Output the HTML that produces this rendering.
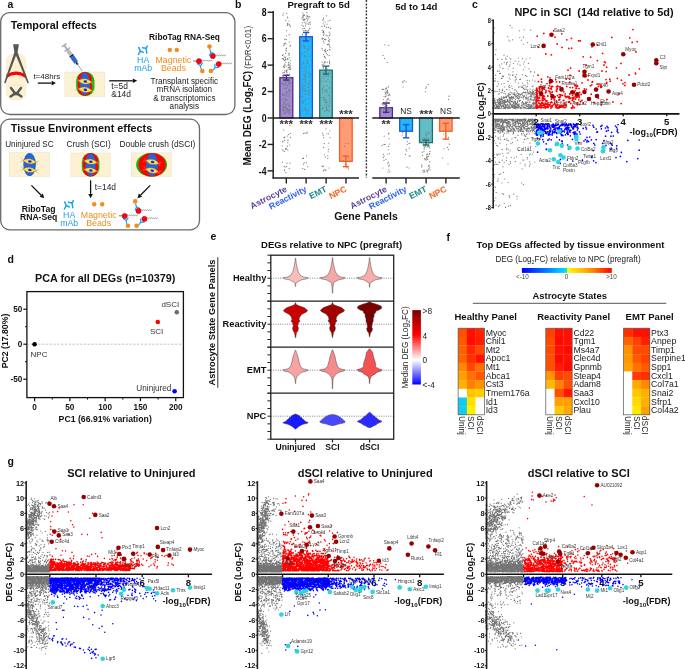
<!DOCTYPE html>
<html><head><meta charset="utf-8"><style>
html,body{margin:0;padding:0;background:#fff;}
svg{display:block;font-family:"Liberation Sans",sans-serif;will-change:transform;}
</style></head><body>
<svg width="685" height="669" viewBox="0 0 685 669">
<rect width="685" height="669" fill="#fff"/>
<text x="7.50" y="7.60" font-size="10.5" font-weight="bold" text-anchor="start" fill="#111">a</text>
<text x="235.00" y="8.00" font-size="10.5" font-weight="bold" text-anchor="start" fill="#111">b</text>
<text x="472.00" y="8.00" font-size="10.5" font-weight="bold" text-anchor="start" fill="#111">c</text>
<text x="7.50" y="262.50" font-size="10.5" font-weight="bold" text-anchor="start" fill="#111">d</text>
<text x="210.50" y="240.00" font-size="10.5" font-weight="bold" text-anchor="start" fill="#111">e</text>
<text x="446.50" y="240.50" font-size="10.5" font-weight="bold" text-anchor="start" fill="#111">f</text>
<text x="7.50" y="465.00" font-size="10.5" font-weight="bold" text-anchor="start" fill="#111">g</text>
<rect x="0.70" y="12.60" width="234.20" height="101.90" rx="9" fill="none" stroke="#6a6a6a" stroke-width="1.3"/>
<rect x="0.70" y="119.20" width="198.80" height="110.60" rx="9" fill="none" stroke="#6a6a6a" stroke-width="1.3"/>
<text x="10.80" y="28.70" font-size="10.85" font-weight="bold" text-anchor="start" fill="#111">Temporal effects</text>
<text x="10.80" y="132.30" font-size="10.85" font-weight="bold" text-anchor="start" fill="#111">Tissue Environment effects</text>
<rect x="6.30" y="54.00" width="19.70" height="45.70" rx="7" fill="#fdf1d3" stroke="#f3e4c0" stroke-width="0.4"/>
<path d="M8.5 86 Q16 83.5 23.8 86" fill="none" stroke="#ead9b5" stroke-width="0.5"/>
<g fill="none" stroke="#555" stroke-width="2.4" stroke-linecap="round"><path d="M11.0 88.0 L15.0 93.2 M21.0 88.0 L17.0 93.2 M10.6 96.6 L14.6 93.8 M21.4 96.6 L17.4 93.8"/></g>
<path d="M13.6 92.0 L18.4 92.0 L18.2 95.2 L13.8 95.2 Z" fill="#555" stroke="none" stroke-width="1"/>
<path d="M6.4 78.3 Q16 71.4 25.9 78.3 L25.9 74.6 Q16 68.2 6.4 74.6 Z" fill="#ff0000" stroke="none" stroke-width="1"/>
<path d="M13.1 44.2 L18.9 44.2 L17.6 52.4 L28.9 82.8 L27.6 83.4 L16.0 55.4 L5.4 83.4 L4.1 82.8 L14.4 52.4 Z" fill="#555555" stroke="none" stroke-width="1"/>
<text x="33.40" y="78.80" font-size="8.0" text-anchor="start" fill="#222">t=48hrs</text>
<line x1="37.80" y1="83.10" x2="51.70" y2="83.10" stroke="#111" stroke-width="1.3"/>
<polygon points="55.90,83.10 51.70,85.40 51.70,80.80" fill="#111"/>
<rect x="64.90" y="72.10" width="39.90" height="24.20" rx="0" fill="#fdf1d3" stroke="#eadfc4" stroke-width="0.5"/>
<rect x="76.10" y="71.80" width="18.40" height="24.30" rx="9" fill="#0bbd0b" stroke="none" stroke-width="1"/>
<rect x="77.70" y="72.10" width="14.20" height="23.80" rx="7.1" fill="#ff0000" stroke="none" stroke-width="1"/>
<ellipse cx="84.9" cy="83.9" rx="5.2" ry="11.3" fill="#2166d6"/>
<g transform="translate(85.10 81.40) rotate(8) scale(1.0)"><path d="M-9.4 -2.4 L-6.4 -0.2 M-9.6 1.8 L-6.4 0.2 M6.4 0.2 L9.6 -1.6 M6.4 0 L9.2 2.4" fill="none" stroke="#b8a860" stroke-width="0.55"/><path d="M-7 0 Q0 -5.4 7 0 Q0 5.4 -7 0 Z" fill="#f4e24c" stroke="#e8401a" stroke-width="0.6" stroke-dasharray="0.9 0.6"/><ellipse cx="0.3" cy="0.1" rx="1.9" ry="1.3" fill="#1a2ae0"/></g>
<g transform="translate(85.10 89.70) rotate(8) scale(1.0)"><path d="M-9.4 -2.4 L-6.4 -0.2 M-9.6 1.8 L-6.4 0.2 M6.4 0.2 L9.6 -1.6 M6.4 0 L9.2 2.4" fill="none" stroke="#b8a860" stroke-width="0.55"/><path d="M-7 0 Q0 -5.4 7 0 Q0 5.4 -7 0 Z" fill="#f4e24c" stroke="#e8401a" stroke-width="0.6" stroke-dasharray="0.9 0.6"/><ellipse cx="0.3" cy="0.1" rx="1.9" ry="1.3" fill="#1a2ae0"/></g>
<g transform="translate(82.2 71.0) rotate(-35)"><rect x="-0.3" y="-8" width="0.6" height="8" fill="#888"/><rect x="-0.9" y="-11" width="1.8" height="3.2" fill="#333"/><rect x="-2" y="-18.6" width="4" height="8" fill="#2a6ad8" stroke="#1a3a80" stroke-width="0.3"/><rect x="-2.1" y="-19.6" width="4.2" height="1.4" fill="#222"/><rect x="-2" y="-26" width="4" height="6.6" fill="#bcbcbc"/><rect x="-3.4" y="-26.8" width="6.8" height="1.2" fill="#aaa"/><rect x="-0.9" y="-31" width="1.8" height="4.4" fill="#aaa"/><rect x="-2.8" y="-32.2" width="5.6" height="1.4" fill="#aaa"/></g>
<line x1="109.20" y1="80.80" x2="132.80" y2="80.80" stroke="#111" stroke-width="1.3"/>
<polygon points="137.20,80.80 132.80,83.10 132.80,78.50" fill="#111"/>
<text x="111.30" y="89.40" font-size="8.4" text-anchor="start" fill="#222">t=5d</text>
<text x="111.30" y="97.20" font-size="8.4" text-anchor="start" fill="#222">&amp;14d</text>
<text x="184.50" y="40.30" font-size="8.3" font-weight="bold" text-anchor="middle" fill="#111">RiboTag RNA-Seq</text>
<g transform="translate(137.60 46.00)" fill="none" stroke="#1ba0f2" stroke-width="1.5" stroke-linecap="round" stroke-linejoin="round"><path d="M1.1 1.4L2.7 5.05L0.8 8.4M2.7 5.05L5.7 6.4"/><path d="M9.8 0.1L8.4 2.3L9.2 7.1M8.4 2.3L4.9 1.7"/></g>
<text x="143.20" y="63.40" font-size="8.8" text-anchor="middle" fill="#1ba0f2">HA</text>
<text x="143.20" y="71.40" font-size="8.8" text-anchor="middle" fill="#1ba0f2">mAb</text>
<circle cx="169.80" cy="49.90" r="2.2" fill="#f28c1c" stroke="none" stroke-width="0"/>
<circle cx="176.80" cy="49.90" r="2.2" fill="#f28c1c" stroke="none" stroke-width="0"/>
<text x="173.40" y="63.40" font-size="8.8" text-anchor="middle" fill="#f28c1c">Magnetic</text>
<text x="173.40" y="71.40" font-size="8.8" text-anchor="middle" fill="#f28c1c">Beads</text>
<g transform="translate(209.50 46.60)">
<line x1="-16.40" y1="14.40" x2="-12.60" y2="14.40" stroke="#222" stroke-width="0.6"/>
<path d="M-8.2 14.0 q0.5 -0.6 1 0 q0.5 0.6 1 0 q0.5 -0.6 1 0 q0.5 0.6 1 0 q0.5 -0.6 1 0 q0.5 0.6 1 0 q0.5 -0.6 1 0 q0.5 0.6 1 0 q0.5 -0.6 1 0 q0.5 0.6 1 0 q0.5 -0.6 1 0" fill="none" stroke="#555" stroke-width="0.6"/>
<path d="M5.6 8.8 q0.5 -0.6 1 0 q0.5 0.6 1 0 q0.5 -0.6 1 0 q0.5 0.6 1 0 q0.5 -0.6 1 0 q0.5 0.6 1 0 q0.5 -0.6 1 0 q0.5 0.6 1 0 q0.5 -0.6 1 0 q0.5 0.6 1 0 q0.5 -0.6 1 0" fill="none" stroke="#555" stroke-width="0.6"/>
<path d="M11.6 16.8 q0.5 -0.6 1 0 q0.5 0.6 1 0 q0.5 -0.6 1 0 q0.5 0.6 1 0 q0.5 -0.6 1 0 q0.5 0.6 1 0 q0.5 -0.6 1 0 q0.5 0.6 1 0 q0.5 -0.6 1 0 q0.5 0.6 1 0 q0.5 -0.6 1 0" fill="none" stroke="#555" stroke-width="0.6"/>
<g transform="translate(1.40 5.60) rotate(160) scale(0.9)"><path d="M0 3.2V0L-2.6 -2.6M0 0L2.6 -2.6" fill="none" stroke="#1ba0f2" stroke-width="1.3" stroke-linecap="round" stroke-linejoin="round"/></g>
<g transform="translate(-9.00 19.20) rotate(-10) scale(0.9)"><path d="M0 3.2V0L-2.6 -2.6M0 0L2.6 -2.6" fill="none" stroke="#1ba0f2" stroke-width="1.3" stroke-linecap="round" stroke-linejoin="round"/></g>
<g transform="translate(5.60 21.00) rotate(40) scale(0.9)"><path d="M0 3.2V0L-2.6 -2.6M0 0L2.6 -2.6" fill="none" stroke="#1ba0f2" stroke-width="1.3" stroke-linecap="round" stroke-linejoin="round"/></g>
<circle cx="0.00" cy="0.00" r="2.3" fill="#f28c1c" stroke="none" stroke-width="0"/>
<circle cx="-7.20" cy="24.40" r="2.3" fill="#f28c1c" stroke="none" stroke-width="0"/>
<circle cx="1.40" cy="24.40" r="2.3" fill="#f28c1c" stroke="none" stroke-width="0"/>
<circle cx="3.30" cy="9.50" r="2.6" fill="#ff0010" stroke="#b00010" stroke-width="0.5"/>
<circle cx="-10.50" cy="14.60" r="2.6" fill="#ff0010" stroke="#b00010" stroke-width="0.5"/>
<circle cx="9.20" cy="17.50" r="2.6" fill="#ff0010" stroke="#b00010" stroke-width="0.5"/>
</g>
<text x="184.30" y="84.20" font-size="8.15" text-anchor="middle" fill="#222">Transplant specific</text>
<text x="184.30" y="92.40" font-size="8.15" text-anchor="middle" fill="#222">mRNA isolation</text>
<text x="184.30" y="100.60" font-size="8.15" text-anchor="middle" fill="#222">&amp; transcriptomics</text>
<text x="184.30" y="108.80" font-size="8.15" text-anchor="middle" fill="#222">analysis</text>
<text x="29.35" y="146.60" font-size="8.15" text-anchor="middle" fill="#222">Uninjured SC</text>
<text x="88.60" y="146.80" font-size="8.4" text-anchor="middle" fill="#222">Crush (SCI)</text>
<text x="157.40" y="146.80" font-size="8.4" text-anchor="middle" fill="#222">Double crush (dSCI)</text>
<rect x="9.30" y="152.50" width="40.00" height="23.90" rx="0" fill="#fdf1d3" stroke="#eadfc4" stroke-width="0.5"/>
<ellipse cx="29.6" cy="164.5" rx="6.3" ry="11.6" fill="#2166d6"/>
<g transform="translate(29.60 161.30) rotate(8) scale(0.95)"><path d="M-9.4 -2.4 L-6.4 -0.2 M-9.6 1.8 L-6.4 0.2 M6.4 0.2 L9.6 -1.6 M6.4 0 L9.2 2.4" fill="none" stroke="#b8a860" stroke-width="0.55"/><path d="M-7 0 Q0 -5.4 7 0 Q0 5.4 -7 0 Z" fill="#f4e24c" stroke="#e8401a" stroke-width="0.6" stroke-dasharray="0.9 0.6"/><ellipse cx="0.3" cy="0.1" rx="1.9" ry="1.3" fill="#1a2ae0"/></g>
<g transform="translate(29.60 169.90) rotate(8) scale(0.95)"><path d="M-9.4 -2.4 L-6.4 -0.2 M-9.6 1.8 L-6.4 0.2 M6.4 0.2 L9.6 -1.6 M6.4 0 L9.2 2.4" fill="none" stroke="#b8a860" stroke-width="0.55"/><path d="M-7 0 Q0 -5.4 7 0 Q0 5.4 -7 0 Z" fill="#f4e24c" stroke="#e8401a" stroke-width="0.6" stroke-dasharray="0.9 0.6"/><ellipse cx="0.3" cy="0.1" rx="1.9" ry="1.3" fill="#1a2ae0"/></g>
<rect x="70.90" y="153.00" width="39.40" height="23.70" rx="0" fill="#fdf1d3" stroke="#eadfc4" stroke-width="0.5"/>
<rect x="81.80" y="152.90" width="17.60" height="23.80" rx="8.8" fill="#0bbd0b" stroke="none" stroke-width="1"/>
<rect x="83.00" y="153.10" width="15.20" height="23.40" rx="7.6" fill="#ff0000" stroke="none" stroke-width="1"/>
<ellipse cx="90.6" cy="164.8" rx="5.2" ry="11.4" fill="#2166d6"/>
<g transform="translate(90.60 161.70) rotate(8) scale(0.95)"><path d="M-9.4 -2.4 L-6.4 -0.2 M-9.6 1.8 L-6.4 0.2 M6.4 0.2 L9.6 -1.6 M6.4 0 L9.2 2.4" fill="none" stroke="#b8a860" stroke-width="0.55"/><path d="M-7 0 Q0 -5.4 7 0 Q0 5.4 -7 0 Z" fill="#f4e24c" stroke="#e8401a" stroke-width="0.6" stroke-dasharray="0.9 0.6"/><ellipse cx="0.3" cy="0.1" rx="1.9" ry="1.3" fill="#1a2ae0"/></g>
<g transform="translate(90.60 170.30) rotate(8) scale(0.95)"><path d="M-9.4 -2.4 L-6.4 -0.2 M-9.6 1.8 L-6.4 0.2 M6.4 0.2 L9.6 -1.6 M6.4 0 L9.2 2.4" fill="none" stroke="#b8a860" stroke-width="0.55"/><path d="M-7 0 Q0 -5.4 7 0 Q0 5.4 -7 0 Z" fill="#f4e24c" stroke="#e8401a" stroke-width="0.6" stroke-dasharray="0.9 0.6"/><ellipse cx="0.3" cy="0.1" rx="1.9" ry="1.3" fill="#1a2ae0"/></g>
<rect x="131.30" y="152.90" width="40.20" height="23.50" rx="0" fill="#fdf1d3" stroke="#eadfc4" stroke-width="0.5"/>
<ellipse cx="151.6" cy="164.8" rx="15.5" ry="11.8" fill="#0bbd0b"/>
<ellipse cx="152.0" cy="164.8" rx="13.7" ry="11.8" fill="#ff0000"/>
<ellipse cx="152.0" cy="164.8" rx="6.0" ry="11.4" fill="#2166d6"/>
<g transform="translate(152.30 161.90) rotate(13) scale(0.95)"><path d="M-9.4 -2.4 L-6.4 -0.2 M-9.6 1.8 L-6.4 0.2 M6.4 0.2 L9.6 -1.6 M6.4 0 L9.2 2.4" fill="none" stroke="#b8a860" stroke-width="0.55"/><path d="M-7 0 Q0 -5.4 7 0 Q0 5.4 -7 0 Z" fill="#f4e24c" stroke="#e8401a" stroke-width="0.6" stroke-dasharray="0.9 0.6"/><ellipse cx="0.3" cy="0.1" rx="1.9" ry="1.3" fill="#1a2ae0"/></g>
<g transform="translate(152.00 170.50) rotate(13) scale(0.95)"><path d="M-9.4 -2.4 L-6.4 -0.2 M-9.6 1.8 L-6.4 0.2 M6.4 0.2 L9.6 -1.6 M6.4 0 L9.2 2.4" fill="none" stroke="#b8a860" stroke-width="0.55"/><path d="M-7 0 Q0 -5.4 7 0 Q0 5.4 -7 0 Z" fill="#f4e24c" stroke="#e8401a" stroke-width="0.6" stroke-dasharray="0.9 0.6"/><ellipse cx="0.3" cy="0.1" rx="1.9" ry="1.3" fill="#1a2ae0"/></g>
<line x1="31.40" y1="185.40" x2="41.19" y2="195.19" stroke="#111" stroke-width="1.3"/>
<polygon points="44.30,198.30 39.56,196.82 42.82,193.56" fill="#111"/>
<line x1="90.60" y1="180.30" x2="90.60" y2="193.90" stroke="#111" stroke-width="1.3"/>
<polygon points="90.60,198.30 88.30,193.90 92.90,193.90" fill="#111"/>
<text x="94.80" y="189.90" font-size="8.4" text-anchor="start" fill="#222">t=14d</text>
<line x1="150.20" y1="185.40" x2="140.50" y2="195.18" stroke="#111" stroke-width="1.3"/>
<polygon points="137.40,198.30 138.87,193.56 142.13,196.80" fill="#111"/>
<text x="38.60" y="212.30" font-size="8.6" font-weight="bold" text-anchor="middle" fill="#111">RiboTag</text>
<text x="38.60" y="219.90" font-size="8.6" font-weight="bold" text-anchor="middle" fill="#111">RNA-Seq</text>
<g transform="translate(63.60 200.60)" fill="none" stroke="#1ba0f2" stroke-width="1.5" stroke-linecap="round" stroke-linejoin="round"><path d="M1.1 1.4L2.7 5.05L0.8 8.4M2.7 5.05L5.7 6.4"/><path d="M9.8 0.1L8.4 2.3L9.2 7.1M8.4 2.3L4.9 1.7"/></g>
<text x="69.20" y="217.70" font-size="8.8" text-anchor="middle" fill="#1ba0f2">HA</text>
<text x="69.20" y="225.60" font-size="8.8" text-anchor="middle" fill="#1ba0f2">mAb</text>
<circle cx="94.20" cy="204.20" r="2.2" fill="#f28c1c" stroke="none" stroke-width="0"/>
<circle cx="102.20" cy="204.20" r="2.2" fill="#f28c1c" stroke="none" stroke-width="0"/>
<text x="98.70" y="217.70" font-size="8.8" text-anchor="middle" fill="#f28c1c">Magnetic</text>
<text x="98.70" y="225.60" font-size="8.8" text-anchor="middle" fill="#f28c1c">Beads</text>
<g transform="translate(135.20 201.40)">
<line x1="-16.40" y1="14.40" x2="-12.60" y2="14.40" stroke="#222" stroke-width="0.6"/>
<path d="M-8.2 14.0 q0.5 -0.6 1 0 q0.5 0.6 1 0 q0.5 -0.6 1 0 q0.5 0.6 1 0 q0.5 -0.6 1 0 q0.5 0.6 1 0 q0.5 -0.6 1 0 q0.5 0.6 1 0 q0.5 -0.6 1 0 q0.5 0.6 1 0 q0.5 -0.6 1 0" fill="none" stroke="#555" stroke-width="0.6"/>
<path d="M5.6 8.8 q0.5 -0.6 1 0 q0.5 0.6 1 0 q0.5 -0.6 1 0 q0.5 0.6 1 0 q0.5 -0.6 1 0 q0.5 0.6 1 0 q0.5 -0.6 1 0 q0.5 0.6 1 0 q0.5 -0.6 1 0 q0.5 0.6 1 0 q0.5 -0.6 1 0" fill="none" stroke="#555" stroke-width="0.6"/>
<path d="M11.6 16.8 q0.5 -0.6 1 0 q0.5 0.6 1 0 q0.5 -0.6 1 0 q0.5 0.6 1 0 q0.5 -0.6 1 0 q0.5 0.6 1 0 q0.5 -0.6 1 0 q0.5 0.6 1 0 q0.5 -0.6 1 0 q0.5 0.6 1 0 q0.5 -0.6 1 0" fill="none" stroke="#555" stroke-width="0.6"/>
<g transform="translate(1.40 5.60) rotate(160) scale(0.9)"><path d="M0 3.2V0L-2.6 -2.6M0 0L2.6 -2.6" fill="none" stroke="#1ba0f2" stroke-width="1.3" stroke-linecap="round" stroke-linejoin="round"/></g>
<g transform="translate(-9.00 19.20) rotate(-10) scale(0.9)"><path d="M0 3.2V0L-2.6 -2.6M0 0L2.6 -2.6" fill="none" stroke="#1ba0f2" stroke-width="1.3" stroke-linecap="round" stroke-linejoin="round"/></g>
<g transform="translate(5.60 21.00) rotate(40) scale(0.9)"><path d="M0 3.2V0L-2.6 -2.6M0 0L2.6 -2.6" fill="none" stroke="#1ba0f2" stroke-width="1.3" stroke-linecap="round" stroke-linejoin="round"/></g>
<circle cx="0.00" cy="0.00" r="2.3" fill="#f28c1c" stroke="none" stroke-width="0"/>
<circle cx="-7.20" cy="24.40" r="2.3" fill="#f28c1c" stroke="none" stroke-width="0"/>
<circle cx="1.40" cy="24.40" r="2.3" fill="#f28c1c" stroke="none" stroke-width="0"/>
<circle cx="3.30" cy="9.50" r="2.6" fill="#ff0010" stroke="#b00010" stroke-width="0.5"/>
<circle cx="-10.50" cy="14.60" r="2.6" fill="#ff0010" stroke="#b00010" stroke-width="0.5"/>
<circle cx="9.20" cy="17.50" r="2.6" fill="#ff0010" stroke="#b00010" stroke-width="0.5"/>
</g>
<text x="318.60" y="8.20" font-size="9.6" font-weight="bold" text-anchor="middle" fill="#111">Pregraft to 5d</text>
<text x="416.30" y="9.90" font-size="9.6" font-weight="bold" text-anchor="middle" fill="#111">5d to 14d</text>
<text transform="translate(250.6 165.6) rotate(-90)" font-size="10" fill="#111"><tspan font-weight="bold">Mean DEG (Log</tspan><tspan font-weight="bold" font-size="6.5" dy="2.2">2</tspan><tspan font-weight="bold" dy="-2.2">FC)</tspan><tspan font-size="8.2" dx="2" fill="#333">(FDR&lt;0.01)</tspan></text>
<line x1="273.20" y1="11.00" x2="273.20" y2="178.60" stroke="#222" stroke-width="1.5"/>
<line x1="267.60" y1="12.24" x2="273.20" y2="12.24" stroke="#222" stroke-width="1.4"/>
<text transform="translate(266.60 15.94) scale(0.82 1)" font-size="10.6" font-weight="bold" text-anchor="end" fill="#111">8</text>
<line x1="267.60" y1="38.68" x2="273.20" y2="38.68" stroke="#222" stroke-width="1.4"/>
<text transform="translate(266.60 42.38) scale(0.82 1)" font-size="10.6" font-weight="bold" text-anchor="end" fill="#111">6</text>
<line x1="267.60" y1="65.12" x2="273.20" y2="65.12" stroke="#222" stroke-width="1.4"/>
<text transform="translate(266.60 68.82) scale(0.82 1)" font-size="10.6" font-weight="bold" text-anchor="end" fill="#111">4</text>
<line x1="267.60" y1="91.56" x2="273.20" y2="91.56" stroke="#222" stroke-width="1.4"/>
<text transform="translate(266.60 95.26) scale(0.82 1)" font-size="10.6" font-weight="bold" text-anchor="end" fill="#111">2</text>
<line x1="267.60" y1="118.00" x2="273.20" y2="118.00" stroke="#222" stroke-width="1.4"/>
<text transform="translate(266.60 121.70) scale(0.82 1)" font-size="10.6" font-weight="bold" text-anchor="end" fill="#111">0</text>
<line x1="267.60" y1="144.44" x2="273.20" y2="144.44" stroke="#222" stroke-width="1.4"/>
<text transform="translate(266.60 148.14) scale(0.82 1)" font-size="10.6" font-weight="bold" text-anchor="end" fill="#111">-2</text>
<line x1="267.60" y1="170.88" x2="273.20" y2="170.88" stroke="#222" stroke-width="1.4"/>
<text transform="translate(266.60 174.58) scale(0.82 1)" font-size="10.6" font-weight="bold" text-anchor="end" fill="#111">-4</text>
<line x1="272.50" y1="178.00" x2="359.00" y2="178.00" stroke="#222" stroke-width="1.5"/>
<line x1="372.30" y1="178.00" x2="459.80" y2="178.00" stroke="#222" stroke-width="1.5"/>
<line x1="286.30" y1="178.00" x2="286.30" y2="183.60" stroke="#222" stroke-width="1.4"/>
<line x1="306.10" y1="178.00" x2="306.10" y2="183.60" stroke="#222" stroke-width="1.4"/>
<line x1="326.10" y1="178.00" x2="326.10" y2="183.60" stroke="#222" stroke-width="1.4"/>
<line x1="346.00" y1="178.00" x2="346.00" y2="183.60" stroke="#222" stroke-width="1.4"/>
<line x1="386.10" y1="178.00" x2="386.10" y2="183.60" stroke="#222" stroke-width="1.4"/>
<line x1="406.00" y1="178.00" x2="406.00" y2="183.60" stroke="#222" stroke-width="1.4"/>
<line x1="426.10" y1="178.00" x2="426.10" y2="183.60" stroke="#222" stroke-width="1.4"/>
<line x1="445.90" y1="178.00" x2="445.90" y2="183.60" stroke="#222" stroke-width="1.4"/>
<line x1="366.40" y1="0.00" x2="366.40" y2="177.50" stroke="#333" stroke-width="1.4" stroke-dasharray="2 1.4"/>
<rect x="279.90" y="77.68" width="12.90" height="40.32" rx="0" fill="#a18ad8" stroke="#4b2a8a" stroke-width="1.3"/>
<rect x="299.70" y="36.70" width="12.70" height="81.30" rx="0" fill="#1fb8fb" stroke="#1a55e6" stroke-width="1.3"/>
<rect x="319.70" y="70.14" width="12.60" height="47.86" rx="0" fill="#62bec6" stroke="#1c6f74" stroke-width="1.3"/>
<rect x="339.60" y="118.00" width="12.60" height="43.36" rx="0" fill="#ff9c76" stroke="#ff5b1f" stroke-width="1.3"/>
<rect x="379.80" y="107.69" width="12.60" height="10.31" rx="0" fill="#a18ad8" stroke="#4b2a8a" stroke-width="1.3"/>
<rect x="399.70" y="118.00" width="12.80" height="13.22" rx="0" fill="#1fb8fb" stroke="#1a55e6" stroke-width="1.3"/>
<rect x="419.50" y="118.00" width="12.90" height="24.59" rx="0" fill="#62bec6" stroke="#1c6f74" stroke-width="1.3"/>
<rect x="439.60" y="118.00" width="12.50" height="13.22" rx="0" fill="#ff9c76" stroke="#ff5b1f" stroke-width="1.3"/>
<path transform="scale(0.2)" d="M1417 65h0m17 2h0m5 23h0m-2-5h0m-22-9h0m14 26h0m9 15h0m0 6h0m7-2h0m0-16h0m7 26h0m-4-6h0m-11 2h0m-4 27h0m13 19h0m0 2h0m-14 23h0m0-19h0m-7 16h0m-1 3h0m-3 25h0m0-5h0m5-2h0m4 4h0m16-11h0m5 18h0m0 4h0m-19 10h0m-1 2h0m-13-15h0m-2 46h0m12-8h0m1-15h0m4 4h0m9 15h0m4-3h0m0 22h0m0-13h0m-6 23h0m-2-7h0m0 2h0m-8 4h0m-3-4h0m0-8h0m-1 13h0m-4-14h0m-5 13h0m-1-6h0m-3 1h0m-1-16h0m10 25h0m2 19h0m5-10h0m15 3h0m0 8h0m0-10h0m1 1h0m6 6h0m1-15h0m0 25h0m0 11h0m0 6h0m-2-15h0m-2 16h0m-1-10h0m-2-9h0m-3 10h0m-2 6h0m0-19h0m-9 6h0m-8-5h0m0 11h0m-1 0h0m-2-2h0m-2 0h0m-1-4h0m-5 34h0m6-1h0m5-1h0m0-9h0m8 3h0m1-6h0m2 13h0m0-2h0m1-9h0m1 20h0m12-2h0m4 15h0m-1 6h0m-2 1h0m-5-8h0m0 5h0m-12 6h0m0-3h0m-3-16h0m0-2h0m-3 14h0m-9 7h0m0-13h0m-3 2h0m-1-7h0m-1 38h0m0 5h0m1-7h0m4 6h0m4 0h0m1-17h0m3 21h0m1-6h0m1-12h0m2 7h0m1-8h0m7 19h0m3-16h0m3 11h0m0-8h0m1 1h0m4 9h0m0-7h0m1-10h0m1 16h0m0-9h0m0 2h0m2 7h0m-2 14h0m-3 13h0m-7-22h0m-1 10h0m-6-7h0m0 14h0m-2-4h0m-6 3h0m-2 0h0m-5 4h0m0-17h0m-6 41h0m0 3h0m1 2h0m3-7h0m6 6h0m6-14h0m2 11h0m1-13h0m3 14h0m1-6h0m4-4h0m4-10h0m2-1h0m2 9h0m1 9h0m1-17h0m0-1h0m2 6h0m-6 26h0m-1-6h0m-4 21h0m-5-16h0m-2-3h0m-5 13h0m0 5h0m-2 0h0m-1 2h0m-1-17h0m-1 18h0m-3-23h0m-3 2h0m-1 15h0m0 1h0m-5 5h0m5 23h0m2-11h0m1 3h0m1 6h0m0-12h0m2-8h0m2 15h0m5 9h0m2-20h0m0 17h0m1-15h0m3 13h0m0-18h0m0 1h0m8 21h0m1-4h0m7-11h0m-2 25h0m0-5h0m-2 18h0m-2-17h0m-4-3h0m-2 23h0m-1-3h0m-1-5h0m-3-1h0m-3-13h0m-1 20h0m-1-11h0m-3 5h0m-4-1h0m-1-7h0m-1 2h0m-2 4h0m-1-5h0m-1-5h0m-1 17h0m-2-1h0m-2-12h0m3 19h0m1-2h0m2 20h0m2-17h0m0 3h0m2-6h0m1 12h0m3 3h0m3 4h0m1-9h0m1 4h0m2-10h0m7 5h0m1-6h0m3 0h0m0 6h0m1 10h0m3-6h0m0-12h0m3-1h0m1 14h0m1-12h0m-2 76h0m-31 21h0m23 24h0m9-6h0m1 20h0m-15-7h0m-13 6h0m-3 1h0m-2 2h0m-5 17h0m0 4h0m9-8h0m16 12h0m1-13h0m0 2h0m8 22h0m-11 6h0m-4 14h0m-3-4h0m-3 6h0m-16 1h0m0-19h0m5 25h0m6 4h0m17-8h0m-27 61h0m23 5h0m15 0h0m-4 26h0m-13-9h0m-7 2h0m-4 14h0m-1-17h0m1 21h0m8 10h0" fill="none" stroke="#7c7c7c" stroke-width="6.0" stroke-linecap="round"/>
<path transform="scale(0.2)" d="M1514 66h0m6 7h0m14-11h0m15 21h0m-4 2h0m-5 6h0m-1 8h0m0-18h0m-3 1h0m-1 1h0m-1-8h0m-2 16h0m-7 6h0m-2-1h0m-1-19h0m-2-2h0m-2 4h0m-1 19h0m-2-13h0m0 13h0m0-20h0m-1 6h0m0 5h0m-4 1h0m1 24h0m9-12h0m1 9h0m8 3h0m0 6h0m7-16h0m3 15h0m4 1h0m3-7h0m5-4h0m0 12h0m-3 21h0m-20-13h0m-6 13h0m-4-11h0m-4 12h0m-4-17h0m3 46h0m6-19h0m8-1h0m4 1h0m6 6h0m3 5h0m0-2h0m2-11h0m3-1h0m6 47h0m-4-7h0m-2-1h0m-9-2h0m-8 10h0m-1-8h0m-9 6h0m-7-5h0m0-10h0m0 24h0m7 19h0m10-14h0m21 23h0m-1 17h0m0-18h0m-7 10h0m-2 5h0m-14-14h0m-3 4h0m0 6h0m-8-10h0m-5 39h0m1-7h0m13-3h0m15-7h0m9 26h0m-21 7h0m-1-5h0m-2-6h0m-13 47h0m7-13h0m0 8h0m1-1h0m0-4h0m1-1h0m15-9h0m2 11h0m2-10h0m0 13h0m6 12h0m-12 8h0m-8-7h0m-2 11h0m-7 0h0m4 32h0m1-17h0m0 17h0m8-6h0m2-16h0m1 9h0m12 1h0m5 10h0m3-2h0m-2 11h0m-1 0h0m-4 9h0m-17-2h0m0 11h0m-1-17h0m-3-3h0m0 2h0m-2 18h0m-8-2h0m-3 18h0m1 10h0m10-15h0m3-1h0m5 9h0m11 2h0m5-10h0m4 11h0m1-16h0m-1 21h0m-7 13h0m-3-1h0m-15-9h0m-4 15h0m0 5h0m0-16h0m0 12h0m-7-9h0m-1 9h0m-1-14h0m0 25h0m2 17h0m7-21h0m5 21h0m2-15h0m0-6h0m2 0h0m12 6h0m0 13h0m6-18h0m0 12h0m1-12h0m2 10h0m-1 14h0m-3 16h0m-20 4h0m-2 3h0m-8-14h0m-5 13h0m-2-14h0m3 29h0m4 2h0m1-6h0m3-4h0m10 16h0m14-3h0m-15 27h0m-3-5h0m-5-1h0m-9 13h0m10-2h0m8 18h0m2-15h0m7 1h0m2 15h0m0-1h0m1-18h0m-24 117h0m7-1h0m9 0h0m1-5h0m-3 118h0m-14 13h0m-1-2h0m-4 3h0m5 28h0m3-8h0m11 1h0m6 20h0m-15 13h0m-9-5h0" fill="none" stroke="#7c7c7c" stroke-width="6.0" stroke-linecap="round"/>
<path transform="scale(0.2)" d="M1633 79h0m-15 12h0m-3 7h0m0 5h0m1 12h0m5 9h0m4-14h0m10 11h0m5-16h0m10-3h0m1 38h0m0 3h0m-9-6h0m-10-1h0m-9-4h0m-13 0h0m4 20h0m1 11h0m1-4h0m0 5h0m1-7h0m3 15h0m0-11h0m26 0h0m4 8h0m-1 29h0m-1-21h0m-6 12h0m-3-10h0m-8-3h0m-2 21h0m-1 2h0m-5-2h0m-5-19h0m-2 14h0m-5-1h0m0 7h0m7 8h0m2 8h0m16 9h0m4-2h0m2-18h0m1 1h0m2 18h0m0-2h0m2-13h0m3 41h0m0-12h0m-3 12h0m0-19h0m-19 16h0m-18-3h0m2 8h0m6 23h0m4-19h0m2-4h0m2 3h0m1 7h0m2-4h0m3 12h0m5 6h0m1-21h0m8 24h0m-19 13h0m-3-4h0m-2-4h0m-11 42h0m0-13h0m0-1h0m8 11h0m3-8h0m3-6h0m0 7h0m11-2h0m11-2h0m1-5h0m0 10h0m1 5h0m-5 10h0m-5 16h0m-12-5h0m-10-5h0m-1-1h0m0 9h0m-3-15h0m6 32h0m1 2h0m13-9h0m4-2h0m6 0h0m2 10h0m1-1h0m-3 21h0m-2 1h0m-1 12h0m-10-17h0m-4 7h0m-9-4h0m-2 10h0m-6 15h0m13 2h0m11-2h0m16 3h0m-2 28h0m0 5h0m-11-13h0m-2 20h0m-15-18h0m-4 8h0m-2 9h0m-2-3h0m3 17h0m6-6h0m6-4h0m9 9h0m0-6h0m15 8h0m-2 16h0m0 13h0m-6-16h0m-15 19h0m-6-8h0m-2 11h0m0-5h0m-9-6h0m14 19h0m4 7h0m2-9h0m1-3h0m4 13h0m1-3h0m11 8h0m1-14h0m3 1h0m-5 28h0m-4-5h0m-7 17h0m-1-21h0m-1 12h0m-2-1h0m-7-11h0m-7 14h0m-2 2h0m-4 2h0m13 13h0m8-6h0m0 1h0m4 0h0m8 3h0m3 0h0m-17 90h0m-17 22h0m22 3h0m8 0h0m6-14h0m1 33h0m-32 1h0m-2-13h0m5 41h0m23-1h0m-2 31h0m-24-10h0m4 37h0m19-15h0m-2 34h0m0-14h0m-12 6h0m18 55h0m-19 8h0m-8-17h0m-5 2h0m-3-3h0m7 24h0m3-4h0m10 3h0" fill="none" stroke="#7c7c7c" stroke-width="6.0" stroke-linecap="round"/>
<path transform="scale(0.2)" d="M1729 718h0m13 0h0m-19 14h0m20 58h0m-18-11h0m-7 24h0m11 20h0m19-15h0m-6 36h0m-7-6h0" fill="none" stroke="#7c7c7c" stroke-width="6.0" stroke-linecap="round"/>
<path transform="scale(0.2)" d="M1924 224h0m20 3h0m-22 65h0m-7-15h0m21 36h0m7 121h0m-3 1h0m-8 5h0m-1 5h0m0-5h0m-3 4h0m-9 3h0m-6 0h0m-2 0h0m15 15h0m2 6h0m3 6h0m0-19h0m3 8h0m2-5h0m1 8h0m1-14h0m1 11h0m0-1h0m6 11h0m1-3h0m3 6h0m-8 20h0m0-18h0m0 12h0m-1 5h0m-4 4h0m-7-17h0m0-1h0m-2 3h0m-7-1h0m-4 15h0m-5 18h0m1 5h0m6-5h0m1-4h0m2 9h0m2 1h0m6-11h0m4-6h0m6 7h0m2 2h0m1 2h0m1-1h0m4 3h0m2-5h0m1-11h0m0 37h0m-5 10h0m-2-9h0m-1 8h0m-1-9h0m-3 2h0m-1 4h0m-1-2h0m0-16h0m-7 11h0m-1 9h0m-2-15h0m-3 4h0m-1 8h0m-1-2h0m-4-17h0m-1 24h0m2 6h0m8 1h0m1 1h0m0 11h0m2-15h0m3 12h0m2-9h0m1-6h0m7 2h0m8 4h0m1-3h0m-9 116h0m1 1h0m2-5h0m0 29h0m-24-13h0m-1 41h0m5 0h0m22-2h0m-5 12h0m-1 17h0m-31-22h0m7 44h0m19-1h0m11-2h0m-17 29h0m-10-16h0m-4 7h0m4 14h0m19 17h0m3-7h0m5 13h0m-3 24h0m0-18h0m-29 9h0m25 20h0m9-1h0" fill="none" stroke="#7c7c7c" stroke-width="6.0" stroke-linecap="round"/>
<path transform="scale(0.2)" d="M2012 409h0m4 2h0m5-8h0m9 6h0m-15 26h0m-2 228h0m-2 12h0m25 48h0m0-15h0m9 10h0m4-3h0m-3 26h0m-16 6h0m-3 25h0m6-17h0m18 25h0m-5-1h0m-1 61h0m-10-4h0" fill="none" stroke="#7c7c7c" stroke-width="6.0" stroke-linecap="round"/>
<path transform="scale(0.2)" d="M2141 422h0m-9 12h0m-3 7h0m-2 18h0m1 214h0m1-13h0m5 12h0m8-5h0m2-6h0m-2 31h0m-8-17h0m-1 20h0m-1-15h0m-6 11h0m-5 1h0m0 4h0m-9-2h0m-3 20h0m3-3h0m1-6h0m4 6h0m1 10h0m1-7h0m9 10h0m6-6h0m10-1h0m1-2h0m2-13h0m1 28h0m0 10h0m-2-2h0m-4-11h0m0 4h0m0-5h0m-3 6h0m-4 3h0m-9-3h0m-2-5h0m-2 11h0m-1 7h0m-1 1h0m-2-17h0m-7 32h0m9-3h0m13 16h0m4-3h0m9 2h0m2-6h0m2-10h0m-8 25h0m-3 15h0m-1-13h0m-2 3h0m-2 6h0m-1-7h0m-6 10h0m-1 3h0m-4-6h0m-9-16h0m-3 47h0m23-24h0m16 9h0m1 40h0m-1-13h0m-4 7h0m0-16h0m-3 4h0m-33-1h0m0 5h0m5 18h0m3 7h0m3 1h0m1-10h0m4 7h0m8-8h0m3 8h0m1 2h0m2-7h0m2-2h0" fill="none" stroke="#7c7c7c" stroke-width="6.0" stroke-linecap="round"/>
<path transform="scale(0.2)" d="M2246 481h0m-1 0h0m-2 16h0m-25 173h0m24 17h0m5 34h0m-5 27h0m-5-11h0m-17 7h0m-8 46h0m28 30h0" fill="none" stroke="#7c7c7c" stroke-width="6.0" stroke-linecap="round"/>
<line x1="286.35" y1="75.30" x2="286.35" y2="80.06" stroke="#4b2a8a" stroke-width="1.4"/>
<line x1="283.15" y1="75.30" x2="289.55" y2="75.30" stroke="#4b2a8a" stroke-width="1.4"/>
<line x1="283.15" y1="80.06" x2="289.55" y2="80.06" stroke="#4b2a8a" stroke-width="1.4"/>
<line x1="306.05" y1="32.47" x2="306.05" y2="40.93" stroke="#1a55e6" stroke-width="1.4"/>
<line x1="302.85" y1="32.47" x2="309.25" y2="32.47" stroke="#1a55e6" stroke-width="1.4"/>
<line x1="302.85" y1="40.93" x2="309.25" y2="40.93" stroke="#1a55e6" stroke-width="1.4"/>
<line x1="326.00" y1="66.18" x2="326.00" y2="74.11" stroke="#1c6f74" stroke-width="1.4"/>
<line x1="322.80" y1="66.18" x2="329.20" y2="66.18" stroke="#1c6f74" stroke-width="1.4"/>
<line x1="322.80" y1="74.11" x2="329.20" y2="74.11" stroke="#1c6f74" stroke-width="1.4"/>
<line x1="345.90" y1="156.07" x2="345.90" y2="166.65" stroke="#ff5b1f" stroke-width="1.4"/>
<line x1="342.70" y1="156.07" x2="349.10" y2="156.07" stroke="#ff5b1f" stroke-width="1.4"/>
<line x1="342.70" y1="166.65" x2="349.10" y2="166.65" stroke="#ff5b1f" stroke-width="1.4"/>
<line x1="386.10" y1="103.06" x2="386.10" y2="112.32" stroke="#4b2a8a" stroke-width="1.4"/>
<line x1="382.90" y1="103.06" x2="389.30" y2="103.06" stroke="#4b2a8a" stroke-width="1.4"/>
<line x1="382.90" y1="112.32" x2="389.30" y2="112.32" stroke="#4b2a8a" stroke-width="1.4"/>
<line x1="406.10" y1="124.61" x2="406.10" y2="137.83" stroke="#1a55e6" stroke-width="1.4"/>
<line x1="402.90" y1="124.61" x2="409.30" y2="124.61" stroke="#1a55e6" stroke-width="1.4"/>
<line x1="402.90" y1="137.83" x2="409.30" y2="137.83" stroke="#1a55e6" stroke-width="1.4"/>
<line x1="425.95" y1="140.21" x2="425.95" y2="144.97" stroke="#1c6f74" stroke-width="1.4"/>
<line x1="422.75" y1="140.21" x2="429.15" y2="140.21" stroke="#1c6f74" stroke-width="1.4"/>
<line x1="422.75" y1="144.97" x2="429.15" y2="144.97" stroke="#1c6f74" stroke-width="1.4"/>
<line x1="445.85" y1="123.29" x2="445.85" y2="139.15" stroke="#ff5b1f" stroke-width="1.4"/>
<line x1="442.65" y1="123.29" x2="449.05" y2="123.29" stroke="#ff5b1f" stroke-width="1.4"/>
<line x1="442.65" y1="139.15" x2="449.05" y2="139.15" stroke="#ff5b1f" stroke-width="1.4"/>
<line x1="273.20" y1="118.00" x2="359.00" y2="118.00" stroke="#1a1a1a" stroke-width="1.6"/>
<line x1="372.30" y1="118.00" x2="459.80" y2="118.00" stroke="#1a1a1a" stroke-width="1.6"/>
<text x="286.30" y="127.60" font-size="11.5" font-weight="bold" text-anchor="middle" fill="#333">***</text>
<text x="306.10" y="127.60" font-size="11.5" font-weight="bold" text-anchor="middle" fill="#333">***</text>
<text x="326.10" y="127.60" font-size="11.5" font-weight="bold" text-anchor="middle" fill="#333">***</text>
<text x="346.00" y="118.00" font-size="11.5" font-weight="bold" text-anchor="middle" fill="#333">***</text>
<text x="386.10" y="127.60" font-size="11.5" font-weight="bold" text-anchor="middle" fill="#333">**</text>
<text x="406.10" y="114.00" font-size="8.4" text-anchor="middle" fill="#222">NS</text>
<text x="426.10" y="118.00" font-size="11.5" font-weight="bold" text-anchor="middle" fill="#333">***</text>
<text x="445.90" y="114.00" font-size="8.4" text-anchor="middle" fill="#222">NS</text>
<text x="287.60" y="191.00" font-size="8.7" font-weight="bold" text-anchor="end" fill="#5b3f98" transform="rotate(-27 287.60 191.00)">Astrocyte</text>
<text x="307.40" y="191.00" font-size="8.7" font-weight="bold" text-anchor="end" fill="#2d62ee" transform="rotate(-27 307.40 191.00)">Reactivity</text>
<text x="327.40" y="191.00" font-size="8.7" font-weight="bold" text-anchor="end" fill="#1b8585" transform="rotate(-27 327.40 191.00)">EMT</text>
<text x="347.30" y="191.00" font-size="8.7" font-weight="bold" text-anchor="end" fill="#ff5f18" transform="rotate(-27 347.30 191.00)">NPC</text>
<text x="387.60" y="191.00" font-size="8.7" font-weight="bold" text-anchor="end" fill="#5b3f98" transform="rotate(-27 387.60 191.00)">Astrocyte</text>
<text x="407.40" y="191.00" font-size="8.7" font-weight="bold" text-anchor="end" fill="#2d62ee" transform="rotate(-27 407.40 191.00)">Reactivity</text>
<text x="427.40" y="191.00" font-size="8.7" font-weight="bold" text-anchor="end" fill="#1b8585" transform="rotate(-27 427.40 191.00)">EMT</text>
<text x="447.30" y="191.00" font-size="8.7" font-weight="bold" text-anchor="end" fill="#ff5f18" transform="rotate(-27 447.30 191.00)">NPC</text>
<text x="366.00" y="219.60" font-size="10.6" font-weight="bold" text-anchor="middle" fill="#111">Gene Panels</text>
<text x="594.00" y="15.90" font-size="10.9" font-weight="bold" text-anchor="middle" fill="#111">NPC in SCI&#160; (14d relative to 5d)</text>
<path transform="scale(0.2)" d="M2621 149h0m-61-10h0m-9-12h0m-78 13h0m-3 25h0m0-2h0m127-9h0m57-3h0m-37 35h0m-18 2h0m-36 11h0m-24-16h0m-73-2h0m78 19h0m5 5h0m58-4h0m10 19h0m21-7h0m-158 36h0m-3 24h0m173 17h0m-20 5h0m-18-2h0m-21-3h0m-37 6h0m-5-6h0m-13-9h0m-5 15h0m-3-6h0m-8-14h0m-10 21h0m-22-1h0m-20-5h0m-2 21h0m43 7h0m12-6h0m11 8h0m1-7h0m4-4h0m13 14h0m2-14h0m16 8h0m8-13h0m12 15h0m6-12h0m24 12h0m4-10h0m20 7h0m3 27h0m-20-9h0m-8 14h0m-17-23h0m-34 15h0m-20-9h0m-5 13h0m-27-3h0m-13-7h0m-4-10h0m-33 28h0m23 3h0m8-1h0m1 1h0m2 12h0m4-1h0m42 5h0m21-13h0m1 15h0m17-1h0m29 1h0m40-14h0m2-3h0m19 4h0m-6 19h0m-33 2h0m-7-5h0m-24 19h0m-4 1h0m-18-1h0m-2-8h0m-2-5h0m-14-6h0m-12 18h0m0-20h0m-5 15h0m-28-7h0m-4-4h0m-2 4h0m-2 9h0m-3 0h0m-29-16h0m-2 17h0m-3 11h0m3 2h0m13 2h0m4 11h0m14 1h0m13-2h0m20-11h0m36 3h0m0-9h0m16 14h0m21 0h0m23-2h0m0-11h0m3 18h0m8-16h0m16-4h0m12 6h0m-9 24h0m-1 18h0m-4-15h0m-10 12h0m-12 4h0m-1-17h0m-7 7h0m0 9h0m-1-18h0m-6-2h0m-1 18h0m-5-2h0m-1-19h0m0 16h0m-4-4h0m-3-7h0m-1 7h0m-9-4h0m-7 3h0m-17 13h0m-15-6h0m-2-13h0m-10 7h0m-2-10h0m-2 22h0m-2-15h0m-10 14h0m-9-13h0m-12 12h0m-15 0h0m-11-16h0m-16 30h0m6-5h0m9 1h0m7 13h0m4-14h0m2 13h0m8-6h0m5-3h0m2-7h0m7 14h0m2-10h0m6 12h0m14 1h0m2-2h0m2 2h0m1 4h0m5-1h0m0-13h0m4 4h0m5 1h0m5 7h0m4-2h0m1 0h0m0 4h0m0-11h0m1 5h0m0-18h0m3 21h0m8-15h0m1 13h0m3-5h0m5 9h0m0-4h0m1-1h0m6 2h0m1 3h0m1-3h0m2 4h0m5-3h0m3-6h0m1 4h0m5-7h0m2 0h0m5 1h0m1 0h0m1 2h0m1-5h0m4 4h0m6-5h0m1-7h0m1 18h0m1-8h0m3 3h0m1 3h0m5-12h0m1 8h0m0 2h0m0 2h0m1 6h0m0-16h0m4 4h0m1 8h0m3-2h0m1-2h0m2-5h0m1 12h0m0-2h0m0-16h0m1 0h0m2 11h0m2-8h0m1 14h0m0-7h0m1-4h0m4-11h0m0 19h0m2-16h0m1-3h0m1 20h0m0 23h0m0-6h0m-1-5h0m-4 8h0m-1-4h0m-1 11h0m0-1h0m-1-18h0m-1 21h0m-4-13h0m-5 13h0m-2-17h0m-1 0h0m0-5h0m-1 5h0m0-4h0m-1 15h0m0 6h0m-1-14h0m-3 13h0m0-14h0m0 12h0m-1-14h0m-9 3h0m0 2h0m-1 12h0m0-7h0m-1-1h0m-6-6h0m0 9h0m0-19h0m-3 15h0m0 5h0m-1-4h0m0-5h0m-2 4h0m-3-12h0m-2 3h0m-5 1h0m0-1h0m0 14h0m-1-6h0m0-3h0m-2-9h0m-7 10h0m-7-7h0m-1 7h0m-1-3h0m-3 7h0m-1-16h0m-1 19h0m-2-4h0m-1-7h0m-1-4h0m0 11h0m-2-12h0m-1 10h0m-1 3h0m-3-9h0m-1-3h0m-2 4h0m-1 14h0m-2-21h0m-1-1h0m0 10h0m-5 7h0m-2-2h0m-1-6h0m-1 0h0m-4 3h0m-1 6h0m0 5h0m-2-11h0m-1-5h0m0 0h0m-1 6h0m-2 4h0m-2 7h0m-1-12h0m-2 6h0m-2-8h0m-1 10h0m-1-8h0m0 6h0m-3-12h0m-2-5h0m-2 23h0m0-20h0m-3 18h0m0-17h0m-3 7h0m-1-4h0m0 5h0m-2-7h0m-3 6h0m-6-1h0m0 5h0m-4-7h0m0 6h0m-1-3h0m-4 8h0m-1 4h0m-3-3h0m-1-12h0m0 7h0m-1 5h0m-1 0h0m-3 3h0m0-4h0m-4 0h0m-3-4h0m0 6h0m-1 1h0m-8-1h0m-11-4h0m-2 1h0m-5 1h0m-1 4h0m-3 2h0m0 13h0m2-2h0m1 7h0m3 0h0m1-3h0m0-14h0m2 9h0m0-11h0m0 14h0m1-2h0m1-9h0m1 5h0m0 2h0m0 2h0m2 11h0m0-8h0m0 3h0m6-5h0m1-1h0m1 11h0m0-23h0m1 10h0m0-6h0m1 0h0m3 11h0m1 4h0m1-9h0m1 11h0m1-15h0m0 9h0m0 6h0m2-9h0m0-8h0m0-2h0m2 8h0m0 14h0m1-9h0m0 9h0m0-24h0m0 20h0m0-7h0m1 2h0m1-2h0m1-6h0m1 15h0m0-6h0m0 4h0m2-15h0m0 11h0m3-1h0m1-15h0m1 7h0m0 12h0m1-4h0m3-12h0m0 9h0m1 2h0m1 10h0m2-1h0m0-15h0m0 7h0m1 0h0m1-15h0m0 6h0m0 12h0m1 2h0m0-8h0m3-5h0m0 7h0m0-12h0m1 21h0m0-22h0m1 10h0m2 13h0m0-1h0m1-11h0m0-3h0m3-1h0m3-7h0m0 19h0m1-14h0m1 3h0m1-5h0m0 20h0m0-21h0m4 2h0m1 5h0m1 2h0m1 3h0m1-1h0m0-9h0m2-3h0m1 21h0m0-11h0m1 7h0m1-1h0m2 2h0m0-15h0m0 16h0m1-14h0m2 2h0m3-4h0m2 19h0m2-15h0m2 12h0m0-7h0m2 2h0m1-4h0m1 5h0m1-11h0m1 0h0m3 16h0m1-10h0m1-5h0m0 10h0m0-5h0m1 10h0m2-4h0m3-1h0m0 7h0m2-5h0m0-5h0m1-4h0m1-6h0m1 7h0m1 12h0m6-1h0m0-3h0m1-18h0m1 3h0m0 3h0m6-5h0m6 12h0m1 6h0m1-8h0m1-4h0m4 5h0m2 8h0m0-4h0m0 5h0m3-2h0m2-1h0m4-1h0m0-4h0m2-4h0m1 10h0m1 4h0m1-7h0m1-6h0m5 0h0m1 11h0m1-21h0m4 19h0m0-20h0m0 21h0m1 2h0m1-14h0m4 15h0m1-13h0m8 12h0m3-8h0m1-15h0m2 19h0m2-4h0m0-12h0m1 9h0m2 7h0m1 2h0m1-5h0m2-15h0m1 17h0m1-8h0m1 7h0m0 0h0m1-16h0m0 10h0m0 21h0m-1-2h0m0 6h0m-3 5h0m-3 1h0m-1-5h0m0-7h0m0 6h0m-2-11h0m-2 17h0m-1 0h0m-2-11h0m-3 8h0m0 3h0m-1-4h0m-1-11h0m0 10h0m0-6h0m-4 8h0m0-7h0m-1 10h0m-1-15h0m-1 11h0m0-3h0m-2 8h0m0 0h0m-1-12h0m-1 7h0m-1 4h0m-1-11h0m0 8h0m0 1h0m-1 1h0m-1-5h0m0 7h0m-2-18h0m0 1h0m-2 16h0m0-17h0m-1 17h0m-1 0h0m0-10h0m0 10h0m-3-9h0m0 10h0m-1-11h0m-2-5h0m-3 11h0m-2 4h0m-1-13h0m-2 9h0m-3-8h0m-1 10h0m-1 0h0m-2-6h0m-1 1h0m-1 0h0m-2-10h0m-3 10h0m0 7h0m0-15h0m-2 1h0m-3 10h0m-1 0h0m-1 2h0m-1 3h0m-1-6h0m-1-7h0m-4 3h0m0-4h0m-2 2h0m-1-6h0m0 12h0m-1-11h0m0 13h0m-1-1h0m0 3h0m0-15h0m-1 12h0m-1-2h0m-1-1h0m0-8h0m0 9h0m-3 3h0m0-14h0m-1 8h0m0 3h0m-4 7h0m-1-8h0m0-3h0m0 8h0m0-4h0m-2-7h0m0 10h0m-1-9h0m0 7h0m0-12h0m0 18h0m-1-18h0m0 5h0m0 7h0m0-10h0m0-1h0m-3 9h0m0 0h0m-1-2h0m0 8h0m-1-14h0m-1 11h0m-2-7h0m-2 7h0m0-2h0m-1 3h0m-1-10h0m-2 9h0m0-7h0m-1 0h0m-1-6h0m0 10h0m-1-7h0m0 7h0m-6 1h0m0 5h0m-2-8h0m-1-7h0m-1 15h0m0-3h0m-3-5h0m-2-8h0m0 16h0m0 0h0m-1 1h0m-1-16h0m0 9h0m-3 5h0m0-14h0m-1 11h0m-3-8h0m0 7h0m0-2h0m-2-6h0m-2 11h0m0 2h0m-1-6h0m-1-2h0m0 10h0m-1-5h0m0-11h0m-2 13h0m-2 2h0m-1-6h0m-2-5h0m-1-4h0m0-2h0m-1 8h0m-1 8h0m0 1h0m-1-12h0m-1-2h0m-3 3h0m0 0h0m-3 1h0m-1 5h0m0-4h0m0-4h0m-1 14h0m-2-14h0m0 13h0m-1-15h0m0 0h0m-5 5h0m-1 1h0m0 9h0m-1-6h0m-2-2h0m0 8h0m0-11h0m-1 6h0m-3 0h0m0 6h0m0-5h0m0 4h0m0-2h0m0-12h0m-1 11h0m0-5h0m-1 7h0m-2 1h0m0-10h0m-1-1h0m0 3h0m0 8h0m-1-2h0m-2-5h0m0-4h0m0 1h0m0-7h0m0 2h0m-1 13h0m-3 1h0m-1 1h0m0-4h0m0 0h0m0 0h0m-1 3h0m-1 2h0m-1-13h0m0-1h0m-2 12h0m0-11h0m-1-5h0m-3 10h0m0-3h0m-1-6h0m-1 9h0m0 3h0m0-4h0m-2 9h0m0-5h0m212 59h0m0-1h0m-1 0h0m-8 2h0m-3 0h0m-1-2h0m-1 0h0m-4 1h0m-3 0h0m-1 0h0m-1 1h0m-2 1h0m0-2h0m-2 0h0m-1 1h0m-2 0h0m-2 1h0m-1-3h0m-1 3h0m-12-3h0m0 2h0m-1-2h0m-1 3h0m-1-1h0m-2-2h0m-1 3h0m0-3h0m-3 1h0m-1 1h0m-1-1h0m-1-1h0m-1 1h0m-3 0h0m-4 1h0m-5-1h0m-4 0h0m-4 1h0m-5-1h0m-3 1h0m-1-2h0m-4 2h0m-7-2h0m-1 2h0m-9-2h0m-1 3h0m-3-3h0m-1 3h0m-4-2h0m0 1h0m0 1h0m-2-1h0m-1-1h0m-4 1h0m0-1h0m-2-1h0m-1 0h0m-3 0h0m-4 3h0m0-1h0m-2 0h0m-1 1h0m-4 0h0m-3-2h0m-2 0h0m-1 0h0m-5 0h0m-9-1h0m-1 2h0m-1 0h0m0-1h0m-2-1h0m-3 1h0m0 2h0m-5-1h0m0-2h0m-4 2h0m-1-2h0m-1 2h0m0 1h0m-2-1h0m-2-2h0m-1 2h0m-2-1h0m-3-1h0m-1 2h0m0 0h0m-1 0h0m-1 1h0m0-2h0m-3 0h0m0 1h0m-1-2h0m-1 0h0m-3 1h0m-3 1h0m0-1h0m-1 2h0m-4-1h0m-3 20h0m0-15h0m2 1h0m0-3h0m0 16h0m1 4h0m1-18h0m0 8h0m1 6h0m1-5h0m0 7h0m1 0h0m2-18h0m2 6h0m0 0h0m0-7h0m1 14h0m0 1h0m1-13h0m1 11h0m1 9h0m0-14h0m0-5h0m0 8h0m1 13h0m1-19h0m1 0h0m1-3h0m1 14h0m0-1h0m1 7h0m2-18h0m0 3h0m0-4h0m1 15h0m1-2h0m0-12h0m0 15h0m2-17h0m0 1h0m1 21h0m0-15h0m1-4h0m0-2h0m0-2h0m1 19h0m3-15h0m0-2h0m2 18h0m0-2h0m2-5h0m2-9h0m1 2h0m1-5h0m1 10h0m0-10h0m0 3h0m2-1h0m0 3h0m1-3h0m0 0h0m1 1h0m1 1h0m1 16h0m1-21h0m0 11h0m0 3h0m1 4h0m0-2h0m0-17h0m0 10h0m0 4h0m1-14h0m2 13h0m0-9h0m1 5h0m0-3h0m0 4h0m1 6h0m0-2h0m1-5h0m1-5h0m1-2h0m1 2h0m0-4h0m2 11h0m1-2h0m0-3h0m1-4h0m0 1h0m1 8h0m0-7h0m1 9h0m2-9h0m0-4h0m1 13h0m0 4h0m1-3h0m0-1h0m2 7h0m0-5h0m0 8h0m1-21h0m0 18h0m1-8h0m0-11h0m2 10h0m0-11h0m0 8h0m2 9h0m2-10h0m0 14h0m1-6h0m2-5h0m2 9h0m0-8h0m2 13h0m0-19h0m1 8h0m3 8h0m4-20h0m3 6h0m1-4h0m1 15h0m0-17h0m2 11h0m2 6h0m0-18h0m0 4h0m1 0h0m1-3h0m1 20h0m3-11h0m1 3h0m0-13h0m1 6h0m0 9h0m0 1h0m1 8h0m0-14h0m1-4h0m1 7h0m0 7h0m1-9h0m2 2h0m0-7h0m3-6h0m1 8h0m0 11h0m1-18h0m2 2h0m1 7h0m0-3h0m0 5h0m1 3h0m0-13h0m1 12h0m1-13h0m0 20h0m0-5h0m2 0h0m3-10h0m0-4h0m1 15h0m1-13h0m0 5h0m1 2h0m0-8h0m2 2h0m0 12h0m1-15h0m0-1h0m1 22h0m0-3h0m0-1h0m2-19h0m0 1h0m0 22h0m0-19h0m1 20h0m0-21h0m1 2h0m1-5h0m1 0h0m1 0h0m0 23h0m1-8h0m1 2h0m0-13h0m0 7h0m1 4h0m2 1h0m2-13h0m0 18h0m2-7h0m0-9h0m0 4h0m1 2h0m1-11h0m0 10h0m1 11h0m1 2h0m1-5h0m1-13h0m0 14h0m0-14h0m1 12h0m1-11h0m0-3h0m2 9h0m4-3h0m1 12h0m0-14h0m1-5h0m0 16h0m0-8h0m1-1h0m0 7h0m1 0h0m0-3h0m0 8h0m1-12h0m2 14h0m1-23h0m0 3h0m1-1h0m1 6h0m1-8h0m1 3h0m2 19h0m0-18h0m0 6h0m1 10h0m1-18h0m1 4h0m1 11h0m0-17h0m3 21h0m2-18h0m1-3h0m0 1h0m1 17h0m0-7h0m1-3h0m1 15h0m0-21h0m0 3h0m1 18h0m0-7h0m2-7h0m0 14h0m1-1h0m1-2h0m0-7h0m0 0h0m0 11h0m1-23h0m0 19h0m2-1h0m1 2h0m0-11h0m0-5h0m0-3h0m1 3h0m0 3h0m0-8h0m0 1h0m1-1h0m2 22h0m1-8h0m0-3h0m0 6h0m1-16h0m1 6h0m2 9h0m-1 27h0m0-2h0m0 1h0m-3-12h0m-1-1h0m0 13h0m-1-5h0m0-3h0m-1 7h0m0-8h0m0 15h0m-1-17h0m0-2h0m-1 12h0m-3-4h0m-1 7h0m0-7h0m-2-8h0m0 10h0m0 10h0m-4-8h0m0 4h0m-2-8h0m-2-6h0m-1 5h0m-5 6h0m-2 0h0m-2-1h0m0 1h0m0 7h0m-2-8h0m-1 1h0m-1-1h0m0 2h0m-1-2h0m-1-15h0m-2 19h0m-1-13h0m0 9h0m-1-16h0m-1 17h0m-1-10h0m-1 13h0m0-1h0m-3 0h0m-1 1h0m-3-13h0m-1-4h0m-1 10h0m-1 6h0m-2 2h0m0-4h0m-2-7h0m0-7h0m-2 11h0m-1-6h0m-1-6h0m-2-1h0m-2 8h0m0-1h0m-1 13h0m-1-14h0m0 2h0m-1 1h0m0 7h0m-2 0h0m0 3h0m0 2h0m0-8h0m-1-14h0m0 0h0m-1 20h0m-1 4h0m-1-21h0m-1 12h0m0-6h0m0-1h0m-1 0h0m0 4h0m-1-1h0m-1 13h0m0-16h0m-1 0h0m-3-3h0m-1 14h0m-1-4h0m0 2h0m0-9h0m-1-3h0m-4 14h0m-1-11h0m-2-2h0m0 3h0m0 0h0m-1 9h0m0 1h0m-1-3h0m-4-11h0m0 6h0m-2-4h0m0 0h0m-2-7h0m-2 21h0m0-19h0m-3 14h0m-1 7h0m0-19h0m-2 15h0m-3-10h0m-1-9h0m-1 18h0m0-11h0m-1 6h0m0 7h0m-1 4h0m0-15h0m-3 15h0m-3-19h0m-1 13h0m-1-16h0m-1 5h0m-2 8h0m0-3h0m-3-8h0m-3 6h0m-1-5h0m-1 16h0m0-12h0m-3-9h0m0 6h0m-2 15h0m-1-7h0m-3-11h0m0 7h0m-5-1h0m-4 8h0m0 4h0m0-7h0m-1-5h0m-1 7h0m-2 4h0m-1-8h0m0 5h0m-1-16h0m0 10h0m-1 12h0m0-18h0m-2 8h0m-1 10h0m0-22h0m-1 5h0m-1 10h0m0-16h0m-2 20h0m0-14h0m-2-3h0m0 6h0m0 5h0m-1-3h0m0 2h0m0-4h0m-1 8h0m-1 6h0m-1-7h0m-1-8h0m-2-5h0m-1 16h0m-1-4h0m-1-9h0m-1-6h0m0 17h0m-2-1h0m-1-7h0m-3-2h0m-3-7h0m0 16h0m0 3h0m-2-15h0m0-4h0m-1 10h0m-3-7h0m-1 9h0m-3-4h0m0 12h0m-1-19h0m-3 19h0m0-1h0m0 0h0m-2-4h0m0-5h0m-1-2h0m-2 13h0m-1 1h0m-2-19h0m0 18h0m0-20h0m1 33h0m1-4h0m1 0h0m1-3h0m2 11h0m5-11h0m0 11h0m5-12h0m8 3h0m1 2h0m2 5h0m1-4h0m2-5h0m5 14h0m1-11h0m1 0h0m1 0h0m2 6h0m3-9h0m5-2h0m0 6h0m2 5h0m1-2h0m0-5h0m2 20h0m2-23h0m3-1h0m2 16h0m1-15h0m10 7h0m0 7h0m3-10h0m2-1h0m0-3h0m2 7h0m0-6h0m1 5h0m1 8h0m1-12h0m0 4h0m6-5h0m1-2h0m0 7h0m7-1h0m2-2h0m4 5h0m0 11h0m3-4h0m1-7h0m1-7h0m2-2h0m2 5h0m5-1h0m10 0h0m3 3h0m2 1h0m1-8h0m1 1h0m6 6h0m1-5h0m5-1h0m0 17h0m1-10h0m3-1h0m3 0h0m1-2h0m0 14h0m2-10h0m0-3h0m5 18h0m7-24h0m1 2h0m1 3h0m1 17h0m2-3h0m1-11h0m0-7h0m6 3h0m2 6h0m2 9h0m5-12h0m3-4h0m1-1h0m2-1h0m5 9h0m1-6h0m5-1h0m1-3h0m2 17h0m1-10h0m4 13h0m-11 22h0m-26 0h0m-9 3h0m-2-13h0m-3-4h0m-1 1h0m-2 18h0m-13-22h0m-19 2h0m-11 12h0m-4-2h0m-15 7h0m-26 0h0m-10 2h0m-3 2h0m-5-17h0m-14 17h0m-1-13h0m-8 9h0m-3-5h0m-12-8h0m-10 6h0m4 16h0m7 12h0m21 1h0m33 8h0m3-23h0m6 3h0m13 14h0m7-5h0m26-12h0m29 9h0m33 6h0m29 17h0m-25-2h0m-13 4h0m-100 13h0m-7-7h0m-3 7h0m-21-1h0m-22-17h0m-4-3h0m-18 12h0m4 33h0m15-1h0m9 0h0m7-1h0m13-2h0m22-3h0m7 0h0m8-11h0m42-3h0m13 22h0m42 1h0m3-5h0m11 2h0m5-11h0m-30 28h0m-1 7h0m-54-11h0m-11 6h0m-15-2h0m-23 1h0m-17-9h0m-30-4h0m-11 11h0m-11-12h0m4 25h0m5 23h0m5-12h0m3 11h0m8 0h0m6-12h0m3 2h0m13-11h0m10 12h0m11-10h0m13 19h0m6-15h0m2 9h0m23-9h0m25 8h0m13-15h0m6 0h0m5 21h0m24-12h0m2 12h0m23-11h0m-27 21h0m-21-1h0m-16 14h0m-95-10h0m-48 14h0m-3-1h0m0 25h0m7 1h0m26 0h0m7-4h0m14-7h0m6 33h0m-33-1h0m-20-9h0m-4-8h0m-3 25h0m2 6h0m1 9h0m20-12h0m3 0h0m20 10h0m31-2h0m67 2h0m9 8h0m-140 13h0m-9-5h0m-2-4h0m3 26h0m12 9h0m30 6h0m7 3h0m51 0h0m17 24h0m-1-13h0m-37 4h0m-1 0h0m-1-8h0m-67 12h0m-13 20h0m7-6h0m48 14h0m31 9h0m-9 4h0m-15 6h0m-29-11h0m-7 6h0m-12-6h0" fill="none" stroke="#737373" stroke-width="6.0" stroke-linecap="round"/>
<path transform="scale(0.2)" d="M3165 148h0m-446 19h0m49-13h0m41 15h0m340 20h0m-90-2h0m-202 5h0m-23 7h0m-59-13h0m-89-5h0m100 39h0m107-16h0m1 0h0m8 0h0m86 20h0m173-12h0m25-4h0m-226 26h0m-102 7h0m-14 1h0m-34-5h0m-119-3h0m38 36h0m28 4h0m256-7h0m167-7h0m-227 26h0m-37-2h0m14 40h0m57-21h0m35 6h0m5 4h0m78 4h0m92 27h0m-115-5h0m-49-3h0m-13-11h0m-90 1h0m-77 15h0m-13 10h0m56 4h0m114 0h0m21 3h0m146 8h0m0 0h0m1 3h0m-33 6h0m-58 17h0m-38 4h0m-19 2h0m-88-20h0m-12 4h0m-80-6h0m-2 20h0m-17-1h0m-53 3h0m-28-9h0m-11-5h0m-32 12h0m-17-20h0m2 32h0m16 2h0m27 8h0m14 0h0m15-11h0m18 2h0m16 1h0m51 1h0m24 12h0m37-9h0m30-14h0m19 24h0m2-13h0m2-3h0m23 13h0m9-1h0m38-4h0m1-4h0m17-6h0m56-5h0m8 18h0m10-6h0m-1 14h0m-116 8h0m-3-10h0m-1 12h0m-1-8h0m-11 3h0m-7 17h0m-33-20h0m-20 18h0m-10-3h0m-27-1h0m-7-13h0m-5 12h0m-1-10h0m-2 9h0m0-11h0m-4-1h0m-13 9h0m-13 0h0m-16-6h0m-22 8h0m-11-7h0m-5 1h0m-8-4h0m-1 12h0m-2 4h0m-2-12h0m-20-1h0m-3-2h0m-2 2h0m-1 12h0m-1-10h0m-5 8h0m-4-14h0m-5 11h0m-20 6h0m-1-10h0m-2 2h0m-5 5h0m-1 4h0m0-3h0m0-6h0m-1-5h0m0 13h0m-2-5h0m-3 1h0m-4-7h0m-3-2h0m-4 1h0m0 8h0m-12 2h0m0-3h0m0 6h0m-1-5h0m-2 20h0m0 1h0m1-1h0m1-8h0m0 20h0m1-3h0m3-3h0m0-17h0m1 2h0m1 4h0m8 3h0m2-10h0m7 19h0m2-10h0m3 13h0m0-21h0m16 13h0m3-12h0m1 7h0m14-4h0m5 5h0m2 8h0m4 5h0m3 1h0m1-12h0m1-3h0m21-7h0m1 5h0m14 16h0m9-20h0m13 6h0m7 10h0m23 1h0m9-8h0m2 2h0m2 1h0m9 4h0m1-9h0m4-7h0m11 14h0m11-5h0m8 10h0m50-1h0m139-1h0m-60 27h0m-43-6h0m-96-3h0m-1-9h0m0 2h0m-1 18h0m-8-14h0m-6 4h0m-2-9h0m-1 16h0m-7-10h0m-2 5h0m-3 5h0m-2-19h0m0 14h0m-2-2h0m-9 2h0m0 1h0m-6-6h0m0 7h0m-1-11h0m-5 3h0m-4-3h0m-6 3h0m0 3h0m-5-8h0m-12-3h0m-8-2h0m-3 0h0m-1 10h0m-1-2h0m-1 14h0m-5-10h0m-7-9h0m-11 7h0m-3 13h0m-2-2h0m-3-9h0m-8-12h0m-3 21h0m-18-16h0m-15 15h0m-2-13h0m-1 16h0m-2-19h0m-2 11h0m-1-11h0m0 2h0m-3 2h0m0-7h0m-1 15h0m-2-13h0m-10 1h0m-2 11h0m-7 0h0m-2 0h0m-1-11h0m0 1h0m-1 8h0m-1 5h0m-2-4h0m-1-4h0m-1 13h0m0-23h0m-1 47h0m0-16h0m1-6h0m0 12h0m0-9h0m1 3h0m0 15h0m1-17h0m0-1h0m4 0h0m2 1h0m1-3h0m3 14h0m5 3h0m1-15h0m4 19h0m5-7h0m0-3h0m2-12h0m3 16h0m1-14h0m2 19h0m7 2h0m2-7h0m3-13h0m0 16h0m3-12h0m1-3h0m1 17h0m1-17h0m1 17h0m4-8h0m3 9h0m7 1h0m2-9h0m5-5h0m3 3h0m7 11h0m5-23h0m1 17h0m10-6h0m0-7h0m12-4h0m22 2h0m2 0h0m6 13h0m17-5h0m6 0h0m6 8h0m7-15h0m9 4h0m15 9h0m0-2h0m1 9h0m11-1h0m6-15h0m7-5h0m7 13h0m55-2h0m37-3h0m56 0h0m41 8h0m-100 7h0m-134 13h0m-4 0h0m-4-8h0m-4 10h0m-3 0h0m-25-11h0m-4 8h0m-2-12h0m-2 12h0m-5-10h0m0 1h0m-3 9h0m-4-7h0m-3-1h0m-2 6h0m-2-5h0m-1 6h0m0-2h0m-1-2h0m-4-4h0m-1 3h0m-1 6h0m0-5h0m-2 8h0m-2-7h0m-2 6h0m-4-14h0m-1 15h0m-1-1h0m-2-9h0m-2 3h0m0-1h0m-1 6h0m-2-12h0m0 8h0m-17 0h0m0-4h0m-1 0h0m-5 10h0m-3-9h0m-4-5h0m-1 0h0m-5 8h0m-1 3h0m-2-3h0m-2-8h0m0 6h0m-1 4h0m-2-1h0m-1 2h0m-7-5h0m0 8h0m-1-6h0m0 1h0m-2-6h0m-6 9h0m-2-11h0m-7 7h0m0 3h0m0-10h0m-2 12h0m-5-13h0m-1 11h0m-1-2h0m-2-6h0m0 6h0m-1 0h0m-5 3h0m-1-1h0m0-1h0m-1-1h0m0 4h0m-1-3h0m0-1h0m-1-5h0m-1 3h0m-1 7h0m0-15h0m-1 9h0m-2-7h0m0 13h0m0-4h0m-1-4h0m0 7h0m0-8h0m0 1h0m0 7h0m0 1h0" fill="none" stroke="#ff0000" stroke-width="9.0" stroke-linecap="round"/>
<path transform="scale(0.2)" d="M2682 622h0m2 2h0m5 0h0m0-4h0m1 0h0m4 2h0m6 0h0m4-2h0m4-1h0m0 1h0m5 0h0m0 0h0m0-1h0m4 3h0m1-1h0m9 0h0m0 1h0m1-3h0m1 3h0m0-1h0m6 2h0m1-4h0m3 3h0m1-3h0m4 2h0m0-2h0m17 4h0m3-1h0m0 0h0m2 0h0m1 0h0m10 2h0m3-5h0m7 5h0m1 0h0m2-4h0m1 1h0m1 2h0m15-1h0m4-2h0m3 1h0m5 0h0m4-1h0m8-1h0m13 1h0m7 0h0m1 0h0m1 4h0m1-4h0m13 1h0m1-1h0m7 4h0m5-1h0m2-4h0m3 0h0m1 5h0m1 0h0m203-1h0m-3 24h0m-4-10h0m-6-7h0m-37 9h0m0-1h0m-5-6h0m-8 8h0m-17-13h0m-3 17h0m-3-12h0m-23 13h0m-12-9h0m-4-9h0m-33 18h0m-3-8h0m-13 5h0m-26 0h0m-2-6h0m-2 1h0m-7-5h0m0-3h0m0 3h0m-2 1h0m0-8h0m-3 1h0m-2 8h0m-4-2h0m0 12h0m-1-1h0m-2-5h0m-1 6h0m-6-10h0m0-7h0m-3 0h0m-10 11h0m-1-12h0m-1 19h0m-1-7h0m-3-4h0m-1 4h0m-1-13h0m-1 18h0m0-17h0m-2 20h0m-3-18h0m0 10h0m-2-10h0m0 17h0m0-5h0m-1-12h0m-2 16h0m-2-15h0m0 19h0m-9-23h0m-1 2h0m-5 18h0m-2 0h0m-2-17h0m-4 0h0m-2 15h0m-2-9h0m-2 6h0m-2-2h0m0 4h0m-2 7h0m0-3h0m-1-8h0m-2 5h0m-7-15h0m0 12h0m-3 0h0m-1-11h0m-1 13h0m-2 4h0m-3-14h0m-1 4h0m0-11h0m-2 22h0m-1-19h0m-1 7h0m0-2h0m-1 3h0m-2-8h0m-2-3h0m0 5h0m-1-4h0m0 7h0m0 1h0m-6 11h0m-1-2h0m-3-6h0m-1-10h0m-1-2h0m0 7h0m-2 0h0m-6 8h0m0 3h0m-1-14h0m-1-3h0m-1 2h0m-1 17h0m0-11h0m-1 4h0m-7 4h0m-2 4h0m0 1h0m0-2h0m-2-13h0m-2 5h0m0 8h0m0-18h0m-5 22h0m-1-16h0m-3-7h0m-1 17h0m0-15h0m0 17h0m-1-1h0m0-16h0m0 4h0m-2 17h0m-2-13h0m0 6h0m-2 7h0m-2-11h0m-1 7h0m0-6h0m-1-5h0m0-8h0m0 17h0m-3-1h0m-3-14h0m-1 0h0m0 10h0m-1-6h0m-1 8h0m0 6h0m-1-8h0m0 10h0m-1-21h0m0 7h0m0-4h0m0-5h0m-3 11h0m0 12h0m-3-12h0m-2 0h0m0-4h0m0 6h0m0-9h0m0-2h0m-1 35h0m0 6h0m1 6h0m0-18h0m0 12h0m0-13h0m1 4h0m3-9h0m2 12h0m0 6h0m2-2h0m0-15h0m0 4h0m1 1h0m0 7h0m1-7h0m1 10h0m0-4h0m4 9h0m1-16h0m0 12h0m1-1h0m4-11h0m1 1h0m4 12h0m0-2h0m1-12h0m4 11h0m1-2h0m2-10h0m1 20h0m5-18h0m4 3h0m1 8h0m3-3h0m2 0h0m3-2h0m0 8h0m5-11h0m3 16h0m1-7h0m2-2h0m3-13h0m0 8h0m0-1h0m1 14h0m0-11h0m4-7h0m6 15h0m3-5h0m0-10h0m1 6h0m8 2h0m1-6h0m0 6h0m5-13h0m0 10h0m6 8h0m0-4h0m11-13h0m1 14h0m0-12h0m0 9h0m2-11h0m1 5h0m4 8h0m2 6h0m3-9h0m0-4h0m0-1h0m2 18h0m2-18h0m7-1h0m3 4h0m5 15h0m7-8h0m2-12h0m2 7h0m1 3h0m0 8h0m2-1h0m5-19h0m1 3h0m3 6h0m3-9h0m1-1h0m12 12h0m4-3h0m1 11h0m0-6h0m4-5h0m2 9h0m1-9h0m4 10h0m3 0h0m2-20h0m10 9h0m4 11h0m83-9h0m4-2h0m44-3h0m9-4h0m17 10h0m28-6h0m4 7h0m-23 17h0m-12 1h0m-27 0h0m-47 17h0m-24 1h0m-8-14h0m-14 2h0m-8 11h0m-42-23h0m-10 13h0m-1-8h0m-12 17h0m-10-18h0m-37-1h0m-5-2h0m-2 1h0m-11 22h0m-13-13h0m-23-11h0m-5 24h0m-10-4h0m-3-19h0m-28 5h0m-1 17h0m-7-23h0m-3 9h0m-1-8h0m-4 19h0m-11-2h0m-1-17h0m-1-1h0m32 34h0m13 10h0m9-18h0m38 23h0m30-19h0m3 1h0m0 11h0m83-4h0m26-8h0m14 5h0m2-7h0m7 4h0m26 10h0m44 0h0m7-14h0m31 12h0m5 4h0m83-17h0m57-2h0m-112 29h0m-1 13h0m-22-16h0m-5 15h0m-2 6h0m-24-20h0m-56-2h0m-131 21h0m-5-21h0m-105 20h0m-2 2h0m-43 14h0m278-8h0m56 0h0m85 9h0m89-11h0m-7 42h0m-87-11h0m-22 6h0m-120-6h0m-1 6h0m-143 4h0m-14 5h0m-12 11h0m11 9h0m36-17h0m27 5h0m48-4h0m56 3h0m12 9h0m154-5h0" fill="none" stroke="#0000ff" stroke-width="8.5" stroke-linecap="round"/>
<circle cx="551.50" cy="34.80" r="2.3" fill="#990000" stroke="none" stroke-width="0"/>
<circle cx="543.60" cy="45.90" r="2.3" fill="#990000" stroke="none" stroke-width="0"/>
<circle cx="592.80" cy="44.50" r="2.3" fill="#990000" stroke="none" stroke-width="0"/>
<circle cx="623.30" cy="54.20" r="2.3" fill="#990000" stroke="none" stroke-width="0"/>
<circle cx="656.30" cy="60.30" r="2.3" fill="#990000" stroke="none" stroke-width="0"/>
<circle cx="656.30" cy="63.30" r="2.3" fill="#990000" stroke="none" stroke-width="0"/>
<circle cx="584.50" cy="71.80" r="2.3" fill="#990000" stroke="none" stroke-width="0"/>
<circle cx="584.50" cy="75.40" r="2.3" fill="#990000" stroke="none" stroke-width="0"/>
<circle cx="634.00" cy="84.70" r="2.3" fill="#990000" stroke="none" stroke-width="0"/>
<circle cx="550.80" cy="81.10" r="2.3" fill="#990000" stroke="none" stroke-width="0"/>
<circle cx="561.50" cy="89.40" r="2.3" fill="#990000" stroke="none" stroke-width="0"/>
<circle cx="541.10" cy="93.60" r="2.3" fill="#990000" stroke="none" stroke-width="0"/>
<circle cx="552.50" cy="96.40" r="2.3" fill="#990000" stroke="none" stroke-width="0"/>
<circle cx="572.30" cy="92.20" r="2.3" fill="#990000" stroke="none" stroke-width="0"/>
<circle cx="577.30" cy="94.40" r="2.3" fill="#990000" stroke="none" stroke-width="0"/>
<circle cx="584.40" cy="92.00" r="2.3" fill="#990000" stroke="none" stroke-width="0"/>
<circle cx="596.10" cy="89.60" r="2.3" fill="#990000" stroke="none" stroke-width="0"/>
<circle cx="608.60" cy="91.50" r="2.3" fill="#990000" stroke="none" stroke-width="0"/>
<circle cx="597.00" cy="96.00" r="2.3" fill="#990000" stroke="none" stroke-width="0"/>
<circle cx="589.00" cy="99.00" r="2.3" fill="#990000" stroke="none" stroke-width="0"/>
<circle cx="539.00" cy="132.60" r="2.3" fill="#2dd4dc" stroke="none" stroke-width="0"/>
<circle cx="540.90" cy="132.60" r="2.3" fill="#2dd4dc" stroke="none" stroke-width="0"/>
<circle cx="559.40" cy="131.50" r="2.3" fill="#2dd4dc" stroke="none" stroke-width="0"/>
<circle cx="576.40" cy="136.70" r="2.3" fill="#2dd4dc" stroke="none" stroke-width="0"/>
<circle cx="576.40" cy="139.00" r="2.3" fill="#2dd4dc" stroke="none" stroke-width="0"/>
<circle cx="537.90" cy="143.50" r="2.3" fill="#2dd4dc" stroke="none" stroke-width="0"/>
<circle cx="549.90" cy="150.30" r="2.3" fill="#2dd4dc" stroke="none" stroke-width="0"/>
<circle cx="557.10" cy="143.90" r="2.3" fill="#2dd4dc" stroke="none" stroke-width="0"/>
<circle cx="561.70" cy="145.70" r="2.3" fill="#2dd4dc" stroke="none" stroke-width="0"/>
<circle cx="569.60" cy="147.80" r="2.3" fill="#2dd4dc" stroke="none" stroke-width="0"/>
<circle cx="577.50" cy="148.50" r="2.3" fill="#2dd4dc" stroke="none" stroke-width="0"/>
<circle cx="553.80" cy="159.30" r="2.3" fill="#2dd4dc" stroke="none" stroke-width="0"/>
<circle cx="558.30" cy="162.00" r="2.3" fill="#2dd4dc" stroke="none" stroke-width="0"/>
<circle cx="560.50" cy="155.20" r="2.3" fill="#2dd4dc" stroke="none" stroke-width="0"/>
<circle cx="563.50" cy="157.50" r="2.3" fill="#2dd4dc" stroke="none" stroke-width="0"/>
<circle cx="603.50" cy="147.30" r="2.3" fill="#2dd4dc" stroke="none" stroke-width="0"/>
<circle cx="602.90" cy="151.20" r="2.3" fill="#2dd4dc" stroke="none" stroke-width="0"/>
<text x="554.00" y="32.00" font-size="4.6" text-anchor="start" fill="#383838">Saa2</text>
<text x="540.40" y="47.50" font-size="4.6" text-anchor="end" fill="#383838">Lcn2</text>
<text x="596.00" y="46.10" font-size="4.6" text-anchor="start" fill="#383838">Chil1</text>
<text x="625.30" y="50.80" font-size="4.6" text-anchor="start" fill="#383838">Myoc</text>
<text x="659.70" y="59.10" font-size="4.6" text-anchor="start" fill="#383838">C3</text>
<text x="659.50" y="68.50" font-size="4.6" text-anchor="start" fill="#383838">Slpi</text>
<text x="582.50" y="68.40" font-size="4.6" text-anchor="start" fill="#383838">Tgm1</text>
<text x="587.70" y="76.60" font-size="4.6" text-anchor="start" fill="#383838">Fxyd1</text>
<text x="637.20" y="86.30" font-size="4.6" text-anchor="start" fill="#383838">Pdcd2</text>
<text x="555.20" y="78.50" font-size="4.6" text-anchor="start" fill="#383838">Fam107a</text>
<text x="561.50" y="85.20" font-size="4.6" text-anchor="start" fill="#383838">Rnase1</text>
<text x="539.50" y="87.80" font-size="4.6" text-anchor="start" fill="#383838">Agt</text>
<text x="553.50" y="104.60" font-size="4.6" text-anchor="start" fill="#383838">Slc6a1</text>
<text x="572.30" y="105.40" font-size="4.6" text-anchor="start" fill="#383838">Atp1a2</text>
<text x="599.50" y="87.40" font-size="4.6" text-anchor="start" fill="#383838">C4b</text>
<text x="612.00" y="94.50" font-size="4.6" text-anchor="start" fill="#383838">Aqp4</text>
<text x="600.00" y="103.00" font-size="4.6" text-anchor="start" fill="#383838">Clu</text>
<text x="591.00" y="105.40" font-size="4.6" text-anchor="start" fill="#383838">Hepacam</text>
<text x="540.40" y="121.80" font-size="4.6" text-anchor="start" fill="#383838">Snai1</text>
<text x="555.00" y="122.50" font-size="4.6" text-anchor="start" fill="#383838">Snai2</text>
<text x="580.00" y="126.10" font-size="4.6" text-anchor="start" fill="#383838">Loxl2</text>
<text x="531.90" y="150.50" font-size="4.6" text-anchor="end" fill="#383838">Col1a1</text>
<text x="580.90" y="151.10" font-size="4.6" text-anchor="start" fill="#383838">Col5a2</text>
<text x="550.80" y="162.30" font-size="4.6" text-anchor="end" fill="#383838">Acta2</text>
<text x="556.30" y="169.00" font-size="4.6" text-anchor="middle" fill="#383838">Tnc</text>
<text x="566.90" y="160.10" font-size="4.6" text-anchor="start" fill="#383838">Fbln2</text>
<text x="602.50" y="143.90" font-size="4.6" text-anchor="start" fill="#383838">Sfrp2</text>
<text x="600.30" y="159.80" font-size="4.6" text-anchor="start" fill="#383838">Loxl1</text>
<line x1="493.20" y1="19.50" x2="493.20" y2="208.40" stroke="#222" stroke-width="1.6"/>
<line x1="491.40" y1="20.30" x2="493.20" y2="20.30" stroke="#222" stroke-width="1.2"/>
<text transform="translate(490.80 22.80) scale(0.8 1)" font-size="7.0" font-weight="bold" text-anchor="end" fill="#111">8</text>
<line x1="491.40" y1="43.70" x2="493.20" y2="43.70" stroke="#222" stroke-width="1.2"/>
<text transform="translate(490.80 46.20) scale(0.8 1)" font-size="7.0" font-weight="bold" text-anchor="end" fill="#111">6</text>
<line x1="491.40" y1="67.10" x2="493.20" y2="67.10" stroke="#222" stroke-width="1.2"/>
<text transform="translate(490.80 69.60) scale(0.8 1)" font-size="7.0" font-weight="bold" text-anchor="end" fill="#111">4</text>
<line x1="491.40" y1="90.50" x2="493.20" y2="90.50" stroke="#222" stroke-width="1.2"/>
<text transform="translate(490.80 93.00) scale(0.8 1)" font-size="7.0" font-weight="bold" text-anchor="end" fill="#111">2</text>
<line x1="491.40" y1="113.90" x2="493.20" y2="113.90" stroke="#222" stroke-width="1.2"/>
<text transform="translate(490.80 116.40) scale(0.8 1)" font-size="7.0" font-weight="bold" text-anchor="end" fill="#111">0</text>
<line x1="491.40" y1="137.30" x2="493.20" y2="137.30" stroke="#222" stroke-width="1.2"/>
<text transform="translate(490.80 139.80) scale(0.8 1)" font-size="7.0" font-weight="bold" text-anchor="end" fill="#111">-2</text>
<line x1="491.40" y1="160.70" x2="493.20" y2="160.70" stroke="#222" stroke-width="1.2"/>
<text transform="translate(490.80 163.20) scale(0.8 1)" font-size="7.0" font-weight="bold" text-anchor="end" fill="#111">-4</text>
<line x1="491.40" y1="184.10" x2="493.20" y2="184.10" stroke="#222" stroke-width="1.2"/>
<text transform="translate(490.80 186.60) scale(0.8 1)" font-size="7.0" font-weight="bold" text-anchor="end" fill="#111">-6</text>
<line x1="491.40" y1="207.50" x2="493.20" y2="207.50" stroke="#222" stroke-width="1.2"/>
<text transform="translate(490.80 210.00) scale(0.8 1)" font-size="7.0" font-weight="bold" text-anchor="end" fill="#111">-8</text>
<line x1="493.20" y1="113.90" x2="679.50" y2="113.90" stroke="#111" stroke-width="1.6"/>
<line x1="536.20" y1="113.90" x2="536.20" y2="116.30" stroke="#111" stroke-width="1.3"/>
<text x="536.20" y="124.50" font-size="9.6" font-weight="bold" text-anchor="middle" fill="#111">2</text>
<line x1="579.70" y1="113.90" x2="579.70" y2="116.30" stroke="#111" stroke-width="1.3"/>
<text x="579.70" y="124.50" font-size="9.6" font-weight="bold" text-anchor="middle" fill="#111">3</text>
<line x1="623.20" y1="113.90" x2="623.20" y2="116.30" stroke="#111" stroke-width="1.3"/>
<text x="623.20" y="124.50" font-size="9.6" font-weight="bold" text-anchor="middle" fill="#111">4</text>
<line x1="666.70" y1="113.90" x2="666.70" y2="116.30" stroke="#111" stroke-width="1.3"/>
<text x="666.70" y="124.50" font-size="9.6" font-weight="bold" text-anchor="middle" fill="#111">5</text>
<text x="677.50" y="135.00" font-size="9.0" font-weight="bold" text-anchor="end" fill="#111">-log<tspan font-size="6.2" dy="2.2">10</tspan><tspan dy="-2.2">(FDR)</tspan></text>
<text transform="translate(483.60 111.60) rotate(-90)" font-size="8.75" font-weight="bold" text-anchor="middle" fill="#111">DEG (Log<tspan font-size="6" dy="2.0">2</tspan><tspan dy="-2.0">FC)</tspan></text>
<text x="574.60" y="145.00" font-size="4.6" text-anchor="start" fill="#383838">Vim</text>
<text x="609.00" y="151.80" font-size="4.6" text-anchor="start" fill="#383838">Mgp</text>
<text x="583.00" y="157.60" font-size="4.6" text-anchor="start" fill="#383838">Twist1</text>
<text x="578.00" y="163.80" font-size="4.6" text-anchor="start" fill="#383838">Pcgfb</text>
<text x="563.00" y="166.60" font-size="4.6" text-anchor="start" fill="#383838">Col6a3</text>
<text x="563.00" y="171.60" font-size="4.6" text-anchor="start" fill="#383838">Postn</text>
<text x="530.80" y="140.60" font-size="4.6" text-anchor="start" fill="#383838">Tgfb</text>
<text x="105.20" y="282.40" font-size="10.8" font-weight="bold" text-anchor="middle" fill="#111">PCA for all DEGs (n=10379)</text>
<rect x="26.90" y="291.60" width="156.50" height="106.00" rx="0" fill="none" stroke="#111" stroke-width="1.3"/>
<line x1="26.90" y1="344.20" x2="183.40" y2="344.20" stroke="#999" stroke-width="0.6" stroke-dasharray="2.2 1.6"/>
<line x1="23.30" y1="309.20" x2="26.90" y2="309.20" stroke="#111" stroke-width="1.2"/>
<text x="22.40" y="312.10" font-size="8.2" font-weight="bold" text-anchor="end" fill="#111">50</text>
<line x1="23.30" y1="344.20" x2="26.90" y2="344.20" stroke="#111" stroke-width="1.2"/>
<text x="22.40" y="347.10" font-size="8.2" font-weight="bold" text-anchor="end" fill="#111">0</text>
<line x1="23.30" y1="379.20" x2="26.90" y2="379.20" stroke="#111" stroke-width="1.2"/>
<text x="22.40" y="382.10" font-size="8.2" font-weight="bold" text-anchor="end" fill="#111">-50</text>
<line x1="25.00" y1="326.70" x2="26.90" y2="326.70" stroke="#111" stroke-width="1.0"/>
<line x1="25.00" y1="361.70" x2="26.90" y2="361.70" stroke="#111" stroke-width="1.0"/>
<line x1="34.60" y1="397.60" x2="34.60" y2="401.20" stroke="#111" stroke-width="1.2"/>
<text x="34.60" y="409.80" font-size="8.2" font-weight="bold" text-anchor="middle" fill="#111">0</text>
<line x1="69.88" y1="397.60" x2="69.88" y2="401.20" stroke="#111" stroke-width="1.2"/>
<text x="69.88" y="409.80" font-size="8.2" font-weight="bold" text-anchor="middle" fill="#111">50</text>
<line x1="105.16" y1="397.60" x2="105.16" y2="401.20" stroke="#111" stroke-width="1.2"/>
<text x="105.16" y="409.80" font-size="8.2" font-weight="bold" text-anchor="middle" fill="#111">100</text>
<line x1="140.44" y1="397.60" x2="140.44" y2="401.20" stroke="#111" stroke-width="1.2"/>
<text x="140.44" y="409.80" font-size="8.2" font-weight="bold" text-anchor="middle" fill="#111">150</text>
<line x1="175.72" y1="397.60" x2="175.72" y2="401.20" stroke="#111" stroke-width="1.2"/>
<text x="175.72" y="409.80" font-size="8.2" font-weight="bold" text-anchor="middle" fill="#111">200</text>
<line x1="52.24" y1="397.60" x2="52.24" y2="399.60" stroke="#111" stroke-width="1.0"/>
<line x1="87.52" y1="397.60" x2="87.52" y2="399.60" stroke="#111" stroke-width="1.0"/>
<line x1="122.80" y1="397.60" x2="122.80" y2="399.60" stroke="#111" stroke-width="1.0"/>
<line x1="158.08" y1="397.60" x2="158.08" y2="399.60" stroke="#111" stroke-width="1.0"/>
<text x="105.20" y="421.60" font-size="8.7" font-weight="bold" text-anchor="middle" fill="#111">PC1 (66.91% variation)</text>
<text transform="translate(8.0 341.0) rotate(-90)" font-size="8.7" font-weight="bold" text-anchor="middle" fill="#111">PC2 (17.80%)</text>
<circle cx="34.60" cy="344.20" r="2.3" fill="#000" stroke="none" stroke-width="0"/>
<text x="39.00" y="356.70" font-size="8.0" text-anchor="middle" fill="#333">NPC</text>
<circle cx="157.80" cy="322.00" r="2.3" fill="#ff0000" stroke="none" stroke-width="0"/>
<text x="156.60" y="333.80" font-size="8.0" text-anchor="middle" fill="#333">SCI</text>
<circle cx="176.80" cy="312.20" r="2.3" fill="#6e6e6e" stroke="none" stroke-width="0"/>
<text x="179.20" y="307.40" font-size="8.0" text-anchor="end" fill="#333">dSCI</text>
<circle cx="174.60" cy="391.20" r="2.3" fill="#0000ff" stroke="none" stroke-width="0"/>
<text x="171.40" y="390.60" font-size="8.2" text-anchor="end" fill="#333">Uninjured</text>
<text x="331.60" y="247.80" font-size="9.5" font-weight="bold" text-anchor="middle" fill="#111">DEGs relative to NPC (pregraft)</text>
<text transform="translate(214.9 322.5) rotate(-90)" font-size="9.25" font-weight="bold" text-anchor="middle" fill="#111">Astrocyte State Gene Panels</text>
<line x1="217.80" y1="257.20" x2="217.80" y2="387.80" stroke="#333" stroke-width="1.0"/>
<line x1="270.80" y1="278.20" x2="393.70" y2="278.20" stroke="#666" stroke-width="0.8" stroke-dasharray="1 1.3"/>
<line x1="267.40" y1="255.20" x2="270.80" y2="255.20" stroke="#222" stroke-width="1.0"/>
<line x1="267.40" y1="262.87" x2="270.80" y2="262.87" stroke="#222" stroke-width="1.0"/>
<line x1="267.40" y1="270.53" x2="270.80" y2="270.53" stroke="#222" stroke-width="1.0"/>
<line x1="267.40" y1="278.20" x2="270.80" y2="278.20" stroke="#222" stroke-width="1.0"/>
<line x1="267.40" y1="285.87" x2="270.80" y2="285.87" stroke="#222" stroke-width="1.0"/>
<line x1="267.40" y1="293.53" x2="270.80" y2="293.53" stroke="#222" stroke-width="1.0"/>
<line x1="267.40" y1="301.20" x2="270.80" y2="301.20" stroke="#222" stroke-width="1.0"/>
<text x="266.30" y="281.40" font-size="9.25" font-weight="bold" text-anchor="end" fill="#111">Healthy</text>
<line x1="270.80" y1="324.20" x2="393.70" y2="324.20" stroke="#666" stroke-width="0.8" stroke-dasharray="1 1.3"/>
<line x1="267.40" y1="301.20" x2="270.80" y2="301.20" stroke="#222" stroke-width="1.0"/>
<line x1="267.40" y1="308.87" x2="270.80" y2="308.87" stroke="#222" stroke-width="1.0"/>
<line x1="267.40" y1="316.53" x2="270.80" y2="316.53" stroke="#222" stroke-width="1.0"/>
<line x1="267.40" y1="324.20" x2="270.80" y2="324.20" stroke="#222" stroke-width="1.0"/>
<line x1="267.40" y1="331.87" x2="270.80" y2="331.87" stroke="#222" stroke-width="1.0"/>
<line x1="267.40" y1="339.53" x2="270.80" y2="339.53" stroke="#222" stroke-width="1.0"/>
<line x1="267.40" y1="347.20" x2="270.80" y2="347.20" stroke="#222" stroke-width="1.0"/>
<text x="266.30" y="327.40" font-size="9.25" font-weight="bold" text-anchor="end" fill="#111">Reactivity</text>
<line x1="270.80" y1="370.20" x2="393.70" y2="370.20" stroke="#666" stroke-width="0.8" stroke-dasharray="1 1.3"/>
<line x1="267.40" y1="347.20" x2="270.80" y2="347.20" stroke="#222" stroke-width="1.0"/>
<line x1="267.40" y1="354.87" x2="270.80" y2="354.87" stroke="#222" stroke-width="1.0"/>
<line x1="267.40" y1="362.53" x2="270.80" y2="362.53" stroke="#222" stroke-width="1.0"/>
<line x1="267.40" y1="370.20" x2="270.80" y2="370.20" stroke="#222" stroke-width="1.0"/>
<line x1="267.40" y1="377.87" x2="270.80" y2="377.87" stroke="#222" stroke-width="1.0"/>
<line x1="267.40" y1="385.53" x2="270.80" y2="385.53" stroke="#222" stroke-width="1.0"/>
<line x1="267.40" y1="393.20" x2="270.80" y2="393.20" stroke="#222" stroke-width="1.0"/>
<text x="266.30" y="373.40" font-size="9.25" font-weight="bold" text-anchor="end" fill="#111">EMT</text>
<line x1="270.80" y1="416.20" x2="393.70" y2="416.20" stroke="#666" stroke-width="0.8" stroke-dasharray="1 1.3"/>
<line x1="267.40" y1="393.20" x2="270.80" y2="393.20" stroke="#222" stroke-width="1.0"/>
<line x1="267.40" y1="400.87" x2="270.80" y2="400.87" stroke="#222" stroke-width="1.0"/>
<line x1="267.40" y1="408.53" x2="270.80" y2="408.53" stroke="#222" stroke-width="1.0"/>
<line x1="267.40" y1="416.20" x2="270.80" y2="416.20" stroke="#222" stroke-width="1.0"/>
<line x1="267.40" y1="423.87" x2="270.80" y2="423.87" stroke="#222" stroke-width="1.0"/>
<line x1="267.40" y1="431.53" x2="270.80" y2="431.53" stroke="#222" stroke-width="1.0"/>
<line x1="267.40" y1="439.20" x2="270.80" y2="439.20" stroke="#222" stroke-width="1.0"/>
<text x="266.30" y="419.40" font-size="9.25" font-weight="bold" text-anchor="end" fill="#111">NPC</text>
<path d="M295.50 258.00 L295.65 258.00 L296.22 263.05 L297.18 268.10 L298.38 272.14 L300.30 275.37 L303.90 277.19 L308.00 277.60 L307.00 278.80 L301.50 279.80 L299.10 281.00 L296.80 282.40 L295.95 283.12 L295.65 286.40 L295.35 286.40 L295.05 283.12 L294.20 282.40 L291.90 281.00 L289.50 279.80 L284.00 278.80 L283.00 277.60 L287.10 277.19 L290.70 275.37 L292.62 272.14 L293.82 268.10 L294.78 263.05 L295.35 258.00 Z" fill="#fbbcbc" stroke="#3a3a3a" stroke-width="0.45" stroke-linejoin="round"/>
<path d="M332.50 257.60 L332.65 257.60 L333.25 262.75 L334.25 267.90 L335.50 272.02 L337.50 275.32 L341.25 277.17 L345.00 277.60 L344.00 278.80 L338.75 279.80 L336.25 281.00 L333.80 282.40 L332.95 287.20 L332.65 293.20 L332.35 293.20 L332.05 287.20 L331.20 282.40 L328.75 281.00 L326.25 279.80 L321.00 278.80 L320.00 277.60 L323.75 277.17 L327.50 275.32 L329.50 272.02 L330.75 267.90 L331.75 262.75 L332.35 257.60 Z" fill="#f8a7a7" stroke="#3a3a3a" stroke-width="0.45" stroke-linejoin="round"/>
<path d="M369.60 257.60 L369.75 257.60 L370.32 262.75 L371.28 267.90 L372.48 272.02 L374.40 275.32 L378.00 277.17 L382.10 277.60 L381.10 278.80 L375.60 279.80 L373.20 281.00 L370.90 282.40 L370.05 283.60 L369.75 287.20 L369.45 287.20 L369.15 283.60 L368.30 282.40 L366.00 281.00 L363.60 279.80 L358.10 278.80 L357.10 277.60 L361.20 277.17 L364.80 275.32 L366.72 272.02 L367.92 267.90 L368.88 262.75 L369.45 257.60 Z" fill="#f9acac" stroke="#3a3a3a" stroke-width="0.45" stroke-linejoin="round"/>
<path d="M295.50 302.80 L295.70 302.80 L296.30 304.60 L299.00 305.80 L304.50 307.80 L307.70 310.40 L306.50 312.00 L302.00 314.30 L299.50 317.30 L299.10 319.80 L300.10 321.30 L298.50 322.80 L297.70 325.80 L298.50 328.30 L297.90 330.80 L296.50 332.80 L295.70 337.80 L295.30 337.80 L294.50 332.80 L293.10 330.80 L292.50 328.30 L293.30 325.80 L292.50 322.80 L290.90 321.30 L291.90 319.80 L291.50 317.30 L289.00 314.30 L284.50 312.00 L283.30 310.40 L286.50 307.80 L292.00 305.80 L294.70 304.60 L295.30 302.80 Z" fill="#c80000" stroke="#3a3a3a" stroke-width="0.45" stroke-linejoin="round"/>
<path d="M332.50 302.60 L332.70 302.60 L333.30 304.40 L336.00 305.60 L341.50 307.60 L344.70 310.20 L343.50 311.80 L339.00 314.10 L336.50 317.10 L336.10 319.60 L337.10 321.10 L335.50 322.60 L334.70 325.60 L335.50 328.10 L334.90 330.60 L333.50 332.60 L332.70 337.60 L332.30 337.60 L331.50 332.60 L330.10 330.60 L329.50 328.10 L330.30 325.60 L329.50 322.60 L327.90 321.10 L328.90 319.60 L328.50 317.10 L326.00 314.10 L321.50 311.80 L320.30 310.20 L323.50 307.60 L329.00 305.60 L331.70 304.40 L332.30 302.60 Z" fill="#a30000" stroke="#3a3a3a" stroke-width="0.45" stroke-linejoin="round"/>
<path d="M369.60 301.80 L369.80 301.80 L371.60 302.80 L376.60 304.20 L381.10 306.00 L382.00 308.00 L379.60 309.80 L376.10 311.00 L375.60 312.80 L374.20 314.00 L374.00 316.80 L373.20 318.80 L373.20 321.30 L372.20 323.80 L371.80 327.30 L372.60 328.80 L371.80 331.40 L370.50 332.80 L369.80 336.80 L369.40 336.80 L368.70 332.80 L367.40 331.40 L366.60 328.80 L367.40 327.30 L367.00 323.80 L366.00 321.30 L366.00 318.80 L365.20 316.80 L365.00 314.00 L363.60 312.80 L363.10 311.00 L359.60 309.80 L357.20 308.00 L358.10 306.00 L362.60 304.20 L367.60 302.80 L369.40 301.80 Z" fill="#7a0000" stroke="#3a3a3a" stroke-width="0.45" stroke-linejoin="round"/>
<path d="M295.50 350.20 L295.70 350.20 L296.50 352.40 L297.50 355.20 L298.30 358.20 L298.90 361.20 L299.70 364.20 L300.70 366.90 L303.10 368.80 L308.00 369.90 L307.00 371.00 L302.00 372.20 L299.90 373.60 L297.90 375.40 L296.60 377.40 L296.00 379.40 L295.65 383.60 L295.35 383.60 L295.00 379.40 L294.40 377.40 L293.10 375.40 L291.10 373.60 L289.00 372.20 L284.00 371.00 L283.00 369.90 L287.90 368.80 L290.30 366.90 L291.30 364.20 L292.10 361.20 L292.70 358.20 L293.50 355.20 L294.50 352.40 L295.30 350.20 Z" fill="#f8a2a2" stroke="#3a3a3a" stroke-width="0.45" stroke-linejoin="round"/>
<path d="M332.50 349.80 L332.70 349.80 L333.50 352.00 L334.50 354.80 L335.30 357.80 L335.90 360.80 L336.70 363.80 L337.70 366.90 L340.10 368.80 L345.00 369.90 L344.00 371.00 L339.00 372.20 L336.90 373.60 L334.90 375.40 L333.60 377.40 L333.00 379.40 L332.65 388.80 L332.35 388.80 L332.00 379.40 L331.40 377.40 L330.10 375.40 L328.10 373.60 L326.00 372.20 L321.00 371.00 L320.00 369.90 L324.90 368.80 L327.30 366.90 L328.30 363.80 L329.10 360.80 L329.70 357.80 L330.50 354.80 L331.50 352.00 L332.30 349.80 Z" fill="#f58b8b" stroke="#3a3a3a" stroke-width="0.45" stroke-linejoin="round"/>
<path d="M369.60 348.80 L369.80 348.80 L371.20 350.40 L372.80 352.40 L373.20 355.40 L374.00 358.40 L375.00 361.40 L375.80 364.40 L375.60 366.90 L378.10 368.40 L382.00 369.80 L381.10 371.00 L376.60 372.40 L375.40 373.90 L372.60 375.40 L370.80 376.90 L370.05 379.40 L369.75 383.60 L369.45 383.60 L369.15 379.40 L368.40 376.90 L366.60 375.40 L363.80 373.90 L362.60 372.40 L358.10 371.00 L357.20 369.80 L361.10 368.40 L363.60 366.90 L363.40 364.40 L364.20 361.40 L365.20 358.40 L366.00 355.40 L366.40 352.40 L368.00 350.40 L369.40 348.80 Z" fill="#f25252" stroke="#3a3a3a" stroke-width="0.45" stroke-linejoin="round"/>
<path d="M295.50 414.10 L295.80 414.10 L298.10 415.10 L299.90 416.10 L300.10 416.90 L301.90 417.70 L302.30 418.70 L303.90 419.70 L304.50 420.70 L306.10 421.70 L308.10 422.50 L307.50 423.30 L303.90 424.10 L301.50 425.10 L299.70 425.90 L297.90 427.30 L295.80 429.10 L295.20 429.10 L293.10 427.30 L291.30 425.90 L289.50 425.10 L287.10 424.10 L283.50 423.30 L282.90 422.50 L284.90 421.70 L286.50 420.70 L287.10 419.70 L288.70 418.70 L289.10 417.70 L290.90 416.90 L291.10 416.10 L292.90 415.10 L295.20 414.10 Z" fill="#1a1aff" stroke="#3a3a3a" stroke-width="0.45" stroke-linejoin="round"/>
<path d="M332.50 414.50 L332.80 414.50 L335.90 415.10 L337.50 415.70 L338.90 416.50 L340.10 417.10 L340.50 417.90 L342.10 418.50 L342.50 419.30 L343.50 419.90 L343.90 420.70 L345.30 421.50 L344.70 422.50 L342.50 423.30 L338.50 424.10 L335.90 424.90 L332.80 425.70 L332.20 425.70 L329.10 424.90 L326.50 424.10 L322.50 423.30 L320.30 422.50 L319.70 421.50 L321.10 420.70 L321.50 419.90 L322.50 419.30 L322.90 418.50 L324.50 417.90 L324.90 417.10 L326.10 416.50 L327.50 415.70 L329.10 415.10 L332.20 414.50 Z" fill="#4848ff" stroke="#3a3a3a" stroke-width="0.45" stroke-linejoin="round"/>
<path d="M369.60 412.30 L369.90 412.30 L371.00 413.30 L372.40 414.50 L373.00 415.50 L374.80 416.30 L375.40 417.30 L377.20 418.30 L377.60 419.30 L379.80 420.30 L382.00 421.30 L381.20 422.10 L379.00 422.90 L377.20 423.70 L376.40 424.70 L374.00 425.70 L372.00 426.90 L369.90 427.70 L369.30 427.70 L367.20 426.90 L365.20 425.70 L362.80 424.70 L362.00 423.70 L360.20 422.90 L358.00 422.10 L357.20 421.30 L359.40 420.30 L361.60 419.30 L362.00 418.30 L363.80 417.30 L364.40 416.30 L366.20 415.50 L366.80 414.50 L368.20 413.30 L369.30 412.30 Z" fill="#2b2bff" stroke="#3a3a3a" stroke-width="0.45" stroke-linejoin="round"/>
<rect x="270.80" y="255.20" width="122.90" height="184.00" rx="0" fill="none" stroke="#222" stroke-width="1.3"/>
<line x1="270.80" y1="301.20" x2="393.70" y2="301.20" stroke="#222" stroke-width="1.3"/>
<line x1="270.80" y1="347.20" x2="393.70" y2="347.20" stroke="#222" stroke-width="1.3"/>
<line x1="270.80" y1="393.20" x2="393.70" y2="393.20" stroke="#222" stroke-width="1.3"/>
<line x1="295.50" y1="439.20" x2="295.50" y2="442.40" stroke="#222" stroke-width="1.2"/>
<line x1="332.50" y1="439.20" x2="332.50" y2="442.40" stroke="#222" stroke-width="1.2"/>
<line x1="369.60" y1="439.20" x2="369.60" y2="442.40" stroke="#222" stroke-width="1.2"/>
<text x="295.50" y="449.50" font-size="8.6" font-weight="bold" text-anchor="middle" fill="#111">Uninjured</text>
<text x="332.50" y="449.50" font-size="8.6" font-weight="bold" text-anchor="middle" fill="#111">SCI</text>
<text x="369.60" y="449.50" font-size="8.6" font-weight="bold" text-anchor="middle" fill="#111">dSCI</text>
<defs><linearGradient id="ecb" x1="0" y1="0" x2="0" y2="1"><stop offset="0" stop-color="#7a0000"/><stop offset="0.33" stop-color="#ff0000"/><stop offset="0.67" stop-color="#ffffff"/><stop offset="1" stop-color="#0000ff"/></linearGradient></defs>
<rect x="412.30" y="310.10" width="8.60" height="74.40" rx="0" fill="url(#ecb)" stroke="none" stroke-width="1"/>
<text x="422.60" y="313.60" font-size="8.3" text-anchor="start" fill="#222">&gt;8</text>
<text x="422.60" y="338.70" font-size="8.3" text-anchor="start" fill="#222">4</text>
<text x="422.60" y="363.30" font-size="8.3" text-anchor="start" fill="#222">0</text>
<text x="422.60" y="387.60" font-size="8.3" text-anchor="start" fill="#222">&lt;-4</text>
<text transform="translate(407.9 347.4) rotate(-90)" font-size="8.2" text-anchor="middle" fill="#222">Median DEG (Log<tspan font-size="5.6" dy="1.8">2</tspan><tspan dy="-1.8">FC)</tspan></text>
<text x="570.50" y="248.00" font-size="9.5" font-weight="bold" text-anchor="middle" fill="#111">Top DEGs affected by tissue environment</text>
<text x="568.0" y="262.0" font-size="8.15" text-anchor="middle" fill="#222">DEG (Log<tspan font-size="5.3" dy="1.8">2</tspan><tspan dy="-1.8">FC) relative to NPC (pregraft)</tspan></text>
<defs><linearGradient id="fcb" x1="0" y1="0" x2="1" y2="0"><stop offset="0" stop-color="#0000ff"/><stop offset="0.5" stop-color="#00e4ff"/><stop offset="0.5" stop-color="#ffff00"/><stop offset="0.75" stop-color="#ff9a00"/><stop offset="1" stop-color="#ff0000"/></linearGradient></defs>
<rect x="521.90" y="268.00" width="89.90" height="4.90" rx="0" fill="url(#fcb)" stroke="none" stroke-width="1"/>
<text x="522.40" y="279.00" font-size="6.3" text-anchor="middle" fill="#444">&lt;-10</text>
<text x="566.60" y="279.00" font-size="6.3" text-anchor="middle" fill="#444">0</text>
<text x="611.40" y="279.00" font-size="6.3" text-anchor="middle" fill="#444">&gt;10</text>
<text x="569.70" y="298.70" font-size="9.45" font-weight="bold" text-anchor="middle" fill="#111">Astrocyte States</text>
<line x1="472.80" y1="303.40" x2="666.30" y2="303.40" stroke="#777" stroke-width="1.3"/>
<text x="454.50" y="320.00" font-size="9.5" font-weight="bold" text-anchor="start" fill="#111">Healthy Panel</text>
<rect x="458.10" y="328.20" width="8.92" height="8.81" rx="0" fill="#ff5000" stroke="none" stroke-width="1"/>
<rect x="466.87" y="328.20" width="8.92" height="8.81" rx="0" fill="#ff1000" stroke="none" stroke-width="1"/>
<rect x="475.63" y="328.20" width="8.92" height="8.81" rx="0" fill="#ff2200" stroke="none" stroke-width="1"/>
<text x="485.70" y="335.50" font-size="8.7" text-anchor="start" fill="#1a1a1a">Myoc</text>
<rect x="458.10" y="336.86" width="8.92" height="8.81" rx="0" fill="#ff5800" stroke="none" stroke-width="1"/>
<rect x="466.87" y="336.86" width="8.92" height="8.81" rx="0" fill="#ff0c00" stroke="none" stroke-width="1"/>
<rect x="475.63" y="336.86" width="8.92" height="8.81" rx="0" fill="#ff1a00" stroke="none" stroke-width="1"/>
<text x="485.70" y="344.16" font-size="8.7" text-anchor="start" fill="#1a1a1a">Chil1</text>
<rect x="458.10" y="345.52" width="8.92" height="8.81" rx="0" fill="#ff6000" stroke="none" stroke-width="1"/>
<rect x="466.87" y="345.52" width="8.92" height="8.81" rx="0" fill="#ff2600" stroke="none" stroke-width="1"/>
<rect x="475.63" y="345.52" width="8.92" height="8.81" rx="0" fill="#ff4a00" stroke="none" stroke-width="1"/>
<text x="485.70" y="352.82" font-size="8.7" text-anchor="start" fill="#1a1a1a">Mt2</text>
<rect x="458.10" y="354.18" width="8.92" height="8.81" rx="0" fill="#ff6400" stroke="none" stroke-width="1"/>
<rect x="466.87" y="354.18" width="8.92" height="8.81" rx="0" fill="#ff3000" stroke="none" stroke-width="1"/>
<rect x="475.63" y="354.18" width="8.92" height="8.81" rx="0" fill="#ff1200" stroke="none" stroke-width="1"/>
<text x="485.70" y="361.48" font-size="8.7" text-anchor="start" fill="#1a1a1a">Apoc1</text>
<rect x="458.10" y="362.84" width="8.92" height="8.81" rx="0" fill="#ff8800" stroke="none" stroke-width="1"/>
<rect x="466.87" y="362.84" width="8.92" height="8.81" rx="0" fill="#ff4800" stroke="none" stroke-width="1"/>
<rect x="475.63" y="362.84" width="8.92" height="8.81" rx="0" fill="#ff7000" stroke="none" stroke-width="1"/>
<text x="485.70" y="370.14" font-size="8.7" text-anchor="start" fill="#1a1a1a">Mt1</text>
<rect x="458.10" y="371.50" width="8.92" height="8.81" rx="0" fill="#ffa000" stroke="none" stroke-width="1"/>
<rect x="466.87" y="371.50" width="8.92" height="8.81" rx="0" fill="#ff7000" stroke="none" stroke-width="1"/>
<rect x="475.63" y="371.50" width="8.92" height="8.81" rx="0" fill="#ff5600" stroke="none" stroke-width="1"/>
<text x="485.70" y="378.80" font-size="8.7" text-anchor="start" fill="#1a1a1a">Abca1</text>
<rect x="458.10" y="380.16" width="8.92" height="8.81" rx="0" fill="#ffb000" stroke="none" stroke-width="1"/>
<rect x="466.87" y="380.16" width="8.92" height="8.81" rx="0" fill="#ff8000" stroke="none" stroke-width="1"/>
<rect x="475.63" y="380.16" width="8.92" height="8.81" rx="0" fill="#ff9200" stroke="none" stroke-width="1"/>
<text x="485.70" y="387.46" font-size="8.7" text-anchor="start" fill="#1a1a1a">Cst3</text>
<rect x="458.10" y="388.82" width="8.92" height="8.81" rx="0" fill="#ffffff" stroke="none" stroke-width="1"/>
<rect x="466.87" y="388.82" width="8.92" height="8.81" rx="0" fill="#ffc400" stroke="none" stroke-width="1"/>
<rect x="475.63" y="388.82" width="8.92" height="8.81" rx="0" fill="#ffd000" stroke="none" stroke-width="1"/>
<text x="485.70" y="396.12" font-size="8.7" text-anchor="start" fill="#1a1a1a">Tmem176a</text>
<rect x="458.10" y="397.48" width="8.92" height="8.81" rx="0" fill="#12ccf0" stroke="none" stroke-width="1"/>
<rect x="466.87" y="397.48" width="8.92" height="8.81" rx="0" fill="#ffe000" stroke="none" stroke-width="1"/>
<rect x="475.63" y="397.48" width="8.92" height="8.81" rx="0" fill="#ffffff" stroke="none" stroke-width="1"/>
<text x="485.70" y="404.78" font-size="8.7" text-anchor="start" fill="#1a1a1a">Id1</text>
<rect x="458.10" y="406.14" width="8.92" height="8.81" rx="0" fill="#12ccf0" stroke="none" stroke-width="1"/>
<rect x="466.87" y="406.14" width="8.92" height="8.81" rx="0" fill="#ffee00" stroke="none" stroke-width="1"/>
<rect x="475.63" y="406.14" width="8.92" height="8.81" rx="0" fill="#ffffff" stroke="none" stroke-width="1"/>
<text x="485.70" y="413.44" font-size="8.7" text-anchor="start" fill="#1a1a1a">Id3</text>
<rect x="458.10" y="328.20" width="26.30" height="86.60" rx="0" fill="none" stroke="#555" stroke-width="0.7"/>
<text transform="translate(459.40 416.00) rotate(90)" font-size="8.3" fill="#222">Uninj</text>
<text transform="translate(468.17 416.00) rotate(90)" font-size="8.3" fill="#222">SCI</text>
<text transform="translate(476.93 416.00) rotate(90)" font-size="8.3" fill="#222">dSCI</text>
<text x="537.20" y="320.00" font-size="9.5" font-weight="bold" text-anchor="start" fill="#111">Reactivity Panel</text>
<rect x="545.80" y="328.20" width="8.92" height="8.81" rx="0" fill="#ff4000" stroke="none" stroke-width="1"/>
<rect x="554.57" y="328.20" width="8.92" height="8.81" rx="0" fill="#ff1000" stroke="none" stroke-width="1"/>
<rect x="563.33" y="328.20" width="8.92" height="8.81" rx="0" fill="#ff1000" stroke="none" stroke-width="1"/>
<text x="573.40" y="335.50" font-size="8.7" text-anchor="start" fill="#1a1a1a">Cd22</text>
<rect x="545.80" y="336.86" width="8.92" height="8.81" rx="0" fill="#ff4a00" stroke="none" stroke-width="1"/>
<rect x="554.57" y="336.86" width="8.92" height="8.81" rx="0" fill="#ff0800" stroke="none" stroke-width="1"/>
<rect x="563.33" y="336.86" width="8.92" height="8.81" rx="0" fill="#ff1000" stroke="none" stroke-width="1"/>
<text x="573.40" y="344.16" font-size="8.7" text-anchor="start" fill="#1a1a1a">Tgm1</text>
<rect x="545.80" y="345.52" width="8.92" height="8.81" rx="0" fill="#ff4a00" stroke="none" stroke-width="1"/>
<rect x="554.57" y="345.52" width="8.92" height="8.81" rx="0" fill="#ff1200" stroke="none" stroke-width="1"/>
<rect x="563.33" y="345.52" width="8.92" height="8.81" rx="0" fill="#ff0800" stroke="none" stroke-width="1"/>
<text x="573.40" y="352.82" font-size="8.7" text-anchor="start" fill="#1a1a1a">Ms4a7</text>
<rect x="545.80" y="354.18" width="8.92" height="8.81" rx="0" fill="#ff5000" stroke="none" stroke-width="1"/>
<rect x="554.57" y="354.18" width="8.92" height="8.81" rx="0" fill="#ff0800" stroke="none" stroke-width="1"/>
<rect x="563.33" y="354.18" width="8.92" height="8.81" rx="0" fill="#ff1000" stroke="none" stroke-width="1"/>
<text x="573.40" y="361.48" font-size="8.7" text-anchor="start" fill="#1a1a1a">Clec4d</text>
<rect x="545.80" y="362.84" width="8.92" height="8.81" rx="0" fill="#ff5000" stroke="none" stroke-width="1"/>
<rect x="554.57" y="362.84" width="8.92" height="8.81" rx="0" fill="#ff1a00" stroke="none" stroke-width="1"/>
<rect x="563.33" y="362.84" width="8.92" height="8.81" rx="0" fill="#ff0800" stroke="none" stroke-width="1"/>
<text x="573.40" y="370.14" font-size="8.7" text-anchor="start" fill="#1a1a1a">Gpnmb</text>
<rect x="545.80" y="371.50" width="8.92" height="8.81" rx="0" fill="#ff9800" stroke="none" stroke-width="1"/>
<rect x="554.57" y="371.50" width="8.92" height="8.81" rx="0" fill="#ff4000" stroke="none" stroke-width="1"/>
<rect x="563.33" y="371.50" width="8.92" height="8.81" rx="0" fill="#ff4a00" stroke="none" stroke-width="1"/>
<text x="573.40" y="378.80" font-size="8.7" text-anchor="start" fill="#1a1a1a">Steap4</text>
<rect x="545.80" y="380.16" width="8.92" height="8.81" rx="0" fill="#ffba00" stroke="none" stroke-width="1"/>
<rect x="554.57" y="380.16" width="8.92" height="8.81" rx="0" fill="#ff8400" stroke="none" stroke-width="1"/>
<rect x="563.33" y="380.16" width="8.92" height="8.81" rx="0" fill="#ff5200" stroke="none" stroke-width="1"/>
<text x="573.40" y="387.46" font-size="8.7" text-anchor="start" fill="#1a1a1a">Adam8</text>
<rect x="545.80" y="388.82" width="8.92" height="8.81" rx="0" fill="#ffffff" stroke="none" stroke-width="1"/>
<rect x="554.57" y="388.82" width="8.92" height="8.81" rx="0" fill="#ff5000" stroke="none" stroke-width="1"/>
<rect x="563.33" y="388.82" width="8.92" height="8.81" rx="0" fill="#ff1800" stroke="none" stroke-width="1"/>
<text x="573.40" y="396.12" font-size="8.7" text-anchor="start" fill="#1a1a1a">Saa3</text>
<rect x="545.80" y="397.48" width="8.92" height="8.81" rx="0" fill="#ffffff" stroke="none" stroke-width="1"/>
<rect x="554.57" y="397.48" width="8.92" height="8.81" rx="0" fill="#ffa000" stroke="none" stroke-width="1"/>
<rect x="563.33" y="397.48" width="8.92" height="8.81" rx="0" fill="#ffa200" stroke="none" stroke-width="1"/>
<text x="573.40" y="404.78" font-size="8.7" text-anchor="start" fill="#1a1a1a">Cxcl10</text>
<rect x="545.80" y="406.14" width="8.92" height="8.81" rx="0" fill="#ffffff" stroke="none" stroke-width="1"/>
<rect x="554.57" y="406.14" width="8.92" height="8.81" rx="0" fill="#ffc800" stroke="none" stroke-width="1"/>
<rect x="563.33" y="406.14" width="8.92" height="8.81" rx="0" fill="#ffa800" stroke="none" stroke-width="1"/>
<text x="573.40" y="413.44" font-size="8.7" text-anchor="start" fill="#1a1a1a">Plau</text>
<rect x="545.80" y="328.20" width="26.30" height="86.60" rx="0" fill="none" stroke="#555" stroke-width="0.7"/>
<text transform="translate(547.10 416.00) rotate(90)" font-size="8.3" fill="#222">Uninj</text>
<text transform="translate(555.87 416.00) rotate(90)" font-size="8.3" fill="#222">SCI</text>
<text transform="translate(564.63 416.00) rotate(90)" font-size="8.3" fill="#222">dSCI</text>
<text x="625.60" y="320.00" font-size="9.5" font-weight="bold" text-anchor="start" fill="#111">EMT Panel</text>
<rect x="623.50" y="328.20" width="8.92" height="8.81" rx="0" fill="#ff3000" stroke="none" stroke-width="1"/>
<rect x="632.27" y="328.20" width="8.92" height="8.81" rx="0" fill="#ff1000" stroke="none" stroke-width="1"/>
<rect x="641.03" y="328.20" width="8.92" height="8.81" rx="0" fill="#ff1000" stroke="none" stroke-width="1"/>
<text x="651.10" y="335.50" font-size="8.7" text-anchor="start" fill="#1a1a1a">Ptx3</text>
<rect x="623.50" y="336.86" width="8.92" height="8.81" rx="0" fill="#ff6000" stroke="none" stroke-width="1"/>
<rect x="632.27" y="336.86" width="8.92" height="8.81" rx="0" fill="#ff4200" stroke="none" stroke-width="1"/>
<rect x="641.03" y="336.86" width="8.92" height="8.81" rx="0" fill="#ff2000" stroke="none" stroke-width="1"/>
<text x="651.10" y="344.16" font-size="8.7" text-anchor="start" fill="#1a1a1a">Anpep</text>
<rect x="623.50" y="345.52" width="8.92" height="8.81" rx="0" fill="#ff9000" stroke="none" stroke-width="1"/>
<rect x="632.27" y="345.52" width="8.92" height="8.81" rx="0" fill="#ff4a00" stroke="none" stroke-width="1"/>
<rect x="641.03" y="345.52" width="8.92" height="8.81" rx="0" fill="#ff4a00" stroke="none" stroke-width="1"/>
<text x="651.10" y="352.82" font-size="8.7" text-anchor="start" fill="#1a1a1a">Timp1</text>
<rect x="623.50" y="354.18" width="8.92" height="8.81" rx="0" fill="#ff9800" stroke="none" stroke-width="1"/>
<rect x="632.27" y="354.18" width="8.92" height="8.81" rx="0" fill="#ff5a00" stroke="none" stroke-width="1"/>
<rect x="641.03" y="354.18" width="8.92" height="8.81" rx="0" fill="#ff4200" stroke="none" stroke-width="1"/>
<text x="651.10" y="361.48" font-size="8.7" text-anchor="start" fill="#1a1a1a">Serpine1</text>
<rect x="623.50" y="362.84" width="8.92" height="8.81" rx="0" fill="#ffa200" stroke="none" stroke-width="1"/>
<rect x="632.27" y="362.84" width="8.92" height="8.81" rx="0" fill="#ff7400" stroke="none" stroke-width="1"/>
<rect x="641.03" y="362.84" width="8.92" height="8.81" rx="0" fill="#ff5a00" stroke="none" stroke-width="1"/>
<text x="651.10" y="370.14" font-size="8.7" text-anchor="start" fill="#1a1a1a">Spp1</text>
<rect x="623.50" y="371.50" width="8.92" height="8.81" rx="0" fill="#ffffff" stroke="none" stroke-width="1"/>
<rect x="632.27" y="371.50" width="8.92" height="8.81" rx="0" fill="#ff3a00" stroke="none" stroke-width="1"/>
<rect x="641.03" y="371.50" width="8.92" height="8.81" rx="0" fill="#ff3000" stroke="none" stroke-width="1"/>
<text x="651.10" y="378.80" font-size="8.7" text-anchor="start" fill="#1a1a1a">Cxcl1</text>
<rect x="623.50" y="380.16" width="8.92" height="8.81" rx="0" fill="#ffffff" stroke="none" stroke-width="1"/>
<rect x="632.27" y="380.16" width="8.92" height="8.81" rx="0" fill="#ffa800" stroke="none" stroke-width="1"/>
<rect x="641.03" y="380.16" width="8.92" height="8.81" rx="0" fill="#ff8800" stroke="none" stroke-width="1"/>
<text x="651.10" y="387.46" font-size="8.7" text-anchor="start" fill="#1a1a1a">Col7a1</text>
<rect x="623.50" y="388.82" width="8.92" height="8.81" rx="0" fill="#ffffff" stroke="none" stroke-width="1"/>
<rect x="632.27" y="388.82" width="8.92" height="8.81" rx="0" fill="#ffc800" stroke="none" stroke-width="1"/>
<rect x="641.03" y="388.82" width="8.92" height="8.81" rx="0" fill="#ffb000" stroke="none" stroke-width="1"/>
<text x="651.10" y="396.12" font-size="8.7" text-anchor="start" fill="#1a1a1a">Snai2</text>
<rect x="623.50" y="397.48" width="8.92" height="8.81" rx="0" fill="#ffffff" stroke="none" stroke-width="1"/>
<rect x="632.27" y="397.48" width="8.92" height="8.81" rx="0" fill="#ffd800" stroke="none" stroke-width="1"/>
<rect x="641.03" y="397.48" width="8.92" height="8.81" rx="0" fill="#ffb000" stroke="none" stroke-width="1"/>
<text x="651.10" y="404.78" font-size="8.7" text-anchor="start" fill="#1a1a1a">Sfrp1</text>
<rect x="623.50" y="406.14" width="8.92" height="8.81" rx="0" fill="#ffffff" stroke="none" stroke-width="1"/>
<rect x="632.27" y="406.14" width="8.92" height="8.81" rx="0" fill="#ffe800" stroke="none" stroke-width="1"/>
<rect x="641.03" y="406.14" width="8.92" height="8.81" rx="0" fill="#ffa000" stroke="none" stroke-width="1"/>
<text x="651.10" y="413.44" font-size="8.7" text-anchor="start" fill="#1a1a1a">Col4a2</text>
<rect x="623.50" y="328.20" width="26.30" height="86.60" rx="0" fill="none" stroke="#555" stroke-width="0.7"/>
<text transform="translate(624.80 416.00) rotate(90)" font-size="8.3" fill="#222">Uninj</text>
<text transform="translate(633.57 416.00) rotate(90)" font-size="8.3" fill="#222">SCI</text>
<text transform="translate(642.33 416.00) rotate(90)" font-size="8.3" fill="#222">dSCI</text>
<text x="131.40" y="476.70" font-size="11.05" font-weight="bold" text-anchor="middle" fill="#111">SCI relative to Uninjured</text>
<text x="96.00" y="585.90" font-size="9.6" font-weight="bold" text-anchor="middle" fill="#111">4</text>
<text x="142.20" y="585.90" font-size="9.6" font-weight="bold" text-anchor="middle" fill="#111">6</text>
<text x="188.40" y="585.90" font-size="9.6" font-weight="bold" text-anchor="middle" fill="#111">8</text>
<path transform="scale(0.2)" d="M174 2494h0m-17-4h0m-1 7h0m-13 26h0m2-8h0m14 9h0m3-11h0m0-11h0m4 5h0m5 12h0m2 5h0m1-9h0m0-9h0m3 17h0m1-11h0m1-1h0m1 10h0m4-15h0m6 5h0m0-9h0m1 19h0m0 2h0m3-9h0m3 3h0m5 5h0m1-4h0m6-9h0m2 7h0m18 0h0m5-4h0m11-5h0m-24 35h0m-7-6h0m-1-3h0m-2 8h0m-11-11h0m-5 17h0m0-5h0m-2 7h0m0-17h0m-1 5h0m-1-10h0m0 14h0m-3 3h0m0-15h0m-1 3h0m0 1h0m-1-2h0m0-2h0m-2 20h0m-2-1h0m-2-9h0m-1 7h0m-1-12h0m-2-2h0m0 17h0m-1-6h0m-2 2h0m0-10h0m-1 13h0m-1 1h0m0-19h0m0 8h0m-2 6h0m0-8h0m0-7h0m-2 6h0m0-7h0m-4 7h0m0 11h0m-1-19h0m0 14h0m-2 6h0m-1-2h0m-4-8h0m-2 10h0m-1-6h0m-4-12h0m-13-2h0m0 39h0m8 7h0m2 1h0m3-20h0m2 19h0m3 1h0m0-11h0m2 7h0m0-7h0m2 10h0m0-7h0m0 5h0m0-10h0m2 7h0m1-5h0m2 4h0m1 0h0m1-1h0m0 2h0m0 0h0m1-14h0m1 14h0m0 3h0m1 0h0m1 1h0m0-5h0m2 0h0m0 6h0m0-12h0m0 0h0m1 2h0m1-8h0m0 6h0m1 9h0m1-18h0m0 11h0m1-6h0m0 10h0m1-6h0m0-9h0m1 11h0m0-13h0m1 13h0m1-5h0m0-7h0m2 5h0m0 0h0m1-1h0m2-2h0m1 15h0m2-12h0m1 15h0m1-14h0m1 7h0m2-4h0m1-6h0m1 8h0m0-10h0m2 16h0m0-16h0m1 7h0m0 11h0m0 3h0m1-18h0m1 8h0m2 3h0m6 0h0m2-6h0m1-3h0m17-6h0m6 12h0m8 5h0m5 6h0m1-12h0m-2 22h0m-3 5h0m-11-9h0m-7 18h0m-1-19h0m-3 15h0m-11-18h0m-3 4h0m-3 2h0m-3 16h0m-1-9h0m0-9h0m0 10h0m-4-13h0m0 16h0m-1-14h0m-1-3h0m0 3h0m0 3h0m0 4h0m-1 7h0m-3-12h0m0-4h0m-3 3h0m-1 1h0m0-2h0m-1 4h0m-2 6h0m0 5h0m0-4h0m-1-4h0m0 10h0m0 3h0m-1-15h0m0 0h0m0 10h0m0 0h0m-1-17h0m-1 11h0m-1-1h0m-1-11h0m-1 14h0m0-15h0m-1 1h0m-1 11h0m0 4h0m-2-12h0m0 11h0m0-12h0m-1 12h0m0 0h0m-1 1h0m-1 8h0m0-19h0m0 1h0m0-6h0m-1 7h0m0 1h0m0 13h0m-1-20h0m-1 0h0m0 15h0m0-15h0m-1 14h0m-1-15h0m-1 14h0m0 7h0m-1-18h0m0 16h0m-1 1h0m-1-4h0m0-10h0m0-5h0m0 17h0m-2-10h0m-1 2h0m0-5h0m0 2h0m-2 6h0m-1 11h0m-2-20h0m0-3h0m-1 19h0m0-9h0m-2 11h0m0-1h0m-1 0h0m0-1h0m0-12h0m-1-5h0m0 20h0m-1-11h0m0-5h0m-1 15h0m-8-4h0m-1 15h0m0 16h0m0-17h0m0 11h0m0-2h0m0 8h0m1-3h0m0-4h0m1-12h0m0 9h0m1 5h0m0-14h0m0 15h0m1-19h0m1 6h0m0 4h0m1-4h0m0 8h0m0-4h0m1 8h0m0 1h0m0-10h0m0 9h0m2-15h0m1 10h0m1 9h0m1-1h0m0-15h0m0-4h0m1 7h0m0-5h0m0 14h0m0-9h0m1 3h0m1 4h0m1 7h0m0-5h0m0 5h0m1-18h0m1-1h0m0 14h0m1-17h0m1 18h0m0-8h0m0 7h0m1-10h0m0-8h0m0 15h0m1-7h0m0 3h0m1-5h0m1 17h0m1-8h0m0-9h0m1 10h0m0-1h0m1 8h0m0-22h0m0 0h0m1 8h0m0 13h0m1-15h0m0 5h0m0-12h0m0 8h0m1-8h0m0 4h0m0 8h0m0-3h0m1-8h0m0 16h0m0 3h0m1-13h0m0 13h0m0-16h0m0 3h0m1 5h0m0-4h0m1 8h0m0-9h0m0 11h0m3-19h0m1 1h0m2 5h0m0-4h0m1 4h0m1 3h0m1-8h0m0 19h0m1 0h0m1 2h0m1 0h0m1-17h0m1 6h0m1-6h0m5 16h0m5 3h0m-3 3h0m-5 20h0m-3-10h0m-1 11h0m-2-8h0m0-4h0m-5 9h0m-3-16h0m-1-3h0m-4 23h0m0-11h0m-2-1h0m0-11h0m-3 17h0m-2-6h0m-2-4h0m0 14h0m0-11h0m-1 11h0m0-4h0m-1-13h0m0 2h0m-1-1h0m0 7h0m-3-13h0m-1 15h0m0-3h0m-1 11h0m-2-20h0m-1 7h0m-1 12h0m0-7h0m-1 5h0m-1-15h0m0 3h0m0 3h0m0-6h0m-1 10h0m-2 1h0m0 0h0m-1 5h0m0-1h0m0-7h0m0 11h0m0-15h0m-1 13h0m0-8h0m0-3h0m0 10h0m0-7h0m-1-4h0m0 7h0m-1-13h0m-1-3h0m0 18h0m-1-5h0m0-14h0m0 4h0m0 8h0m0 22h0m0 3h0m0-5h0m0 11h0m0-18h0m0 19h0m0-15h0m0-4h0m0 11h0m0 10h0m0-21h0m0 1h0m0 15h0m1 6h0m0-5h0m0-5h0m1-12h0m1 21h0m1-11h0m0 7h0m1-17h0m0 21h0m1-21h0m0 13h0m2 4h0m1-6h0m0 4h0m0 6h0m1-11h0m1-2h0m1 9h0m0-6h0m0 5h0m1-7h0m1 4h0m4 8h0m0 1h0m0-8h0m1-3h0m0 8h0m1-17h0m3-1h0m0 2h0m0 9h0m1-9h0m1 18h0m2-15h0m0 15h0m3-4h0m1-15h0m0 16h0m1-18h0m36 5h0m8 10h0m16-8h0m11 39h0m-1-21h0m-1 13h0m-36 7h0m-15-19h0m-9 11h0m-8-11h0m-4 19h0m-7-16h0m-1-2h0m0 18h0m-4-14h0m-4 5h0m-3 2h0m-1 4h0m-1 1h0m0-15h0m-1-3h0m0 9h0m-2-7h0m-5 15h0m0-9h0m0-3h0m0 5h0m0-3h0m0 1h0m0 13h0m0-4h0m1 22h0m11-8h0m3 9h0m3 0h0m6-7h0m4-8h0m14 18h0m3 4h0m3 0h0m1-18h0m4 6h0m17 13h0m5-18h0m1-4h0m5 7h0m6 15h0m12-23h0m5 3h0m1 6h0m3 10h0m1-16h0m-22 30h0m0 0h0m-5 3h0m-12 7h0m-2-4h0m-7-10h0m-15-2h0m-9 17h0m-7-1h0m-1-3h0m-6 6h0m-2-14h0m-22 4h0m0 23h0m4 3h0m4-4h0m4-1h0m1 17h0m1-13h0m2-6h0m7-4h0m2 9h0m1 14h0m8-12h0m7 5h0m3-14h0m5 19h0m4-10h0m5 5h0m4-6h0m2-9h0m3-2h0m10 24h0m4-12h0m23 0h0m8-1h0m-3 38h0m-5-18h0m-3 4h0m-1-7h0m-2 17h0m-9-18h0m-2 3h0m-5 8h0m-12-7h0m-2 11h0m-7-1h0m0-2h0m-1-3h0m-12 9h0m-3 3h0m-2-8h0m-1 0h0m0 1h0m0-7h0m-4 12h0m-5-11h0m-3 13h0m0-11h0m-6-1h0m-3 11h0m-16-13h0m-1 7h0m-3-5h0m-1-10h0m2 34h0m1 13h0m5-11h0m4-5h0m2-7h0m3 16h0m2-14h0m3 22h0m2-19h0m3-2h0m0 13h0m0 7h0m2-13h0m0 3h0m6 10h0m1-11h0m6 3h0m0-8h0m6 13h0m2 4h0m8-11h0m1-11h0m0 4h0m1 3h0m1-4h0m1 10h0m1-3h0m0 11h0m2 1h0m4-18h0m0 10h0m10-15h0m3 19h0m6-13h0m1 3h0m4-10h0m0 6h0m1 18h0m3-8h0m2-5h0m3-4h0m1 16h0m1-1h0m0-20h0m1 21h0m2 0h0m2-6h0m3 7h0m1-12h0m1 22h0m-1 4h0m0 7h0m-1-9h0m0-9h0m0 17h0m0-13h0m0 0h0m0 15h0m-1-12h0m0 6h0m0 4h0m0-4h0m-1-7h0m0 10h0m0-1h0m0 2h0m0-2h0m0-17h0m0 24h0m0-5h0m-1-13h0m0 7h0m0 6h0m0-7h0m0 3h0m-1 6h0m0-3h0m0 2h0m-1-5h0m0-2h0m0 11h0m-1-23h0m0 23h0m-1-9h0m0-10h0m0 9h0m-1 4h0m0-6h0m0 5h0m-1-11h0m0 10h0m-1 2h0m0 5h0m0-14h0m0-1h0m-1 14h0m0 2h0m0-15h0m-1 2h0m0 5h0m0-9h0m0 13h0m-1-8h0m0-4h0m0 6h0m-1-10h0m0 2h0m0 9h0m0-1h0m-2-6h0m0 9h0m0-6h0m-1 12h0m0 0h0m0-2h0m0-4h0m-1-16h0m0 12h0m0-6h0m-1 0h0m0 0h0m-1-3h0m0 11h0m0 2h0m0-3h0m-1-4h0m0-1h0m0 2h0m0 7h0m0 4h0m-1-10h0m0 9h0m0-4h0m0 2h0m0-9h0m-1 9h0m0-2h0m0-8h0m0 8h0m0 1h0m-1-2h0m0 1h0m0 1h0m0 3h0m-1-10h0m0 2h0m0 6h0m-1-4h0m0-3h0m-1 9h0m0-16h0m0 16h0m-1-10h0m0 1h0m-1 4h0m0-1h0m0-8h0m-1 7h0m0 4h0m0 1h0m0-11h0m0 15h0m0-11h0m-1-10h0m0 7h0m0-6h0m-1 19h0m0-6h0m0-9h0m0 5h0m0 0h0m0 12h0m0-6h0m0-1h0m0-3h0m-1 8h0m0-1h0m0 0h0m0-7h0m-1-1h0m0 7h0m0 2h0m0-18h0m0 15h0m0-12h0m-1-3h0m0 13h0m-1 3h0m0-13h0m0 6h0m0 9h0m-1-18h0m0 4h0m-1-2h0m0 5h0m0 1h0m0 0h0m-1 0h0m0 8h0m0-12h0m0 13h0m-1-9h0m0 0h0m0 2h0m0 9h0m-1 0h0m0-11h0m0 12h0m-1-8h0m0 0h0m0 3h0m0-3h0m0-15h0m-1 15h0m0 6h0m-1-7h0m0 1h0m0 5h0m0-12h0m-1 3h0m0-3h0m-1 5h0m0 2h0m0 2h0m0 5h0m0 0h0m-2-9h0m-1-10h0m0 7h0m0 3h0m0 8h0m0-11h0m-1 6h0m0 3h0m0-14h0m-1 0h0m0 8h0m-1 2h0m0-7h0m0 14h0m-1-6h0m0-14h0m-1 7h0m0-7h0m0 19h0m0-17h0m0 8h0m-1-12h0m-1 20h0m0-4h0m0 4h0m0-14h0m0 3h0m0 9h0m0 4h0m-1-10h0m0 2h0m-1-2h0m0 2h0m0 9h0m0-11h0m0 7h0m0-1h0m-1-5h0m0-8h0m0 14h0m0-7h0m-1 0h0m0 3h0m-1 6h0m0-11h0m0 5h0m-1 7h0m0-3h0m-1-13h0m0 17h0m0-22h0m0 9h0m0 11h0m0-7h0m-1 5h0m0-12h0m0 12h0m0 3h0m-1 1h0m0-2h0m0 2h0m0 0h0m0-7h0m0-15h0m-1 17h0m0-11h0m0 0h0m0 11h0m0-6h0m-1 11h0m0-3h0m-1-8h0m0 9h0m0 2h0m-1-9h0m-1-3h0m0 5h0m0-8h0m0 13h0m0-1h0m0-16h0m-1-1h0m0 20h0m0-14h0m0-7h0m-1 11h0m-1-1h0m0 8h0m0 1h0m-1-15h0m0 7h0m0 9h0m-1-11h0m0-1h0m0 1h0m0-2h0m0 7h0m0 1h0m0-4h0m-1-1h0m0 6h0m0-5h0m0-9h0m-1 8h0m0-13h0m-1 21h0m0-3h0m0 6h0m-1-12h0m0 12h0m-1 0h0m0-21h0m-1 6h0m0 15h0m0-24h0m0 3h0m-1 21h0m0-6h0m0-16h0m-1 11h0m0-11h0m0 9h0m0 1h0m-1 6h0m0 2h0m0-20h0m0 13h0m-1 0h0m0 9h0m0-20h0m0 18h0m0 3h0m0 0h0m-1-3h0m-1-8h0m0 8h0m0 3h0m0-3h0m0-12h0m0 6h0m-1 7h0m0 0h0m-1-3h0m0 0h0m-2-12h0m0 14h0m-1 1h0m-1-2h0m0-10h0m-1 7h0m0-16h0m0 17h0m0-6h0m-1 12h0m0-4h0m-1-9h0m0-2h0m0 6h0m0 0h0m0 5h0m0-9h0m0 8h0m0-4h0m0 9h0m-1 0h0m0-10h0m0 0h0m0 11h0m0-9h0m-1-9h0m0 5h0m0 8h0m0-8h0m0 2h0m-1 10h0m0-5h0m0-1h0m-1-8h0m0-1h0m0 10h0m0-9h0m0-6h0m0 13h0m0-6h0m-1 9h0m0 4h0m0 0h0m0-19h0m-1 1h0m-1 3h0m0 0h0m0 13h0m0-11h0m-1 2h0m0 0h0m0-4h0m-1 5h0m0-13h0m0 3h0m0 4h0m0 9h0m0-4h0m0 11h0m-2-12h0m0 0h0m0 9h0m-1 4h0m0-16h0m0 11h0m0 0h0m0-3h0m0 7h0m0-18h0m-1 15h0m0 2h0m0 0h0m0-2h0m0-2h0m0-1h0m0-10h0m-1-4h0m-1 19h0m0 2h0m0-11h0m0-9h0m0 16h0m0 4h0m-1-14h0m0 8h0m0-2h0m0 6h0m0-12h0m0 4h0m0-7h0m0 27h0m0 1h0m0-8h0m0 5h0m0-1h0m0 2h0m1-5h0m0-2h0m1 7h0m0-6h0m0 1h0m0 7h0m1-7h0m0 4h0m0 0h0m1-6h0m0 4h0m1 0h0m0 4h0m0-3h0m0-6h0m2 0h0m1 1h0m0 4h0m0-1h0m0 0h0m1-2h0m0 4h0m0 0h0m0 1h0m1-2h0m0-2h0m1 5h0m0-7h0m0 7h0m0-3h0m1-2h0m0-3h0m1 8h0m0 1h0m0-8h0m0-1h0m0 9h0m0-5h0m1-4h0m1 3h0m0-3h0m0 9h0m0-8h0m0 6h0m1-1h0m0-3h0m0 4h0m0-3h0m1-4h0m0 9h0m1-6h0m1 5h0m0-2h0m1-4h0m0 1h0m0 7h0m1-5h0m1 5h0m0-3h0m0-1h0m1-3h0m0 3h0m0 1h0m0-1h0m1-2h0m1 6h0m0-7h0m0-2h0m1 6h0m0-7h0m0 6h0m1 1h0m0-7h0m1 8h0m1-6h0m1 6h0m0-6h0m0 5h0m1 3h0m0-2h0m0 1h0m0-4h0m0 3h0m0-2h0m1-3h0m0 3h0m1-3h0m1 7h0m0-6h0m1-3h0m0 0h0m1 6h0m0 2h0m1-3h0m0 1h0m0 1h0m1 1h0m1-8h0m0 7h0m0 1h0m0-2h0m1-7h0m0 0h0m0 3h0m1-3h0m0 1h0m0 9h0m0-8h0m1 6h0m0-7h0m1 2h0m0 5h0m1-3h0m0-2h0m1 1h0m1-2h0m0 6h0m0 1h0m1-9h0m0 1h0m1 5h0m0-1h0m0 0h0m1 5h0m0-1h0m1-6h0m1-2h0m0 7h0m0-8h0m1 9h0m0-8h0m0 2h0m1 7h0m0-4h0m0-2h0m1 4h0m0-7h0m0 7h0m0-7h0m1 6h0m0 0h0m1 1h0m0-5h0m2 1h0m0 1h0m0 0h0m0 0h0m0 3h0m1-2h0m1 1h0m0 1h0m0 0h0m0 0h0m0-4h0m1 3h0m0-1h0m0-2h0m0-3h0m1 4h0m0-3h0m0 6h0m1-8h0m0 4h0m0-4h0m1 4h0m0 0h0m0-4h0m0 10h0m1-9h0m0 4h0m0 0h0m0 0h0m0 0h0m0-2h0m1 1h0m1 1h0m0 1h0m0-3h0m1 0h0m0 5h0m0-2h0m0 3h0m1-8h0m0 6h0m0 0h0m1-3h0m0 5h0m0-1h0m0-8h0m1 7h0m0-6h0m0 9h0m1-5h0m0 4h0m1-6h0m0 7h0m0-2h0m1-3h0m0 5h0m0-1h0m0-4h0m0-3h0m1 5h0m1-5h0m0-1h0m0 8h0m1-5h0m0 6h0m0-10h0m0 8h0m1-5h0m0 5h0m0 2h0m1-6h0m1-2h0m0 6h0m0 1h0m0-3h0m1-1h0m0 4h0m0-5h0m1-4h0m1 7h0m1 1h0m1-8h0m0 7h0m0-5h0m1 8h0m0-2h0m0-6h0m1-2h0m0 2h0m0-1h0m1 0h0m0 2h0m0 6h0m1-7h0m0 4h0m0 4h0m0-3h0m1 1h0m0-6h0m1 2h0m0-3h0m0-1h0m1 0h0m0 8h0m0-2h0m1 1h0m0-5h0m0 0h0m0 5h0m0-5h0m1 6h0m0-3h0m0 0h0m0 5h0m1 0h0m0-5h0m0 3h0m0-8h0m1 9h0m0 0h0m1-5h0m0 1h0m0 2h0m0 0h0m1 1h0m0-2h0m0 4h0m0-7h0m0 0h0m1 4h0m0-6h0m0 9h0m1-2h0m0 2h0m0-4h0m0-2h0m0-2h0m1 6h0m0 0h0m0 1h0m0-7h0m0 7h0m1-3h0m0-2h0m0-4h0m1 7h0m1 2h0m1 1h0m0-3h0m0 2h0m0-6h0m1-2h0m0 7h0m0 0h0m0 2h0m0-5h0m0 4h0m1-7h0m0 7h0m1 1h0m0-1h0m0-8h0m0 3h0m0-4h0m1 10h0m0-10h0m0 0h0m1 5h0m0 3h0m0-3h0m0-5h0m0 6h0m1-4h0m0 6h0m1 0h0m0-5h0m0 5h0m0-2h0m1-4h0m0-1h0m0 7h0m0 1h0m1-9h0m-1 46h0m0-8h0m0 6h0m0 2h0m0-11h0m-1 10h0m0-11h0m-1 15h0m0-9h0m0-6h0m0 6h0m0-6h0m0 1h0m0 11h0m-1-5h0m0-4h0m-1 9h0m0-1h0m0 2h0m-1-8h0m0 2h0m0-5h0m-1 10h0m0 0h0m0-2h0m0-7h0m0 10h0m-1-3h0m0-5h0m-2-6h0m0 1h0m0 5h0m0 9h0m0-8h0m-2-6h0m0 9h0m-1-10h0m0 14h0m0-3h0m0-8h0m0 9h0m0-3h0m0 5h0m-1-6h0m0 3h0m-1 4h0m0-14h0m0 1h0m-1 7h0m0 2h0m0-9h0m0-2h0m0 4h0m0-3h0m0 14h0m-1-4h0m0-7h0m0 10h0m-1-9h0m0 0h0m0 0h0m0 4h0m-2-9h0m-1 16h0m-1-2h0m0-5h0m0 6h0m0-14h0m0 14h0m-1-1h0m0-4h0m0 4h0m0-1h0m-1-9h0m0 12h0m0-15h0m0 1h0m0 8h0m-1-10h0m0 10h0m0-5h0m0 7h0m-1-10h0m0 3h0m-1 1h0m0 1h0m0-6h0m-2 14h0m0-10h0m0 10h0m0-11h0m-1 12h0m0-12h0m0-2h0m-2 9h0m0-5h0m-1-5h0m0 2h0m0-1h0m0 2h0m0 1h0m0-1h0m-1 3h0m0 7h0m0-13h0m0 14h0m0-11h0m0-3h0m0 12h0m-1-7h0m0 0h0m0 4h0m-1-4h0m0 9h0m0-13h0m0 10h0m-1-2h0m0 3h0m0-1h0m-1-11h0m0 14h0m-1-5h0m0-9h0m0 3h0m0 12h0m0-5h0m-1-11h0m0 11h0m0-2h0m0 3h0m0 2h0m0 0h0m-1-11h0m0 2h0m0 3h0m0 6h0m0-13h0m-1 6h0m0-3h0m0-4h0m0 3h0m0-2h0m0 11h0m-1-12h0m0 13h0m-1 2h0m0-9h0m0 1h0m0-2h0m0 0h0m-1-1h0m-1 7h0m0-5h0m0 4h0m-1-9h0m0 4h0m0 3h0m0-4h0m0 6h0m0 4h0m0-6h0m-1 3h0m-1 0h0m0-10h0m0 8h0m0-4h0m0 2h0m-1-4h0m-1 1h0m0 9h0m0 2h0m0-7h0m-1 0h0m0-1h0m0-2h0m0 3h0m0-5h0m0 11h0m0-12h0m-1 1h0m0 0h0m0 2h0m-1-5h0m0 5h0m0 2h0m-1-1h0m-1 4h0m0-9h0m0 13h0m0 0h0m0-1h0m-1-12h0m0 6h0m0 8h0m0-11h0m-1 5h0m0 2h0m0-11h0m-1 7h0m0-5h0m-1 0h0m0 12h0m0-14h0m0 11h0m-1 3h0m0-10h0m-1 4h0m0-8h0m0 0h0m0 4h0m0-4h0m-1 6h0m0 6h0m-1-6h0m0-1h0m0-5h0m-1 2h0m-1-1h0m0 6h0m0 7h0m0-13h0m-1 13h0m0-13h0m0 11h0m0-11h0m-1 0h0m0 2h0m0 1h0m0 0h0m-1-1h0m0-2h0m0 8h0m0-3h0m0 3h0m-1-3h0m0-1h0m0-1h0m-1 6h0m0 0h0m0-9h0m0 2h0m-1 0h0m0 13h0m0-14h0m-1 9h0m-1-9h0m0-1h0m-1 3h0m0-2h0m0 7h0m0 5h0m0-1h0m-1-6h0m0-4h0m0 9h0m-1-10h0m0 2h0m-1 6h0m0-10h0m0 6h0m-1 2h0m0-8h0m0 2h0m0 12h0m-1-2h0m0-4h0m0 5h0m-1-9h0m0 9h0m0 1h0m0-8h0m-1 4h0m0-9h0m0 0h0m-1 15h0m0-3h0m0-11h0m-1 2h0m0 2h0m0 2h0m0 7h0m-1-6h0m0-3h0m0-2h0m0-4h0m-1 14h0m-1-11h0m0 4h0m-1 0h0m-1-5h0m0 5h0m0 5h0m0-10h0m0 10h0m-1-2h0m0-9h0m-1 13h0m0-11h0m0 1h0m0-1h0m0 9h0m0-10h0m0 7h0m0-6h0m0 11h0m-1-14h0m0 9h0m-1-3h0m0-1h0m0-1h0m0 6h0m-1-8h0m0 4h0m0-4h0m-1 13h0m0-13h0m0 12h0m0-3h0m-1-2h0m-1-5h0m0 12h0m0-12h0m0 9h0m-1 2h0m0-10h0m0-5h0m0 3h0m-1-3h0m0 0h0m0 6h0m0 3h0m-1-7h0m0 3h0m0-5h0m-1 8h0m0 4h0m0-10h0m-1 3h0m0 4h0m-1 5h0m0-12h0m0 0h0m0 3h0m-1-5h0m0 4h0m-1 7h0m0-1h0m0-7h0m-1 0h0m0-2h0m0 1h0m-1 3h0m0 11h0m0-8h0m0-5h0m0 2h0m0 1h0m-1-5h0m0-1h0m0 3h0m-1 11h0m0-14h0m0 13h0m0-7h0m-1-1h0m0-3h0m0 10h0m0-9h0m-1 12h0m0 0h0m-1-2h0m-1-5h0m0-6h0m0 4h0m0 4h0m0-9h0m-1 1h0m0 4h0m0-3h0m0 0h0m0-2h0m0 26h0m0-7h0m0 5h0m0 6h0m1-8h0m1 13h0m0-14h0m0 18h0m1-13h0m0 4h0m1-13h0m0 4h0m1 4h0m1 12h0m0-19h0m0 17h0m0-5h0m0 3h0m0-17h0m0 12h0m1-9h0m0 1h0m1 12h0m0-4h0m1 4h0m0-4h0m0 6h0m1-6h0m1-1h0m0 4h0m1 2h0m0-13h0m1 10h0m0 2h0m0-13h0m0-3h0m1 0h0m0 18h0m1-4h0m0-11h0m0 0h0m0 12h0m0 5h0m1-6h0m0 0h0m0-13h0m0 11h0m1-8h0m0 15h0m1 2h0m0 2h0m0-17h0m0 13h0m1-9h0m0-7h0m0 11h0m1 10h0m1-23h0m0 7h0m0 2h0m1 4h0m0 2h0m0 1h0m1-3h0m0-13h0m0 8h0m0 7h0m1 0h0m0-5h0m1 13h0m0-14h0m0-2h0m0 4h0m0-5h0m0 9h0m1 1h0m0 4h0m0-16h0m0 3h0m0 6h0m0-9h0m1 9h0m0-7h0m0 15h0m0-14h0m0-8h0m0 8h0m0 2h0m0-10h0m0 3h0m1 0h0m0 5h0m0 2h0m0-9h0m0 16h0m0-10h0m0-4h0m1 0h0m0 7h0m0 5h0m0 7h0m0-9h0m0 6h0m1-4h0m0-14h0m0 4h0m0 16h0m0 1h0m0-14h0m1 0h0m0 5h0m0 1h0m1-6h0m0-6h0m1 4h0m0 10h0m0-7h0m1 4h0m0-3h0m0-5h0m1 14h0m1-9h0m0-9h0m0-1h0m0 2h0m1 7h0m0 7h0m0-8h0m1 6h0m0-2h0m0 3h0m1-9h0m0 9h0m0-12h0m0-3h0m0 11h0m0-7h0m0-3h0m0 5h0m1 3h0m0 6h0m0-12h0m1 5h0m0 4h0m1-1h0m1 5h0m0-13h0m0 1h0m0 0h0m0 13h0m1-6h0m0 12h0m0-9h0m1-5h0m0 6h0m0 6h0m0-16h0m1-5h0m2 19h0m0-11h0m1 11h0m0-14h0m0 15h0m0-6h0m1 2h0m0-5h0m2 7h0m0-8h0m1 1h0m0 5h0m1-14h0m0 11h0m1-6h0m0 6h0m0-11h0m0 14h0m0-2h0m0 3h0m0-9h0m1 13h0m1-14h0m0 11h0m1-12h0m0 1h0m0 0h0m1 16h0m0 0h0m0-2h0m0-18h0m1 5h0m0 0h0m0 0h0m0-6h0m0 1h0m0 3h0m0 3h0m1-8h0m0 16h0m0-3h0m0 8h0m0-11h0m1-6h0m0 3h0m0-4h0m0 14h0m1-4h0m0-4h0m0 10h0m0-2h0m0-12h0m2 9h0m0 3h0m0-11h0m0 8h0m0-13h0m1 2h0m0-2h0m0 7h0m1-3h0m0 0h0m1-1h0m0 14h0m1-11h0m0 11h0m0-14h0m1-4h0m0 8h0m0 3h0m1 8h0m0-4h0m0-14h0m1 1h0m2 3h0m1 18h0m0-13h0m0 0h0m1 12h0m0-5h0m1-1h0m0-6h0m1-10h0m0 18h0m1-10h0m0 2h0m0-3h0m0 11h0m0 0h0m2-3h0m1-4h0m1-6h0m0 4h0m0 8h0m1-8h0m0 10h0m0-5h0m1-5h0m0-7h0m0 12h0m0 5h0m0-18h0m0 6h0m1 8h0m0 4h0m1-8h0m2 6h0m0-5h0m0-6h0m0 1h0m1 3h0m0-1h0m0 2h0m0 1h0m1 0h0m1-10h0m0 21h0m0-4h0m0-11h0m1-7h0m1 2h0m2-3h0m1 12h0m0 2h0m0 2h0m1-6h0m0-6h0m1 9h0m0-4h0m0 9h0m1-15h0m1 4h0m0 16h0m0-8h0m0-14h0m0 8h0m0-8h0m0 11h0m1-9h0m0 12h0m0-10h0m0 13h0m0-13h0m0 1h0m1 0h0m0 12h0m0 1h0m0-12h0m0 16h0m0-14h0m0 0h0m0-8h0m1 8h0m1 8h0m1 0h0m0-12h0m0-3h0m1 1h0m0-4h0m0 0h0m1 20h0m0-8h0m0-10h0m0-2h0m0 17h0m0 3h0m1-14h0m0-1h0m0 2h0m1-6h0m0 12h0m0-4h0m0 2h0m0-4h0m1 7h0m0 1h0m1-15h0m0 17h0m0-10h0m0-7h0m1 4h0m0-1h0m1-1h0m-1 24h0m-2 20h0m-2-14h0m0-6h0m0 18h0m-1-16h0m0 18h0m0-14h0m-1 0h0m-1-2h0m-1 3h0m-5-8h0m-1 0h0m0 21h0m0-7h0m0 7h0m-3-12h0m-1-1h0m0-1h0m-1-3h0m0 19h0m-2-12h0m0 6h0m-1-17h0m-1 16h0m-4-16h0m0 4h0m0 5h0m-2-3h0m-2 9h0m-1 8h0m0-17h0m-1 5h0m-1-8h0m0-1h0m0 2h0m0 15h0m0-2h0m-3-7h0m-2 4h0m0 9h0m-2-19h0m0 8h0m0-8h0m-4 11h0m-1 5h0m-1-16h0m-1 4h0m0 0h0m0-4h0m-1-4h0m-1 10h0m-1 2h0m-1-7h0m-1 1h0m-2 7h0m-3-6h0m-1-3h0m0 13h0m-3-15h0m0 6h0m-1 8h0m-2-16h0m0 11h0m-2-1h0m-1 8h0m-2-14h0m-1 0h0m-5-4h0m0 9h0m-2-5h0m-1 14h0m0 3h0m-1-7h0m-2-10h0m-1-3h0m-2 3h0m0 0h0m-1 7h0m0-1h0m-1 7h0m0-4h0m-1-8h0m0 14h0m0-15h0m-2 0h0m0 5h0m-1 11h0m0-2h0m-3-7h0m-1 10h0m-1-17h0m0 12h0m-2-14h0m0 14h0m-1-12h0m-1 12h0m0-11h0m-1-1h0m-5 5h0m-1-5h0m0-2h0m0 3h0m0 2h0m-1-3h0m0 8h0m-1 3h0m-1 4h0m0-12h0m-2-7h0m0 9h0m-1 2h0m1 31h0m1-7h0m7 14h0m4-12h0m3-1h0m1 8h0m0-7h0m1 3h0m1-1h0m3 3h0m0-8h0m3 13h0m2-14h0m5 7h0m2-7h0m1-3h0m2 11h0m2 6h0m1-22h0m0 0h0m1 0h0m1 24h0m1-6h0m2-7h0m4-7h0m4 0h0m0 0h0m2 19h0m1-14h0m8 4h0m1-6h0m1 0h0m0-2h0m0 2h0m1 13h0m0 4h0m0-8h0m2 3h0m1-15h0m1 8h0m2-10h0m1 10h0m5-9h0m3 17h0m1-2h0m1-9h0m1-6h0m2 1h0m4 8h0m4-4h0m2 3h0m1 2h0m11-2h0m4 14h0m-5 5h0m-2 6h0m-2-4h0m0 14h0m0-8h0m-5-10h0m-5 15h0m-3-11h0m-2-4h0m-2 5h0m-4 16h0m-12-4h0m-2-18h0m-5 22h0m-1-21h0m-1 20h0m-5-2h0m-5-6h0m-1-12h0m-1 2h0m0 14h0m0-16h0m-5 0h0m-2 5h0m0-2h0m-1-1h0m-5 10h0m-3-1h0m-4-11h0m-3 17h0m-2-18h0m0 20h0m0-18h0m-4 18h0m-1-17h0m-7 6h0m-2-11h0m0 20h0m-1-17h0m-2 6h0m-3 4h0m0 3h0m-1-13h0m-3 9h0m-4 37h0m0-22h0m3 20h0m3-21h0m0 20h0m2-4h0m2-11h0m1 15h0m1-6h0m0-6h0m2-2h0m0 15h0m4-14h0m2 5h0m1 11h0m4-13h0m1-7h0m0-1h0m2 18h0m6-10h0m1 3h0m5-13h0m4 6h0m3 15h0m3-19h0m0 4h0m5-7h0m4 8h0m2 12h0m7-10h0m5 14h0m9-15h0m2 6h0m7-13h0m1 0h0m1 11h0m1 8h0m7-8h0m3-13h0m2 11h0m10 5h0m0 1h0m-8 8h0m-13 24h0m-24-18h0m-1 10h0m-17 7h0m-1-3h0m-13-11h0m-2-9h0m-2 6h0m-1-4h0m-1-2h0m-1 9h0m0 8h0m-2-14h0m0 14h0m0-5h0m-4-10h0m-2 3h0m-3 5h0m-2 6h0m-1-6h0m-2-10h0m-1 23h0m-3-5h0m0-5h0m-1-13h0m0 2h0m0 4h0m-3 17h0m-1-21h0m-2 9h0m0-5h0m-1 18h0m-2-7h0m0 6h0m-1-9h0m0 0h0m-1-6h0m0 1h0m0 14h0m0 5h0m7 5h0m0 6h0m0 6h0m2-19h0m0 19h0m0-19h0m1 21h0m2-18h0m0 7h0m1 11h0m0-11h0m1 3h0m0 0h0m1-12h0m0 14h0m1 6h0m0-14h0m0 0h0m1 2h0m2 11h0m1-20h0m0 14h0m1-6h0m1-3h0m0 9h0m0 2h0m1-10h0m1 15h0m0-16h0m1 6h0m3 10h0m0-1h0m1-18h0m3-2h0m1 2h0m3 4h0m1-1h0m0 2h0m1-4h0m1 3h0m0 15h0m0-10h0m1 5h0m2 3h0m0-3h0m6-9h0m0 15h0m11 0h0m3-13h0m1-5h0m1 13h0m27 5h0m6-11h0m3 9h0m9-9h0m5 11h0m-4 9h0m-3-2h0m-19 4h0m-20 0h0m0-6h0m-9 6h0m-2 7h0m-1 4h0m-1-7h0m-3-11h0m0 20h0m-3-12h0m0 8h0m-5-8h0m-1-8h0m-1 4h0m-1-1h0m-1 11h0m-1-13h0m-2 17h0m-1-2h0m-1-10h0m0 3h0m-1-2h0m0 4h0m-2 3h0m-1-9h0m0-7h0m0 7h0m-1 6h0m0 11h0m-1-9h0m0-1h0m0-6h0m-1 11h0m-1-5h0m-1 2h0m-1-9h0m0-3h0m-2-3h0m-2 17h0m-4-7h0m0 6h0m0-17h0m-4 8h0m0 0h0m0 6h0m-2-8h0m-2-5h0m-1 8h0m-4 14h0m-4-8h0m0-9h0m0 19h0m3 11h0m10 2h0m3-9h0m1 7h0m0 10h0m2-4h0m4-16h0m4 12h0m0-13h0m3 21h0m1-19h0m0 4h0m1 11h0m2 2h0m0-16h0m0-3h0m3 7h0m2 16h0m0-5h0m2-11h0m0 15h0m2-4h0m0 6h0m1-6h0m0 5h0m1-15h0m1 4h0m3-5h0m0 17h0m1-17h0m0 14h0m1-7h0m0 1h0m0-8h0m0-6h0m1 8h0m1 15h0m2-19h0m1 18h0m0-4h0m1-9h0m0 10h0m1-3h0m1-7h0m0 7h0m1 5h0m2-15h0m3 5h0m0 3h0m9-15h0m6 16h0m5-2h0m4-9h0m5 0h0m16 6h0m2 18h0m-1 15h0m-13-7h0m-5 6h0m0 6h0m-4-2h0m-2-6h0m-3 5h0m-6 0h0m-3-13h0m0 14h0m0-18h0m-3 10h0m-1 8h0m-1-20h0m-1 18h0m-1-10h0m-1-7h0m-1 14h0m0-11h0m-2 13h0m-3 4h0m-4-23h0m-1 9h0m0-7h0m-1 14h0m0-6h0m-1-4h0m0-2h0m0 4h0m0 0h0m-2-2h0m-2 14h0m-4-10h0m-1 14h0m-1-9h0m0 4h0m-2-2h0m-3-3h0m-6-14h0m-2 20h0m-3-3h0m-4 1h0m-2 2h0m-14-3h0m0-12h0m-1 19h0m-2-16h0m0 32h0m7-10h0m13 10h0m6-15h0m2 8h0m1 7h0m2-3h0m7-11h0m6 17h0m0-8h0m1-6h0m1 19h0m1-23h0m4 16h0m0-9h0m1 1h0m1-2h0m2 8h0m0 2h0m2 1h0m0 4h0m3-3h0m1-16h0m1 22h0m1-2h0m4-11h0m1 2h0m1-13h0m0 11h0m3-1h0m0 1h0m0-4h0m1-2h0m1 0h0m1 12h0m1-17h0m2 7h0m3-5h0m1 7h0m0 12h0m4-4h0m3 2h0m0-18h0m0 23h0m2-12h0m6 5h0m0 2h0m12-15h0m2 16h0m-5 9h0m-1 12h0m0-5h0m-6 13h0m-1-17h0m-2 0h0m-4 5h0m-4 4h0m-2-13h0m-1 18h0m0 1h0m0-5h0m0 1h0m0 3h0m-1-11h0m0 13h0m-1-21h0m-1 3h0m0 6h0m-3-1h0m0 0h0m0 10h0m-5 4h0m-1-6h0m-1-16h0m-1 9h0m-1 9h0m-1-18h0m-3 14h0m-2 0h0m-1-3h0m-1 3h0m0-8h0m-1 16h0m-1-19h0m-1 14h0m-1-15h0m-5 10h0m-2 9h0m-3-16h0m-1 7h0m-20-4h0m-4-1h0m-10 1h0m-14-1h0m6 31h0m2-9h0m2-1h0m2 6h0m2-10h0m7 19h0m2-19h0m1 5h0m3 8h0m14-4h0m8-4h0m3 15h0m6-13h0m3-2h0m1 9h0m3-9h0m4 11h0m8 0h0m0-13h0m2 7h0m0 5h0m1-13h0m0 10h0m0-10h0m3 0h0m4 18h0m2 1h0m1-16h0m1 8h0m3 4h0m5-15h0m2 15h0m3-4h0m-5 17h0m-5 11h0m-5-9h0m0 1h0m-8 2h0m-5 2h0m-3 2h0m-9 1h0m-16-3h0m-12-10h0m-12 9h0m-4-1h0m-16-2h0m69 16h0m19 20h0" fill="none" stroke="#737373" stroke-width="6.2" stroke-linecap="round"/>
<path transform="scale(0.2)" d="M370 2524h0m46 0h0m-120 16h0m-31 20h0m23-2h0m54 2h0m121 7h0m-14 24h0m-189-11h0m-7 29h0m101-5h0m9 20h0m6 11h0m-115 12h0m0-14h0m-3 38h0m13-19h0m26 7h0m50 11h0m1-20h0m68 21h0m28 2h0m69-11h0m4 27h0m-207 8h0m-42-21h0m324 73h0m-305-6h0m32 11h0m16 1h0m32 7h0m98 10h0m20-3h0m102-7h0m90 1h0m12 3h0m5-4h0m34 6h0m0-4h0m10 6h0m48-3h0m70 3h0m14 19h0m-3 6h0m-30-19h0m-8 5h0m-12-3h0m-21 9h0m-3-3h0m-9-5h0m-1 20h0m-17-11h0m-6 4h0m-37 3h0m-11-16h0m-13 16h0m-2-18h0m-18 13h0m-13 4h0m-7 5h0m-22-2h0m-1 0h0m-2-6h0m-15 8h0m-5-24h0m-4 15h0m0 2h0m-6-17h0m-10 5h0m-1 8h0m-4 8h0m-7 2h0m-4-22h0m-8 19h0m-3-16h0m0 14h0m-11 3h0m-27-4h0m-34-10h0m-42-1h0m-10-1h0m-5 18h0m-24-4h0m-1 3h0m-37-17h0m-2 13h0m-16-1h0m-35 4h0m-11-20h0m-6 23h0m-7 0h0m-1-1h0m-13-1h0m-10-1h0m-3 3h0m-3-17h0m-2 15h0m-2-1h0m-2-1h0m-4 4h0m-2-24h0m-1 49h0m1-8h0m0-3h0m0-4h0m3-7h0m0 11h0m1-10h0m1 2h0m0 3h0m1 2h0m0 12h0m1 2h0m1-23h0m0 15h0m0-15h0m1 15h0m2-10h0m1 16h0m0 2h0m0-3h0m1-9h0m1 5h0m2-11h0m1 4h0m0 13h0m1-9h0m2 9h0m0-8h0m1 5h0m1 0h0m1 2h0m0-12h0m1 12h0m1-12h0m0 7h0m0 3h0m5 0h0m5-7h0m0 8h0m2 1h0m1-5h0m1 1h0m5 5h0m2-9h0m0 3h0m3 3h0m2 2h0m1-20h0m1 12h0m0 6h0m0-6h0m1 2h0m2-10h0m0 14h0m2-7h0m0 5h0m1 1h0m1-7h0m1 4h0m0 8h0m2-4h0m1-17h0m1 17h0m1 2h0m1-17h0m1 1h0m3 12h0m0 4h0m2-14h0m1 8h0m1-8h0m4 13h0m2 1h0m1-2h0m0-12h0m1 2h0m0 11h0m0-4h0m5-5h0m1 6h0m1 5h0m1-6h0m3 0h0m1-9h0m0 7h0m1-3h0m0 5h0m1-3h0m0 3h0m2 3h0m2 3h0m2-1h0m1-8h0m1-2h0m2 5h0m0 2h0m0-10h0m0-1h0m0 9h0m1-15h0m7 17h0m4-5h0m0 7h0m1-6h0m1 2h0m3 0h0m2 4h0m0-3h0m1-2h0m0 3h0m2 3h0m6 1h0m0 0h0m0-15h0m4 7h0m1 7h0m1-4h0m2 3h0m10-9h0m4 9h0m4-2h0m1-10h0m2 13h0m0 1h0m0-8h0m3-10h0m2 15h0m1 4h0m1-2h0m2-1h0m3-3h0m1 2h0m2-14h0m8 9h0m3 8h0m3-2h0m1-7h0m0 1h0m1 1h0m8 5h0m0-4h0m2 2h0m0-6h0m3 0h0m0 3h0m1 7h0m1 0h0m1-3h0m4 1h0m3 1h0m1-8h0m5 6h0m1-2h0m1-3h0m3 8h0m1-5h0m3 2h0m1 1h0m2-11h0m3 7h0m2-2h0m3 4h0m5 5h0m2-5h0m5-2h0m3-5h0m4 1h0m5 7h0m2-6h0m1 6h0m1-1h0m4 5h0m2-8h0m9 6h0m1 0h0m3-6h0m7-2h0m6-1h0m2 8h0m0-2h0m4-13h0m1 8h0m1 8h0m0-8h0m1 10h0m2-10h0m4-10h0m2 20h0m5-3h0m2-4h0m1-14h0m1 16h0m0-8h0m4 5h0m0 6h0m3-1h0m1 3h0m0-14h0m2 3h0m9 0h0m2 11h0m0-7h0m1-8h0m1 2h0m8 9h0m1 4h0m3-12h0m1-9h0m8 16h0m1 3h0m0-6h0m1-9h0m0 10h0m1 4h0m0-6h0m7 7h0m1 0h0m0-2h0m5 2h0m1 1h0m5-4h0m8-3h0m1-13h0m0 19h0m1-14h0m1-2h0m3 14h0m4-10h0m2 2h0m6 11h0m10-1h0m0-4h0m1-16h0m2 5h0m0 9h0m0 7h0m1-6h0m3-15h0m1 17h0m6-14h0m0 0h0m0 18h0m1-9h0m11 7h0m25-18h0m36 16h0m7-9h0m11-9h0m55 14h0m17 5h0m7 5h0m0 1h0m-26 0h0m-53 7h0m-3 7h0m-12-13h0m-17-1h0m-10 8h0m-31-8h0m-17 2h0m-4 3h0m-2-4h0m-4-1h0m-3 4h0m-3 1h0m-3 2h0m0-2h0m-5 5h0m-1 8h0m-1-2h0m-5 1h0m-1 1h0m-1-16h0m-2 14h0m-2-1h0m-6 2h0m-1-12h0m0-5h0m0 12h0m0-3h0m0 5h0m-1 3h0m0-13h0m-1 14h0m0-5h0m0 2h0m-1-4h0m0 12h0m0-15h0m-1 5h0m0-6h0m-2 16h0m-1-23h0m0 20h0m-1-18h0m0 14h0m0 6h0m0-15h0m0 0h0m-3 0h0m0-4h0m-2 7h0m0 8h0m0 0h0m-1-13h0m0 3h0m-3-8h0m0 5h0m0 14h0m-2-19h0m0 22h0m0-4h0m0-16h0m0 7h0m-1-1h0m-1 11h0m-1-11h0m0-2h0m0-1h0m0 3h0m-1 14h0m-1-15h0m0-8h0m0 12h0m0 0h0m0 12h0m0-8h0m-2-9h0m-1 14h0m0-19h0m0 14h0m-2-5h0m0-6h0m-1 15h0m0 3h0m-3-1h0m0-9h0m0-7h0m-1 17h0m0-21h0m0 10h0m-1 6h0m-3-12h0m0-3h0m-1 1h0m0-2h0m0 0h0m-1 18h0m0-14h0m0 15h0m-2 2h0m0-3h0m0-1h0m0-5h0m-1 5h0m-1-3h0m0 4h0m-1-18h0m0 7h0m0 9h0m0-8h0m0-8h0m-2 11h0m0-5h0m-2 16h0m0-20h0m0 9h0m-1-10h0m0 7h0m-1-3h0m-1 8h0m-1 9h0m0-10h0m0 3h0m0 2h0m-1-12h0m-1 2h0m0 14h0m0-11h0m-1-3h0m0-3h0m0 15h0m-1-19h0m0 8h0m0 4h0m0-11h0m-1 13h0m0-14h0m0 2h0m-1 9h0m0-10h0m-1 17h0m0-8h0m0-10h0m-2 16h0m0 6h0m-1-14h0m-1-10h0m-1 5h0m0 8h0m-1-2h0m-1 8h0m0-3h0m0 5h0m-1-18h0m0 0h0m0 1h0m-1 16h0m-2 3h0m0 1h0m-1-22h0m0 11h0m0 2h0m-1 3h0m-1 0h0m0-12h0m-2 8h0m-1-5h0m-1 13h0m0-15h0m-1 10h0m-1 6h0m0-6h0m0-9h0m-2 0h0m0 10h0m0-3h0m0-3h0m-1-3h0m0 3h0m0-11h0m-1 20h0m-1 2h0m0-8h0m-1 0h0m0 9h0m0-16h0m-1 9h0m0-1h0m0-6h0m-1 2h0m0-8h0m0 5h0m-1-8h0m0 9h0m0-5h0m-1-1h0m0 3h0m0 15h0m0-18h0m-1 19h0m0-18h0m-2 13h0m-2 2h0m0-18h0m-1 18h0m0-18h0m0 9h0m-1 6h0m0-2h0m0 5h0m-1-5h0m0-5h0m0 3h0m-1 2h0m0 1h0m-1 5h0m0 1h0m0-8h0m-1-7h0m0-2h0m-1 14h0m0-14h0m-1-2h0m0 17h0m-1-5h0m0-1h0m0 5h0m-1 4h0m0-1h0m-2-5h0m0-8h0m-1 2h0m0 8h0m0-18h0m-1-1h0m-1 18h0m-1 2h0m-2-4h0m-2 6h0m0-2h0m0-5h0m-3-5h0m-2 13h0m-1-19h0m-1 6h0m-1 6h0m-1 1h0m0 2h0m-2-1h0m-3 0h0m-1-12h0m0 17h0m-2-8h0m0 7h0m0-1h0m0-16h0m-1 15h0m-1 3h0m0-14h0m-1-8h0m0 9h0m-2-1h0m0 14h0m-2-1h0m-1-4h0m-2-9h0m-4 8h0m-1 4h0m0-20h0m0 15h0m-1 6h0m0-20h0m-1 3h0m-1 2h0m-1 9h0m-1 7h0m-2-23h0m0 22h0m-1-3h0m0 3h0m-1-14h0m-1 15h0m0-1h0m0-9h0m-1 0h0m-1-7h0m-3-5h0m0 7h0m-2 2h0m-1 12h0m-1-21h0m0 14h0m-1-14h0m-1 23h0m-1-12h0m0 11h0m0-23h0m-2 15h0m-1 1h0m-1-1h0m0 9h0m-1-22h0m0 20h0m-1-6h0m-1 5h0m0-1h0m0-12h0m-1 1h0m0 13h0m-1 1h0m0-8h0m-1-13h0m-2 14h0m-2-2h0m0 2h0m-1-2h0m0 10h0m-1-15h0m-1-1h0m-2 10h0m0 0h0m0 3h0m-3 1h0m0-1h0m-1-17h0m-2 6h0m-1 3h0m-1 11h0m-1-13h0m0 0h0m0-9h0m-1 13h0m0-13h0m-1 7h0m-1-3h0m-1-3h0m0 16h0m0 3h0m0-12h0m-1-6h0m-1 5h0m-2-2h0m0 9h0m-1-3h0m0 8h0m-2-8h0m0 9h0m0-12h0m-1 8h0m0-6h0m-1 8h0m0-13h0m-1 7h0m0 6h0m-1-7h0m0 4h0m0-12h0m-1 17h0m-1-1h0m0-8h0m-1 4h0m0 7h0m-1 0h0m0-16h0m-1-4h0m-1 6h0m-1-9h0m0 7h0m0 5h0m0-7h0m-1 18h0m0-6h0m0-4h0m-3-8h0m0 11h0m0-3h0m-2 5h0m-1-16h0m0 14h0m0-1h0m-1 0h0m-2-7h0m0 7h0m-1 2h0m0-8h0m-2-1h0m0-5h0m-2 15h0m-1-2h0m0-13h0m0 1h0m-1 1h0m0-1h0m-1 0h0m0 14h0m-2-6h0m0-4h0m0 9h0m-2-4h0m-1 5h0m-1-18h0m0 0h0m0 20h0m0-18h0m-4 10h0m-1 9h0m-1-21h0m-1 9h0m-1 13h0m0-17h0m-1 2h0m0 1h0m0 7h0m-1 3h0m0 1h0m-3-2h0m-1-6h0m0-2h0m-2-3h0m-1 14h0m-1 3h0m-1-20h0m0-4h0m0 17h0m-1-4h0m0-7h0m0 15h0m0-12h0m-1-5h0m-2 11h0m-2-7h0m0-3h0m-1 3h0m0 12h0m0 3h0m-1-2h0m0-9h0m-1 12h0m-1-7h0m0 7h0m-1-22h0m-1-1h0m0 20h0m-1 2h0m0-2h0m0 1h0m-1-6h0m-1 0h0m0 4h0m0 2h0m-1-19h0m0 12h0m0-12h0m-1 11h0m0-9h0m0-4h0m0 11h0m0-6h0m-1 15h0m-1-4h0m-1-11h0m0 8h0m-1-14h0m-1 21h0m0-3h0m0 1h0m-1-18h0m-1 7h0m0 4h0m0-3h0m0 3h0m-1 1h0m-1-9h0m-1 10h0m0 7h0m-1-13h0m-1 0h0m0 13h0m-1-19h0m0 10h0m-2 0h0m0-6h0m0 13h0m-1 0h0m0-2h0m0-5h0m0 5h0m-1-11h0m0 11h0m0-14h0m0 3h0m0 3h0m-1-7h0m-1 19h0m-1-2h0m0 1h0m0-1h0m0-9h0m-1 10h0m0 1h0m-2 2h0m0-12h0m-1 5h0m0-1h0m-2-15h0m0 24h0m-1-3h0m0-2h0m-1 5h0m0-4h0m0-18h0m0 19h0m0-13h0m-1-4h0m0 0h0m-1-2h0m0 13h0m-1-12h0m0 18h0m-1-10h0m-1 5h0m0-11h0m-1 17h0m0-9h0m0 4h0m-1 1h0m-1-13h0m-2-5h0m0 24h0m-1-23h0m0-1h0m-1 8h0m-1 5h0m0 7h0m0-5h0m-1 5h0m0-19h0m-1 8h0m-1 12h0m0-3h0m0 2h0m-1 1h0m-1-3h0m-1 1h0m-1-17h0m-2 22h0m-1-14h0m-2-4h0m0 1h0m-1 4h0m0 1h0m-1-7h0m-1-2h0m0 16h0m0-7h0m-1 11h0m-1-5h0m-1-10h0m0 8h0m0-3h0m-2-8h0m-1 2h0m0 14h0m-1-21h0m0 23h0m0-2h0m-1-16h0m0 5h0m-1 3h0m0-13h0m-2 16h0m0 3h0m0 4h0m0-4h0m-1 3h0m0-4h0m0-12h0m-3-3h0m-1 7h0m0-3h0m0 11h0m-1-14h0m0-4h0m0 1h0m-1 11h0m0 9h0m-1-11h0m0-8h0m-1 14h0m-1-5h0m0 6h0m0-11h0m-2 7h0m0 7h0m-1-12h0m0 1h0m0 7h0m-1-4h0m0-1h0m0 0h0m-2-8h0m0 17h0m0-12h0m0 2h0m-2 12h0m0-17h0m-1 5h0m0 3h0m-1 8h0m-1-8h0m0 3h0m0 6h0m-2-3h0m-1-16h0m0-1h0m-1 8h0m0-6h0m0 9h0m0-9h0m-1 11h0m0-13h0m0 13h0m-1 8h0m0 1h0m-1-3h0m0-15h0m-1-2h0m0-4h0m-1 9h0m0 15h0m-2-6h0m-1 1h0m0 4h0m-4 0h0m0-10h0m0-1h0m-1-12h0m-1 10h0m0 11h0m-2-12h0m0-6h0m-2 5h0m0-8h0m-1 11h0m-1-4h0m0-5h0m0 8h0m0 14h0m-1 0h0m-1-2h0m-1 1h0m0-12h0m0 4h0m-1 0h0m-1 2h0m0-1h0m-1 5h0m0-4h0m-1-15h0m0 20h0m0-13h0m-1 15h0m-1-3h0m0 0h0m-1-1h0m0-16h0m-1 10h0m0-9h0m0 15h0m-1-10h0m0 7h0m0-7h0m-1 17h0m1 0h0m1-2h0m2 2h0m0 0h0m1 0h0m0-1h0m3-1h0m1 0h0m0 2h0m5-2h0m0 2h0m2-2h0m2 0h0m2 1h0m1 1h0m1-2h0m2 2h0m0 0h0m4-1h0m2 1h0m1 0h0m0-1h0m11 1h0m1 0h0m1 0h0m1 0h0m4 0h0m3-1h0m1-1h0m4 0h0m1 0h0m5 2h0m2 0h0m2-1h0m4 0h0m4 0h0m0-1h0m2 1h0m1-1h0m2 0h0m6 2h0m2 0h0m2 0h0m3 0h0m1 0h0m1 0h0m4-2h0m3 0h0m5 2h0m8 0h0m3-1h0m11 1h0m7 0h0m4 0h0m1 0h0m0-2h0m1 1h0m1 1h0m4 0h0m0 0h0m2-1h0m0 1h0m8-2h0m1 2h0m4-2h0m9 1h0m2 1h0m0-2h0m6 0h0m4 2h0m1-1h0m6 1h0m5-1h0m6 1h0m1-2h0m0 1h0m0 1h0m2 0h0m2-1h0m2-1h0m1 1h0m6 1h0m6 0h0m0 0h0m0-1h0m3 1h0m1-2h0m3 0h0m7 1h0m2-1h0m0 2h0m1 0h0m4-1h0m2 1h0m6-2h0m2 2h0m0-2h0m4 0h0m6 0h0m1 2h0m2 0h0m6-1h0m10-1h0m2 0h0m0 1h0m3-1h0m4 0h0m0 1h0m6 1h0m10 0h0m2-2h0m17 2h0m1-2h0m3 1h0m3 1h0m7 0h0m14 0h0m0 0h0m1 0h0m8-2h0m1 2h0m2-2h0m3 0h0m1 0h0m0 1h0m2 1h0m5-2h0m2 2h0m3-2h0m2 2h0m2-2h0m1 2h0m3-1h0m1 0h0m0-1h0m3 1h0m1-1h0m1 2h0m1 0h0m0 0h0m3 0h0" fill="none" stroke="#ff0000" stroke-width="7.8" stroke-linecap="round"/>
<path transform="scale(0.2)" d="M718 2891h0m-18 5h0m-15-5h0m-10 7h0m-2-2h0m-11-3h0m0 3h0m-13-2h0m-1 4h0m-2-6h0m-8-1h0m-7 6h0m-6-2h0m-3-3h0m-1 1h0m-3 0h0m-1-2h0m-3 2h0m-8 2h0m0-4h0m-1 1h0m-1 3h0m-2-4h0m-1 3h0m-1 1h0m0-4h0m-1 4h0m-7 2h0m-4-1h0m0 1h0m-1-4h0m-4-1h0m-1 1h0m-3-2h0m-3 4h0m-1-2h0m-2 3h0m-6-4h0m0 0h0m-1 3h0m-1 0h0m-2-4h0m-1 0h0m0 6h0m-1-2h0m-3-4h0m-1 5h0m-1-4h0m0 1h0m0-1h0m-1 0h0m-2-1h0m-1 2h0m-1 4h0m-3-3h0m-5-1h0m-1-2h0m-5 4h0m0-2h0m-3 3h0m-5-1h0m0 1h0m-1-3h0m0 2h0m-3 4h0m-5-8h0m-1 6h0m0 0h0m0-4h0m-1 2h0m0 4h0m0-6h0m-6 1h0m0 1h0m-1 0h0m0-1h0m-1 3h0m-1-5h0m-2 7h0m-3-3h0m-1-2h0m-3-3h0m0 3h0m0-1h0m0-2h0m-1 3h0m-3-3h0m-2 7h0m0-7h0m-2 4h0m-2-2h0m-4-2h0m-3 4h0m-1-4h0m-2 3h0m0-3h0m-1 5h0m-1 0h0m0-4h0m-1 4h0m-4-5h0m-1 8h0m-1-8h0m0 0h0m-2 6h0m0-1h0m-1 1h0m-1-6h0m0 4h0m-1 4h0m-1-8h0m0 0h0m-3 0h0m-1 0h0m0 3h0m0 0h0m-1 2h0m0 2h0m0-1h0m-1 1h0m-2-1h0m0 0h0m0-5h0m-3 2h0m0 1h0m-1-3h0m0 5h0m-2-6h0m-1 7h0m0-4h0m-1 0h0m-1 1h0m-1-2h0m0 0h0m0-1h0m0-1h0m-2 0h0m-1 2h0m0 2h0m-1-2h0m-4-1h0m-1-1h0m-1 8h0m-2-7h0m0 6h0m-2-2h0m-1 3h0m0 0h0m-2-5h0m-1-3h0m-2 0h0m0 0h0m-2 1h0m0 5h0m0-2h0m-1-2h0m-1-2h0m-1 5h0m-2-3h0m0-1h0m-1 1h0m0 0h0m-2-2h0m-1 5h0m-1-5h0m0 1h0m-2 6h0m0-2h0m0 1h0m0-4h0m-2 3h0m-1 1h0m-2 2h0m-1-8h0m-1 1h0m-2 7h0m-1-3h0m-2-5h0m0 0h0m-1 3h0m-4 4h0m-2-5h0m0 4h0m-2-4h0m0-2h0m-1 3h0m-2-3h0m-1 0h0m0 2h0m-1-2h0m-1 7h0m-1-5h0m-2-2h0m-1 3h0m-1 5h0m-2-8h0m-1 0h0m-1 1h0m0 6h0m0-7h0m-1 5h0m0-1h0m-1-3h0m-1 1h0m0 3h0m-2 1h0m0-3h0m0-1h0m-1 2h0m-2-2h0m-2 2h0m-1 0h0m-2 1h0m0-5h0m-1 6h0m-1 0h0m0-1h0m-1-5h0m0 3h0m-2-2h0m0 1h0m-1-2h0m-1 4h0m-1-3h0m0 7h0m-2-8h0m0 3h0m-2-3h0m0 4h0m0-4h0m-1 6h0m-1 0h0m0-3h0m0-3h0m0 4h0m-2-4h0m-2 2h0m-2 0h0m-1 1h0m0-3h0m-1 5h0m-1-3h0m0-2h0m-2 1h0m-1-1h0m-1 1h0m0 3h0m0 0h0m-1-3h0m0-1h0m-1 0h0m-1 4h0m0 3h0m-3-7h0m-1 0h0m0 2h0m-1-1h0m-1-1h0m-2 3h0m-1-2h0m0 0h0m0 1h0m-1 5h0m-1-7h0m-1 0h0m0 4h0m-1-2h0m-2 3h0m0-5h0m0 6h0m-2-6h0m-2 2h0m0 3h0m-2-5h0m0 4h0m-1-3h0m0 1h0m0 0h0m-1 4h0m-1-6h0m-1 0h0m0 4h0m-1 1h0m-1 0h0m-1-5h0m-1 4h0m0 0h0m-1 1h0m-1 1h0m-1-6h0m-1 1h0m0 2h0m-2 0h0m0 2h0m-1-1h0m0 4h0m-2-6h0m-1 1h0m-1-2h0m-1 5h0m-1 1h0m-2-3h0m-1-4h0m-1 5h0m-1-3h0m0 3h0m-1-3h0m-1 1h0m-2-1h0m0 0h0m0 1h0m0-1h0m-2 2h0m0-1h0m-1-3h0m0 0h0m0 8h0m-2-6h0m0 3h0m0-1h0m0-4h0m-1 6h0m0 0h0m0-5h0m-2 1h0m-5 2h0m0 0h0m0-4h0m-1 4h0m-2-2h0m-1 5h0m-1-4h0m0 4h0m-2 0h0m-1-7h0m-1 3h0m0-3h0m-1 5h0m-1-3h0m-1-2h0m0 0h0m0 3h0m-1-3h0m0 0h0m0 1h0m-4 7h0m-1 0h0m-1-7h0m0 1h0m0 1h0m-1 2h0m0 2h0m-1 6h0m0 12h0m0-1h0m1-12h0m0 11h0m0 3h0m0-7h0m0-1h0m1 10h0m0-15h0m0 2h0m0-5h0m0 3h0m1 4h0m0-1h0m1-7h0m0 8h0m0-5h0m0 16h0m1-13h0m1-2h0m0 9h0m0 3h0m0-11h0m1 3h0m1 6h0m1 5h0m0-15h0m0 13h0m0-13h0m0-1h0m0 0h0m1 8h0m0 0h0m0-9h0m0 16h0m1 4h0m2-12h0m1 2h0m1 1h0m1-10h0m0 20h0m1-16h0m0-7h0m1 2h0m0 1h0m1 15h0m0-7h0m2-7h0m1 13h0m0 0h0m1-14h0m0 1h0m1 3h0m0-4h0m0 1h0m0 13h0m0 0h0m0-12h0m2 2h0m2 8h0m0-15h0m1 3h0m0 10h0m0 11h0m1-21h0m1 2h0m0 10h0m0 8h0m2-13h0m0-4h0m1 4h0m0-2h0m0 13h0m1-5h0m0 8h0m0-10h0m0-7h0m1 12h0m1-18h0m0 2h0m0 0h0m0 1h0m1 17h0m0-9h0m0 9h0m1 1h0m0-1h0m0 3h0m1-20h0m1 19h0m2-16h0m1 7h0m0 0h0m0-7h0m0-6h0m1-1h0m0 0h0m0 6h0m1 16h0m1-15h0m2-1h0m0 4h0m2 7h0m0-13h0m0 9h0m0 10h0m0-8h0m0-5h0m1 7h0m1-14h0m1 19h0m1-4h0m1-6h0m0-10h0m0 12h0m0-12h0m1 10h0m1 1h0m1-4h0m1 0h0m0-4h0m0 17h0m0-7h0m0 1h0m1-12h0m0 16h0m1-10h0m1-9h0m1 18h0m0-16h0m0 13h0m2-15h0m0 1h0m0 5h0m1 11h0m0-1h0m1-12h0m1-1h0m0 6h0m2 4h0m1-11h0m1 3h0m1 0h0m0 10h0m0-12h0m1 17h0m1-11h0m2-8h0m0 10h0m0-11h0m0 10h0m1-3h0m2 8h0m2-13h0m1 16h0m0-19h0m1 13h0m0 7h0m0 1h0m0-6h0m3-12h0m0-2h0m1 0h0m0 0h0m0 2h0m0 11h0m0-5h0m0 14h0m0 1h0m1-11h0m1 11h0m0-1h0m0-19h0m0 2h0m1 16h0m1-11h0m0-5h0m0 7h0m2 9h0m0-17h0m0-3h0m0 2h0m0 15h0m0-8h0m0-2h0m1 6h0m0-14h0m1 18h0m3-16h0m0 6h0m1-5h0m0 1h0m0 11h0m0-14h0m1 7h0m0 15h0m0-1h0m1-4h0m1-17h0m0-2h0m2 16h0m1-15h0m0 22h0m1-23h0m0 13h0m0-12h0m0 11h0m1 3h0m1 9h0m0-24h0m0 24h0m1-17h0m0-4h0m1 7h0m1-4h0m1-2h0m0 20h0m1-2h0m0-17h0m0-3h0m1 0h0m1 22h0m2-13h0m0 7h0m2 2h0m0-6h0m1-9h0m0 2h0m0 3h0m0-10h0m0 5h0m1 6h0m1-2h0m1-9h0m0 10h0m0 13h0m1-5h0m0-10h0m1-2h0m1 15h0m0-17h0m1 18h0m1-2h0m2-5h0m0 5h0m0-4h0m0-13h0m1 1h0m0 2h0m1 1h0m0 4h0m0-3h0m1-8h0m0 21h0m0-13h0m1 3h0m0-9h0m0 16h0m2 0h0m1-2h0m0 4h0m1-17h0m0 4h0m1 17h0m0-17h0m1 6h0m1-3h0m0-4h0m1 13h0m0-4h0m1-13h0m0 1h0m0-2h0m1 19h0m1-9h0m0-11h0m1 16h0m0-4h0m1-1h0m0 5h0m1 3h0m0-10h0m0-1h0m1 3h0m0 8h0m1-15h0m0 15h0m1 0h0m0-8h0m1 7h0m0-12h0m0 17h0m1-14h0m3-7h0m1 21h0m1-12h0m0-7h0m0 18h0m2-17h0m1 18h0m0-20h0m1 1h0m0 14h0m0-7h0m0 6h0m1 3h0m0-15h0m0 14h0m0-19h0m1 2h0m0 22h0m0-21h0m0 3h0m1 9h0m1 1h0m0-3h0m1 2h0m1-2h0m0-6h0m1 15h0m1-10h0m0 6h0m1-16h0m0 1h0m0 9h0m2-11h0m0 6h0m4-2h0m2 1h0m1-4h0m0 21h0m0-20h0m1 14h0m0-13h0m1 20h0m0-7h0m1-13h0m1 16h0m1 3h0m1-21h0m0 4h0m1 16h0m0-18h0m1 4h0m1 5h0m1 4h0m0-16h0m1 13h0m1-11h0m1 16h0m0 5h0m0-3h0m1-9h0m0 2h0m1-8h0m0 11h0m0-12h0m0-2h0m2 14h0m0-7h0m3-3h0m0 12h0m0-8h0m0 3h0m1-4h0m2-9h0m0 1h0m1 13h0m0-13h0m1 2h0m0-3h0m1 3h0m1 6h0m1 4h0m0-14h0m1 4h0m0-3h0m0 15h0m1-1h0m0-10h0m0 11h0m1-12h0m0 0h0m2-4h0m1 5h0m1 19h0m0-24h0m2 20h0m2 2h0m2-20h0m0 22h0m0-20h0m0 5h0m1 2h0m0 13h0m0-17h0m1-1h0m0 11h0m0 5h0m2-20h0m0 7h0m1-9h0m0 7h0m1 3h0m0 7h0m0-4h0m1 1h0m0 9h0m0-5h0m0-15h0m0 11h0m0 1h0m0-15h0m2 9h0m0 8h0m2 3h0m0 0h0m2-9h0m2-5h0m0 15h0m1-20h0m0 3h0m1 11h0m1-15h0m1 14h0m0-7h0m1 14h0m0-20h0m3 10h0m1-11h0m0 2h0m0 18h0m3-11h0m1 10h0m1-10h0m0 11h0m2-20h0m1 5h0m1 19h0m1-20h0m1 3h0m0 10h0m0-8h0m3 9h0m1-3h0m0-3h0m3 2h0m3 10h0m3-15h0m1-8h0m0 13h0m4 10h0m4-14h0m3 9h0m0-17h0m1 17h0m1-1h0m1 5h0m0-10h0m3-9h0m2 7h0m2 11h0m1-9h0m2-6h0m2 13h0m2-17h0m3 13h0m1 7h0m2-5h0m5-13h0m1 16h0m0 1h0m1-1h0m0 2h0m0-17h0m2 4h0m5 1h0m1-8h0m1 6h0m1-7h0m4 16h0m1-3h0m1-4h0m0 9h0m1-5h0m0-13h0m2-2h0m4 13h0m0 10h0m0-21h0m0 15h0m1-12h0m1 8h0m3 8h0m2-20h0m1 16h0m1-12h0m0 11h0m5 0h0m2 0h0m1-15h0m0 5h0m1-2h0m3 4h0m3-8h0m3 20h0m3-11h0m2 10h0m0-18h0m0 20h0m3-11h0m0-5h0m4 2h0m2 10h0m6 4h0m1-8h0m0 5h0m1-2h0m1-13h0m9 4h0m5 1h0m6 11h0m3-16h0m5-2h0m6-1h0m1 5h0m3 6h0m2 5h0m8-8h0m4 10h0m2 2h0m1-7h0m15 0h0m16 20h0m-7 0h0m-13-3h0m-25 18h0m-3-3h0m-8-9h0m-3-5h0m-13 16h0m-5 2h0m-15-24h0m-8 12h0m-2-9h0m-3-3h0m-6 21h0m-1-2h0m-1-7h0m-2 9h0m-4-13h0m-3-7h0m-5 17h0m0-15h0m-2 4h0m-2 0h0m-3 0h0m-2 14h0m-1-19h0m-5-2h0m-2 7h0m-2 3h0m-5-7h0m-5 2h0m0 12h0m-4-10h0m-4 7h0m-1-6h0m-3 15h0m-1-9h0m-4-5h0m0-3h0m-1 17h0m-1-15h0m-2 3h0m-1-2h0m-1 15h0m-1-6h0m0 1h0m0-12h0m-3 16h0m-1 1h0m-2-2h0m-9-2h0m-1-16h0m0 2h0m0 14h0m-2-8h0m-1-10h0m0 0h0m-3 18h0m-5-1h0m-3-19h0m-3 10h0m-3 7h0m-1-17h0m-5 19h0m-3-3h0m-5-5h0m0 13h0m-9-20h0m-4-2h0m0 13h0m0-3h0m0 11h0m-1-12h0m-4-7h0m0 9h0m0-9h0m-1-3h0m0 7h0m0-2h0m-1 12h0m-1-17h0m-1 12h0m0 10h0m-1-18h0m-2 6h0m-1 7h0m-1-6h0m-1-10h0m0 11h0m-1-7h0m0 5h0m-1-4h0m0-2h0m0 12h0m-1-5h0m0 2h0m-1 9h0m0-10h0m0-10h0m-2 4h0m0-5h0m0 0h0m0 22h0m-1-20h0m0 6h0m0-5h0m0 15h0m-1 4h0m0-15h0m-1-1h0m0-4h0m-1 7h0m0 13h0m0-12h0m-4-7h0m-2 10h0m-1-8h0m0-6h0m0 8h0m-2 15h0m-2-4h0m-2-4h0m0 5h0m0-10h0m-1 4h0m-1-6h0m0 2h0m-7 10h0m0-2h0m0 1h0m-3 1h0m0-19h0m-2-1h0m0 7h0m0 14h0m-1-21h0m-2-1h0m0 16h0m0-9h0m-1-6h0m0 15h0m-1-11h0m0-1h0m-2 10h0m-1-5h0m-1 14h0m-2-15h0m-1 1h0m-1-5h0m-1 16h0m-1-7h0m0 5h0m0-11h0m-2-6h0m-1 21h0m-2-5h0m0 3h0m0-15h0m-1 0h0m0 7h0m0 3h0m-1-6h0m-1 9h0m-1-9h0m0 15h0m-1-7h0m0 6h0m-1-4h0m-1 0h0m-3-15h0m-1-2h0m0 0h0m-1 14h0m-2 1h0m-1-10h0m0-6h0m-1 10h0m-2 6h0m0-12h0m-1 8h0m-2-10h0m-1 7h0m0-5h0m-1 13h0m-1-7h0m-2 13h0m0-13h0m0 11h0m-3-2h0m0-3h0m0-15h0m0 7h0m-2-8h0m-1 0h0m0 23h0m-1-13h0m-5 7h0m0-2h0m0-5h0m0 12h0m-2-10h0m0-4h0m0-4h0m-1 9h0m0 4h0m-1 3h0m-2-9h0m-1-4h0m0-6h0m-1 12h0m0 10h0m0-1h0m-1-18h0m-1 16h0m-1-14h0m-1 17h0m0-12h0m-1-8h0m-1-4h0m-1 23h0m0-6h0m-1 0h0m0-6h0m-1 2h0m-1-6h0m0-6h0m-1 2h0m-1 13h0m0 4h0m0-8h0m-2 5h0m0 1h0m0 1h0m-1-14h0m0 10h0m0 9h0m-2-3h0m-1-17h0m0 1h0m0-5h0m-1 23h0m0-21h0m-1-2h0m0 5h0m-1 1h0m0 13h0m0-14h0m-1 17h0m-1-21h0m0 2h0m-2-1h0m0-2h0m-1 9h0m0 14h0m-1-17h0m-1 15h0m0 2h0m-1-22h0m0 16h0m-1-10h0m-1 13h0m-1-8h0m-1-8h0m-1 0h0m-1 6h0m0-8h0m-1 17h0m0-7h0m-1-7h0m-1-4h0m-3 13h0m-2 1h0m-2-11h0m0 15h0m-1-19h0m-1 18h0m0-12h0m-2 5h0m0-4h0m-1 16h0m-1-21h0m0 19h0m-2-3h0m0-2h0m-1-12h0m0-2h0m0 5h0m-1 5h0m0 2h0m-1-6h0m-2 7h0m0 4h0m-1-14h0m0 16h0m-2-7h0m-1-9h0m0-1h0m0 2h0m-3 5h0m0-2h0m-2 1h0m-1 11h0m-1-16h0m0-1h0m-2 17h0m0-1h0m0-8h0m-1-6h0m0 12h0m0 2h0m-1-17h0m-2 6h0m-1 10h0m0 5h0m-1-1h0m-1-8h0m-1 8h0m-2-19h0m0 7h0m-1-1h0m0 12h0m0-14h0m-1 6h0m0 0h0m-1 5h0m0-3h0m-2-1h0m0-15h0m-1 21h0m0-7h0m-1-2h0m0-10h0m0 0h0m-1-1h0m0 8h0m-1 15h0m-1-6h0m0-1h0m0 7h0m-1-14h0m0 9h0m0-18h0m-1 19h0m0-15h0m-3-2h0m0 4h0m-1 2h0m0 3h0m-1 3h0m0-9h0m0 17h0m-1-15h0m-1 14h0m0 1h0m-1-18h0m0 1h0m-1 10h0m-2-11h0m-3 17h0m-2-9h0m0-12h0m-2 6h0m1 23h0m1 1h0m3-6h0m4 5h0m0 5h0m0 12h0m4-17h0m1-4h0m1 4h0m1 0h0m0 8h0m5-10h0m0 13h0m1-8h0m1-2h0m0 8h0m1 5h0m1-17h0m2 17h0m1-17h0m1 18h0m1-9h0m1-1h0m0-4h0m1 5h0m1-5h0m1 2h0m4-6h0m2 2h0m1-2h0m1-2h0m7 9h0m1-8h0m1 7h0m1-5h0m1 1h0m1 3h0m1 3h0m1-4h0m0 0h0m2 2h0m1-2h0m2-6h0m1 10h0m1-10h0m0 21h0m0-16h0m1 4h0m2-8h0m0 2h0m4 2h0m0-3h0m1 0h0m1 9h0m1 7h0m1-13h0m6 7h0m4-6h0m0-3h0m0 11h0m1-12h0m1 3h0m1 1h0m2 2h0m0 1h0m1 6h0m1-12h0m1 4h0m1-3h0m1 2h0m1 2h0m0-4h0m2-1h0m2 11h0m2 7h0m1-1h0m3-18h0m1 2h0m0 4h0m2 1h0m2 7h0m2-1h0m6-6h0m1-1h0m0 10h0m1-17h0m0 0h0m3 4h0m1 5h0m1-5h0m0 4h0m2-8h0m6 6h0m0 2h0m2-5h0m1 12h0m2-9h0m2-3h0m3-2h0m10 11h0m0-4h0m1-6h0m0 6h0m1-6h0m2-1h0m1-1h0m1 0h0m1 6h0m0 17h0m14-18h0m1-6h0m1 13h0m1 1h0m0-7h0m1 4h0m0-4h0m3-6h0m0 14h0m1-7h0m3-1h0m4-1h0m2 0h0m1 2h0m4-8h0m4 14h0m0-2h0m3-7h0m1-2h0m2 3h0m0-4h0m9 7h0m5-6h0m1-2h0m0 12h0m3-9h0m0-2h0m1 1h0m2 12h0m3-10h0m4 4h0m2-9h0m13 1h0m7 17h0m2-12h0m3-2h0m0-4h0m4 2h0m2 15h0m4-15h0m0 21h0m2-16h0m0-6h0m1 1h0m6-1h0m2 2h0m12 9h0m6 11h0m14-12h0m6-7h0m11-3h0m1 5h0m0-6h0m1 15h0m6-10h0m14 14h0m2-5h0m14-14h0m1 1h0m41 15h0m2-14h0m12 6h0m1-1h0m2 5h0m2-12h0m20 17h0m25 4h0m5-8h0m5-13h0m5 13h0m18 2h0m0 2h0m9-6h0m1-11h0m8 12h0m-1 17h0m-6 15h0m-6-13h0m-30 3h0m-16 9h0m-12-13h0m-31 9h0m-7 9h0m-5-21h0m-3-2h0m-18 1h0m-5 23h0m-11-5h0m-15-17h0m-31 11h0m0-3h0m-4 12h0m-2-1h0m-19 3h0m-9-19h0m-13-3h0m-2 0h0m-2 6h0m-5-6h0m-29 2h0m-42 5h0m-34 9h0m-4-13h0m-5-2h0m-4 13h0m-6-2h0m-1 7h0m-3-13h0m-10 10h0m-1-12h0m-6 9h0m-5-15h0m-23 11h0m-16 9h0m-9-11h0m-35 3h0m-2-7h0m-16 0h0m48 36h0m229-16h0m59 7h0m75-4h0m96 1h0m-338 42h0m-6-20h0m-18 6h0m-27 1h0m-16-2h0m-60 20h0m7 0h0m153 12h0m38-12h0m-6 24h0m-60 20h0m-27-8h0m-101-1h0m-36 27h0m183 11h0m100-5h0m-54 13h0m-14 9h0m-212 5h0m240 15h0m-192 34h0m-18-1h0m-4 2h0m-39-17h0m-3 1h0m-4 12h0m-4 6h0m-11-5h0m14 11h0m25 10h0m1-6h0m14 3h0m4-1h0m1 6h0m2 3h0m4 5h0m11-9h0m14 5h0m3-9h0m6-2h0m6 13h0m7-2h0m8-6h0m112 32h0m-5 1h0m-19-1h0m-11-9h0m-5 10h0m-39-4h0m-4-1h0m-21-5h0m-6-2h0m-19-6h0m-22 1h0m-18-5h0m105 25h0m6 14h0m1-1h0m24-10h0m4 13h0m8-5h0m3 2h0m3-6h0m4 9h0m6 4h0m1 1h0m14 4h0m-11 14h0m-7-14h0m-15 17h0" fill="none" stroke="#0000ff" stroke-width="7.8" stroke-linecap="round"/>
<circle cx="49.50" cy="503.70" r="2.3" fill="#990000" stroke="none" stroke-width="0"/>
<circle cx="54.00" cy="506.30" r="2.3" fill="#990000" stroke="none" stroke-width="0"/>
<circle cx="83.70" cy="497.00" r="2.3" fill="#990000" stroke="none" stroke-width="0"/>
<circle cx="95.30" cy="514.90" r="2.3" fill="#990000" stroke="none" stroke-width="0"/>
<circle cx="54.30" cy="531.60" r="2.3" fill="#990000" stroke="none" stroke-width="0"/>
<circle cx="58.80" cy="535.40" r="2.3" fill="#990000" stroke="none" stroke-width="0"/>
<circle cx="51.70" cy="541.70" r="2.3" fill="#990000" stroke="none" stroke-width="0"/>
<circle cx="157.00" cy="528.00" r="2.3" fill="#990000" stroke="none" stroke-width="0"/>
<circle cx="157.80" cy="546.90" r="2.3" fill="#990000" stroke="none" stroke-width="0"/>
<circle cx="163.10" cy="550.10" r="2.3" fill="#990000" stroke="none" stroke-width="0"/>
<circle cx="190.00" cy="549.60" r="2.3" fill="#990000" stroke="none" stroke-width="0"/>
<circle cx="118.50" cy="547.80" r="2.3" fill="#990000" stroke="none" stroke-width="0"/>
<circle cx="133.20" cy="553.70" r="2.3" fill="#990000" stroke="none" stroke-width="0"/>
<circle cx="119.20" cy="554.00" r="2.3" fill="#990000" stroke="none" stroke-width="0"/>
<circle cx="123.90" cy="558.90" r="2.3" fill="#990000" stroke="none" stroke-width="0"/>
<circle cx="149.70" cy="554.60" r="2.3" fill="#990000" stroke="none" stroke-width="0"/>
<circle cx="169.40" cy="555.50" r="2.3" fill="#990000" stroke="none" stroke-width="0"/>
<circle cx="123.90" cy="589.70" r="2.3" fill="#2dd4dc" stroke="none" stroke-width="0"/>
<circle cx="121.20" cy="593.80" r="2.3" fill="#2dd4dc" stroke="none" stroke-width="0"/>
<circle cx="147.00" cy="588.10" r="2.3" fill="#2dd4dc" stroke="none" stroke-width="0"/>
<circle cx="149.70" cy="588.80" r="2.3" fill="#2dd4dc" stroke="none" stroke-width="0"/>
<circle cx="157.00" cy="593.30" r="2.3" fill="#2dd4dc" stroke="none" stroke-width="0"/>
<circle cx="173.00" cy="590.30" r="2.3" fill="#2dd4dc" stroke="none" stroke-width="0"/>
<circle cx="190.00" cy="587.60" r="2.3" fill="#2dd4dc" stroke="none" stroke-width="0"/>
<circle cx="52.80" cy="602.40" r="2.3" fill="#2dd4dc" stroke="none" stroke-width="0"/>
<circle cx="102.70" cy="606.00" r="2.3" fill="#2dd4dc" stroke="none" stroke-width="0"/>
<circle cx="102.70" cy="658.80" r="2.3" fill="#2dd4dc" stroke="none" stroke-width="0"/>
<text x="50.50" y="500.10" font-size="4.6" text-anchor="start" fill="#383838">Alb</text>
<text x="57.40" y="507.90" font-size="4.6" text-anchor="start" fill="#383838">Saa4</text>
<text x="87.10" y="498.60" font-size="4.6" text-anchor="start" fill="#383838">Calml3</text>
<text x="98.70" y="516.50" font-size="4.6" text-anchor="start" fill="#383838">Saa2</text>
<text x="57.70" y="532.20" font-size="4.6" text-anchor="start" fill="#383838">Saa1</text>
<text x="62.20" y="536.00" font-size="4.6" text-anchor="start" fill="#383838">Saa3</text>
<text x="55.10" y="543.30" font-size="4.6" text-anchor="start" fill="#383838">Clec4d</text>
<text x="160.40" y="529.60" font-size="4.6" text-anchor="start" fill="#383838">Lcn2</text>
<text x="159.80" y="544.30" font-size="4.6" text-anchor="start" fill="#383838">Steap4</text>
<text x="166.30" y="550.70" font-size="4.6" text-anchor="start" fill="#383838">Tnfaip2</text>
<text x="193.40" y="551.20" font-size="4.6" text-anchor="start" fill="#383838">Myoc</text>
<text x="121.90" y="549.40" font-size="4.6" text-anchor="start" fill="#383838">Ptx3</text>
<text x="132.20" y="547.70" font-size="4.6" text-anchor="start" fill="#383838">Timp1</text>
<text x="116.00" y="554.20" font-size="4.6" text-anchor="end" fill="#383838">Mt1</text>
<text x="123.30" y="566.90" font-size="4.6" text-anchor="start" fill="#383838">Runx1</text>
<text x="151.90" y="558.20" font-size="4.6" text-anchor="start" fill="#383838">Fll1</text>
<text x="172.40" y="556.10" font-size="4.6" text-anchor="start" fill="#383838">Id3</text>
<text x="126.10" y="586.30" font-size="4.6" text-anchor="start" fill="#383838">Ncoa4</text>
<text x="120.60" y="599.60" font-size="4.6" text-anchor="start" fill="#383838">Rapgef3</text>
<text x="147.80" y="583.30" font-size="4.6" text-anchor="start" fill="#383838">Pax5l</text>
<text x="154.10" y="589.80" font-size="4.6" text-anchor="start" fill="#383838">Hdac11</text>
<text x="160.40" y="594.70" font-size="4.6" text-anchor="start" fill="#383838">Acls</text>
<text x="176.40" y="591.70" font-size="4.6" text-anchor="start" fill="#383838">Thrs</text>
<text x="193.40" y="589.00" font-size="4.6" text-anchor="start" fill="#383838">Insig1</text>
<text x="47.80" y="609.00" font-size="4.6" text-anchor="start" fill="#383838">Smad7</text>
<text x="106.10" y="607.60" font-size="4.6" text-anchor="start" fill="#383838">Abcc3</text>
<text x="106.10" y="660.40" font-size="4.6" text-anchor="start" fill="#383838">Lgr5</text>
<line x1="26.20" y1="481.00" x2="26.20" y2="669.00" stroke="#222" stroke-width="1.6"/>
<line x1="24.40" y1="482.86" x2="26.20" y2="482.86" stroke="#222" stroke-width="1.2"/>
<text x="24.20" y="485.56" font-size="7.4" font-weight="bold" text-anchor="end" fill="#111">12</text>
<line x1="24.40" y1="498.10" x2="26.20" y2="498.10" stroke="#222" stroke-width="1.2"/>
<text x="24.20" y="500.80" font-size="7.4" font-weight="bold" text-anchor="end" fill="#111">10</text>
<line x1="24.40" y1="513.34" x2="26.20" y2="513.34" stroke="#222" stroke-width="1.2"/>
<text x="24.20" y="516.04" font-size="7.4" font-weight="bold" text-anchor="end" fill="#111">8</text>
<line x1="24.40" y1="528.58" x2="26.20" y2="528.58" stroke="#222" stroke-width="1.2"/>
<text x="24.20" y="531.28" font-size="7.4" font-weight="bold" text-anchor="end" fill="#111">6</text>
<line x1="24.40" y1="543.82" x2="26.20" y2="543.82" stroke="#222" stroke-width="1.2"/>
<text x="24.20" y="546.52" font-size="7.4" font-weight="bold" text-anchor="end" fill="#111">4</text>
<line x1="24.40" y1="559.06" x2="26.20" y2="559.06" stroke="#222" stroke-width="1.2"/>
<text x="24.20" y="561.76" font-size="7.4" font-weight="bold" text-anchor="end" fill="#111">2</text>
<line x1="24.40" y1="574.30" x2="26.20" y2="574.30" stroke="#222" stroke-width="1.2"/>
<text x="24.20" y="577.00" font-size="7.4" font-weight="bold" text-anchor="end" fill="#111">0</text>
<line x1="24.40" y1="589.54" x2="26.20" y2="589.54" stroke="#222" stroke-width="1.2"/>
<text x="24.20" y="592.24" font-size="7.4" font-weight="bold" text-anchor="end" fill="#111">-2</text>
<line x1="24.40" y1="604.78" x2="26.20" y2="604.78" stroke="#222" stroke-width="1.2"/>
<text x="24.20" y="607.48" font-size="7.4" font-weight="bold" text-anchor="end" fill="#111">-4</text>
<line x1="24.40" y1="620.02" x2="26.20" y2="620.02" stroke="#222" stroke-width="1.2"/>
<text x="24.20" y="622.72" font-size="7.4" font-weight="bold" text-anchor="end" fill="#111">-6</text>
<line x1="24.40" y1="635.26" x2="26.20" y2="635.26" stroke="#222" stroke-width="1.2"/>
<text x="24.20" y="637.96" font-size="7.4" font-weight="bold" text-anchor="end" fill="#111">-8</text>
<line x1="24.40" y1="650.50" x2="26.20" y2="650.50" stroke="#222" stroke-width="1.2"/>
<text x="24.20" y="653.20" font-size="7.4" font-weight="bold" text-anchor="end" fill="#111">-10</text>
<line x1="24.40" y1="665.74" x2="26.20" y2="665.74" stroke="#222" stroke-width="1.2"/>
<text x="24.20" y="668.44" font-size="7.4" font-weight="bold" text-anchor="end" fill="#111">-12</text>
<line x1="26.20" y1="574.30" x2="212.10" y2="574.30" stroke="#111" stroke-width="1.5"/>
<line x1="49.80" y1="574.30" x2="49.80" y2="577.30" stroke="#111" stroke-width="1.3"/>
<line x1="96.00" y1="574.30" x2="96.00" y2="577.30" stroke="#111" stroke-width="1.3"/>
<line x1="142.20" y1="574.30" x2="142.20" y2="577.30" stroke="#111" stroke-width="1.3"/>
<line x1="188.40" y1="574.30" x2="188.40" y2="577.30" stroke="#111" stroke-width="1.3"/>
<text x="210.40" y="604.3" font-size="9.0" font-weight="bold" text-anchor="end" fill="#111">-log<tspan font-size="6.2" dy="2.2">10</tspan><tspan dy="-2.2">(FDR)</tspan></text>
<text transform="translate(12.20 572.2) rotate(-90)" font-size="8.8" font-weight="bold" text-anchor="middle" fill="#111">DEG (Log<tspan font-size="6" dy="2.0">2</tspan><tspan dy="-2.0">FC)</tspan></text>
<text x="365.20" y="476.70" font-size="11.05" font-weight="bold" text-anchor="middle" fill="#111">dSCI relative to Uninjured</text>
<text x="328.30" y="585.90" font-size="9.6" font-weight="bold" text-anchor="middle" fill="#111">4</text>
<text x="374.00" y="585.90" font-size="9.6" font-weight="bold" text-anchor="middle" fill="#111">6</text>
<text x="419.70" y="585.90" font-size="9.6" font-weight="bold" text-anchor="middle" fill="#111">8</text>
<path transform="scale(0.2)" d="M1387 2495h0m-7-1h0m-12-2h0m-16 5h0m-9-13h0m-9 6h0m-1 1h0m-5-3h0m0 11h0m-18 13h0m9 8h0m1 4h0m1-13h0m0 1h0m0 9h0m5 0h0m0 2h0m1-7h0m1 8h0m1-13h0m0-11h0m1 4h0m0 7h0m2-1h0m0-2h0m0 8h0m2-3h0m1 3h0m0-9h0m3 4h0m1-9h0m1 16h0m1 3h0m1-4h0m2 5h0m1-18h0m4 3h0m5 15h0m10-9h0m2 5h0m3-3h0m1-4h0m2 13h0m0-3h0m15-2h0m7-1h0m3 7h0m-15 9h0m-4 11h0m-4 0h0m-6 4h0m0-22h0m-22 7h0m-3 14h0m-2-2h0m-1-6h0m-1-6h0m-1 13h0m0-13h0m0 14h0m0-17h0m-1 18h0m-1-7h0m-2 0h0m0 5h0m0-3h0m-2-1h0m-3-12h0m-1 17h0m-1-5h0m0-1h0m-1 2h0m-1-16h0m-4 21h0m-1-11h0m-2-3h0m0-1h0m-1-7h0m-1 14h0m0-10h0m-1 12h0m0-6h0m-2 8h0m-2 4h0m-1-7h0m-3-12h0m-1 10h0m-10 16h0m6 7h0m1 5h0m1-3h0m2 5h0m0-8h0m1 11h0m0-20h0m3 14h0m2-7h0m0 6h0m1 8h0m0-13h0m1 11h0m2 1h0m0-20h0m4 8h0m0-3h0m1 15h0m0-11h0m1-7h0m1-1h0m1 14h0m1-6h0m0-12h0m1 9h0m1 5h0m0 2h0m0 6h0m0-6h0m1-6h0m1-3h0m0 10h0m1-10h0m1 4h0m0-11h0m2 15h0m0-7h0m0 7h0m1 5h0m0 2h0m3-14h0m1 0h0m3 9h0m2-14h0m1 17h0m3-13h0m4 10h0m0-1h0m5-12h0m0 14h0m6-17h0m1 3h0m0 19h0m1 1h0m4-3h0m1-16h0m4 1h0m22-5h0m2-1h0m7 8h0m0-6h0m2-2h0m-26 27h0m-29-1h0m-3 16h0m-1-14h0m-2 1h0m-5 12h0m0 6h0m-1-20h0m0 10h0m0-4h0m-2-6h0m-1 21h0m0-4h0m-1-5h0m-1 8h0m-1-3h0m0-16h0m0 15h0m0-5h0m-1-8h0m0-5h0m-1 5h0m-1-3h0m0 4h0m-1-3h0m-1 12h0m0 6h0m0-3h0m-1-6h0m0 10h0m0-21h0m-1 9h0m0 1h0m-1-7h0m-1-3h0m-1 7h0m0-5h0m0 4h0m-3-1h0m0 17h0m-2-17h0m-1 9h0m-1-15h0m-1 13h0m-1 1h0m0-9h0m0 16h0m-2-11h0m-2 8h0m-3 1h0m-1-17h0m-1 14h0m0 7h0m-2-5h0m-2-3h0m-3 7h0m-3-15h0m0 11h0m-1 4h0m-3-12h0m0 5h0m0-9h0m0 6h0m0 4h0m0-7h0m0 18h0m0 18h0m0-18h0m0 10h0m0-7h0m0 9h0m1 7h0m5 1h0m1 2h0m1-12h0m2-1h0m0 5h0m1-3h0m0-5h0m0-5h0m1 13h0m1 6h0m0 2h0m1-10h0m1-14h0m0 14h0m0-8h0m1 16h0m0-8h0m1 2h0m0 5h0m2-3h0m1-9h0m1-9h0m0 9h0m1-6h0m0 14h0m0-6h0m0-2h0m0-1h0m1 7h0m0 8h0m1-1h0m0-16h0m0 14h0m0 0h0m1-18h0m1 5h0m0 1h0m1 12h0m0-6h0m3-1h0m0-1h0m0 6h0m0-16h0m1-1h0m0 5h0m1 17h0m2 1h0m0-24h0m0 17h0m1 4h0m2-9h0m0 8h0m1-15h0m1 14h0m0 4h0m1-11h0m5-12h0m7 10h0m1-8h0m10 4h0m-11 29h0m-4 13h0m-3-20h0m-1 14h0m-4-12h0m-5 3h0m-1-7h0m0 2h0m-1-1h0m-1 1h0m-1 14h0m-2-6h0m-1 4h0m-1 2h0m0-13h0m0 2h0m0 13h0m0-6h0m0-2h0m-2-6h0m0 9h0m-1-13h0m0 4h0m-1 8h0m0-7h0m-1 0h0m0 4h0m-1 7h0m-1-8h0m0 8h0m-1-13h0m-1 2h0m0 2h0m-1-3h0m0 17h0m-1-10h0m0-11h0m0 21h0m0-4h0m0-7h0m-1 3h0m-1-1h0m-1-11h0m0-1h0m0 0h0m-2 1h0m0 9h0m-2 0h0m0 4h0m0 5h0m-1-6h0m0-4h0m-1 4h0m-1 9h0m-1-21h0m0 1h0m0 17h0m-1-9h0m-1-8h0m0 1h0m0-4h0m-1 18h0m0 0h0m-1-14h0m0 12h0m-1-13h0m0 15h0m0 1h0m0 0h0m0-1h0m0 1h0m0-14h0m0 18h0m0-23h0m0 12h0m0 37h0m0-12h0m0-7h0m0 13h0m0 1h0m0 1h0m0-2h0m0-12h0m0 0h0m0 0h0m0 13h0m0-16h0m0 21h0m2-13h0m3-5h0m0 1h0m2 4h0m1-5h0m0 6h0m1-11h0m1 22h0m3-12h0m1-8h0m0-1h0m1 1h0m1 5h0m3 15h0m1-16h0m1-3h0m0 19h0m0 1h0m1-20h0m0 14h0m1-18h0m1 2h0m0-1h0m2 3h0m1 8h0m1 2h0m1-4h0m1-5h0m3 6h0m0 2h0m1 3h0m0 8h0m9-13h0m12 12h0m6-3h0m11 1h0m20 3h0m0 21h0m-19 4h0m-32-7h0m-11-14h0m0 1h0m-5-2h0m-2 4h0m0 14h0m-3-12h0m0 15h0m-2-7h0m-2-16h0m-1 10h0m-1 11h0m0-20h0m-1 12h0m0 1h0m0-8h0m-1 6h0m0-8h0m-1 16h0m-1-16h0m0-1h0m-1 1h0m0 10h0m-2-2h0m-1-4h0m-1 5h0m0 6h0m0-17h0m-1 1h0m0 0h0m0 13h0m-1 4h0m-1 0h0m0-3h0m-1-6h0m-1 1h0m0 1h0m0-4h0m0 14h0m0-23h0m0 21h0m0-2h0m0 2h0m-3 26h0m3-3h0m0-10h0m0-4h0m0-2h0m0-1h0m0 13h0m0-11h0m1 13h0m3-4h0m0-4h0m0 12h0m1-12h0m2 3h0m2 9h0m5-9h0m2 0h0m2-5h0m0-4h0m1 5h0m2 0h0m1-6h0m1-1h0m0 9h0m2-3h0m7 17h0m0-23h0m3 20h0m7-20h0m5 4h0m5 1h0m5 10h0m1-4h0m6 10h0m8-18h0m2 15h0m2-6h0m0-1h0m4 0h0m1 2h0m8-8h0m0 17h0m4-6h0m5-16h0m7 7h0m0 7h0m2 1h0m1 5h0m10 4h0m-3 13h0m-2 6h0m0-14h0m-5-5h0m-1 6h0m-2-2h0m0-3h0m-2 6h0m0 13h0m-3-10h0m-5 0h0m-4-2h0m-1 1h0m-2 8h0m-12-17h0m-4 12h0m-10 6h0m-1-10h0m-8 9h0m-2-13h0m-7 16h0m0 2h0m-3-16h0m-2 17h0m-6-16h0m0 16h0m-2-10h0m-3 3h0m-1 7h0m-1 1h0m-2-17h0m-1 16h0m-2-16h0m0 16h0m0-11h0m-1-10h0m-4 12h0m-1 0h0m-2-8h0m-3 4h0m-4-10h0m0 16h0m-2-16h0m-4 20h0m0-17h0m0 10h0m0-12h0m0 3h0m-3 9h0m0 23h0m0 1h0m0 6h0m1-7h0m2-10h0m0 4h0m1 1h0m4 7h0m2 1h0m1-13h0m0 2h0m6 20h0m1-12h0m2-5h0m1-2h0m2 15h0m2-19h0m3 14h0m4-6h0m2 7h0m3-8h0m2 17h0m2-18h0m4-3h0m2 19h0m4-20h0m2 10h0m7 4h0m2-1h0m5-9h0m6-5h0m2 5h0m0 14h0m2-9h0m2 8h0m12-13h0m1-4h0m4 0h0m5 21h0m0-12h0m2-8h0m3 8h0m1 13h0m0-12h0m2 7h0m5-1h0m3-5h0m0 8h0m2 12h0m-2-4h0m0 20h0m-1-15h0m-14 5h0m-4-13h0m-1 5h0m-1 1h0m-1 1h0m-1 1h0m-3 2h0m-2 12h0m-1-20h0m-2 11h0m-3-13h0m-1 17h0m0-14h0m-2 13h0m-7 7h0m0-15h0m-1 10h0m-8-13h0m-7-6h0m-2 18h0m-1-4h0m0-13h0m0 17h0m-8 3h0m-2 1h0m-1-10h0m-2 3h0m-3-6h0m0 0h0m-2 11h0m-1-7h0m0-12h0m-4 19h0m-3-11h0m-3-2h0m-4 1h0m-2-7h0m-3 6h0m-2 17h0m-1-6h0m-4-12h0m-2 6h0m0 0h0m0 7h0m-1-1h0m-7-11h0m3 35h0m1-1h0m1 4h0m0-12h0m1 15h0m0-9h0m2 10h0m2-8h0m1-11h0m1 13h0m2-1h0m0 5h0m3-8h0m2 4h0m3 6h0m1-3h0m0-17h0m1 6h0m1 14h0m1 0h0m1-14h0m2-8h0m1 21h0m0-6h0m1 5h0m0-21h0m1 23h0m1-1h0m0 1h0m0-6h0m1-13h0m1 19h0m1-3h0m2-11h0m1 8h0m0-16h0m1 14h0m2-15h0m1 18h0m0-3h0m1 6h0m0-13h0m0-3h0m1 10h0m0 5h0m2-18h0m0 15h0m0-4h0m1 4h0m1 4h0m0-3h0m0 3h0m1-6h0m4 6h0m1-21h0m1 21h0m0-18h0m2 12h0m1 1h0m0-11h0m2 1h0m2 15h0m0-16h0m1 9h0m0-14h0m0 17h0m2 6h0m0-6h0m0-8h0m2-7h0m2 21h0m0-16h0m2-4h0m0 1h0m1 18h0m0-8h0m1 6h0m0-1h0m0-2h0m3 0h0m1-3h0m3 2h0m5 6h0m0-3h0m0-17h0m3 15h0m0-2h0m2-1h0m0 3h0m3-5h0m1 10h0m0-17h0m0 11h0m0-5h0m2 4h0m2 0h0m3 7h0m0-17h0m1 7h0m2-5h0m0 2h0m1 13h0m0-10h0m2 7h0m3-4h0m1-15h0m0 9h0m1 6h0m2 2h0m3-3h0m2 9h0m0 0h0m3-9h0m1 28h0m-1-6h0m0-6h0m-1 3h0m0-3h0m0-4h0m-1 12h0m0-6h0m0 12h0m0-13h0m0 10h0m-1-13h0m0 3h0m0 9h0m0-6h0m0-1h0m0 15h0m-1-12h0m0 0h0m0-5h0m-1 14h0m-1-11h0m-1 4h0m0 4h0m0-1h0m0-14h0m0 15h0m-1-6h0m0 2h0m0 6h0m0 3h0m0-4h0m0 0h0m0-6h0m-1-12h0m0 17h0m0-7h0m0-5h0m-1 0h0m0 2h0m0 10h0m-1-4h0m0 1h0m-1-9h0m-1 16h0m0 0h0m0-22h0m0 14h0m0 5h0m-1 2h0m0 2h0m0-16h0m0-1h0m0 13h0m0-15h0m-1 5h0m0-3h0m-1 0h0m0 5h0m0-5h0m0 14h0m0 4h0m-1-16h0m0 2h0m0-7h0m0 15h0m0-7h0m-1 3h0m0-2h0m0 4h0m0-9h0m-1-4h0m0-2h0m0 22h0m-1-9h0m0 0h0m-1-3h0m0 5h0m-1-9h0m0 2h0m0 3h0m0 6h0m0-1h0m-1 5h0m0-11h0m-1-6h0m0-1h0m0 17h0m-1-15h0m0-3h0m0 13h0m-1 6h0m0-2h0m0-9h0m-1 4h0m0-15h0m0 19h0m-1-16h0m0 1h0m-1 10h0m0-6h0m0 8h0m0-7h0m0 1h0m-1-2h0m0 11h0m-1-7h0m0 1h0m0 7h0m0 3h0m-1-13h0m-1-2h0m0 5h0m0 7h0m-1 1h0m-1-3h0m-1-6h0m0 7h0m0-3h0m0-5h0m0 12h0m-1-4h0m0 2h0m0-15h0m0 13h0m0-7h0m-1 5h0m-1-13h0m0 12h0m0 0h0m0-6h0m-1-9h0m-1 17h0m0-15h0m-1 9h0m0 9h0m0-17h0m0 20h0m0-13h0m-1 1h0m-1-1h0m0-11h0m0 14h0m0 2h0m0 0h0m-1 5h0m0-14h0m-1-6h0m0 14h0m0 7h0m-1-15h0m0 12h0m0-10h0m0-3h0m0-3h0m0 19h0m0-14h0m-1 2h0m0-1h0m-1 13h0m-1-8h0m0 4h0m-1 5h0m0-10h0m0 9h0m0-2h0m0-7h0m0 9h0m0-4h0m-1-3h0m0 7h0m0-19h0m0 16h0m0 1h0m-1-14h0m0 4h0m0-3h0m0 3h0m0-6h0m0 18h0m-1-5h0m0-12h0m0 19h0m-1-5h0m0 3h0m-1-5h0m0-6h0m-1 5h0m0 2h0m0 4h0m0-16h0m0 12h0m0-15h0m-1 14h0m0-1h0m-1-14h0m0 18h0m0-4h0m0 4h0m0 2h0m0-6h0m0-13h0m-1 9h0m0 9h0m0-6h0m-1-4h0m0-7h0m0 4h0m0-1h0m-1 9h0m0-10h0m0 0h0m0-2h0m-1 7h0m-1 1h0m0 10h0m0-15h0m-1 6h0m0-5h0m0 1h0m0-3h0m0 0h0m0 18h0m-1-19h0m0 7h0m0 7h0m0 5h0m0-7h0m0-2h0m0-6h0m-1 9h0m0 4h0m0-9h0m-1 9h0m0-19h0m-1 12h0m0-9h0m0-2h0m0 17h0m0 3h0m0-14h0m0 0h0m-1-7h0m0 14h0m-1-10h0m0 12h0m0-7h0m0 4h0m-1-2h0m0-2h0m0 0h0m0 6h0m0-11h0m0-1h0m0-2h0m0 10h0m0-5h0m-2 7h0m0-13h0m0 21h0m0-9h0m-1 6h0m0-14h0m-1 17h0m0-15h0m0 7h0m0-10h0m-1 16h0m0-11h0m-1 12h0m0-1h0m0-5h0m0 6h0m0-23h0m-1 8h0m-1-1h0m-1-6h0m0 0h0m0 16h0m0-5h0m0-2h0m0 0h0m0 12h0m-1-12h0m0-7h0m0 20h0m0-8h0m-1 0h0m0 3h0m-1 1h0m0 0h0m-1-10h0m0-2h0m0 13h0m-1 0h0m0 4h0m0-8h0m-1 2h0m0 1h0m0-9h0m0 12h0m0-14h0m0-5h0m0 6h0m-1 1h0m0 10h0m0-6h0m0 10h0m-1-7h0m0 7h0m0-16h0m-1 13h0m0-16h0m0 3h0m0 14h0m0-10h0m0-1h0m-1 1h0m0-9h0m0 8h0m0 11h0m0-13h0m0 1h0m-1 0h0m0 7h0m0-1h0m0 2h0m-1 3h0m0-17h0m0 6h0m0 5h0m-1 6h0m0-13h0m0 10h0m0 1h0m-1-9h0m0-5h0m0 13h0m0-5h0m0-4h0m-1 10h0m0 0h0m0-8h0m-1 7h0m0 3h0m0-20h0m0 5h0m0 3h0m0 0h0m-1-1h0m0 13h0m0-7h0m0-13h0m0 23h0m0-23h0m-2 19h0m-1 3h0m0-10h0m0-5h0m-2 15h0m0-4h0m0 2h0m0-17h0m-1 9h0m0-2h0m-1 9h0m0 0h0m0-6h0m-1 6h0m0-1h0m-1-12h0m0 12h0m0-17h0m0-2h0m0 10h0m0-1h0m-1 11h0m-1-6h0m0-1h0m0 5h0m0 3h0m-1-16h0m0-3h0m0 16h0m-1-1h0m0 1h0m0-9h0m0 3h0m0-9h0m0 9h0m-1 10h0m0-9h0m-1 2h0m0 5h0m0-4h0m0-5h0m-1-10h0m0 9h0m0-5h0m-1 17h0m0-20h0m0 9h0m0 0h0m-1 4h0m0-12h0m0 3h0m0 13h0m-1-16h0m0 20h0m0-16h0m0 1h0m-1 14h0m0-10h0m-1 12h0m0-20h0m0 1h0m0 1h0m0 8h0m0 0h0m-1-14h0m0 15h0m0-12h0m-1 1h0m-1 6h0m0 10h0m0-16h0m-1 19h0m0 9h0m0 1h0m1-2h0m0-2h0m0 5h0m1-8h0m0 6h0m0 0h0m1-1h0m0-1h0m0-3h0m0 2h0m0 2h0m1 2h0m0-2h0m1 4h0m0-5h0m0-2h0m1-2h0m0 1h0m0 0h0m0 1h0m0 7h0m0-9h0m0 4h0m1-5h0m0 6h0m1 2h0m0 2h0m1-8h0m1-1h0m0 7h0m0-6h0m0 0h0m1 7h0m1 0h0m1 1h0m1-1h0m0-4h0m1-4h0m1 6h0m0-4h0m0 1h0m0 0h0m0 5h0m0 0h0m1 0h0m0 1h0m0 0h0m1-10h0m0 2h0m1 5h0m0 1h0m1-1h0m0 1h0m0 0h0m1-4h0m0 6h0m1-1h0m0-8h0m1 8h0m0-9h0m0 8h0m1-6h0m1 3h0m1 2h0m0-1h0m0-3h0m1 4h0m0-7h0m0 7h0m0-1h0m0 2h0m1-4h0m0 6h0m2-3h0m0-3h0m1 4h0m1-6h0m0 4h0m0 3h0m1-7h0m1 8h0m2-4h0m0-3h0m0 1h0m1-2h0m0 2h0m0 6h0m1-2h0m0-2h0m0-6h0m0 7h0m1 1h0m1-3h0m0 3h0m1-2h0m0-2h0m0 1h0m0 4h0m0 1h0m0-8h0m1-1h0m1 7h0m1-5h0m0-3h0m0 9h0m0 1h0m1 0h0m0-4h0m0-1h0m0 1h0m2 1h0m3-4h0m0 0h0m0 5h0m0 2h0m1 0h0m0 0h0m0-9h0m0 3h0m1 3h0m1-5h0m1-1h0m0 3h0m1 2h0m0 1h0m1-6h0m1 3h0m0-3h0m2 1h0m0 4h0m0-2h0m0-3h0m0 7h0m1 1h0m0-5h0m0 5h0m1-9h0m0 8h0m0 0h0m1 0h0m0-7h0m1 2h0m1 2h0m1 5h0m0-4h0m1 4h0m0-7h0m0 6h0m0 1h0m1-2h0m0 2h0m0-5h0m1 3h0m0 2h0m0-3h0m1-1h0m0 4h0m0 0h0m1-4h0m0-5h0m1 9h0m1 0h0m0-4h0m1-1h0m0-2h0m0-2h0m0 6h0m1-6h0m0 4h0m0 4h0m0-2h0m0 2h0m0 1h0m1-10h0m0 8h0m0 2h0m2-7h0m0 1h0m0 4h0m1 2h0m0-6h0m0-1h0m1 7h0m0-9h0m0 8h0m1-9h0m0 10h0m0-10h0m2 8h0m1 0h0m1 0h0m0-5h0m0-1h0m0 4h0m0 4h0m0-5h0m1-2h0m0 5h0m0-3h0m0 1h0m1 1h0m1 0h0m1 1h0m0-6h0m0 3h0m1 4h0m0 0h0m0-1h0m0-7h0m1 2h0m0-3h0m1 10h0m0-10h0m1 4h0m0 1h0m0 2h0m0 2h0m0 1h0m1-6h0m0 0h0m1-1h0m0-2h0m1-1h0m0 8h0m1-8h0m0 9h0m0-5h0m3 3h0m0 2h0m0-9h0m2 8h0m1-6h0m1 5h0m0 2h0m0-9h0m1 10h0m0-1h0m0-2h0m1-4h0m0-1h0m1 8h0m1-1h0m1-9h0m0 1h0m0 3h0m0-3h0m0 3h0m0 2h0m1 4h0m2-2h0m0-2h0m0 0h0m0 3h0m1 1h0m1 0h0m0-5h0m0-4h0m0 4h0m1-3h0m1 2h0m1 1h0m1 3h0m0-2h0m0-5h0m1 7h0m1-2h0m0 3h0m0-9h0m0 2h0m1 2h0m2-4h0m0 4h0m0 5h0m0 1h0m1-6h0m0 35h0m0-4h0m0-1h0m-1 2h0m0 1h0m0 10h0m0-2h0m0 4h0m-1-10h0m-1-4h0m0-2h0m-1 4h0m-1 9h0m0-11h0m0 11h0m-1 3h0m-1-3h0m0 1h0m0-13h0m-1 7h0m0 1h0m0-8h0m-1 9h0m0-3h0m0 1h0m0-6h0m0 5h0m0 9h0m0-14h0m-1 0h0m0 4h0m0 2h0m0 8h0m-1-16h0m0 1h0m-1 8h0m0-7h0m-1 2h0m0-3h0m0 15h0m0-6h0m0-7h0m0-2h0m-1 5h0m0 1h0m-1-2h0m0 11h0m0-6h0m0 5h0m0-13h0m-1 5h0m-1 8h0m0-7h0m0 2h0m0-8h0m-1 7h0m-1 5h0m0-11h0m0 5h0m-1-7h0m0 9h0m0-5h0m0-3h0m0 2h0m-1 11h0m0-7h0m0-8h0m0 3h0m0 8h0m-1-3h0m0 0h0m0-1h0m0-1h0m0 7h0m-1-1h0m0-5h0m0-6h0m0 7h0m0 6h0m0-6h0m-1 0h0m0-1h0m0 7h0m0-5h0m0-3h0m0 6h0m0-7h0m0-5h0m-1 10h0m0-8h0m-1 7h0m0-7h0m0 4h0m0-2h0m-1 1h0m0-5h0m0 4h0m0 8h0m-1-9h0m0 2h0m0-2h0m0 1h0m0-2h0m-1 0h0m0 7h0m0-4h0m0 3h0m0-4h0m0-2h0m-1 12h0m0-11h0m-1 8h0m0-11h0m0 3h0m0-3h0m0 13h0m0-4h0m0 5h0m-1 0h0m0-7h0m-1 3h0m0-6h0m0 4h0m0-2h0m-1-4h0m0 1h0m0 2h0m0-1h0m0-1h0m0 3h0m0-3h0m0 6h0m0-7h0m-1 7h0m0-1h0m0-1h0m0 3h0m0-4h0m0-6h0m0 10h0m0-3h0m-1 8h0m-1-10h0m0-1h0m0 11h0m0-1h0m0-2h0m-1-8h0m0-4h0m0 3h0m0 6h0m0 7h0m0 0h0m-1 0h0m0-8h0m-1 5h0m0-1h0m-1 3h0m0 1h0m0-15h0m0 11h0m0-5h0m0-1h0m-1-6h0m0 9h0m-1-5h0m0 4h0m0 3h0m0 0h0m-1-10h0m0 9h0m0 0h0m-1-9h0m-1 8h0m0 3h0m0-8h0m-1-3h0m0 0h0m0 6h0m-1-6h0m0 10h0m0-5h0m0 9h0m0-4h0m0-4h0m0 8h0m0-2h0m-1-13h0m0 1h0m0 4h0m-1 2h0m0-4h0m-2 2h0m0-5h0m0 11h0m-1 1h0m0-8h0m0-3h0m-1 3h0m0-4h0m-1 7h0m0 4h0m0-10h0m0 12h0m-1-8h0m0-5h0m0 5h0m-1 0h0m0 6h0m0-1h0m0-3h0m-1 0h0m0-3h0m0-2h0m-1 10h0m0-3h0m-1 4h0m-1 2h0m0-14h0m0 1h0m0 12h0m0 2h0m0-16h0m0 12h0m-1-10h0m0 4h0m-1-6h0m0 6h0m0-3h0m0 9h0m-1-12h0m0 7h0m-1 2h0m0-6h0m0 6h0m0-9h0m0 12h0m0-6h0m0-4h0m-1 9h0m0 0h0m0-1h0m0-8h0m0 14h0m0-4h0m0-3h0m0-2h0m-1-4h0m0-1h0m0 2h0m-1-3h0m0 14h0m-1-6h0m-1 5h0m0-14h0m-2 13h0m0-12h0m0 3h0m0-2h0m0 2h0m-1-1h0m0 7h0m0 0h0m0-6h0m0 12h0m-1-2h0m0-8h0m0-5h0m0 10h0m-1-5h0m0 2h0m0-2h0m-1 5h0m0 1h0m-1-9h0m0 4h0m-1-6h0m0 0h0m0 14h0m0-9h0m0-2h0m0 5h0m0-8h0m0 12h0m-1-4h0m0 1h0m-1-3h0m0-5h0m0 0h0m0 3h0m-1 1h0m0-4h0m-1 10h0m0-11h0m-1 2h0m0-2h0m0 15h0m0-15h0m0 5h0m0-6h0m-1 0h0m0 7h0m0 6h0m0-7h0m0 10h0m-1-2h0m0-3h0m0-10h0m0 1h0m-1 14h0m0-14h0m0 3h0m0 2h0m-1 4h0m0 1h0m0-3h0m-1 2h0m0-8h0m0-1h0m0 7h0m0 3h0m0-8h0m-1 6h0m0 5h0m0-10h0m0 8h0m0-7h0m-1-3h0m0-3h0m0 3h0m0 13h0m0-11h0m0 9h0m-1 2h0m-1-15h0m0 15h0m0-9h0m0-7h0m-1 5h0m0 11h0m-1-11h0m-1-2h0m0 4h0m0 8h0m-1-13h0m0 6h0m0-8h0m0 2h0m0 0h0m-1-2h0m0 8h0m0-4h0m-1 7h0m0-6h0m-1-5h0m0 0h0m0 2h0m0 4h0m-1 1h0m0 9h0m0-1h0m0 0h0m0-10h0m0 7h0m0-1h0m-1-11h0m-1 2h0m0 1h0m0-3h0m0 2h0m0-1h0m0 11h0m-1-3h0m0 2h0m0-6h0m0 10h0m0-5h0m0-3h0m-1 9h0m0-11h0m0 5h0m0-7h0m-1 4h0m0 9h0m0 0h0m0-9h0m-1 8h0m-1-5h0m-1-5h0m0 3h0m0 2h0m-1-7h0m0-1h0m0-1h0m-1 3h0m0-2h0m0 0h0m-1 0h0m0-1h0m0 4h0m0 2h0m0-5h0m0 12h0m0-13h0m-1 2h0m0 5h0m0 7h0m0-4h0m0 3h0m-1-6h0m0-7h0m0 3h0m0 8h0m0-1h0m-1 5h0m-1-3h0m0-12h0m0 3h0m-1-3h0m0 15h0m0-14h0m0 0h0m-1 3h0m0-5h0m0 1h0m-1 12h0m0-8h0m0 10h0m0-15h0m0 0h0m-1 1h0m0-1h0m-1 9h0m0 6h0m0-3h0m0-11h0m0 4h0m-1-2h0m0 5h0m0 2h0m-1-2h0m0 6h0m0-7h0m0 2h0m0-7h0m0 21h0m0-6h0m0 11h0m0 12h0m1-17h0m0 2h0m1-2h0m0 18h0m1-23h0m1 11h0m0-7h0m0 1h0m0 4h0m0 0h0m0-6h0m1 6h0m0-9h0m0 4h0m0 4h0m1 0h0m0 9h0m0 5h0m0-22h0m1 14h0m0-1h0m0-7h0m1-7h0m0 18h0m0-8h0m1 1h0m0-7h0m1 2h0m0 13h0m1-2h0m0-16h0m0-1h0m0 1h0m1 4h0m0 6h0m1 3h0m0-10h0m0 2h0m0 0h0m0 17h0m1-10h0m1-11h0m0 2h0m0 18h0m1-1h0m0-15h0m1 8h0m1-6h0m1-8h0m0 12h0m1-3h0m0 1h0m0-6h0m0 10h0m0-12h0m1-1h0m0 3h0m0 18h0m1-17h0m0 3h0m0 2h0m0-6h0m1 4h0m0 8h0m0-2h0m1-5h0m0 9h0m0-1h0m1-10h0m0 11h0m0-2h0m0-2h0m1-11h0m1 11h0m0-4h0m0-4h0m0 14h0m0-18h0m1-2h0m0 1h0m1 10h0m0 8h0m0-15h0m1 11h0m0 1h0m0-4h0m0-8h0m0 3h0m1 7h0m0-10h0m0-2h0m1 0h0m0 0h0m0-2h0m1 6h0m0-1h0m0 0h0m1 5h0m0-10h0m1 4h0m1 0h0m0-1h0m0 19h0m1-9h0m0-8h0m0-4h0m1 22h0m1-3h0m0-11h0m1 7h0m0 0h0m0-5h0m0 13h0m1-12h0m0 1h0m0-11h0m0 15h0m0 6h0m1-20h0m0 2h0m0-5h0m2 8h0m0 7h0m1-8h0m0-7h0m0 6h0m0 4h0m0 12h0m1-9h0m0-8h0m1-5h0m0 24h0m1-2h0m1-6h0m0 5h0m0-8h0m2-2h0m1 2h0m0 3h0m0-16h0m1 10h0m0-1h0m0 1h0m0-9h0m0 19h0m1-2h0m0-7h0m0 9h0m0-16h0m1 2h0m0 4h0m0 2h0m1-2h0m0-4h0m1-1h0m0 11h0m1 2h0m0-8h0m1-6h0m0 1h0m0 14h0m0-15h0m0 7h0m0 4h0m0-6h0m0 6h0m1 3h0m0-3h0m0 0h0m0 8h0m0-2h0m1-13h0m0 0h0m0-8h0m0 23h0m1-23h0m0 3h0m0 9h0m0 4h0m0-13h0m1 21h0m1-18h0m0-5h0m0 9h0m0 13h0m1-12h0m0 5h0m0-11h0m0 17h0m1-14h0m0 16h0m1-23h0m0 13h0m0-11h0m1 10h0m2-5h0m0 0h0m0 0h0m0 5h0m0 6h0m0 2h0m1-16h0m0 9h0m0-5h0m1-8h0m0-1h0m1 19h0m0-19h0m0 19h0m0 3h0m1-11h0m0 8h0m1-6h0m0 1h0m0-12h0m0 16h0m1-10h0m0 4h0m0-3h0m0 7h0m1-12h0m0 6h0m0 2h0m0 10h0m1-7h0m0-3h0m1-12h0m0 21h0m1-21h0m1 5h0m0 0h0m0 7h0m0-8h0m0 15h0m0-9h0m0 12h0m1-4h0m0-2h0m0 0h0m1-5h0m2 6h0m0 7h0m1-16h0m0-4h0m0 18h0m0-1h0m1 2h0m1-7h0m0-13h0m1 17h0m0-14h0m1 0h0m1 11h0m1-15h0m0 9h0m1-5h0m0 15h0m1-17h0m0 5h0m1-3h0m0 11h0m1-1h0m0-3h0m0-4h0m1-8h0m0 20h0m1-3h0m0-9h0m0-6h0m0 8h0m1 2h0m0-1h0m0-1h0m1 6h0m0-9h0m1 7h0m0-1h0m0-1h0m0-11h0m1 5h0m2-6h0m0 5h0m1 11h0m0-16h0m0 16h0m0-8h0m0 4h0m1-4h0m0 2h0m1-3h0m0-3h0m0-1h0m0 2h0m1 8h0m0-10h0m1 0h0m1 14h0m0-8h0m1 13h0m1-15h0m0 8h0m1-9h0m0 0h0m0 0h0m1-3h0m1 8h0m0-5h0m0-7h0m0 3h0m1 13h0m0-9h0m1 3h0m0-6h0m0 2h0m0-1h0m1 1h0m0-5h0m0 10h0m1-8h0m0 7h0m1-7h0m0 4h0m0 10h0m0-10h0m0 14h0m1-16h0m1 5h0m0-10h0m0 8h0m-6 30h0m-5 10h0m-1 0h0m0-3h0m-1-20h0m0 24h0m-4-14h0m-3-10h0m0 8h0m-1 5h0m0-4h0m-1-9h0m-3 13h0m-5 11h0m0-6h0m-1-8h0m-1 7h0m-1-13h0m-2-1h0m0 2h0m-2 7h0m-3 1h0m-3-7h0m-1-5h0m0 12h0m-1 5h0m0-12h0m-1-4h0m-1 15h0m-4-5h0m0 10h0m0-9h0m-1-7h0m0 16h0m-5-12h0m-8 3h0m-1-11h0m0 12h0m-1-3h0m-2 3h0m-2-9h0m-6 17h0m-2-21h0m-1 18h0m0 0h0m-2-16h0m-2 20h0m-2 0h0m0-19h0m-3 4h0m0 3h0m-7-5h0m0 16h0m0 2h0m-1-13h0m-1-1h0m-1 13h0m-1-16h0m0-4h0m-1 6h0m-5 6h0m0-14h0m-1 13h0m0 5h0m-2-1h0m-1-18h0m-3 4h0m-1 5h0m-1 12h0m-2-1h0m-2-20h0m-3 2h0m0 8h0m3 31h0m1-13h0m1-1h0m8 6h0m1 4h0m0 2h0m7-8h0m1 10h0m2 1h0m2-9h0m3 3h0m3 0h0m2 4h0m3 8h0m3-6h0m4 4h0m1 0h0m3-12h0m3-2h0m1 11h0m0-13h0m1-1h0m1 10h0m2-5h0m2-9h0m1 8h0m2 16h0m0-14h0m2 4h0m4 9h0m1-16h0m1 14h0m0-7h0m1-9h0m0 17h0m2-4h0m4-1h0m4-14h0m4 4h0m0-1h0m4-1h0m0 1h0m5 3h0m3 14h0m1-9h0m9 0h0m5-4h0m2 10h0m1 1h0m0-20h0m2 11h0m3 11h0m0-1h0m2-1h0m1 2h0m0 13h0m-2-6h0m-1 4h0m-8 9h0m-1 2h0m-1-14h0m-5 15h0m-4-3h0m0-15h0m-2 3h0m-1 15h0m0 1h0m-1 2h0m0-20h0m-5 9h0m-1 2h0m0-4h0m-1-8h0m-7-3h0m-1 11h0m-1-11h0m-1 24h0m-6 0h0m-1-1h0m-2 0h0m-2-22h0m-10 18h0m-5 3h0m0-19h0m-2 21h0m-6-7h0m-3-13h0m0 4h0m-2 6h0m-7 8h0m-10-13h0m0 0h0m-3 7h0m-4-11h0m-4 13h0m-4-15h0m0 7h0m-1 12h0m0-4h0m-2-4h0m-2-5h0m-1 4h0m-1-4h0m0-4h0m3 36h0m1-15h0m5 22h0m6-15h0m2 0h0m1-6h0m0 4h0m5 9h0m5 8h0m1-20h0m2 2h0m1 15h0m2 1h0m0-20h0m5-1h0m2 9h0m1-9h0m2 4h0m5 15h0m6-16h0m1 11h0m11-3h0m3 8h0m0-18h0m1 4h0m4 9h0m0-9h0m4-2h0m3 14h0m8-13h0m2 5h0m2 9h0m6 0h0m4-13h0m1-4h0m5 1h0m12-2h0m-4 26h0m-7 10h0m-15 3h0m-2-5h0m-3 7h0m-1-15h0m-3 0h0m0 23h0m-7-9h0m-6-14h0m-11 5h0m-3-2h0m-1 3h0m-27 2h0m-1-6h0m-9-3h0m-1 3h0m-2 5h0m-3 16h0m-2-8h0m-8-14h0m-7 19h0m-1-3h0m0 0h0m0 19h0m0-8h0m0-2h0m0 12h0m0-6h0m1 9h0m1-3h0m1-14h0m1 14h0m1 2h0m0-2h0m0-6h0m1 9h0m3-16h0m1 19h0m3-12h0m1-4h0m3 13h0m2-15h0m0 4h0m7 16h0m1-2h0m4-12h0m25-8h0m48 0h0m-62 30h0m-12 0h0m-1 11h0m-1 4h0m-1-11h0m-2 5h0m0-1h0m-7 1h0m-1-13h0m0 17h0m0 6h0m0-1h0m-1-2h0m-2-4h0m-1-16h0m-1 21h0m-2-13h0m0 5h0m-1 3h0m-1-13h0m-1 9h0m0-5h0m-1-5h0m0 2h0m-2-5h0m0 5h0m0 5h0m-4 8h0m0 6h0m0-16h0m0 9h0m0 7h0m0-7h0m0-15h0m0 27h0m0 16h0m0-8h0m6-6h0m3-1h0m0 13h0m1-4h0m1 0h0m0-13h0m2 12h0m0-4h0m1 1h0m1 8h0m2 0h0m0 2h0m1-12h0m2 12h0m0-6h0m0 9h0m1-7h0m1-2h0m0 7h0m1-1h0m0-17h0m0 9h0m0 5h0m1 4h0m1-1h0m0-7h0m0-6h0m0 6h0m2 6h0m1 3h0m0-8h0m2 2h0m0-5h0m0-6h0m0-3h0m1 10h0m0 0h0m0-9h0m0 16h0m2 1h0m1-9h0m1 13h0m1-7h0m3 5h0m1-16h0m5 16h0m0-8h0m2-14h0m14 30h0m-11 19h0m-1-16h0m-1-6h0m0 20h0m-1-20h0m-7 15h0m-1-11h0m0 9h0m-2 1h0m0 4h0m-1-9h0m-1 3h0m-1-14h0m0 23h0m-1-5h0m-1 2h0m0-20h0m-1 12h0m0 8h0m-1-16h0m0 9h0m-1-4h0m0-5h0m-2 8h0m-1 8h0m0-5h0m-1-7h0m0 0h0m0 6h0m-1 6h0m-2-20h0m0 5h0m-3 1h0m-1-4h0m-2 3h0m0 4h0m-1-7h0m0 14h0m-1-5h0m-3-4h0m0 4h0m0 6h0m-2-9h0m-1 16h0m-6-14h0m-1-5h0m0 19h0m-1-6h0m0 6h0m0 7h0m6 0h0m1 13h0m4-12h0m1 0h0m3 16h0m2-9h0m2 4h0m0 6h0m1-3h0m2-19h0m0 1h0m1 4h0m1 2h0m2 7h0m0-15h0m1 21h0m0 2h0m1-12h0m1-4h0m1 4h0m0 4h0m0-1h0m1 0h0m0-8h0m1 4h0m2-6h0m1 14h0m0-11h0m1 5h0m0 9h0m2-13h0m2 9h0m1-15h0m0 7h0m0 3h0m0-11h0m1-1h0m0 4h0m2 18h0m1-14h0m0 2h0m2-1h0m3 11h0m1-14h0m1-5h0m2 13h0m12-9h0m-7 21h0m-2 10h0m0-5h0m-1 0h0m-3 13h0m-1 0h0m0-16h0m-2 9h0m-2 1h0m-1-3h0m0-8h0m0 17h0m-2 3h0m-1-19h0m-1 14h0m-1-15h0m-1 14h0m0 6h0m0-2h0m-1-4h0m0 4h0m-1-3h0m-2-2h0m0 8h0m-1-18h0m-1 11h0m0 0h0m0 4h0m0-2h0m-1 1h0m0-1h0m-1 1h0m0-14h0m-1-5h0m-2 18h0m0-18h0m0 17h0m-1 1h0m-1-12h0m-3-4h0m-2 5h0m-13-7h0m4 42h0m8-3h0m4-9h0m4 3h0m3-6h0m2 13h0m0-1h0m2-13h0m0 15h0m1 1h0m0 1h0m5-14h0m0 5h0m2-9h0m2 1h0m1 2h0m1 12h0m0-6h0m1-1h0m1-2h0m1 4h0m4-10h0m4 15h0m4-12h0m2 1h0m3 24h0m-11-3h0m-2 1h0m-7 12h0m-1 2h0m-1-14h0m-24 0h0m-1 39h0m35-6h0" fill="none" stroke="#737373" stroke-width="6.2" stroke-linecap="round"/>
<path transform="scale(0.2)" d="M1544 2469h0m-2 6h0m-24 9h0m-41-4h0m-47 14h0m-15 22h0m11-2h0m3-1h0m81-11h0m22 0h0m-17 30h0m-69 18h0m26 7h0m70 16h0m12-13h0m0 13h0m-111 35h0m28 10h0m11 3h0m22-9h0m41-1h0m3-9h0m110 28h0m-135 12h0m-3 2h0m-95-19h0m-12 22h0m4 17h0m1 9h0m7 1h0m3-10h0m11 0h0m4-1h0m11-4h0m13 2h0m1 2h0m24 6h0m16-11h0m17 11h0m0 2h0m2-6h0m2 0h0m3 1h0m4-3h0m8-7h0m20-6h0m7 8h0m1 7h0m16-5h0m17 5h0m43-10h0m15 11h0m24-4h0m-24 35h0m-41 2h0m-17-19h0m-4-3h0m-47 3h0m-2 5h0m-4 4h0m-12 5h0m-3-7h0m-43 8h0m-18-7h0m-5-13h0m-9 19h0m-3 2h0m-19-21h0m-8 0h0m-11 33h0m4 3h0m3 7h0m5-7h0m4 5h0m6-4h0m8 7h0m4-10h0m8 13h0m3 0h0m6-4h0m11-17h0m17 23h0m6-3h0m12-11h0m9 3h0m18 0h0m6-6h0m1 8h0m36 7h0m8-11h0m12-1h0m23-5h0m20 13h0m19-1h0m2 1h0m19-12h0m-9 38h0m-32-8h0m-11-10h0m-13 20h0m-71-17h0m-18 8h0m-2 5h0m-33-6h0m-2-2h0m-14-3h0m-4 2h0m-5 1h0m-15 13h0m-34-2h0m-1-7h0m-1-5h0m-1 12h0m-1 4h0m-3-18h0m-2-3h0m-1 37h0m2-10h0m1 12h0m2-6h0m2-5h0m2 8h0m2 2h0m3-7h0m1-3h0m0-6h0m3 20h0m2-3h0m5-17h0m1 21h0m2-19h0m0 1h0m2 21h0m0-9h0m2-1h0m1-6h0m0 15h0m1-16h0m1 8h0m1 8h0m2-1h0m1-16h0m1-6h0m1 17h0m0 7h0m1-5h0m0-5h0m1-1h0m0-1h0m6 3h0m1 2h0m2-4h0m11-8h0m3 15h0m3 4h0m3-3h0m5-8h0m6-1h0m0 7h0m0-5h0m3 7h0m1-10h0m1 5h0m1-8h0m0 11h0m2-3h0m3 2h0m0-7h0m8-1h0m0 8h0m6 5h0m2-3h0m1-17h0m8 11h0m1 4h0m0-11h0m3 1h0m0-5h0m1 20h0m4-6h0m2 7h0m1-6h0m0-1h0m5 1h0m2-2h0m0 4h0m10 3h0m0-20h0m1 2h0m1 1h0m0 1h0m3 12h0m4-1h0m8-17h0m5 23h0m0-6h0m1-11h0m5 0h0m3 13h0m7-13h0m6 11h0m6 0h0m4-16h0m2 16h0m8-15h0m2 13h0m31-13h0m19 1h0m167 38h0m-19-1h0m-5 5h0m-14 3h0m-10-2h0m-14-2h0m-13-9h0m-9 12h0m-11-9h0m-3-3h0m-2-4h0m-12 11h0m-16 2h0m-8-6h0m-3-1h0m-4 5h0m-8-5h0m-6-9h0m-11 20h0m-3-12h0m-17 12h0m-16-17h0m-2 13h0m-1-6h0m-1 5h0m-2 0h0m-3-15h0m0 12h0m-2-11h0m0 18h0m-3-10h0m-1-8h0m0-2h0m-2 0h0m0 17h0m-5 3h0m-2-9h0m0-7h0m-2 7h0m-1 1h0m-1 8h0m-1-4h0m-1 4h0m-1-17h0m-1-2h0m-2 7h0m-1 8h0m0-10h0m0-3h0m-2 16h0m-1-2h0m-2-15h0m-1 4h0m-2 0h0m0 5h0m-2 10h0m0-21h0m0 8h0m-3 7h0m-2 4h0m-1-1h0m0-16h0m0 14h0m0-4h0m-1 9h0m0-13h0m-3 0h0m-1 10h0m0-20h0m0 23h0m-2-7h0m-1-17h0m0 1h0m-1 4h0m-1 18h0m-1 1h0m-2-2h0m-3-19h0m-2 0h0m-3 12h0m-1-8h0m-3 1h0m-1 16h0m-3-22h0m-1 5h0m0-3h0m-1 13h0m-1 5h0m0-13h0m-3 8h0m-1 1h0m-2-7h0m-2 0h0m-1 5h0m-2-7h0m0 3h0m-1-6h0m-1 10h0m0-1h0m-3-10h0m-1-4h0m-2 10h0m-1-6h0m-1 18h0m-3-2h0m-1-15h0m-2 4h0m-1 7h0m0-14h0m-1-3h0m0 17h0m0-6h0m-1-3h0m-2 0h0m0 0h0m-1 4h0m0 10h0m-1-9h0m-2 4h0m0 4h0m-1-4h0m0-3h0m-1 1h0m-2 6h0m-4-5h0m-1-10h0m0 6h0m-1-9h0m-3-2h0m-1 0h0m0 20h0m0-9h0m-1 10h0m0-15h0m0 5h0m-1-8h0m0 13h0m-1-15h0m-2 17h0m-2-17h0m0 10h0m-2 12h0m0-6h0m-3-16h0m-1 12h0m0 10h0m-5-17h0m0 13h0m-1-15h0m0-5h0m-1 2h0m0 18h0m0 3h0m-2-17h0m-1 9h0m-2 6h0m-1-13h0m-1 0h0m-1-5h0m0 15h0m-1-17h0m-2 16h0m-1 3h0m-1-4h0m0-8h0m-1 16h0m-1-15h0m0-3h0m-2 18h0m-2-23h0m0 11h0m0 2h0m0 4h0m-1 4h0m-3 1h0m0-7h0m-2-5h0m-1 1h0m-1 7h0m-2-15h0m-1 14h0m-1-5h0m0 8h0m-1-18h0m-1 8h0m0 6h0m0 1h0m-1 5h0m-1 0h0m-1-21h0m-2 21h0m-1-1h0m-5 1h0m-1-20h0m-2 15h0m0-3h0m0-6h0m-1 6h0m0-12h0m-1 5h0m-1 11h0m-1-2h0m0-11h0m-1 14h0m-1-4h0m0-4h0m-4-3h0m-3 7h0m-1-14h0m-1 5h0m-1-1h0m0 4h0m-1-7h0m0 14h0m-3 0h0m-1-3h0m-1 3h0m0-13h0m-1 11h0m0-13h0m0 20h0m-2-13h0m-1 7h0m0 6h0m-1-19h0m0-1h0m0 7h0m0 3h0m-1 6h0m-1 1h0m0 23h0m1-7h0m1 11h0m0-13h0m1-7h0m0 16h0m2-9h0m1 10h0m1-16h0m3 21h0m2-8h0m2 0h0m2 4h0m0 5h0m1-10h0m1-7h0m2-5h0m0 5h0m1 9h0m0-7h0m0-3h0m0-1h0m1-1h0m1 6h0m1 13h0m1-9h0m3 7h0m2-3h0m0 2h0m1 2h0m1 0h0m4-17h0m0 13h0m1-1h0m2 3h0m0-9h0m0 0h0m1-5h0m1-4h0m0 21h0m1-6h0m0-4h0m1 7h0m0 2h0m0-17h0m1 11h0m1-10h0m0 10h0m2 2h0m0 5h0m0-9h0m2-5h0m1 11h0m1 4h0m1-10h0m1 7h0m0-9h0m1-5h0m1-5h0m0 18h0m1 1h0m1-2h0m0-17h0m2 0h0m0 14h0m1 4h0m0 3h0m1-23h0m0 21h0m0 1h0m1-14h0m2-3h0m0 0h0m2-3h0m0 3h0m2 14h0m1 3h0m0-22h0m0 10h0m1 13h0m0-10h0m1 4h0m1-9h0m1-1h0m0 17h0m0-10h0m1-1h0m1 10h0m2 1h0m0-7h0m0-9h0m0-8h0m2 22h0m1-16h0m2 16h0m1-16h0m1 1h0m0 6h0m0-2h0m0-9h0m1 3h0m0 15h0m1-11h0m0 14h0m3 0h0m1-23h0m1 10h0m0 4h0m1 10h0m1-5h0m0 3h0m1 0h0m0-6h0m2 3h0m0-6h0m2 6h0m1-4h0m0-10h0m1 5h0m0 9h0m0-10h0m2 12h0m2-20h0m1 23h0m2-22h0m1 11h0m1 11h0m1-19h0m0-5h0m1 16h0m0-9h0m2-5h0m1 1h0m0 3h0m0-2h0m0 5h0m1 0h0m0 9h0m3-3h0m1 0h0m0-4h0m0 4h0m0-5h0m0 1h0m1-11h0m0 8h0m2 14h0m1-10h0m0 9h0m0-16h0m0 12h0m1-17h0m1 15h0m2-8h0m0 1h0m0 14h0m1-7h0m1-9h0m1-6h0m2 13h0m1 11h0m1-14h0m0 3h0m0 4h0m1-2h0m0-10h0m1-5h0m0 1h0m1 23h0m0-14h0m1 10h0m0-6h0m2-8h0m0 17h0m0-7h0m0 4h0m2-1h0m0-12h0m1-4h0m0 19h0m0-19h0m1 18h0m0 1h0m1-6h0m2 8h0m1-2h0m2-18h0m1 5h0m0-5h0m0 7h0m2 9h0m0-14h0m1-6h0m0 9h0m0 2h0m1 6h0m1 0h0m0 3h0m0-6h0m1-6h0m0 12h0m0-6h0m0 5h0m1 2h0m0 3h0m2-7h0m0-9h0m0 10h0m1-3h0m0 1h0m1-15h0m1 15h0m1-15h0m0 14h0m0-5h0m1 1h0m0-10h0m1 12h0m1-12h0m0 21h0m0-2h0m0-5h0m2-8h0m1 4h0m0-11h0m1 2h0m1 21h0m0-3h0m0 1h0m0-3h0m2 1h0m0-13h0m1 5h0m1 1h0m2-1h0m1-3h0m3-8h0m0 1h0m1 22h0m0-11h0m1-10h0m1 9h0m0 12h0m3-20h0m0 4h0m2 9h0m0-7h0m1-5h0m2 1h0m0 16h0m1-6h0m0-13h0m0 16h0m1-8h0m2 0h0m1-7h0m1 12h0m0-9h0m1 18h0m1-7h0m1-14h0m1 11h0m1 1h0m1-9h0m1 12h0m1 3h0m1-18h0m1 8h0m0-5h0m0 10h0m1-1h0m1 7h0m0-14h0m1-1h0m1-3h0m0 2h0m2 5h0m2 6h0m0 6h0m0-5h0m2-6h0m1-4h0m1-2h0m1 17h0m0-15h0m1 4h0m0 10h0m1-5h0m1-13h0m0-3h0m3 18h0m0-5h0m0-7h0m1 2h0m0 3h0m1 4h0m2-11h0m2 0h0m2 0h0m6-3h0m11 21h0m2-2h0m4-1h0m13-17h0m0-1h0m2 21h0m6-10h0m3 7h0m8-18h0m2 13h0m2-6h0m0-5h0m2 13h0m1-12h0m1 16h0m0-17h0m5 17h0m3-20h0m4 6h0m3 0h0m0 17h0m8-10h0m7-1h0m3-7h0m1-2h0m5 14h0m4-9h0m2 1h0m3 2h0m0 0h0m2-8h0m3 4h0m5 1h0m2-8h0m9 7h0m3 6h0m0-9h0m3 8h0m2 4h0m1 3h0m10-18h0m1 12h0m3 5h0m10-14h0m1 13h0m6-13h0m11 10h0m18-10h0m2-1h0m1 18h0m11 0h0m5-18h0m2 10h0m10-2h0m3 2h0m2 9h0m14-17h0m5 10h0m26 7h0m10 26h0m-13-9h0m-2-4h0m-10-3h0m-9-2h0m-7 18h0m-3-14h0m0-10h0m-14 18h0m-7-8h0m-2-8h0m-3 16h0m-4-13h0m-3 10h0m-2 9h0m-13-22h0m-1 20h0m-1-17h0m-8 19h0m-1 0h0m0-22h0m-2 14h0m-2-13h0m-6 5h0m-2 4h0m-3 1h0m-4-9h0m0 20h0m-1-10h0m0-6h0m-7 11h0m-2-17h0m-4 12h0m-3-5h0m-3-4h0m-1-4h0m0 15h0m-8-9h0m-1 0h0m-6-7h0m-1 3h0m-2 18h0m-8-9h0m-9 8h0m-4-16h0m-8 12h0m-2-9h0m-1 14h0m-2 3h0m-3-11h0m-1-7h0m-3 4h0m-1 7h0m-2-4h0m-6-10h0m-2 16h0m-5 3h0m-1-22h0m-5 7h0m-1-2h0m-1 9h0m-2 0h0m-2-9h0m-2-1h0m0 16h0m-1-8h0m-2-1h0m-1-6h0m-2 6h0m-10-6h0m-1 2h0m-7 4h0m-4-6h0m0-5h0m-5 2h0m-2 14h0m-1-9h0m-1 3h0m0 4h0m-5-2h0m0 10h0m-3-21h0m-3-1h0m0 0h0m0 17h0m-1-4h0m-3-8h0m-2 19h0m0-4h0m0-12h0m-5 15h0m-1-20h0m0 16h0m-2-10h0m-4-9h0m0 2h0m0 7h0m-1 9h0m-1-4h0m0-14h0m-1 1h0m-2 7h0m0 6h0m0 9h0m-1-1h0m0-12h0m-2-6h0m-1 0h0m0 15h0m0-18h0m-1 17h0m0-8h0m-1 0h0m0 8h0m0 0h0m-1 6h0m-1-22h0m-1-2h0m-1 13h0m-1 0h0m-1 2h0m0-4h0m-2-8h0m-1 6h0m0 14h0m-1-8h0m0-14h0m-1 12h0m-1-5h0m-1 15h0m0-13h0m-1 11h0m0-19h0m-1 0h0m0 17h0m-1 0h0m0-11h0m-2 15h0m0 1h0m-1 0h0m0-13h0m0-6h0m-1 18h0m-1-13h0m-1 10h0m0-15h0m0 8h0m0-9h0m-1 0h0m-1 15h0m0 5h0m-1-15h0m0 6h0m-1-12h0m-1 13h0m0-15h0m-1 8h0m0 9h0m-1-15h0m-1 20h0m0-14h0m-1 11h0m-1 0h0m0-9h0m-1-9h0m0 19h0m-1-15h0m0 14h0m0 0h0m-1 0h0m0 3h0m-1-9h0m-2-3h0m-1-2h0m0 8h0m0-7h0m-1 8h0m0-4h0m-1 3h0m0 1h0m0-17h0m-1 22h0m-1-1h0m0 0h0m-1-13h0m0-1h0m0-6h0m-1 8h0m0 3h0m-1 1h0m0-10h0m0 3h0m-1-1h0m-1 13h0m0-7h0m0 5h0m0-12h0m-1-3h0m-1 6h0m-1 15h0m0-23h0m-1 16h0m0 5h0m0-19h0m-1 17h0m0-17h0m-1 13h0m-1-4h0m-1 13h0m0-1h0m0-11h0m-1-9h0m0 13h0m0-2h0m0 8h0m-1 2h0m0 0h0m0-22h0m-1 13h0m0 4h0m0 5h0m-1-4h0m0-9h0m-2 3h0m0 8h0m-1-21h0m-1 9h0m-1 10h0m0-1h0m0 2h0m-1-11h0m0-2h0m0-1h0m0 7h0m-1 9h0m0-23h0m0 24h0m-1-12h0m0 8h0m0 0h0m-1-19h0m0 9h0m-1 9h0m0-9h0m-1 3h0m-2-2h0m0 4h0m-1 7h0m-1-16h0m-2-4h0m0 8h0m0 9h0m0-4h0m-1 0h0m-1-3h0m0-3h0m-1 11h0m0-12h0m-1 10h0m0 6h0m-1-15h0m-1 15h0m0-17h0m-1 10h0m0-3h0m0 10h0m0-15h0m0 3h0m-1-2h0m-1 4h0m0 2h0m-1-16h0m-1 22h0m0-15h0m-1 11h0m0 6h0m-1-12h0m0 1h0m-1 3h0m0-8h0m0-4h0m-1-4h0m0 21h0m0-4h0m-1-6h0m0 6h0m0-10h0m0 17h0m-1-11h0m-1 11h0m-1-18h0m0 18h0m0-24h0m-1 5h0m-1 16h0m0 3h0m-1-13h0m0 3h0m0-13h0m-1 23h0m0-14h0m-1-9h0m-1 15h0m0 6h0m0 2h0m0-8h0m-1-10h0m0-4h0m0 15h0m-1 7h0m0-19h0m-1 12h0m0-5h0m0 6h0m-1 6h0m0 0h0m0-5h0m-1-6h0m0 8h0m-1-7h0m0 7h0m-1-10h0m-1-1h0m-1-9h0m-1 12h0m-1-8h0m0 19h0m0-19h0m0-1h0m0 0h0m0 8h0m-1-6h0m0 10h0m0 2h0m-1 5h0m0 1h0m0-20h0m0 1h0m0 1h0m-1 11h0m-1-5h0m-1-7h0m0 2h0m-2 10h0m0 5h0m0 0h0m-1-10h0m0-5h0m-2 14h0m-1 0h0m0-15h0m0 7h0m-1-1h0m0 3h0m-1-9h0m-1-4h0m0 10h0m0 7h0m-1 2h0m-1-8h0m0 6h0m0-1h0m-1 6h0m-1-19h0m-1 2h0m0 6h0m0-12h0m-1 22h0m0-4h0m-1 3h0m-1-5h0m-1-17h0m-1 5h0m0 16h0m0-3h0m0 6h0m-1-17h0m-1 0h0m0-5h0m0 7h0m0 9h0m-3 4h0m-1 1h0m-2-15h0m0-5h0m-3 7h0m-1 9h0m-1-4h0m0-8h0m-1 1h0m0 16h0m0-2h0m-1-3h0m0-7h0m0-4h0m-3 11h0m0-13h0m0 5h0m-1 12h0m-4 1h0m-1-9h0m0 8h0m0-14h0m0 11h0m0-10h0m0 12h0m-1-4h0m-1 2h0m0-20h0m-1 0h0m-1 18h0m-1-9h0m-1 6h0m0 1h0m-1 5h0m0-8h0m0-2h0m0 1h0m-1 4h0m0 0h0m-2-9h0m-1 6h0m-1 3h0m-2-15h0m-2 5h0m-1 7h0m-1 11h0m0-17h0m0 15h0m0-2h0m0-12h0m0 11h0m-1 1h0m-1 1h0m0-9h0m-1-2h0m-1-10h0m0 7h0m-2-3h0m0 14h0m0 2h0m-1-2h0m0-2h0m0-4h0m0-5h0m0 13h0m-1-10h0m0-7h0m-1 14h0m0 3h0m-1-9h0m0-8h0m-1 14h0m0-12h0m0 5h0m0-6h0m-2 14h0m0-1h0m-1 2h0m0 4h0m-1-7h0m0-11h0m0 2h0m-1 7h0m-1-7h0m-1 4h0m0-5h0m0 3h0m0-6h0m-2 5h0m0-2h0m-2 15h0m0-20h0m-1 4h0m0 8h0m-1-12h0m0 4h0m-1 11h0m0-1h0m-1-2h0m-1 5h0m0 2h0m0-1h0m-1-9h0m0 6h0m-1 0h0m-1-5h0m0-8h0m0 16h0m0-14h0m-1 0h0m-1-4h0m-1 23h0m0-3h0m0 3h0m-1-2h0m0-11h0m0 1h0m0-7h0m-3 16h0m0-3h0m-1 0h0m-1-11h0m0-1h0m-1-6h0m0 28h0m2 0h0m1 0h0m2-1h0m1 2h0m3-2h0m1-1h0m1 3h0m0-1h0m1-2h0m1 1h0m1-2h0m1 4h0m1-1h0m2 1h0m2 0h0m1-3h0m0 1h0m0 0h0m4-2h0m1 4h0m1 0h0m4-1h0m1 1h0m0-4h0m1 3h0m1 1h0m1-1h0m0 0h0m0-2h0m2-1h0m1 2h0m1-2h0m1 4h0m0-4h0m1 2h0m0-1h0m1 2h0m1-1h0m0 0h0m3-1h0m1 2h0m0 0h0m2-1h0m0 2h0m2-3h0m1 1h0m0 1h0m1-1h0m1-2h0m1 4h0m1-2h0m0 2h0m2-1h0m1 1h0m3 0h0m0 0h0m0-1h0m0-2h0m0 1h0m3 2h0m1-1h0m1 1h0m1-2h0m0-1h0m0 1h0m1 2h0m0-4h0m1 0h0m0 3h0m2 0h0m0 0h0m0 1h0m1-2h0m5 1h0m1 0h0m3 1h0m0-1h0m13 1h0m3 0h0m1 0h0m1-2h0m2-1h0m1-1h0m1 3h0m1 1h0m0-1h0m0-2h0m3 0h0m1 3h0m2 0h0m0 0h0m1-2h0m1-1h0m4 3h0m1 0h0m3 0h0m0-4h0m0 4h0m2-1h0m2 1h0m2-1h0m1 0h0m0 1h0m1 0h0m1-1h0m1 1h0m2-1h0m2-3h0m2 2h0m1-2h0m2 3h0m4 0h0m1 1h0m2-2h0m0 2h0m1-1h0m1-1h0m0 1h0m3 1h0m0-1h0m1 1h0m2 0h0m4 0h0m3-2h0m0-1h0m1 3h0m4-2h0m1-1h0m0 2h0m1-2h0m4 3h0m0 0h0m2 0h0m1-1h0m2 0h0m1-2h0m0 3h0m3 0h0m0 0h0m1 0h0m1-2h0m2 0h0m3-2h0m1 1h0m4-1h0m2 0h0m2 3h0m1 0h0m2-1h0m1 1h0m0 1h0m0-4h0m0 2h0m2 0h0m5-2h0m2 3h0m0 0h0m2-1h0m0 1h0m1-2h0m1 2h0m1-1h0m1 1h0m0-3h0m1 4h0m0-2h0m0 2h0m4-3h0m0 2h0m5-3h0m0 0h0m2 4h0m0-1h0m1 1h0m4 0h0m4-1h0m13 1h0m1-4h0m1 2h0m6 2h0m3 0h0m3-1h0m7 1h0m4-2h0m3 1h0m3-1h0m1 2h0m10-4h0m27 3h0m0 0h0m8 1h0m37-3h0m32 0h0m6 0h0m36 3h0m10 0h0m14-3h0m35 0h0m25 1h0" fill="none" stroke="#ff0000" stroke-width="7.8" stroke-linecap="round"/>
<path transform="scale(0.2)" d="M1977 2898h0m-52 0h0m-16-5h0m-11-2h0m-26 2h0m-1-1h0m-3 0h0m-1 4h0m-1 0h0m-5-3h0m-18 4h0m0-6h0m0 2h0m-20 5h0m-4-4h0m-3 2h0m0-4h0m-1 4h0m-5-4h0m-8 6h0m-2-2h0m0 1h0m-4-5h0m-2 4h0m-5-4h0m-3-1h0m-6 5h0m-2-3h0m-15 4h0m-5-1h0m-5-4h0m-4 1h0m-6-2h0m-16 1h0m0-1h0m-3 4h0m-2-4h0m-1 5h0m-2-1h0m-1 1h0m-7-2h0m-8-2h0m-9-1h0m-9 2h0m-3 0h0m0-2h0m-2 3h0m-9 1h0m-2-4h0m-2 6h0m-4-2h0m-1 3h0m-1-7h0m-1 3h0m-2 3h0m-5-6h0m-6 3h0m-1 5h0m-3-1h0m-1-2h0m0 0h0m-2 0h0m0 0h0m-1-5h0m0 6h0m-1-6h0m-3 4h0m-1 1h0m0-3h0m-2-2h0m0 2h0m-2-2h0m0 6h0m-2 2h0m-1-6h0m0 5h0m0-7h0m-1 0h0m0 2h0m-1-2h0m-1 4h0m0-4h0m-1 1h0m-1 0h0m-1 2h0m-1-3h0m0 0h0m-1 4h0m0-3h0m-1-1h0m0 1h0m0 5h0m-3-5h0m-2 1h0m-1 6h0m-4-6h0m0-2h0m-1 4h0m-1-2h0m-1 1h0m0 4h0m0-2h0m-2 2h0m0-7h0m-2 3h0m-2 5h0m-1-8h0m-2 0h0m0 6h0m-2 1h0m-1-7h0m-1 6h0m0-5h0m0 3h0m-1 3h0m-1-1h0m-1-1h0m0 3h0m-2-4h0m-1 3h0m0-4h0m0 2h0m-1-1h0m0-2h0m-1 3h0m-1-3h0m-2 2h0m-1-1h0m-1 5h0m-1-3h0m-1 0h0m-1-1h0m-2 0h0m-4-1h0m-1 4h0m-2-7h0m-1 0h0m-1 5h0m-1-5h0m0 6h0m0-5h0m0 6h0m-2-6h0m-1 2h0m-1-3h0m-1 4h0m0 1h0m0 0h0m-1-4h0m0 0h0m-1 5h0m-4-6h0m-1 7h0m0-2h0m-1-3h0m0 5h0m-2-5h0m-1-2h0m-1 2h0m-1 4h0m-1 2h0m0-3h0m-1 2h0m-1-7h0m-1 8h0m0-7h0m-1 1h0m-1-2h0m0 8h0m-1-8h0m0 3h0m-2-2h0m0 7h0m0-5h0m-1-2h0m-1 3h0m-1-2h0m-1 4h0m0-1h0m0-1h0m-1-3h0m-1 3h0m0-4h0m-3 0h0m-2 5h0m-2-5h0m-1 0h0m0 2h0m0-2h0m0 1h0m-1 1h0m-1 1h0m-2-3h0m-1 2h0m-2-2h0m-3 1h0m0 0h0m-1-1h0m0 1h0m0-1h0m-2 0h0m0 4h0m0-4h0m-4 5h0m0-3h0m0-2h0m-1 1h0m-1 4h0m0-5h0m-1 2h0m-2 6h0m0-8h0m-2 8h0m-1-8h0m-1 3h0m-1 0h0m-1-1h0m-1 6h0m-1-1h0m0 1h0m-1-8h0m-2 0h0m0 5h0m-1 1h0m0-1h0m-1-5h0m0 1h0m0 6h0m-1-3h0m0 3h0m-1 0h0m-1 1h0m0-5h0m-1-1h0m-2 4h0m0-5h0m0 5h0m-1-5h0m-1 0h0m-1 1h0m-1 2h0m0 1h0m0-2h0m-1 1h0m-1 2h0m-1 2h0m0 0h0m-2-7h0m-2 1h0m0-2h0m-1 7h0m0-6h0m0 5h0m-1 2h0m-2-5h0m-1 1h0m-1 1h0m-2 2h0m0-2h0m-1-4h0m0 4h0m-1-5h0m-1 3h0m-1-2h0m0-1h0m-1 5h0m-1-3h0m-1-1h0m-1 3h0m-1-4h0m-1 0h0m-1 3h0m-1 2h0m-1 0h0m0 1h0m-1-6h0m0 2h0m-1 1h0m0-2h0m-1 0h0m-3 7h0m-2-7h0m0 3h0m0 3h0m-1-7h0m0 2h0m0 1h0m-1-2h0m-1 1h0m-1-1h0m-1 6h0m-3-6h0m-1 6h0m0-6h0m-1 1h0m-1 1h0m-1-3h0m0 8h0m-2-4h0m-2-1h0m-1 5h0m0-4h0m-1 1h0m-2-4h0m-1 4h0m-1 0h0m0 2h0m-1-6h0m0 1h0m0 0h0m-1 0h0m-2-2h0m-1 4h0m0-2h0m-3-2h0m0 4h0m1 16h0m0-8h0m0 19h0m0 0h0m0-6h0m1-7h0m0 15h0m0-2h0m0-12h0m0 9h0m1-13h0m0 14h0m0-19h0m0 18h0m1-4h0m0-13h0m0-2h0m1 5h0m0 11h0m1 6h0m0-17h0m3-1h0m0 1h0m1-3h0m1 10h0m0 12h0m0-6h0m0 1h0m0-18h0m1 1h0m0 7h0m1 3h0m1-3h0m1-6h0m0 11h0m1-6h0m1-2h0m0 1h0m1 1h0m0-6h0m0 8h0m0 11h0m0-11h0m0-4h0m1-6h0m0 12h0m1 4h0m0-13h0m0 0h0m2 3h0m1 6h0m0 3h0m0 3h0m0-10h0m1-2h0m0-5h0m1 4h0m0 2h0m0 14h0m1-3h0m0-12h0m1 13h0m0-11h0m1 2h0m0 3h0m0 5h0m1-10h0m0 12h0m0-1h0m0-6h0m1-4h0m0 7h0m0-4h0m0 4h0m0 6h0m1-1h0m0-5h0m0-2h0m0-8h0m0-6h0m1 20h0m0-2h0m1-14h0m1 10h0m1 2h0m0-2h0m0-9h0m1 9h0m1-14h0m0 21h0m1-7h0m0 2h0m0 7h0m1-9h0m2 9h0m1-23h0m0 11h0m0 3h0m1 8h0m0-12h0m1-3h0m0-1h0m0 0h0m0 13h0m1 1h0m2-11h0m0 0h0m0 7h0m0 4h0m1 2h0m0-17h0m1-1h0m0-3h0m1 5h0m0 13h0m1 5h0m1-13h0m0 10h0m0-1h0m1-1h0m0-5h0m1 7h0m0 1h0m1-12h0m0-10h0m1 17h0m0 3h0m0-10h0m1 1h0m0-8h0m0 8h0m0 10h0m0-12h0m1 9h0m0-9h0m0-5h0m1 4h0m0-6h0m1 16h0m0 3h0m0-17h0m0 14h0m1-18h0m0 2h0m0 15h0m1-2h0m0 9h0m1-7h0m1-3h0m1 8h0m0-10h0m0 10h0m0 0h0m0-21h0m0 4h0m0 3h0m0 16h0m1-6h0m1-13h0m0 6h0m2 7h0m2-9h0m1-6h0m0 16h0m1-13h0m1-6h0m2 23h0m0-12h0m4 6h0m0 0h0m0 5h0m2-22h0m0 9h0m0-4h0m0 15h0m0-15h0m1-5h0m0 0h0m0 17h0m0-3h0m1 2h0m0 4h0m0-19h0m1 11h0m0 9h0m0-4h0m1 1h0m0 1h0m0 3h0m1-8h0m1 4h0m0-17h0m0 6h0m1 1h0m0-7h0m2 4h0m0 15h0m1-8h0m0-8h0m0 0h0m0 4h0m1 12h0m0 4h0m0-4h0m0-19h0m1 8h0m0-1h0m1-3h0m0 8h0m0-12h0m1 0h0m1-1h0m0 8h0m0-3h0m0 2h0m0-3h0m1 20h0m0-1h0m0-7h0m0-8h0m0 0h0m1-3h0m0 7h0m0 2h0m1 3h0m0-7h0m1 7h0m0-13h0m0 0h0m0-1h0m0 13h0m0-16h0m1 10h0m0-2h0m1 1h0m0 7h0m1 7h0m0 1h0m1 0h0m0-16h0m0 12h0m1-9h0m2 1h0m1 5h0m0 7h0m1-5h0m0-1h0m1 5h0m0-18h0m1 17h0m0-7h0m1-9h0m0-3h0m1-2h0m0 11h0m0-11h0m1 15h0m0-13h0m1 10h0m1-13h0m1 22h0m2-11h0m0-7h0m1 1h0m0 18h0m1 0h0m0-7h0m1 7h0m0-17h0m0 13h0m1-19h0m0 15h0m0-9h0m0-3h0m1 8h0m0-3h0m1 13h0m0-11h0m0-6h0m2 13h0m1-10h0m2 12h0m1-19h0m0 22h0m0 2h0m1-7h0m0 6h0m0 0h0m0-19h0m1 1h0m0 17h0m0-17h0m0-1h0m1-4h0m1 3h0m0 14h0m0-4h0m0-2h0m1-5h0m1 9h0m1 2h0m0-14h0m2 14h0m0-17h0m1 21h0m0-18h0m0 9h0m1 1h0m1-8h0m1-2h0m0 1h0m0 11h0m0-11h0m1 17h0m1-12h0m0 1h0m3 3h0m0 6h0m1-6h0m0 2h0m0-10h0m1-1h0m0 5h0m0 12h0m0-11h0m1 12h0m0-18h0m1 1h0m1 14h0m1-14h0m0 16h0m1-16h0m0 0h0m0 1h0m1 14h0m0-5h0m0 0h0m1-5h0m1-8h0m1 4h0m1 7h0m0-5h0m1 15h0m1-22h0m0 12h0m0-10h0m0-3h0m1 4h0m0-1h0m1 10h0m1-6h0m1 14h0m1-9h0m0-4h0m1 5h0m0-6h0m1-6h0m1 1h0m2 10h0m0 1h0m1-2h0m0 11h0m2-5h0m0-1h0m0-6h0m0-8h0m1-2h0m0 5h0m0 15h0m1 1h0m0-4h0m1-12h0m0 0h0m1-5h0m0 21h0m0-13h0m1 7h0m0-13h0m0 16h0m0-7h0m1-4h0m0 0h0m1-6h0m0 2h0m0 21h0m2-23h0m0 2h0m1 4h0m1 4h0m0-9h0m0 9h0m0 2h0m0-8h0m1 7h0m1-9h0m0 4h0m2 11h0m0 1h0m1-16h0m0-2h0m0 5h0m0 11h0m1-14h0m0 6h0m0-5h0m1 0h0m0-3h0m0 15h0m2 8h0m1-8h0m0-13h0m2 21h0m0-7h0m0 1h0m0-1h0m1-3h0m0 5h0m0-7h0m0-11h0m1 3h0m0 19h0m1 1h0m0-12h0m1 9h0m0-18h0m0 3h0m1 6h0m0-1h0m0-8h0m0 13h0m1-11h0m0 2h0m0-2h0m0-1h0m0 4h0m0 15h0m1-11h0m0-4h0m0 12h0m1-20h0m0 16h0m0 7h0m1-23h0m1 15h0m0-11h0m1 7h0m0 6h0m0-15h0m1 15h0m1-6h0m1-10h0m0-1h0m0 2h0m1 0h0m0 3h0m1 13h0m0 2h0m0 1h0m1-18h0m0 7h0m0-7h0m0 10h0m1-11h0m1 21h0m1-19h0m0-2h0m0-1h0m1 6h0m0-1h0m0 1h0m1 0h0m0 8h0m1-1h0m0 1h0m0 9h0m0-19h0m1 10h0m0-11h0m1 9h0m1 1h0m1 6h0m0 3h0m0 1h0m1-14h0m0 4h0m1 0h0m0-1h0m1-12h0m0 4h0m1 6h0m2 7h0m1-17h0m0 21h0m0-9h0m1-9h0m3 4h0m1 16h0m1-1h0m0-17h0m2 4h0m0 12h0m5-6h0m0-8h0m2 14h0m0-19h0m2 14h0m1 6h0m2-6h0m3 0h0m0 2h0m1-10h0m0-9h0m0 7h0m2 5h0m3 8h0m2-20h0m1 18h0m2 5h0m1-12h0m1 2h0m1-11h0m1 16h0m1-6h0m7 10h0m1-22h0m3 14h0m2 5h0m0-10h0m1 7h0m1-10h0m1-3h0m3 6h0m2 10h0m1-13h0m14 7h0m0-8h0m0 12h0m2-17h0m2 0h0m7 2h0m2 5h0m6 15h0m3-2h0m7 4h0m4-3h0m2-2h0m3 5h0m2-20h0m7 6h0m0 11h0m1-19h0m1 13h0m6-9h0m1 1h0m7-3h0m0-4h0m0 1h0m13 4h0m0 4h0m3 2h0m5 10h0m1-8h0m2-5h0m1 9h0m12-1h0m1-15h0m2 17h0m1-13h0m1 7h0m2-7h0m1 6h0m2-6h0m7 4h0m3 13h0m4 1h0m0-7h0m0 6h0m1 0h0m3-22h0m3 7h0m8 9h0m3-8h0m1 1h0m13 15h0m8 0h0m9-22h0m28 15h0m10-17h0m1 21h0m-9 9h0m-8-4h0m-4 18h0m-38-16h0m-29 16h0m-3-8h0m-1-2h0m-17-2h0m-2 16h0m-11-10h0m-2-9h0m-3 17h0m-2-20h0m-1-1h0m-2 10h0m-3-5h0m-2 16h0m-10-14h0m-1 6h0m-12 3h0m-2-7h0m-3 0h0m0 12h0m-2-17h0m-1 4h0m-2 9h0m-2-10h0m-18 0h0m-2 4h0m0-3h0m0-5h0m-13 11h0m-2-9h0m-1-2h0m-3 4h0m-3-7h0m0 10h0m-4-7h0m0 4h0m-2-1h0m0-6h0m-5 13h0m-5-5h0m-2 8h0m-1-14h0m-4 6h0m-8 8h0m-3-15h0m-1 6h0m-1 2h0m-4-8h0m-2 15h0m-12 0h0m-4 0h0m-2-9h0m-2 2h0m0 0h0m-1 6h0m-1-4h0m-4-1h0m-3-7h0m0 0h0m-2 6h0m-5-5h0m0 1h0m0 18h0m-2-17h0m-1 18h0m-2-18h0m-2 2h0m-1 3h0m-1 1h0m-1-12h0m0 1h0m-1 10h0m0-4h0m0 9h0m0-15h0m-2 16h0m0 3h0m-1-19h0m0 9h0m0-3h0m-1 8h0m-1-11h0m0 6h0m-1 2h0m0-12h0m0 3h0m-3 0h0m-1-2h0m0 5h0m-3 16h0m0-14h0m-1 8h0m-1-11h0m-1 6h0m-1-2h0m-1 2h0m0 0h0m-1 10h0m-2-2h0m-1-11h0m0-7h0m-3 14h0m-1 0h0m-2-13h0m0 9h0m-3-6h0m-2-4h0m-1 11h0m-1-3h0m-2-6h0m-1-1h0m0 7h0m-1-6h0m-4 9h0m-2 9h0m-3-18h0m-1 16h0m-1-7h0m-1-9h0m-1 0h0m-2 3h0m-2-4h0m-2 8h0m0-8h0m0 6h0m-1-1h0m0 0h0m-4 1h0m0 5h0m-1-6h0m0 4h0m0 3h0m0-8h0m-1 12h0m-1 2h0m-3-2h0m-1-13h0m0 2h0m-1 11h0m0 2h0m0-15h0m-3 18h0m0-2h0m-1-14h0m-1-2h0m-1 16h0m0-16h0m-1 2h0m0-6h0m-1 21h0m-2-14h0m0 11h0m-2 2h0m-1-12h0m-1 8h0m0-16h0m-1-1h0m0 21h0m-1-18h0m-3 5h0m-1-6h0m0 17h0m0-17h0m-2 5h0m0 8h0m-1-13h0m-2 2h0m-1 4h0m0 4h0m-1 12h0m-2-16h0m0 11h0m-1-3h0m0-5h0m-1-6h0m0 5h0m-1 12h0m-1-4h0m-2 3h0m0-3h0m-2-16h0m-1 5h0m0 14h0m0-17h0m-2 15h0m-1-7h0m0-5h0m-2-5h0m0-2h0m0 2h0m-2 6h0m-2 8h0m-1 2h0m-2-14h0m-2 17h0m-1-1h0m0-3h0m-1-11h0m-1-5h0m0 7h0m-1 12h0m-1-7h0m0-3h0m0-6h0m-1 3h0m0 0h0m0 5h0m-1-1h0m-2-7h0m-1 11h0m0 3h0m-1-16h0m0 2h0m-1-3h0m-1 5h0m0 8h0m-1 7h0m-2-3h0m-1-13h0m-1-1h0m-1 13h0m-1-16h0m-1 11h0m0 0h0m-1-6h0m0-4h0m-1 5h0m-2-7h0m0 22h0m-1-4h0m-1 4h0m-2-8h0m0-12h0m-1 3h0m0 7h0m-1 4h0m-1-8h0m-1-2h0m-1 7h0m-1-8h0m-2 6h0m0 1h0m-1-12h0m0 19h0m-1-12h0m-2-4h0m-1 14h0m0-13h0m-2 16h0m0-13h0m0-6h0m-2 15h0m0-7h0m-1-4h0m0 5h0m-1 3h0m0-13h0m-1 6h0m-1 3h0m-3 14h0m-1-19h0m-1 20h0m0-22h0m0-2h0m-1 7h0m0 5h0m-1-7h0m-1 15h0m0-18h0m-1 11h0m-2-11h0m0 17h0m0-7h0m-1 6h0m0-3h0m0-3h0m0 4h0m-1 7h0m0-11h0m-1 1h0m0-11h0m0 6h0m-1 11h0m0-9h0m0 12h0m-1-18h0m-1 4h0m-1 1h0m-1-1h0m-2 2h0m-1 2h0m0-11h0m-1 17h0m0-3h0m0-8h0m-1 3h0m0 4h0m0-9h0m0-4h0m-1 7h0m-1 16h0m-1-13h0m-1 2h0m-1-8h0m-1 13h0m0 3h0m0-2h0m-1-10h0m0-8h0m-2 14h0m0 6h0m-1-9h0m0-1h0m-1-3h0m0 11h0m0-17h0m0 20h0m-1-15h0m-1-5h0m0 7h0m0 9h0m0-5h0m-1-12h0m0 0h0m-1 2h0m-2 2h0m0 5h0m-3 8h0m9 12h0m7-4h0m9 3h0m7-1h0m43-1h0m11 1h0m24 0h0m11-3h0m16 1h0m3 1h0m14 1h0m12 21h0m5-24h0m4 4h0m28-2h0m-47 33h0m-54 5h0m82 25h0m30 34h0m-155-19h0m-23 27h0m117 5h0m3 8h0m31-20h0m-13 29h0m-48-2h0m-112 147h0m25-9h0m37 17h0m-60 18h0m48 0h0" fill="none" stroke="#0000ff" stroke-width="7.8" stroke-linecap="round"/>
<circle cx="310.40" cy="481.40" r="2.3" fill="#990000" stroke="none" stroke-width="0"/>
<circle cx="281.40" cy="513.80" r="2.3" fill="#990000" stroke="none" stroke-width="0"/>
<circle cx="311.90" cy="515.60" r="2.3" fill="#990000" stroke="none" stroke-width="0"/>
<circle cx="317.90" cy="526.00" r="2.3" fill="#990000" stroke="none" stroke-width="0"/>
<circle cx="310.00" cy="527.20" r="2.3" fill="#990000" stroke="none" stroke-width="0"/>
<circle cx="293.30" cy="531.60" r="2.3" fill="#990000" stroke="none" stroke-width="0"/>
<circle cx="334.60" cy="536.50" r="2.3" fill="#990000" stroke="none" stroke-width="0"/>
<circle cx="336.10" cy="541.70" r="2.3" fill="#990000" stroke="none" stroke-width="0"/>
<circle cx="306.70" cy="544.70" r="2.3" fill="#990000" stroke="none" stroke-width="0"/>
<circle cx="301.90" cy="551.00" r="2.3" fill="#990000" stroke="none" stroke-width="0"/>
<circle cx="389.30" cy="548.40" r="2.3" fill="#990000" stroke="none" stroke-width="0"/>
<circle cx="411.60" cy="543.50" r="2.3" fill="#990000" stroke="none" stroke-width="0"/>
<circle cx="428.40" cy="546.50" r="2.3" fill="#990000" stroke="none" stroke-width="0"/>
<circle cx="435.10" cy="550.20" r="2.3" fill="#990000" stroke="none" stroke-width="0"/>
<circle cx="407.90" cy="554.70" r="2.3" fill="#990000" stroke="none" stroke-width="0"/>
<circle cx="378.90" cy="560.70" r="2.3" fill="#990000" stroke="none" stroke-width="0"/>
<circle cx="287.70" cy="558.50" r="2.3" fill="#990000" stroke="none" stroke-width="0"/>
<circle cx="328.70" cy="556.00" r="2.3" fill="#990000" stroke="none" stroke-width="0"/>
<circle cx="338.30" cy="558.00" r="2.3" fill="#990000" stroke="none" stroke-width="0"/>
<circle cx="335.00" cy="561.00" r="2.3" fill="#990000" stroke="none" stroke-width="0"/>
<circle cx="296.30" cy="591.90" r="2.3" fill="#2dd4dc" stroke="none" stroke-width="0"/>
<circle cx="303.70" cy="591.50" r="2.3" fill="#2dd4dc" stroke="none" stroke-width="0"/>
<circle cx="306.30" cy="590.50" r="2.3" fill="#2dd4dc" stroke="none" stroke-width="0"/>
<circle cx="301.00" cy="593.00" r="2.3" fill="#2dd4dc" stroke="none" stroke-width="0"/>
<circle cx="329.80" cy="591.90" r="2.3" fill="#2dd4dc" stroke="none" stroke-width="0"/>
<circle cx="352.10" cy="586.70" r="2.3" fill="#2dd4dc" stroke="none" stroke-width="0"/>
<circle cx="355.80" cy="590.00" r="2.3" fill="#2dd4dc" stroke="none" stroke-width="0"/>
<circle cx="360.70" cy="588.00" r="2.3" fill="#2dd4dc" stroke="none" stroke-width="0"/>
<circle cx="364.40" cy="587.00" r="2.3" fill="#2dd4dc" stroke="none" stroke-width="0"/>
<circle cx="360.00" cy="591.00" r="2.3" fill="#2dd4dc" stroke="none" stroke-width="0"/>
<circle cx="372.60" cy="591.90" r="2.3" fill="#2dd4dc" stroke="none" stroke-width="0"/>
<circle cx="399.70" cy="587.40" r="2.3" fill="#2dd4dc" stroke="none" stroke-width="0"/>
<circle cx="409.80" cy="589.30" r="2.3" fill="#2dd4dc" stroke="none" stroke-width="0"/>
<circle cx="425.80" cy="586.70" r="2.3" fill="#2dd4dc" stroke="none" stroke-width="0"/>
<circle cx="281.40" cy="614.60" r="2.3" fill="#2dd4dc" stroke="none" stroke-width="0"/>
<circle cx="288.10" cy="645.90" r="2.3" fill="#2dd4dc" stroke="none" stroke-width="0"/>
<circle cx="297.00" cy="651.40" r="2.3" fill="#2dd4dc" stroke="none" stroke-width="0"/>
<text x="313.80" y="483.00" font-size="4.6" text-anchor="start" fill="#383838">Saa4</text>
<text x="284.80" y="515.40" font-size="4.6" text-anchor="start" fill="#383838">Fam107a</text>
<text x="315.30" y="517.20" font-size="4.6" text-anchor="start" fill="#383838">Saa3</text>
<text x="321.30" y="527.60" font-size="4.6" text-anchor="start" fill="#383838">Saa2</text>
<text x="311.00" y="533.60" font-size="4.6" text-anchor="start" fill="#383838">Clec4d</text>
<text x="289.30" y="527.00" font-size="4.6" text-anchor="start" fill="#383838">Saa1</text>
<text x="338.00" y="538.10" font-size="4.6" text-anchor="start" fill="#383838">Gpnmb</text>
<text x="339.50" y="543.30" font-size="4.6" text-anchor="start" fill="#383838">Lcn2</text>
<text x="310.10" y="546.30" font-size="4.6" text-anchor="start" fill="#383838">Lyz2</text>
<text x="293.90" y="547.60" font-size="4.6" text-anchor="start" fill="#383838">Snai2</text>
<text x="383.70" y="544.00" font-size="4.6" text-anchor="start" fill="#383838">Steap4</text>
<text x="407.20" y="538.90" font-size="4.6" text-anchor="start" fill="#383838">Lilrb4</text>
<text x="428.40" y="541.70" font-size="4.6" text-anchor="start" fill="#383838">Tnfaip2</text>
<text x="434.70" y="556.40" font-size="4.6" text-anchor="start" fill="#383838">Fll1</text>
<text x="410.90" y="560.30" font-size="4.6" text-anchor="start" fill="#383838">Runx1</text>
<text x="382.30" y="562.30" font-size="4.6" text-anchor="start" fill="#383838">Id3</text>
<text x="285.70" y="564.50" font-size="4.6" text-anchor="start" fill="#383838">Ppt</text>
<text x="322.70" y="552.40" font-size="4.6" text-anchor="start" fill="#383838">Tgfb1</text>
<text x="336.30" y="552.60" font-size="4.6" text-anchor="start" fill="#383838">Timp1</text>
<text x="334.00" y="567.20" font-size="4.6" text-anchor="start" fill="#383838">Ptgds</text>
<text x="295.30" y="597.30" font-size="4.6" text-anchor="start" fill="#383838">Snap25</text>
<text x="296.30" y="599.50" font-size="4.6" text-anchor="start" fill="#383838">Ncs4</text>
<text x="297.00" y="605.40" font-size="4.6" text-anchor="start" fill="#383838">Gpr17</text>
<text x="333.20" y="595.10" font-size="4.6" text-anchor="start" fill="#383838">Sabab2</text>
<text x="349.10" y="583.30" font-size="4.6" text-anchor="start" fill="#383838">Cnp</text>
<text x="349.80" y="596.40" font-size="4.6" text-anchor="start" fill="#383838">Olig1</text>
<text x="361.40" y="583.00" font-size="4.6" text-anchor="start" fill="#383838">Olig2</text>
<text x="363.00" y="599.00" font-size="4.6" text-anchor="start" fill="#383838">Sox8</text>
<text x="376.00" y="593.50" font-size="4.6" text-anchor="start" fill="#383838">Slc1a1</text>
<text x="397.70" y="583.00" font-size="4.6" text-anchor="start" fill="#383838">Hmgcs1</text>
<text x="413.20" y="590.90" font-size="4.6" text-anchor="start" fill="#383838">Asic1</text>
<text x="429.20" y="588.30" font-size="4.6" text-anchor="start" fill="#383838">Insig1</text>
<text x="284.80" y="616.20" font-size="4.6" text-anchor="start" fill="#383838">Lfi</text>
<text x="291.10" y="643.30" font-size="4.6" text-anchor="start" fill="#383838">Adamts19</text>
<text x="300.40" y="653.00" font-size="4.6" text-anchor="start" fill="#383838">Gpr12</text>
<line x1="257.40" y1="481.00" x2="257.40" y2="669.00" stroke="#222" stroke-width="1.6"/>
<line x1="255.60" y1="482.86" x2="257.40" y2="482.86" stroke="#222" stroke-width="1.2"/>
<text x="255.40" y="485.56" font-size="7.4" font-weight="bold" text-anchor="end" fill="#111">12</text>
<line x1="255.60" y1="498.10" x2="257.40" y2="498.10" stroke="#222" stroke-width="1.2"/>
<text x="255.40" y="500.80" font-size="7.4" font-weight="bold" text-anchor="end" fill="#111">10</text>
<line x1="255.60" y1="513.34" x2="257.40" y2="513.34" stroke="#222" stroke-width="1.2"/>
<text x="255.40" y="516.04" font-size="7.4" font-weight="bold" text-anchor="end" fill="#111">8</text>
<line x1="255.60" y1="528.58" x2="257.40" y2="528.58" stroke="#222" stroke-width="1.2"/>
<text x="255.40" y="531.28" font-size="7.4" font-weight="bold" text-anchor="end" fill="#111">6</text>
<line x1="255.60" y1="543.82" x2="257.40" y2="543.82" stroke="#222" stroke-width="1.2"/>
<text x="255.40" y="546.52" font-size="7.4" font-weight="bold" text-anchor="end" fill="#111">4</text>
<line x1="255.60" y1="559.06" x2="257.40" y2="559.06" stroke="#222" stroke-width="1.2"/>
<text x="255.40" y="561.76" font-size="7.4" font-weight="bold" text-anchor="end" fill="#111">2</text>
<line x1="255.60" y1="574.30" x2="257.40" y2="574.30" stroke="#222" stroke-width="1.2"/>
<text x="255.40" y="577.00" font-size="7.4" font-weight="bold" text-anchor="end" fill="#111">0</text>
<line x1="255.60" y1="589.54" x2="257.40" y2="589.54" stroke="#222" stroke-width="1.2"/>
<text x="255.40" y="592.24" font-size="7.4" font-weight="bold" text-anchor="end" fill="#111">-2</text>
<line x1="255.60" y1="604.78" x2="257.40" y2="604.78" stroke="#222" stroke-width="1.2"/>
<text x="255.40" y="607.48" font-size="7.4" font-weight="bold" text-anchor="end" fill="#111">-4</text>
<line x1="255.60" y1="620.02" x2="257.40" y2="620.02" stroke="#222" stroke-width="1.2"/>
<text x="255.40" y="622.72" font-size="7.4" font-weight="bold" text-anchor="end" fill="#111">-6</text>
<line x1="255.60" y1="635.26" x2="257.40" y2="635.26" stroke="#222" stroke-width="1.2"/>
<text x="255.40" y="637.96" font-size="7.4" font-weight="bold" text-anchor="end" fill="#111">-8</text>
<line x1="255.60" y1="650.50" x2="257.40" y2="650.50" stroke="#222" stroke-width="1.2"/>
<text x="255.40" y="653.20" font-size="7.4" font-weight="bold" text-anchor="end" fill="#111">-10</text>
<line x1="255.60" y1="665.74" x2="257.40" y2="665.74" stroke="#222" stroke-width="1.2"/>
<text x="255.40" y="668.44" font-size="7.4" font-weight="bold" text-anchor="end" fill="#111">-12</text>
<line x1="257.40" y1="574.30" x2="443.90" y2="574.30" stroke="#111" stroke-width="1.5"/>
<line x1="282.60" y1="574.30" x2="282.60" y2="577.30" stroke="#111" stroke-width="1.3"/>
<line x1="328.30" y1="574.30" x2="328.30" y2="577.30" stroke="#111" stroke-width="1.3"/>
<line x1="374.00" y1="574.30" x2="374.00" y2="577.30" stroke="#111" stroke-width="1.3"/>
<line x1="419.70" y1="574.30" x2="419.70" y2="577.30" stroke="#111" stroke-width="1.3"/>
<text x="442.20" y="604.3" font-size="9.0" font-weight="bold" text-anchor="end" fill="#111">-log<tspan font-size="6.2" dy="2.2">10</tspan><tspan dy="-2.2">(FDR)</tspan></text>
<text transform="translate(240.50 572.2) rotate(-90)" font-size="8.8" font-weight="bold" text-anchor="middle" fill="#111">DEG (Log<tspan font-size="6" dy="2.0">2</tspan><tspan dy="-2.0">FC)</tspan></text>
<text x="578.80" y="476.70" font-size="11.05" font-weight="bold" text-anchor="middle" fill="#111">dSCI relative to SCI</text>
<text x="562.70" y="585.90" font-size="9.6" font-weight="bold" text-anchor="middle" fill="#111">3</text>
<text x="601.80" y="585.90" font-size="9.6" font-weight="bold" text-anchor="middle" fill="#111">4</text>
<text x="640.90" y="585.90" font-size="9.6" font-weight="bold" text-anchor="middle" fill="#111">5</text>
<path transform="scale(0.2)" d="M2586 2471h0m23 17h0m-1-2h0m-1 13h0m-1-7h0m-4-4h0m-9 7h0m0 2h0m-1-3h0m-2-2h0m-7 3h0m-12-11h0m-7 8h0m-3 2h0m-18-2h0m-34 5h0m-39 2h0m-19 22h0m19-3h0m12-1h0m4-3h0m4-1h0m3 5h0m3-8h0m10 8h0m15 2h0m3 3h0m16-5h0m4 5h0m0 0h0m5-9h0m3-6h0m1 12h0m0-2h0m1-6h0m2 11h0m4-21h0m4-2h0m0 3h0m1 0h0m4 12h0m0 2h0m1-13h0m14 0h0m0 17h0m2-4h0m5-6h0m4 6h0m2-7h0m0 7h0m4-14h0m2 5h0m7 5h0m4-6h0m-13 32h0m-6-5h0m-17 9h0m-11 3h0m-2-11h0m-2 11h0m-1-4h0m-3 7h0m-2-4h0m-7-10h0m-2-9h0m0 16h0m-7-8h0m-6 2h0m0 12h0m-1-15h0m-4 8h0m-1-13h0m-1 19h0m-6-1h0m-1-12h0m-2 13h0m-1-18h0m-3-1h0m-1 19h0m0-2h0m-2-17h0m-6 3h0m-4 16h0m0-1h0m-2-6h0m-1-7h0m-2 9h0m0-2h0m-2 8h0m-1-5h0m-5-11h0m-3 2h0m0 11h0m-2 2h0m-4-11h0m-1 11h0m-2-12h0m-2 2h0m-1 6h0m0 2h0m-2-14h0m0 7h0m-1-4h0m-1 15h0m-2-1h0m-2-15h0m-1-4h0m-9-2h0m-1 16h0m-2 3h0m-6-14h0m-12-6h0m-3 13h0m-1-12h0m-1 22h0m0-4h0m0-19h0m0 44h0m0-2h0m0 6h0m0-22h0m3 7h0m2-1h0m1 12h0m4-19h0m2 12h0m4 1h0m4-13h0m1 7h0m1 5h0m0 6h0m8-11h0m1 16h0m0-6h0m1-3h0m0 1h0m0-6h0m1 12h0m1-12h0m2-8h0m0 21h0m1-23h0m5 19h0m0 5h0m0-8h0m3-1h0m2-1h0m0-1h0m2-8h0m1 4h0m0 3h0m0-3h0m1-7h0m2 9h0m2 8h0m0 0h0m2-17h0m0 21h0m0-16h0m1 11h0m1 5h0m2-15h0m0 16h0m1 0h0m0-1h0m1-18h0m1 19h0m0-21h0m1 20h0m0-12h0m1 12h0m0-9h0m1-7h0m1-4h0m3 19h0m1-14h0m3-5h0m2 11h0m0 6h0m0-4h0m0-13h0m1 1h0m0-4h0m3 12h0m2 1h0m2-1h0m7-10h0m1 7h0m1-4h0m1 6h0m1 3h0m2-14h0m0 0h0m1 15h0m2-10h0m6 7h0m1-3h0m4 0h0m5 1h0m17 1h0m5 3h0m2-13h0m-26 48h0m-15-20h0m-2 13h0m-1-5h0m-4-4h0m0 10h0m-2-3h0m0-9h0m-1 15h0m0-7h0m-1-3h0m-4 2h0m-2 3h0m0-8h0m-1 13h0m-1-6h0m-1-2h0m0 0h0m0-8h0m-1 5h0m0-10h0m-1 7h0m-1 12h0m-3-13h0m-2-1h0m-3 11h0m-1-13h0m-1 15h0m-1-15h0m-2 0h0m-1 9h0m0 1h0m-3 8h0m-2-18h0m-1 11h0m-2-1h0m0 8h0m0-4h0m0 5h0m-2-18h0m0 4h0m-2-7h0m-2 19h0m-1-7h0m-1-6h0m0 8h0m0-4h0m-1-5h0m-1 18h0m-1-20h0m0 9h0m-1-9h0m0 16h0m-1-19h0m0 8h0m0 5h0m-1-4h0m0-4h0m0 0h0m0 0h0m0 5h0m-1-7h0m-2-4h0m-1 22h0m-1-10h0m0 2h0m-1-2h0m-1-8h0m-1 4h0m-1 11h0m-1-10h0m0 0h0m-4 12h0m0-14h0m0 0h0m-2-6h0m-2 15h0m-1-14h0m0 4h0m-2 10h0m-1 5h0m0-4h0m0-2h0m-1-14h0m0 2h0m0 11h0m0 3h0m-1-6h0m-1-7h0m-1 17h0m-1-12h0m-3 6h0m-5 6h0m-1-19h0m-2 2h0m-1 6h0m-1 7h0m-1-16h0m0 16h0m0-1h0m0 5h0m0-7h0m0 6h0m0 10h0m0 1h0m0 16h0m0-5h0m0-12h0m0 0h0m0 4h0m0-2h0m0 3h0m0-1h0m0 15h0m0-6h0m0-18h0m0 11h0m0 13h0m0-4h0m0-15h0m0 14h0m1-10h0m1-5h0m2 12h0m1 8h0m0-12h0m1 7h0m0-19h0m2 24h0m0-11h0m3 9h0m1-9h0m0 2h0m1-2h0m0 3h0m1-4h0m1-3h0m3 15h0m0-5h0m0 3h0m0-15h0m1-4h0m0 14h0m0-13h0m1 5h0m1 12h0m1-5h0m1-13h0m0 12h0m0-4h0m2 9h0m1-13h0m0 11h0m2-16h0m0 10h0m1 3h0m1 4h0m2-11h0m0 15h0m1-2h0m1-10h0m1-5h0m1-5h0m2 8h0m0 9h0m3-12h0m0-5h0m1-1h0m1 7h0m1 16h0m3-14h0m3-7h0m0 7h0m2 6h0m0-10h0m2 5h0m0-2h0m2-4h0m0 16h0m1 1h0m0 0h0m1-16h0m0-3h0m1 3h0m1 5h0m2 12h0m0-1h0m4-2h0m1 1h0m1-6h0m2-7h0m1 15h0m3 2h0m2-5h0m3-3h0m1-4h0m4-10h0m12 22h0m11-2h0m58 17h0m-80-14h0m-1 19h0m-3 2h0m-3-18h0m0 0h0m-2 0h0m-2 20h0m-4-10h0m-2-5h0m0 0h0m-5 2h0m-4 5h0m-1 3h0m-2 3h0m-2 3h0m0-12h0m0-3h0m-1 4h0m-1-7h0m-3-6h0m-1 22h0m0-5h0m0-8h0m-1 1h0m0-9h0m0 15h0m-1-16h0m0 1h0m-1 19h0m0 4h0m0-10h0m-2 7h0m0-17h0m-1 12h0m0-16h0m-1 10h0m-3 9h0m-1-3h0m-1 7h0m0-5h0m-1-14h0m-1 17h0m-1-15h0m-3 14h0m-1 2h0m-1-22h0m-1 16h0m0 2h0m-1-10h0m-1-5h0m-2 16h0m-1-15h0m0 19h0m0-18h0m-1 12h0m-2-12h0m-1 17h0m-2-19h0m0-3h0m-1 8h0m0-6h0m-1 22h0m-2-5h0m-1-9h0m0 9h0m-1 0h0m-6-3h0m0-15h0m-2 12h0m-1 10h0m-1-8h0m0-11h0m0 9h0m0 7h0m0 0h0m0-10h0m0 2h0m0-2h0m0-5h0m0-3h0m0 10h0m0 3h0m0-5h0m0 2h0m0-3h0m0-2h0m0 15h0m0 15h0m0-11h0m0 20h0m0-10h0m0 8h0m0-14h0m0 16h0m0-8h0m0-3h0m0 10h0m0-15h0m0-2h0m0 13h0m0 5h0m0-10h0m1-11h0m4 15h0m0-3h0m3 2h0m1-6h0m0-5h0m0 6h0m2 12h0m0-21h0m3 2h0m2 3h0m4-1h0m1 19h0m2-22h0m2 7h0m2 12h0m2 1h0m1 0h0m0-11h0m3 10h0m1-12h0m3 0h0m0-6h0m12 4h0m2 8h0m17 9h0m5-3h0m27-9h0m23-9h0m11 0h0m5 17h0m0-8h0m27 7h0m2 6h0m0-13h0m4 6h0m5-1h0m8 30h0m0-12h0m-2 15h0m-5-8h0m-1-15h0m0 18h0m0 5h0m-8-10h0m-7-1h0m-1-1h0m-3-6h0m-2 3h0m-4 8h0m-2 1h0m0-8h0m-1 12h0m-1 2h0m-4-24h0m-13 23h0m-6-17h0m-11 7h0m-1-4h0m-3 9h0m-1-7h0m-1-10h0m-2 21h0m-1-16h0m-5 15h0m-12-18h0m-1 7h0m-7 2h0m-1 12h0m0-17h0m-2 2h0m0 13h0m0-19h0m-1 15h0m-2-17h0m0 3h0m0-3h0m-4 16h0m-1 0h0m-2-12h0m-4 5h0m-12-7h0m-5 13h0m-5-9h0m-4 3h0m-7 6h0m-6 5h0m0-17h0m-3 0h0m0 6h0m-2 9h0m0 0h0m-7-2h0m-1 2h0m-3-9h0m0 5h0m-7-15h0m-1 0h0m0 9h0m0 1h0m0 5h0m5 23h0m2-11h0m5 17h0m6-13h0m2-5h0m11 22h0m16-1h0m3-15h0m3-2h0m2 13h0m0-10h0m4-7h0m1 3h0m2 13h0m9-12h0m3 0h0m4 7h0m5 8h0m5-13h0m10 11h0m1-3h0m3 9h0m0-8h0m0-2h0m6-12h0m1 16h0m3-10h0m2-8h0m0 6h0m3 10h0m14 0h0m4-8h0m11 6h0m2 8h0m12-11h0m11 11h0m9-17h0m2 8h0m1-12h0m1 15h0m-1 31h0m-6-19h0m-5-3h0m-6 17h0m0 4h0m-1-18h0m0 12h0m-10-10h0m-1 18h0m-1 0h0m0-3h0m-6-11h0m-3 5h0m-9-12h0m0 19h0m0-18h0m-8-2h0m-5 7h0m-8-6h0m-3 9h0m-1-7h0m-4 3h0m-1 16h0m-8-7h0m-9-14h0m-1 17h0m-10-4h0m-4 3h0m-6 0h0m-1-6h0m-4 1h0m-1 9h0m0 0h0m-2-18h0m0-2h0m-5 0h0m-1 9h0m-7 6h0m-2-14h0m0 7h0m-1-2h0m-1 8h0m-1 8h0m-3-18h0m0 15h0m-8-2h0m-3-5h0m-1-9h0m-9 1h0m-5 12h0m-5 10h0m6 9h0m6-11h0m0 4h0m3 11h0m3-14h0m6 2h0m1 10h0m0-2h0m1-7h0m4 15h0m1-11h0m1 2h0m6-1h0m2 10h0m4-2h0m0-14h0m1-3h0m1 15h0m2 0h0m2 8h0m1-17h0m2 13h0m1-6h0m2 1h0m0-1h0m5-8h0m1 1h0m9 11h0m10-2h0m0-7h0m2-2h0m2 11h0m4-14h0m1 3h0m1 12h0m4-19h0m0 1h0m1-1h0m5 19h0m2-13h0m1-2h0m0 4h0m5 13h0m1-10h0m5 1h0m2-12h0m5 2h0m1 15h0m2-2h0m6 0h0m11-7h0m0 15h0m6-9h0m1 1h0m3-13h0m1-1h0m1 2h0m2 8h0m3 10h0m1-4h0m3-7h0m1 4h0m2 7h0m0-1h0m2-14h0m5-5h0m1 19h0m4-1h0m-3 18h0m0 3h0m-1 9h0m-1-13h0m-2 0h0m-1-9h0m-4 9h0m-5 7h0m-1-17h0m-2 19h0m-2 4h0m0-18h0m-1 16h0m0 2h0m-1-2h0m-1-7h0m0-9h0m-4-6h0m0 0h0m-2 11h0m-2-7h0m0 16h0m-9-5h0m-1-3h0m-1 9h0m-1-6h0m0-11h0m-1 15h0m-1-5h0m-3 10h0m-3-18h0m-1 18h0m0-21h0m-2 6h0m0 7h0m-1 1h0m0-6h0m-3 3h0m-6 8h0m-3-15h0m-3 3h0m-2-3h0m-1 17h0m0-17h0m-1 15h0m-1-4h0m-2-10h0m-3 1h0m0 3h0m-1 3h0m-5-9h0m-3 6h0m-2 6h0m0-16h0m-1 10h0m-5 5h0m-1-8h0m-3 14h0m-1-11h0m0-10h0m-9 2h0m-2 0h0m-4 19h0m-2-3h0m-1-5h0m-3-11h0m-2 15h0m-7 4h0m-1-5h0m-1-18h0m-1 20h0m0-11h0m-1 10h0m-2-17h0m0 19h0m-1-7h0m-3 3h0m-4-11h0m0 1h0m-1 7h0m-3-8h0m0-3h0m-3 15h0m-1-9h0m-2 8h0m-5-15h0m-1 20h0m-4-4h0m0-11h0m-1 3h0m0 8h0m0-6h0m-2 4h0m-5-1h0m-1-2h0m0 4h0m-5 31h0m1-10h0m0-13h0m0 11h0m2 11h0m1-8h0m2 0h0m1 6h0m1-1h0m0-10h0m1 15h0m2-20h0m1 10h0m0 5h0m0-17h0m1 17h0m1 5h0m0-8h0m1 1h0m0-14h0m1 15h0m1-2h0m0-6h0m1 12h0m0-1h0m1-13h0m2 14h0m0-1h0m0-6h0m0 3h0m0-16h0m0 4h0m1 13h0m0-18h0m1 21h0m1-13h0m1 9h0m1-4h0m1 2h0m0-16h0m1 23h0m1-13h0m0 0h0m1 6h0m1-2h0m0 10h0m0-15h0m0 1h0m1-2h0m2 7h0m0 8h0m1-1h0m2-4h0m0-1h0m1-2h0m0 4h0m0-2h0m1 7h0m2 0h0m2-9h0m1 8h0m1-14h0m1 11h0m0-3h0m0-14h0m0 7h0m2 0h0m0 14h0m1-4h0m1-6h0m1 8h0m0 1h0m0-10h0m1 6h0m0-1h0m0-16h0m1 14h0m0-2h0m1-12h0m2 22h0m1 0h0m0-13h0m1 13h0m0-6h0m0-1h0m0 7h0m0-13h0m1 13h0m0-1h0m1 1h0m2-10h0m1-2h0m1 3h0m0 1h0m1-6h0m1 1h0m0-3h0m0 1h0m2 8h0m0 1h0m1-3h0m0-6h0m1 10h0m0 0h0m1-5h0m0-14h0m1 14h0m0-7h0m0 2h0m2 11h0m0-12h0m3 12h0m0 2h0m1-3h0m0-8h0m0 13h0m1-4h0m0 3h0m0-13h0m0-8h0m1-2h0m2 9h0m1 8h0m0 5h0m2-1h0m1 1h0m0 1h0m2-1h0m1 2h0m0-22h0m1 20h0m0-15h0m1 11h0m1-2h0m0-4h0m1 7h0m0 2h0m0-11h0m1-6h0m0 3h0m1 12h0m0-19h0m2 9h0m2 12h0m0-7h0m0 5h0m1-9h0m1-7h0m2 7h0m1 12h0m0-18h0m0-3h0m0 4h0m0 5h0m0-5h0m0 5h0m1 13h0m0-16h0m1 3h0m0 13h0m2-13h0m0 9h0m0 1h0m1-7h0m0 9h0m1-2h0m0 4h0m1-7h0m1 6h0m0-6h0m0-5h0m1-9h0m1 14h0m0 4h0m0 2h0m1-5h0m0-12h0m2-1h0m0 4h0m1 4h0m1 6h0m0 0h0m1-14h0m1 9h0m0-9h0m2 19h0m0-15h0m0 9h0m0 0h0m1 2h0m1-11h0m0 0h0m1-4h0m1 14h0m0-1h0m0 2h0m1-20h0m0 9h0m1 13h0m0-3h0m0-11h0m2 12h0m0-15h0m1 15h0m0 0h0m2 4h0m1-9h0m0-5h0m1 0h0m0 9h0m1-8h0m1 13h0m1-3h0m0-13h0m1 15h0m0-5h0m1 0h0m1-5h0m1 10h0m0-23h0m2 17h0m0-7h0m1 11h0m0-14h0m2 15h0m2-16h0m2-2h0m2 4h0m0 4h0m0-6h0m1 17h0m1-3h0m0 4h0m0-23h0m2 22h0m0-9h0m0 2h0m0 4h0m0-15h0m1 8h0m1 11h0m1-8h0m0-13h0m1 9h0m1 4h0m0-10h0m1 13h0m0 5h0m0-14h0m1 13h0m0-9h0m1 4h0m0-11h0m0 0h0m1 3h0m1-1h0m0-3h0m1 14h0m0-1h0m0-6h0m0-9h0m0 6h0m1-4h0m1 14h0m0 3h0m0 1h0m3-3h0m0 1h0m0-1h0m1-2h0m0-9h0m1-1h0m0 0h0m1 14h0m0-20h0m1 21h0m0 0h0m1-15h0m0-1h0m1 4h0m0-4h0m1 13h0m0-20h0m2 41h0m0-7h0m-1 5h0m0-11h0m0 5h0m-1-4h0m0 18h0m-1-5h0m0 0h0m-1-6h0m0 9h0m0-3h0m0-2h0m-1-13h0m-1 13h0m0 0h0m0 6h0m0-17h0m-1 7h0m0-5h0m0 0h0m0 10h0m0 4h0m-1 3h0m0-24h0m0 6h0m-1 15h0m0-7h0m0 3h0m-1-14h0m0-2h0m0 7h0m-1 0h0m0-1h0m0 7h0m0 10h0m-1-12h0m0-7h0m0 12h0m-2 7h0m0-6h0m0 1h0m-1-10h0m0 5h0m-1 1h0m0 7h0m0-19h0m-1 12h0m0-1h0m0 0h0m-1-14h0m0 19h0m-1-1h0m0 5h0m0-4h0m0-16h0m-1-2h0m0 21h0m0-1h0m0-14h0m0 9h0m0 5h0m0-21h0m-1 11h0m-1-10h0m0 11h0m0 11h0m-1-14h0m0-3h0m0 14h0m-1-2h0m0 0h0m0-16h0m-1 7h0m0-4h0m0 12h0m0 6h0m-1 1h0m0-17h0m0-3h0m-1 5h0m0 11h0m0-1h0m-1-13h0m0 0h0m0 5h0m0 13h0m-1-17h0m0 7h0m0-11h0m-1 11h0m0 5h0m0-16h0m0 7h0m-1 10h0m0 2h0m0-12h0m0 9h0m-1-14h0m0 11h0m-1-15h0m0 14h0m0-5h0m0 1h0m0 12h0m0-14h0m0 11h0m0-20h0m0 14h0m-1 2h0m0-3h0m0-6h0m0 10h0m0 3h0m-1-7h0m0-6h0m0 7h0m0 3h0m-1 2h0m-1-11h0m0-6h0m0 20h0m-1-7h0m0 6h0m-1-9h0m0-1h0m0-7h0m0 2h0m-1 15h0m0-18h0m-1 16h0m0 5h0m0-15h0m-1 9h0m-1-15h0m0 2h0m0 11h0m-1-12h0m0 15h0m-1-3h0m-1-6h0m0 6h0m0 6h0m0 2h0m-1-11h0m-1-8h0m-1-5h0m0 2h0m-1 8h0m0-10h0m0 5h0m0 11h0m-1-14h0m0 5h0m0-1h0m0 13h0m-1-9h0m-2 4h0m0-9h0m0 15h0m0-6h0m0-8h0m0 11h0m-1-17h0m0 3h0m0 4h0m0 14h0m-1-11h0m0 7h0m0-3h0m0 10h0m0-2h0m0-6h0m0-5h0m-2 4h0m0-7h0m0-2h0m0 11h0m-2 3h0m0-11h0m0-2h0m-1 5h0m0 5h0m0-5h0m-1 4h0m0-16h0m-1 8h0m0 12h0m0 4h0m0-13h0m0-8h0m-1 8h0m0-6h0m0 17h0m0 2h0m0-5h0m0-5h0m-2-7h0m0-1h0m0-5h0m-1 12h0m0 2h0m0-13h0m0-2h0m0 0h0m0 3h0m0 17h0m-1 3h0m0-17h0m0-3h0m-1 2h0m0 17h0m-1-9h0m0 7h0m-1-12h0m0 1h0m0-5h0m-1 3h0m0 2h0m-1-7h0m0 5h0m-1 4h0m0-8h0m0 19h0m0-13h0m0 4h0m-1-1h0m0 6h0m-1-17h0m0 13h0m-1-14h0m0 7h0m0-7h0m0 15h0m0-6h0m-1 1h0m0-6h0m0 2h0m-1-1h0m0 19h0m0-14h0m0 6h0m-1-3h0m0 7h0m-1-6h0m-1-7h0m0-5h0m0 2h0m-1 7h0m0 1h0m-2 12h0m0-7h0m0-17h0m0 18h0m0-6h0m-1-4h0m0-7h0m-1 22h0m-1-4h0m0-5h0m0-5h0m0-3h0m-1 10h0m0 8h0m-1-16h0m-1-6h0m0 1h0m-1 12h0m0 5h0m0-3h0m-1 2h0m0-6h0m0 8h0m0-7h0m0-3h0m-1-8h0m0 21h0m0 0h0m-1-22h0m0 8h0m0-7h0m0 0h0m-2 4h0m0 8h0m0 5h0m-1-10h0m0 5h0m0 3h0m0-16h0m-1 2h0m0 1h0m-1 16h0m0-6h0m0-2h0m0 11h0m-1-3h0m0-20h0m0-1h0m-1 14h0m0 2h0m0 8h0m-1-12h0m0-10h0m0 13h0m0 2h0m0-9h0m-1 15h0m-1-19h0m0 5h0m0 7h0m-1-11h0m0 13h0m0-1h0m-1-3h0m0 8h0m0-19h0m-1 7h0m0 1h0m-1 0h0m0-10h0m0 7h0m-2-8h0m0 5h0m0 9h0m-1-8h0m0-5h0m0 16h0m-1 0h0m0-17h0m-2 9h0m0 1h0m0 2h0m0 5h0m0-4h0m0-10h0m-1 3h0m0-5h0m0 16h0m0-6h0m-1-9h0m0 2h0m-1 13h0m-1-8h0m0-2h0m0-1h0m0 11h0m-1-7h0m0-4h0m0 16h0m0-6h0m-1-7h0m-1-3h0m-1 10h0m0-6h0m0-1h0m-1 5h0m-1-9h0m0 10h0m0-4h0m0-7h0m-1 17h0m0-4h0m-1 0h0m0-14h0m0 1h0m-1 11h0m0 9h0m0-20h0m0 3h0m-1-2h0m0 6h0m0 10h0m-1-3h0m0-6h0m0 3h0m0-8h0m-1 15h0m0-5h0m-1-12h0m0 8h0m0-4h0m-1-1h0m0 2h0m0 9h0m-1-18h0m0 16h0m-1-14h0m0-1h0m0 19h0m-1-8h0m0-4h0m-1-3h0m0 1h0m-1 5h0m0 12h0m0-11h0m0-3h0m-1 0h0m0-2h0m0 7h0m-1 3h0m0-6h0m0 2h0m-1-10h0m0 6h0m0 11h0m-1-1h0m0 1h0m-1-2h0m0-6h0m-1-6h0m0 13h0m0-9h0m-1-1h0m0 11h0m0-2h0m-1-1h0m0 3h0m-1-8h0m0-13h0m0 19h0m0-6h0m-1 10h0m-1-9h0m0 6h0m0-12h0m0 16h0m0-8h0m0-2h0m-1 5h0m0 5h0m-1-7h0m-1-4h0m0-13h0m0 3h0m-1 15h0m0 0h0m-1-18h0m0 18h0m0-2h0m0-13h0m0 1h0m-1 19h0m0-14h0m0 8h0m0-13h0m-1 19h0m0-20h0m0 13h0m0 0h0m0-9h0m0-4h0m0-3h0m-1 18h0m0 0h0m-1-16h0m0 6h0m0 11h0m-1 0h0m0 2h0m0-9h0m-1-12h0m0 3h0m-1 10h0m-1-8h0m0 14h0m0-3h0m0 7h0m0-6h0m-1-5h0m0 9h0m0 2h0m0-17h0m-1 6h0m0-12h0m0 21h0m-1-16h0m0 18h0m0-4h0m-1 0h0m0-13h0m0-5h0m0 10h0m-2 12h0m0-1h0m-1-12h0m-1-10h0m0 1h0m0 22h0m0-13h0m-1-5h0m0 11h0m0-1h0m0 2h0m0-5h0m0 11h0m0-21h0m-1 8h0m0-3h0m-1 2h0m0-3h0m-1-1h0m0 12h0m0-10h0m0 9h0m-1-9h0m0 15h0m0-7h0m0-4h0m0 12h0m-1 1h0m0-19h0m0 0h0m-1-5h0m0 11h0m0-2h0m-1 2h0m0 0h0m0-10h0m0 4h0m-1 4h0m0 0h0m0-4h0m0 18h0m0 0h0m0-21h0m0 8h0m0 11h0m-1-9h0m0 4h0m0-2h0m0-11h0m-1 15h0m0 1h0m-1 0h0m0-15h0m0 16h0m0-1h0m-1 2h0m0-6h0m0-11h0m0-3h0m0 3h0m0 2h0m-1 19h0m2 9h0m5-7h0m1 3h0m0-2h0m0 1h0m0 1h0m0-3h0m1 2h0m2-2h0m1 6h0m0-7h0m0 2h0m0 5h0m2 0h0m2 1h0m1-2h0m1 1h0m2 1h0m0-6h0m1-3h0m1 4h0m0 1h0m2 0h0m0 1h0m1 3h0m1-8h0m0 0h0m1 3h0m1 0h0m1 1h0m0 0h0m2 1h0m1-2h0m1-3h0m1 2h0m0 7h0m2-7h0m1-1h0m0 2h0m0 6h0m2-5h0m1 0h0m0 4h0m3-8h0m1 9h0m0-5h0m3 2h0m1 1h0m0 2h0m0-6h0m1 2h0m1-6h0m2 2h0m1 2h0m1 1h0m1-5h0m0 0h0m0 0h0m1 6h0m0 1h0m0 2h0m0-6h0m0 5h0m1-8h0m0 7h0m1-5h0m0-2h0m1 4h0m0 3h0m0-4h0m3 3h0m0-2h0m0-4h0m1 3h0m1-3h0m1 10h0m0-4h0m0-2h0m1 3h0m0 0h0m0-2h0m0 3h0m1-8h0m2 0h0m1 5h0m0 0h0m1-5h0m0 7h0m1-7h0m2 3h0m1-3h0m0 5h0m1 3h0m0-6h0m0 2h0m1-1h0m0-1h0m1 5h0m1 2h0m1-3h0m0 4h0m1-3h0m1-2h0m0 1h0m0-5h0m0 1h0m0 5h0m1 1h0m1 2h0m0-10h0m1 2h0m1 7h0m0-9h0m1 3h0m2 5h0m0-7h0m1-1h0m2 7h0m0-1h0m0-4h0m1 1h0m0 0h0m2 4h0m0 2h0m0-3h0m1-2h0m0 1h0m0 2h0m1 1h0m0-6h0m0-1h0m0-1h0m1 1h0m0 0h0m1 1h0m1 0h0m0-1h0m1 7h0m1-6h0m0 4h0m0 2h0m1-6h0m0 3h0m1 3h0m0-7h0m1 1h0m0 8h0m1-10h0m0 1h0m3 4h0m0 5h0m0-2h0m2-3h0m1 5h0m2-6h0m0 0h0m0-1h0m0-3h0m1 5h0m0-5h0m1 4h0m0-3h0m2-1h0m0 9h0m0-8h0m0 6h0m1-5h0m0 3h0m0 2h0m0 3h0m3 0h0m1-10h0m0 3h0m1 1h0m0 2h0m0-5h0m1 7h0m1-1h0m0 0h0m0 3h0m2-6h0m0 5h0m0 1h0m2-9h0m0 3h0m1-1h0m1 1h0m1 4h0m0-8h0m2 4h0m0 0h0m0 4h0m0-5h0m0 6h0m2-2h0m2-1h0m0-2h0m0-1h0m0 3h0m1-5h0m0 0h0m1 1h0m1 7h0m1-5h0m0 1h0m0 1h0m1 4h0m0-6h0m1 6h0m0-4h0m2 2h0m0-2h0m0 3h0m1-3h0m1 1h0m0 1h0m0 0h0m1-5h0m2 1h0m1-4h0m1 6h0m0-4h0m2 8h0m1-9h0m0-1h0m0 7h0m3 2h0m0 1h0m0-6h0m1 6h0m0-9h0m1 1h0m0 3h0m0-2h0m1 2h0m1-1h0m3-3h0m1 5h0m0-1h0m0 2h0m1-4h0m0-1h0m1 6h0m0-4h0m1 5h0m1 0h0m1-9h0m0 1h0m2 1h0m0 8h0m1-4h0m1-4h0m0-2h0m1 5h0m1 4h0m0-2h0m0-7h0m1 0h0m1 4h0m2 6h0m0-1h0m1 1h0m0 36h0m-1-8h0m-1 9h0m0-7h0m0 1h0m-1-2h0m0-4h0m0 2h0m0 4h0m-1 2h0m0-1h0m0 1h0m0 0h0m-1-5h0m0 9h0m-1-1h0m0-7h0m0-6h0m-1 16h0m-1-15h0m0 1h0m0 0h0m-1 10h0m0-3h0m0-1h0m0 1h0m-1 4h0m0 2h0m0-12h0m0 13h0m0-2h0m-1-14h0m0 1h0m0 2h0m-1-2h0m0 8h0m0-5h0m0 4h0m-1 6h0m0 0h0m-2-14h0m0 0h0m-1 11h0m0-5h0m-1 3h0m0 6h0m0-14h0m0-1h0m-1 11h0m0-6h0m0 4h0m0 1h0m-1 2h0m0-4h0m-1 4h0m0-8h0m-1-4h0m0 12h0m0 0h0m0-12h0m-1 8h0m-1-8h0m0 11h0m0-5h0m0 7h0m0-2h0m-1-3h0m-1-3h0m0 9h0m-1-7h0m0-5h0m0-2h0m-1 15h0m0-12h0m0 4h0m0 1h0m0-7h0m0 9h0m-1-3h0m0-1h0m0 7h0m0-6h0m0 9h0m0-6h0m-1-3h0m0 9h0m-1-11h0m0-4h0m-1 1h0m0 6h0m0 6h0m-1-5h0m0 4h0m0 0h0m0 0h0m-1-6h0m0 9h0m0-3h0m0 3h0m0-4h0m0-1h0m-1-1h0m0 5h0m0-12h0m0-2h0m-1-1h0m0 10h0m0 1h0m-1-7h0m0 11h0m-1-15h0m0 0h0m0 16h0m-1-8h0m0-3h0m0-4h0m0 9h0m-1-7h0m-1 13h0m-1-9h0m-1 8h0m0-14h0m0 7h0m0 0h0m0-6h0m-2-1h0m0 8h0m0 4h0m0 1h0m-1-2h0m0 2h0m0-12h0m0 0h0m-1 4h0m0 4h0m0-7h0m-1-2h0m-1 8h0m0 0h0m0-4h0m0 1h0m-1-4h0m0 2h0m0 6h0m0 0h0m0-2h0m0-8h0m0 5h0m-1-2h0m0 4h0m0 7h0m-1-6h0m0 4h0m-1 4h0m0-11h0m0 0h0m-1 5h0m0 2h0m0-9h0m0 5h0m-1 6h0m0 1h0m-1-15h0m0 9h0m0 3h0m0-8h0m-1-2h0m0 9h0m0-6h0m-1 8h0m0-5h0m0 6h0m0 2h0m0-3h0m0-12h0m-1 8h0m0 0h0m0-1h0m0 3h0m-1-3h0m0 1h0m-1 2h0m0-1h0m0-3h0m0 8h0m0-10h0m0 1h0m0-4h0m0-2h0m-1 0h0m0 11h0m-1 5h0m-1-16h0m-1 1h0m0 4h0m0 10h0m-1 1h0m0-13h0m0-1h0m0 3h0m-1 0h0m-1-2h0m0 2h0m0 4h0m0-9h0m-1 6h0m0-6h0m-1 2h0m0 4h0m-1-3h0m0 0h0m0 4h0m-1 2h0m0-9h0m0 9h0m-1-5h0m0 6h0m0-10h0m-1 11h0m0-2h0m0-9h0m0 16h0m0-4h0m0-11h0m0 8h0m0-8h0m-1 6h0m0-6h0m0 2h0m0 11h0m0-12h0m0 2h0m-1 0h0m-1 12h0m0-1h0m0-3h0m0-3h0m-1-2h0m-1 5h0m0-11h0m-1 3h0m0-3h0m0 7h0m0-8h0m-1 4h0m-1 11h0m0-15h0m-2 1h0m0 8h0m0-7h0m0 11h0m0-10h0m0 13h0m-1-15h0m0 10h0m0-10h0m0 7h0m-1 4h0m0 1h0m-1 3h0m0-8h0m0 6h0m-1 1h0m-1 0h0m-1-7h0m0 4h0m-1-9h0m0-3h0m0 0h0m0 15h0m0-5h0m-1-10h0m0 7h0m0-7h0m-1 9h0m0-7h0m0 0h0m0 8h0m-1 1h0m-1-7h0m0 7h0m0-7h0m0 0h0m-1-1h0m0 4h0m0 4h0m-1-4h0m0 0h0m0 6h0m-1 2h0m0-5h0m0 6h0m0-1h0m0-12h0m-1 3h0m0 0h0m0 1h0m0 7h0m-1-7h0m0 9h0m0-14h0m0 7h0m0 3h0m-1-12h0m-1 1h0m0 13h0m0-6h0m-1-6h0m0 6h0m0 4h0m-1-9h0m0 9h0m0-11h0m0 4h0m-1 10h0m0-1h0m0-13h0m-1 15h0m0-5h0m0 3h0m-1-10h0m0 12h0m-1-14h0m0 10h0m-1-6h0m0 3h0m-1 7h0m0-13h0m0 10h0m-1-6h0m0-2h0m0-5h0m0 15h0m-1-13h0m0 8h0m0 6h0m-1-2h0m-1-14h0m0 2h0m0-2h0m0 0h0m-1 1h0m-1 9h0m0-3h0m0-4h0m-1 7h0m0-8h0m0 9h0m-2-5h0m0 3h0m-1 1h0m0-4h0m0-4h0m0 2h0m-1 0h0m0 8h0m-1-9h0m0 4h0m0 0h0m-1-2h0m0-5h0m0 0h0m-1 4h0m0-3h0m0 5h0m0-1h0m-1 0h0m0 4h0m-2-1h0m0-6h0m0-1h0m-1 10h0m0-3h0m0-5h0m-1 0h0m0-1h0m-1 7h0m0 1h0m0-8h0m0 4h0m-1 0h0m0 9h0m0 1h0m0-4h0m-1-11h0m0 3h0m0 11h0m0-5h0m0-10h0m-1 8h0m0-5h0m-1 5h0m-1 2h0m0-6h0m0 12h0m0-3h0m0 0h0m0 3h0m-1-10h0m0-2h0m-1 0h0m0 3h0m0-2h0m0 2h0m-1 9h0m0-2h0m-1-12h0m0 5h0m-1-5h0m0 0h0m0 0h0m0 14h0m-1-12h0m0-3h0m-1 0h0m0 11h0m-2-6h0m-1-5h0m0 0h0m-1 8h0m0 1h0m-1-6h0m0-2h0m0-2h0m-1 15h0m0-11h0m0 10h0m-1-2h0m0 2h0m-1-11h0m0-1h0m-1 3h0m0 2h0m0 8h0m-1-8h0m0-1h0m-1-2h0m0 3h0m0 1h0m-1-6h0m0 10h0m-1-3h0m0-9h0m-2 10h0m0-1h0m0-5h0m0 1h0m-1 3h0m0 5h0m0-10h0m-1 13h0m0-6h0m0-9h0m0 0h0m-1 11h0m0-12h0m0 1h0m-1 12h0m0-5h0m0-5h0m0 10h0m-1-5h0m0 4h0m0-1h0m-1-5h0m0-1h0m-1 7h0m0 3h0m-1-3h0m0 4h0m0-16h0m0 0h0m-2 8h0m0-4h0m-1 10h0m0-9h0m-1 2h0m0-1h0m0 3h0m-1 7h0m0-7h0m0-1h0m0 2h0m0 3h0m-1 2h0m0-10h0m0-4h0m0 0h0m0 4h0m0-1h0m-2 0h0m0-2h0m0 10h0m-1 0h0m0-11h0m0 4h0m0 0h0m-1 6h0m0-8h0m-1-3h0m0 7h0m0-6h0m0 3h0m-1 9h0m0-12h0m-1 6h0m0 9h0m0-10h0m0 5h0m0-10h0m0 1h0m-2 11h0m0-6h0m-1 6h0m0 0h0m-1-5h0m0-3h0m0 4h0m-1-2h0m0-4h0m0 0h0m-1 12h0m0-2h0m-1-12h0m1 25h0m0 15h0m1-24h0m0 6h0m1 5h0m1 2h0m2 1h0m2-14h0m0 4h0m1 5h0m1-6h0m0-2h0m0 15h0m2-10h0m0 4h0m2-5h0m1-1h0m0 2h0m0-1h0m0 2h0m0 14h0m1-20h0m0 3h0m0-2h0m0 16h0m1-2h0m0-8h0m0-3h0m1 3h0m0-1h0m0 13h0m1-11h0m0-8h0m0 5h0m1-4h0m0 16h0m0 0h0m0-8h0m0-9h0m0 3h0m1 4h0m1-4h0m0-4h0m1 5h0m2 6h0m1-11h0m0 7h0m1-3h0m1 6h0m0-4h0m0 6h0m1-11h0m1 4h0m0 5h0m2-4h0m0-3h0m0 3h0m2 4h0m0-7h0m0-1h0m3 6h0m0-3h0m0 0h0m1 13h0m1-11h0m0-2h0m0 0h0m1-5h0m0 1h0m0 4h0m0 8h0m0-7h0m0-1h0m1 8h0m0-11h0m1 0h0m0 1h0m0 2h0m1 3h0m0 9h0m1-16h0m0 3h0m0 9h0m0 10h0m1-4h0m1-11h0m0 1h0m0-7h0m0 9h0m1-1h0m1-10h0m0 13h0m0-11h0m0 3h0m1-5h0m0 11h0m0-4h0m1-5h0m0 10h0m0 8h0m2-9h0m1 4h0m0-7h0m1 0h0m1-6h0m0 6h0m1 6h0m1 1h0m1-5h0m0-4h0m1 2h0m0-5h0m1 4h0m0 4h0m1-4h0m0 1h0m1-8h0m1 0h0m0 6h0m0 7h0m1-12h0m0 13h0m1-8h0m0-5h0m0 20h0m2-9h0m0-4h0m1 2h0m0-4h0m1 2h0m0 6h0m0 5h0m1-17h0m1 6h0m0-2h0m1 1h0m1-7h0m0 6h0m1 3h0m1-4h0m0 3h0m1-6h0m0 5h0m1 6h0m1 7h0m1-12h0m1-3h0m0 1h0m1-5h0m0 18h0m1-14h0m0 0h0m0-4h0m1 1h0m1-1h0m1 18h0m1-2h0m1-16h0m0 0h0m1 0h0m1 10h0m0 0h0m0 6h0m1-11h0m0 3h0m1-4h0m1 1h0m0 0h0m1-5h0m0 15h0m0-3h0m2-7h0m1 11h0m0-17h0m1 8h0m0 3h0m0-11h0m0 13h0m1-4h0m0 7h0m0-15h0m1 2h0m0-3h0m1 5h0m1 3h0m0 4h0m0-7h0m1-1h0m1-4h0m1 8h0m1-2h0m1-3h0m1 6h0m0 3h0m1-7h0m1-3h0m0 4h0m3-4h0m0 0h0m0 8h0m1 2h0m1 7h0m1-19h0m0 4h0m1 1h0m0 1h0m0 11h0m0-12h0m1-1h0m1 10h0m0-11h0m1-3h0m0 17h0m1-11h0m0-4h0m0-2h0m0 6h0m1-5h0m0-1h0m1 0h0m0 19h0m1-12h0m0 6h0m1-4h0m1 11h0m0-11h0m0-3h0m0-5h0m1 2h0m1-2h0m0 8h0m0-5h0m1 9h0m0-7h0m0 7h0m0-5h0m0-2h0m0-3h0m1 3h0m0 6h0m1-4h0m0-2h0m1-4h0m0 1h0m0 5h0m0-3h0m0-3h0m0 7h0m0-4h0m1 1h0m1 5h0m1-10h0m0 6h0m1-2h0m0 3h0m1-6h0m0-1h0m0 9h0m0-2h0m0-5h0m1-3h0m1 7h0m0 6h0m1-8h0m1 12h0m1-11h0m0-1h0m0 5h0m0-5h0m1 3h0m0 0h0m0-2h0m2 7h0m1-11h0m0 4h0m0-3h0m1 3h0m0 2h0m0 4h0m0 12h0m1-23h0m0 21h0m1-17h0m1 2h0m0-5h0m1-2h0m0 3h0m2 1h0m2-2h0m0 21h0m1-16h0m1 0h0m0 10h0m0-13h0m0 2h0m0-1h0m1-1h0m0 9h0m1-9h0m1-2h0m0-1h0m0 1h0m0 10h0m0-1h0m0 9h0m1-17h0m0 0h0m0 4h0m1-1h0m1 6h0m0-10h0m0 6h0m0-3h0m0 6h0m2-2h0m1-4h0m0 4h0m0 0h0m0-6h0m0 16h0m1-17h0m1 0h0m1 2h0m1 9h0m0-5h0m2 12h0m2-18h0m1 6h0m0 13h0m1-17h0m0-1h0m1 3h0m0 0h0m0-2h0m0 7h0m1-5h0m0 0h0m0-5h0m1 3h0m1 4h0m0-3h0m0 1h0m0 0h0m1-6h0m0 19h0m0-6h0m0-7h0m1 4h0m2-9h0m0-1h0m1 7h0m-3 30h0m-8-12h0m-8 13h0m-1 7h0m-3-9h0m-6-4h0m-4-2h0m0 18h0m-9-11h0m-1 2h0m-1-1h0m-5 2h0m0 1h0m-4-12h0m-1 12h0m-4 1h0m-3 3h0m-2-20h0m0 2h0m-2 6h0m-7-6h0m-2 7h0m-8-5h0m-4 13h0m-1 6h0m-11-10h0m-8 0h0m-4-2h0m-3-1h0m-1-10h0m0 16h0m-2-10h0m-2-6h0m0 5h0m-4 17h0m-1-17h0m-4 2h0m0 2h0m-5-2h0m-2-3h0m-5-2h0m0 7h0m-1 12h0m-1-20h0m-2-1h0m-2 18h0m-13-7h0m-1-7h0m-3 2h0m-3 14h0m-7-2h0m-1-4h0m-6 9h0m-3 13h0m0-3h0m4 3h0m18 12h0m3-3h0m2-10h0m12 9h0m2-15h0m1 3h0m15 17h0m9-8h0m1-6h0m1-5h0m1 19h0m2-19h0m1 12h0m18-15h0m3 8h0m2-1h0m1 11h0m18-9h0m3 13h0m3-19h0m6 3h0m1 4h0m2-3h0m5-5h0m7 0h0m34 6h0m3 8h0m-14 15h0m-8-2h0m-5 6h0m-14 7h0m-11-16h0m-5 19h0m-14-16h0m0 0h0m-7 10h0m-3-15h0m-30 1h0m-15 0h0m-24 13h0m-3-10h0m-4 11h0m-2-6h0m-23 37h0m2-17h0m1 5h0m4 10h0m7-9h0m4 12h0m6-6h0m0 6h0m3-23h0m20 19h0m12 2h0m14-12h0m0 11h0m11-1h0m4-8h0m6 13h0m15-1h0m32-20h0m2-1h0m3 7h0m9 9h0m3-11h0m11-3h0m2-3h0m0 15h0m-94 22h0m0-13h0m-31 12h0m-11 6h0m0-18h0m-4 6h0m-1 8h0m-3-12h0m-9 21h0m-5-5h0m-14-12h0m-1 7h0m0 20h0m0 0h0m0-6h0m0 18h0m0-6h0m0-8h0m0 10h0m2-13h0m0 16h0m0-14h0m8 2h0m4 11h0m3 5h0m2-14h0m2-1h0m3 11h0m0-1h0m1-9h0m0 8h0m1-3h0m3 4h0m1-12h0m1 18h0m3-2h0m1-11h0m2-4h0m2 9h0m2-5h0m24-3h0m14 15h0m7 23h0m-1-13h0m-10 0h0m-2 16h0m-4-17h0m0 5h0m-2 5h0m-2 6h0m-2 1h0m-3-3h0m-2-10h0m-2 9h0m-1 3h0m-1 1h0m-2-11h0m0-4h0m-1-1h0m-4 14h0m-2-8h0m-1 1h0m0 0h0m-3-9h0m0-2h0m-1-4h0m-1 10h0m-2-9h0m0 18h0m-5 0h0m-1-9h0m0 14h0m-1-12h0m-3 1h0m-2 3h0m-1 1h0m-1 1h0m0-4h0m-1-1h0m0-8h0m-1 9h0m-2-2h0m-1 11h0m0-6h0m-6 4h0m0-13h0m-3 6h0m-3 0h0m-1 8h0m0-15h0m-4 17h0m0-9h0m-1 2h0m0-4h0m0 3h0m0-7h0m0-6h0m0-2h0m0 42h0m0-11h0m0-1h0m0 5h0m0-10h0m2 5h0m0-1h0m2-3h0m0-2h0m13 17h0m1 1h0m4 2h0m1-13h0m0 15h0m8-9h0m1 7h0m1-14h0m0 18h0m1-15h0m1 9h0m1 3h0m0-21h0m1 1h0m1 3h0m0 16h0m1 1h0m1-2h0m2-11h0m1 6h0m0-14h0m0 16h0m1 3h0m1 3h0m0-13h0m1 5h0m0-9h0m0 2h0m1 5h0m3 6h0m0-3h0m0-6h0m2-6h0m0 15h0m0-16h0m1 6h0m1 0h0m0 16h0m0-11h0m3 8h0m0-13h0m0 2h0m1 11h0m0-13h0m0 11h0m5 1h0m4 1h0m1-8h0m0-6h0m1 6h0m1 4h0m2 5h0m3-20h0m5 10h0m1 6h0m7-1h0m3-4h0m2 10h0m0-11h0m5-12h0m1 10h0m5-2h0m6 13h0m0-11h0m11 12h0m20-8h0m-20 19h0m-6 3h0m-1 2h0m-8-3h0m-1 3h0m-7 0h0m-6 5h0m-1 1h0m-1 5h0m0-9h0m0 1h0m0 1h0m-1 1h0m-1 2h0m0-6h0m-2 7h0m-1-8h0m-4-4h0m-1 5h0m-1 2h0m-2-2h0m0 2h0m-1-14h0m-1 13h0m-1 9h0m0-10h0m-1 3h0m0 6h0m-3-15h0m-2-7h0m0 21h0m-2-19h0m-2 18h0m0-2h0m-4-5h0m-3-12h0m-2 17h0m-3 3h0m-1-6h0m-3 0h0m-1-12h0m-1 16h0m-3-13h0m-1-5h0m-3 9h0m-1-7h0m0 13h0m-1-14h0m0 20h0m-2-21h0m-3 1h0m-5-2h0m-2 11h0m-1 5h0m-12 0h0m0-17h0m-1 19h0m0-13h0m-3 17h0m-2-8h0m-5-1h0m-1-9h0m0 0h0m20 39h0m24-18h0m3 20h0m1 2h0m1-8h0m3-11h0m3-1h0m1 8h0m2-9h0m2 8h0m1-9h0m3 16h0m1-12h0m0 4h0m0 12h0m1-5h0m1-3h0m1 1h0m1 2h0m0-2h0m3-6h0m1 1h0m1 10h0m2-3h0m2-1h0m1 4h0m2-15h0m3 4h0m2 0h0m3 0h0m0 12h0m1-3h0m0-15h0m3 8h0m4 8h0m2-18h0m2 11h0m0 0h0m4 1h0m0-3h0m1 10h0m1-17h0m3 19h0m2-20h0m3 17h0m1 6h0m1-1h0m1-7h0m4-4h0m11 0h0m1 1h0m1 7h0m4-4h0m18-1h0m3 6h0m15-4h0m4 18h0m-14 13h0m-8 1h0m-5-15h0m-1-3h0m-5-3h0m-14 8h0m0 8h0m-2-14h0m-3 6h0m-1 6h0m-1-13h0m0 18h0m-2-7h0m-2-10h0m-2 4h0m-1 7h0m-2 6h0m0-13h0m-2-2h0m-1 17h0m-5-16h0m0-2h0m-1-2h0m-3-2h0m-2 2h0m-3 8h0m0-12h0m-1 8h0m-2 12h0m-1 1h0m-7 0h0m-5-2h0m-2-8h0m-2 0h0m-4-11h0m-6 6h0m-7-2h0m-6 12h0m-11 0h0m-12 6h0m-13-12h0m-6 21h0m11 13h0m9-15h0m26 0h0m10 6h0m7-7h0m5-3h0m1 23h0m3-21h0m1 2h0m2 1h0m2-5h0m19 10h0m0 1h0m2-6h0m3-4h0m2 10h0m5 7h0m1-16h0m5 22h0m0-19h0m10 12h0m3-17h0m1 7h0m6 15h0m16-20h0m17 23h0m-10 2h0m-23 17h0m-11-14h0m-7-2h0m-22 2h0m-6 4h0m-2 2h0m-11-5h0m-14 4h0m-13 1h0" fill="none" stroke="#737373" stroke-width="6.2" stroke-linecap="round"/>
<path transform="scale(0.2)" d="M2662 2461h0m259 22h0m-140 6h0m-6-14h0m-6 22h0m-36-19h0m-22 4h0m-8-2h0m-43 0h0m-2 17h0m9 3h0m63 10h0m26-5h0m11-4h0m0 6h0m8-6h0m185 24h0m-313 15h0m-9 53h0m430 150h0m-33-15h0m-19 20h0m-43-15h0m-17 15h0m-2-6h0m-37 4h0m-28-2h0m-12 4h0m-40-14h0m-44-1h0m-54 11h0m-36-11h0m-11 15h0m-18 1h0m-43-9h0m12 13h0m8 4h0m6 14h0m7-17h0m6 8h0m10-3h0m6 8h0m7-9h0m2 11h0m14-11h0m1-4h0m21 19h0m3-5h0m38-2h0m7 7h0m27-13h0m18 11h0m32-2h0m4-15h0m6 17h0m22-12h0m7-5h0m53 8h0m37-1h0m1 6h0m4 6h0m1-1h0m6-5h0m1 2h0m2-14h0m4-4h0m24 16h0m4-7h0m6 12h0m16 1h0m9-4h0m12-9h0m57-5h0m-53 24h0m-1 13h0m-4 4h0m-3-6h0m-2 9h0m-5-9h0m-2 7h0m-4-6h0m-1-8h0m-5 10h0m-4-6h0m-2-1h0m-6 5h0m-2 8h0m-5-23h0m-1 19h0m-6-17h0m-8 14h0m-5 2h0m-3-13h0m-3 17h0m-9-14h0m-1 4h0m-11 0h0m-2-9h0m-9 1h0m-2 16h0m-1-12h0m-6-2h0m-15 12h0m-14-7h0m-16-9h0m-5 14h0m-12-2h0m-15-15h0m-9 17h0m-2-11h0m-6 8h0m-17-8h0m-2 8h0m-3-5h0m-9 1h0m-1-1h0m-3 12h0m-2-5h0m0-7h0m-3 1h0m-6-9h0m-13 11h0m-6-5h0m-1 11h0m0-11h0m-1 3h0m-1 5h0m-1 9h0m-1-21h0m-1 15h0m-6-9h0m-1 8h0m-2 6h0m-4-14h0m-1-2h0m-6-3h0m-1 12h0m-2 4h0m-1-13h0m0 12h0m-1-1h0m-2-7h0m-9-6h0m0 7h0m-2 6h0m-1 2h0m0 1h0m-3-15h0m-2 11h0m-1-13h0m-2 20h0m0-12h0m-5-2h0m0-10h0m-4 6h0m-3 17h0m-1-2h0m-2-3h0m-1 3h0m-1-6h0m-12 7h0m-3-3h0m0-6h0m-3 0h0m0-1h0m-4 11h0m-5-19h0m-1 19h0m-3-12h0m-3-1h0m-11 10h0m-1-4h0m0 5h0m-2-8h0m0 9h0m-12-15h0m-2 14h0m-2-1h0m-1 1h0m-2-8h0m-1 11h0m-1-6h0m-2 1h0m-3-12h0m-4 8h0m-6-6h0m0-3h0m-4 17h0m-1-4h0m-2-17h0m-1 20h0m-1-13h0m-1 9h0m-1 2h0m-2-2h0m-6 5h0m-1 0h0m-4-2h0m-1 3h0m-4-9h0m-4-1h0m-1 12h0m0-1h0m2 2h0m1 5h0m2 7h0m0 3h0m1-10h0m1 3h0m0 1h0m1-9h0m0 10h0m1 11h0m1-9h0m1 2h0m0 7h0m6-8h0m0 2h0m1-13h0m2-2h0m1 22h0m2-1h0m0-7h0m4-14h0m0 19h0m0-10h0m2-1h0m0 11h0m0-20h0m2 22h0m2 1h0m1-12h0m0-8h0m1 16h0m2 3h0m1-10h0m1-1h0m0 9h0m1-2h0m8 5h0m2-8h0m4-13h0m1 1h0m0 6h0m3 0h0m3-1h0m0 4h0m1-12h0m3 15h0m2 1h0m1-3h0m2-7h0m0 17h0m1-12h0m0-10h0m1 17h0m1 5h0m1-4h0m1-18h0m0 18h0m1-17h0m2 5h0m0 9h0m1-6h0m3-8h0m1-3h0m0 5h0m0 11h0m0-9h0m1 8h0m1 1h0m0 7h0m1-15h0m0 4h0m0-8h0m3 0h0m1 13h0m1 3h0m1-18h0m0 17h0m1 0h0m0-1h0m2-16h0m0 20h0m2-15h0m0 1h0m2 3h0m1 13h0m0-24h0m1 2h0m1 19h0m1-12h0m1 4h0m4-9h0m1 3h0m0 10h0m1-5h0m1 2h0m0 6h0m2 3h0m3-19h0m2 8h0m1 5h0m1-14h0m2 15h0m1-18h0m1 11h0m0-8h0m1 11h0m0 2h0m2-15h0m1 3h0m1 12h0m1-7h0m0 2h0m1 0h0m1 7h0m1-7h0m0 5h0m0-12h0m0 16h0m0-3h0m2-2h0m0 9h0m0-15h0m2 10h0m0-16h0m3 19h0m1-2h0m1-15h0m1 5h0m1-2h0m1 3h0m0-7h0m0 12h0m1 6h0m1-4h0m1 5h0m0-17h0m1 3h0m1 11h0m1-16h0m0 6h0m1-6h0m0 5h0m0 12h0m1-2h0m3 0h0m1 5h0m1 0h0m0-4h0m3-14h0m0 10h0m0-3h0m4-8h0m1 10h0m0 2h0m1-14h0m4-1h0m0 22h0m1-5h0m0-15h0m1 12h0m0 6h0m1 0h0m1-16h0m2-3h0m2 11h0m0-8h0m0 3h0m1-5h0m0 18h0m2-9h0m1-7h0m0 2h0m0 8h0m1-15h0m1 12h0m1-5h0m0 7h0m2 8h0m1 0h0m1 0h0m1-9h0m0-5h0m0-2h0m0 3h0m0 11h0m2-16h0m8-3h0m0 13h0m4 0h0m1-1h0m2 4h0m4 5h0m3 1h0m4-17h0m11 11h0m4 1h0m6-11h0m1-6h0m6 15h0m0-7h0m5 0h0m1-4h0m6 2h0m3-1h0m4 3h0m12 0h0m6 2h0m0 3h0m2-15h0m1 13h0m2 0h0m15 10h0m0 1h0m27-13h0m2 8h0m2-15h0m0-4h0m4 6h0m2 5h0m1 13h0m9-22h0m1 3h0m6 10h0m0 6h0m2-9h0m2-7h0m9 14h0m21 5h0m4-9h0m10 9h0m5-16h0m8-4h0m3 12h0m1-9h0m1-3h0m1 3h0m8 15h0m18-13h0m4-6h0m2 8h0m7-5h0m55 10h0m-53 12h0m-10 21h0m-2-15h0m-1-6h0m-7 18h0m-1-7h0m0-2h0m-2 12h0m-8-14h0m-2 5h0m-9-9h0m-11 0h0m-2 7h0m-7-1h0m-3 10h0m-14-8h0m-2-3h0m-6-9h0m-4 8h0m-9 5h0m-4 9h0m-13-3h0m-11-2h0m-3-1h0m-2-3h0m-13 7h0m-7-1h0m-1 3h0m0-3h0m-2 2h0m-7-21h0m-14 4h0m-3-2h0m-5 12h0m-1 0h0m-6 5h0m-11-4h0m-1 5h0m-7-3h0m-3-5h0m-13-9h0m-1 19h0m-2-3h0m-5-1h0m-16-2h0m-2 2h0m-6 4h0m-10-21h0m-4 21h0m0-7h0m-2-2h0m-1 9h0m0-7h0m0 7h0m-1-18h0m0 18h0m0 0h0m-1-21h0m-1-3h0m-2 17h0m-1-16h0m-4 22h0m-1-11h0m0-9h0m-1 13h0m-4 8h0m0-20h0m-1-3h0m0 7h0m0 12h0m-2 2h0m-2-20h0m0 22h0m0-8h0m-1-14h0m-1 11h0m-1-6h0m0 17h0m-2-9h0m-1-2h0m-1-11h0m0 19h0m0-3h0m-2 5h0m-1-20h0m-1 1h0m-3-3h0m-1 21h0m-1-16h0m-1 11h0m0 5h0m-4-16h0m0 13h0m-1-3h0m0-4h0m-4 2h0m0-6h0m-2 0h0m0 11h0m0-17h0m-1 18h0m0-16h0m-2 18h0m0-14h0m-1 4h0m0 0h0m0 3h0m-1-15h0m0 7h0m0 13h0m-2-17h0m0 15h0m0 0h0m-1-14h0m-1 11h0m-1-10h0m-1 1h0m-1-4h0m-1 7h0m0-7h0m0 7h0m0 12h0m-1-9h0m0 5h0m-2-8h0m-1-7h0m-1 8h0m0 8h0m0-16h0m-1 5h0m-2 4h0m-2 2h0m0-7h0m-2-1h0m-1 1h0m0 14h0m-1-10h0m0 11h0m0-3h0m-1-10h0m0 0h0m0 10h0m-1-8h0m-1-3h0m-2 4h0m0-4h0m-3 9h0m-2-10h0m0-1h0m0 17h0m-1 1h0m-1-17h0m-2 9h0m0-7h0m0 15h0m-1-1h0m0-21h0m0 22h0m0-14h0m-1 0h0m-2 6h0m0-4h0m-1 8h0m-1-14h0m0 8h0m-1-4h0m-1 14h0m-1 0h0m-2 0h0m0-15h0m-1 5h0m-1 3h0m0 8h0m0-11h0m-2 6h0m-1-4h0m0-3h0m-4-11h0m-2 13h0m-1 2h0m0 5h0m-2-1h0m-3-11h0m0 7h0m-1-2h0m0 7h0m-3-21h0m0 21h0m0 0h0m-1 3h0m0-24h0m-1 4h0m-1-4h0m0 17h0m-1-15h0m0 14h0m-1 0h0m0-11h0m-1 9h0m0 6h0m-2-15h0m-1 17h0m0-20h0m-1 0h0m-1 2h0m0 1h0m-1 12h0m-3 2h0m-1-2h0m0 0h0m0-6h0m0 0h0m-1 8h0m0-19h0m0 9h0m-1-5h0m-1 17h0m0-20h0m-4 13h0m0-12h0m-1 22h0m0-13h0m-1 6h0m-2-16h0m-1 15h0m0-1h0m0-2h0m-1 8h0m0-6h0m-2 2h0m-2 1h0m-2-14h0m0 16h0m0-2h0m-1-4h0m0-7h0m0 2h0m-1 14h0m-1-1h0m0-16h0m0 18h0m0-16h0m-1-1h0m-1 11h0m-1-10h0m0 0h0m0-3h0m-1 15h0m0 2h0m-2 1h0m0-5h0m0-1h0m-1 2h0m0-15h0m-1 8h0m0 6h0m0-15h0m0 10h0m-2 8h0m-1 2h0m-1-4h0m0-4h0m0 0h0m-1-6h0m0-3h0m-1-6h0m-1 5h0m-1 19h0m-1-5h0m-3-9h0m-1 5h0m0 5h0m-2-5h0m0 5h0m-2-4h0m-1-3h0m-1 7h0m0-4h0m-2-14h0m-1 5h0m0 5h0m0 11h0m1 4h0m1 6h0m5-3h0m1 3h0m1-2h0m4 0h0m2-6h0m1 7h0m0-4h0m3 3h0m1 1h0m0-7h0m1 4h0m1 1h0m1-5h0m1 6h0m1-1h0m0-5h0m0 2h0m4 6h0m3-4h0m2 4h0m1-1h0m1-7h0m0 3h0m1 5h0m1-2h0m2 2h0m1-1h0m0-3h0m7 3h0m2 0h0m1-7h0m5 5h0m2 0h0m5-3h0m0 0h0m1 3h0m0 0h0m1-4h0m2 1h0m4 3h0m0-3h0m1 1h0m1 0h0m3 2h0m1 1h0m1-2h0m0-3h0m1 3h0m4-1h0m0 1h0m1-2h0m0-2h0m1 3h0m0-3h0m0 2h0m4 4h0m0-3h0m1-3h0m1 6h0m0-4h0m5 5h0m1-6h0m1 5h0m0 0h0m1-6h0m2 4h0m1 4h0m1 0h0m3-4h0m0 1h0m5 3h0m2-4h0m1 3h0m1-6h0m1 6h0m0-1h0m2-3h0m0 5h0m1-8h0m1 7h0m1 1h0m4 0h0m1 0h0m1-7h0m1 2h0m0 0h0m2 5h0m2-2h0m1-6h0m1 6h0m1-3h0m0 1h0m3 2h0m2 0h0m0 0h0m1-5h0m1 0h0m0 6h0m0-7h0m2 6h0m1 1h0m1-6h0m0 3h0m3 3h0m0-3h0m0 4h0m3-4h0m0 2h0m0-1h0m5 3h0m4-4h0m0 2h0m2 1h0m0-1h0m0-2h0m2 3h0m2-5h0m1 2h0m1 2h0m1 2h0m0-3h0m0 0h0m1 3h0m0-1h0m2-2h0m1-3h0m0 5h0m2-5h0m0 5h0m0-1h0m2-1h0m0 3h0m0-5h0m1 5h0m1-3h0m0-2h0m2-2h0m1 4h0m0 3h0m3-5h0m4-3h0m1 7h0m0-5h0m1 5h0m2 1h0m10-3h0m2-1h0m20-2h0m12 3h0m15-3h0m3 4h0m11 0h0m3-1h0m19-3h0m5 1h0m6-3h0m1 3h0m2 2h0m3-2h0m7 3h0m5 0h0m9-1h0m6-5h0m1 1h0m12 3h0m3 1h0m3 1h0m10-4h0m6 1h0m3 3h0m1-6h0m1 2h0m4 4h0m13-2h0m2 2h0m31-4h0m9 2h0m0 0h0m27-3h0m7 5h0" fill="none" stroke="#ff0000" stroke-width="7.8" stroke-linecap="round"/>
<path transform="scale(0.2)" d="M3160 2899h0m-55-10h0m-12 1h0m-5-3h0m-8 5h0m-11-1h0m-15 6h0m-2-5h0m-10-5h0m-4 10h0m-2-7h0m-11 4h0m-1-1h0m-7-2h0m-3-2h0m-1 9h0m-6 1h0m-3 0h0m-1-4h0m-1 2h0m0-6h0m-1-2h0m-5 1h0m-6 0h0m-2 0h0m0 7h0m-19-10h0m-3 4h0m-10-1h0m-3 1h0m-7 0h0m-12 8h0m-7-2h0m-7-7h0m-5 4h0m-3-5h0m-8 1h0m-1-1h0m-9 3h0m-19-4h0m-3 7h0m-6-2h0m-4 3h0m-6-5h0m-7 3h0m-19 5h0m0-2h0m-1-9h0m0 7h0m-4-1h0m-2-5h0m0 6h0m-3 0h0m-1 2h0m0-4h0m-1 2h0m-2 0h0m-1-2h0m-2 0h0m0-6h0m0 12h0m-1-9h0m0 0h0m0 4h0m-1 1h0m0-8h0m0 8h0m-1 3h0m0 0h0m-2 1h0m-1-9h0m-3 0h0m-1 7h0m-1 2h0m-1-9h0m-4-1h0m-1 0h0m-2 10h0m-1-3h0m-4-5h0m-2 7h0m-1 0h0m-2-5h0m-2 5h0m0-6h0m-1 2h0m-1-3h0m0-3h0m0 5h0m0 2h0m-2-8h0m-1 2h0m-1 0h0m0 0h0m-2 6h0m-1-4h0m0 2h0m-1-4h0m-1-1h0m0 1h0m-2-2h0m-3 8h0m-3-2h0m0 2h0m-2-3h0m-6 4h0m-2-3h0m-1 0h0m-1-6h0m0 2h0m0 2h0m-3-4h0m-1 7h0m0-3h0m0 2h0m-1-3h0m-2 9h0m-1-11h0m0 1h0m-2-2h0m0 2h0m-2 5h0m0 3h0m0-4h0m-1-3h0m-1 8h0m0-1h0m0-10h0m-1 6h0m-1-4h0m-1 0h0m0 6h0m0-5h0m-3-3h0m-1 7h0m0-1h0m0 3h0m0-8h0m0 8h0m-1-5h0m0 4h0m-3-4h0m-2 7h0m-5-10h0m0 4h0m-2 5h0m-4-4h0m-2 4h0m-1 1h0m0-11h0m-2 0h0m-1 12h0m-2-12h0m-1 0h0m-1 4h0m0-1h0m-1 0h0m0 2h0m-1-2h0m0-2h0m-1 4h0m-1 1h0m-1 3h0m-1-8h0m-1 3h0m0 8h0m0-2h0m-1-10h0m0 5h0m0 7h0m-1-3h0m-1 1h0m-2-4h0m-1-1h0m-3 0h0m0-4h0m-1 4h0m-2 3h0m-1 1h0m-1 0h0m0-8h0m0 9h0m-1-2h0m0 0h0m0 0h0m-1 0h0m0 3h0m0-4h0m0-3h0m-1 5h0m0-5h0m0 6h0m-1-6h0m0-2h0m-2 1h0m-5 1h0m-1 2h0m-1 3h0m-1-5h0m-1-4h0m0 9h0m-2-2h0m0 3h0m-1-6h0m-3-3h0m-1 3h0m0 8h0m-1-4h0m0-4h0m-5 6h0m-3 0h0m-3-1h0m-1-2h0m-2-7h0m0 0h0m0 2h0m-1-2h0m-1 11h0m0-6h0m-1 7h0m0-1h0m-1-9h0m-1-1h0m-1 6h0m0-1h0m0-3h0m-2 9h0m0-10h0m0-1h0m0 3h0m-2-2h0m0-1h0m-1 9h0m-1-3h0m0-7h0m0 6h0m-1 4h0m0-4h0m0 2h0m-2-3h0m0 1h0m0 5h0m-1-5h0m-1-3h0m-1 6h0m0-1h0m-2-5h0m-2 4h0m0 4h0m-1-7h0m-3 17h0m2-2h0m1-6h0m2 21h0m0-19h0m0 1h0m2-1h0m1 4h0m0 1h0m1-7h0m0 14h0m0 1h0m2 8h0m1-17h0m0-6h0m0 2h0m0 14h0m0-16h0m1 18h0m0-17h0m1-1h0m0 21h0m2-14h0m0-4h0m1 13h0m0-13h0m1-2h0m0 15h0m1 1h0m0-17h0m2 12h0m3 5h0m1-6h0m0-2h0m1 3h0m1-6h0m0-1h0m2 13h0m1-13h0m1 14h0m0-12h0m1 10h0m3 1h0m0-6h0m1-7h0m1-3h0m0 4h0m0-1h0m1 5h0m0 1h0m1 2h0m1-7h0m0 8h0m2-12h0m0 0h0m4 3h0m1 16h0m2-13h0m3 10h0m0-16h0m1 7h0m0 15h0m2-11h0m0 10h0m1-20h0m0-1h0m1 8h0m0 1h0m2-11h0m3 7h0m1 0h0m0-3h0m0-4h0m2 1h0m1 6h0m0 9h0m1-7h0m1 6h0m0 5h0m1-7h0m2 8h0m1-20h0m0 11h0m2-5h0m1-5h0m0 0h0m1 4h0m0-5h0m1-1h0m0 11h0m2 4h0m1-13h0m1 4h0m3-2h0m1 6h0m2-4h0m4-2h0m2-1h0m1 3h0m1-4h0m1 12h0m0-11h0m1 11h0m1 3h0m0-12h0m0-3h0m0 8h0m0-2h0m1 2h0m0 0h0m0 0h0m0-5h0m1-2h0m1 8h0m2-11h0m0 3h0m0-2h0m1 7h0m1 2h0m1 9h0m0-7h0m0 6h0m0-16h0m0 13h0m1 9h0m1-18h0m0-1h0m1 2h0m1 0h0m1 4h0m1-7h0m1 6h0m1 2h0m0 9h0m1-18h0m0 15h0m0-17h0m1 11h0m0-9h0m0 1h0m0-2h0m1 3h0m1-3h0m1 1h0m1-1h0m2 9h0m0-6h0m1-3h0m1 16h0m4-15h0m1 7h0m0 3h0m0-12h0m1-1h0m3 1h0m2-1h0m0 21h0m2-13h0m1 6h0m1-8h0m0-5h0m2 9h0m2 5h0m1-12h0m1 8h0m0-2h0m1 9h0m1 6h0m0-11h0m2 5h0m2-10h0m1 0h0m1-3h0m0-1h0m0-1h0m1 7h0m0 9h0m1-6h0m0 10h0m1-16h0m0 8h0m1-13h0m0 5h0m1-7h0m0 14h0m0-4h0m0-9h0m0 14h0m1-12h0m1 9h0m0-10h0m1-2h0m1 11h0m2 11h0m1-8h0m0-10h0m1 14h0m0 1h0m2-19h0m0 8h0m1-7h0m0 7h0m0-5h0m1 5h0m0 5h0m1-12h0m0 3h0m1 10h0m5-12h0m0 4h0m1 1h0m2 5h0m2-4h0m2-5h0m0 3h0m1 2h0m2 0h0m0 1h0m0-6h0m2 0h0m0 13h0m1-8h0m0 4h0m1-4h0m0 1h0m0-9h0m1 11h0m0-6h0m2 3h0m0-4h0m1 12h0m0-4h0m1-2h0m1-9h0m0 6h0m2 4h0m0 5h0m0-2h0m1-14h0m1 1h0m0 1h0m1 0h0m0 16h0m0-15h0m3 13h0m0-16h0m1 11h0m1-2h0m2-9h0m0 20h0m1-15h0m2-5h0m1 4h0m1-2h0m15 11h0m3-1h0m9 12h0m6-13h0m8 3h0m6-1h0m1-9h0m4 5h0m3 10h0m2-17h0m0 4h0m8 15h0m10-6h0m3-13h0m10 11h0m4-7h0m3 3h0m8 12h0m3-16h0m1-4h0m4 16h0m3 3h0m2-2h0m5 3h0m0 1h0m2-20h0m2 15h0m2 1h0m3 1h0m8-16h0m12 4h0m4 2h0m13-8h0m2 12h0m3-6h0m9 2h0m12-5h0m1 11h0m7-5h0m0-2h0m0-1h0m3-4h0m2 9h0m5 2h0m4-12h0m16 16h0m3-7h0m1 8h0m0-3h0m4-9h0m6 10h0m1-10h0m12-2h0m2 9h0m1-1h0m2-6h0m1-1h0m1 5h0m0 6h0m17 6h0m83 11h0m-21-4h0m-72 8h0m-15-7h0m-25-1h0m-3-2h0m-20-1h0m-8-1h0m-8 2h0m-13 0h0m-20 6h0m-12-6h0m-19 2h0m-19 0h0m-10-5h0m-25 9h0m-59-9h0m-61 0h0m-1 4h0m-9 5h0m-32-6h0m-8 3h0m-10-1h0m-15 6h0m-45-8h0m-22-1h0m226 44h0m-59 15h0m-156 34h0m127 229h0m-107-23h0m-49 4h0" fill="none" stroke="#0000ff" stroke-width="7.8" stroke-linecap="round"/>
<circle cx="597.10" cy="485.20" r="2.3" fill="#990000" stroke="none" stroke-width="0"/>
<circle cx="539.40" cy="495.60" r="2.3" fill="#990000" stroke="none" stroke-width="0"/>
<circle cx="540.50" cy="548.50" r="2.3" fill="#990000" stroke="none" stroke-width="0"/>
<circle cx="545.00" cy="546.60" r="2.3" fill="#990000" stroke="none" stroke-width="0"/>
<circle cx="541.20" cy="553.30" r="2.3" fill="#990000" stroke="none" stroke-width="0"/>
<circle cx="559.10" cy="551.50" r="2.3" fill="#990000" stroke="none" stroke-width="0"/>
<circle cx="560.20" cy="554.10" r="2.3" fill="#990000" stroke="none" stroke-width="0"/>
<circle cx="587.80" cy="553.30" r="2.3" fill="#990000" stroke="none" stroke-width="0"/>
<circle cx="593.40" cy="547.70" r="2.3" fill="#990000" stroke="none" stroke-width="0"/>
<circle cx="616.50" cy="553.00" r="2.3" fill="#990000" stroke="none" stroke-width="0"/>
<circle cx="620.60" cy="554.80" r="2.3" fill="#990000" stroke="none" stroke-width="0"/>
<circle cx="625.80" cy="557.80" r="2.3" fill="#990000" stroke="none" stroke-width="0"/>
<circle cx="632.50" cy="552.20" r="2.3" fill="#990000" stroke="none" stroke-width="0"/>
<circle cx="558.00" cy="561.50" r="2.3" fill="#990000" stroke="none" stroke-width="0"/>
<circle cx="543.40" cy="553.80" r="2.3" fill="#990000" stroke="none" stroke-width="0"/>
<circle cx="537.50" cy="590.60" r="2.3" fill="#2dd4dc" stroke="none" stroke-width="0"/>
<circle cx="546.80" cy="590.60" r="2.3" fill="#2dd4dc" stroke="none" stroke-width="0"/>
<circle cx="548.70" cy="590.60" r="2.3" fill="#2dd4dc" stroke="none" stroke-width="0"/>
<circle cx="558.00" cy="589.50" r="2.3" fill="#2dd4dc" stroke="none" stroke-width="0"/>
<circle cx="587.80" cy="589.50" r="2.3" fill="#2dd4dc" stroke="none" stroke-width="0"/>
<circle cx="597.10" cy="590.60" r="2.3" fill="#2dd4dc" stroke="none" stroke-width="0"/>
<circle cx="610.10" cy="588.30" r="2.3" fill="#2dd4dc" stroke="none" stroke-width="0"/>
<circle cx="626.20" cy="587.60" r="2.3" fill="#2dd4dc" stroke="none" stroke-width="0"/>
<text x="600.50" y="486.80" font-size="4.6" text-anchor="start" fill="#383838">AU021092</text>
<text x="542.80" y="497.20" font-size="4.6" text-anchor="start" fill="#383838">Ace2</text>
<text x="532.50" y="545.30" font-size="4.6" text-anchor="start" fill="#383838">Col1a2</text>
<text x="544.00" y="542.20" font-size="4.6" text-anchor="start" fill="#383838">Sfrp4</text>
<text x="561.70" y="548.10" font-size="4.6" text-anchor="start" fill="#383838">Col6a2</text>
<text x="563.60" y="555.30" font-size="4.6" text-anchor="start" fill="#383838">Tgfbi</text>
<text x="579.80" y="549.70" font-size="4.6" text-anchor="start" fill="#383838">Col1a1</text>
<text x="596.80" y="549.30" font-size="4.6" text-anchor="start" fill="#383838">Slco1a4</text>
<text x="617.50" y="549.40" font-size="4.6" text-anchor="start" fill="#383838">Lox1</text>
<text x="612.60" y="561.40" font-size="4.6" text-anchor="start" fill="#383838">Stil2</text>
<text x="629.20" y="562.40" font-size="4.6" text-anchor="start" fill="#383838">Col4a1</text>
<text x="635.90" y="553.80" font-size="4.6" text-anchor="start" fill="#383838">Aqp1</text>
<text x="560.00" y="567.90" font-size="4.6" text-anchor="start" fill="#383838">Vegfa</text>
<text x="545.40" y="558.80" font-size="4.6" text-anchor="start" fill="#383838">Lamc</text>
<text x="535.50" y="597.00" font-size="4.6" text-anchor="start" fill="#383838">Lad1</text>
<text x="544.80" y="597.40" font-size="4.6" text-anchor="start" fill="#383838">Gpr17</text>
<text x="560.60" y="593.90" font-size="4.6" text-anchor="start" fill="#383838">Nes4</text>
<text x="585.80" y="597.50" font-size="4.6" text-anchor="start" fill="#383838">Mt2</text>
<text x="600.50" y="592.20" font-size="4.6" text-anchor="start" fill="#383838">Mt1</text>
<text x="613.50" y="591.70" font-size="4.6" text-anchor="start" fill="#383838">Olig1</text>
<text x="629.60" y="589.20" font-size="4.6" text-anchor="start" fill="#383838">Olig2</text>
<line x1="486.60" y1="481.00" x2="486.60" y2="669.00" stroke="#222" stroke-width="1.6"/>
<line x1="484.80" y1="482.86" x2="486.60" y2="482.86" stroke="#222" stroke-width="1.2"/>
<text x="484.60" y="485.56" font-size="7.4" font-weight="bold" text-anchor="end" fill="#111">12</text>
<line x1="484.80" y1="498.10" x2="486.60" y2="498.10" stroke="#222" stroke-width="1.2"/>
<text x="484.60" y="500.80" font-size="7.4" font-weight="bold" text-anchor="end" fill="#111">10</text>
<line x1="484.80" y1="513.34" x2="486.60" y2="513.34" stroke="#222" stroke-width="1.2"/>
<text x="484.60" y="516.04" font-size="7.4" font-weight="bold" text-anchor="end" fill="#111">8</text>
<line x1="484.80" y1="528.58" x2="486.60" y2="528.58" stroke="#222" stroke-width="1.2"/>
<text x="484.60" y="531.28" font-size="7.4" font-weight="bold" text-anchor="end" fill="#111">6</text>
<line x1="484.80" y1="543.82" x2="486.60" y2="543.82" stroke="#222" stroke-width="1.2"/>
<text x="484.60" y="546.52" font-size="7.4" font-weight="bold" text-anchor="end" fill="#111">4</text>
<line x1="484.80" y1="559.06" x2="486.60" y2="559.06" stroke="#222" stroke-width="1.2"/>
<text x="484.60" y="561.76" font-size="7.4" font-weight="bold" text-anchor="end" fill="#111">2</text>
<line x1="484.80" y1="574.30" x2="486.60" y2="574.30" stroke="#222" stroke-width="1.2"/>
<text x="484.60" y="577.00" font-size="7.4" font-weight="bold" text-anchor="end" fill="#111">0</text>
<line x1="484.80" y1="589.54" x2="486.60" y2="589.54" stroke="#222" stroke-width="1.2"/>
<text x="484.60" y="592.24" font-size="7.4" font-weight="bold" text-anchor="end" fill="#111">-2</text>
<line x1="484.80" y1="604.78" x2="486.60" y2="604.78" stroke="#222" stroke-width="1.2"/>
<text x="484.60" y="607.48" font-size="7.4" font-weight="bold" text-anchor="end" fill="#111">-4</text>
<line x1="484.80" y1="620.02" x2="486.60" y2="620.02" stroke="#222" stroke-width="1.2"/>
<text x="484.60" y="622.72" font-size="7.4" font-weight="bold" text-anchor="end" fill="#111">-6</text>
<line x1="484.80" y1="635.26" x2="486.60" y2="635.26" stroke="#222" stroke-width="1.2"/>
<text x="484.60" y="637.96" font-size="7.4" font-weight="bold" text-anchor="end" fill="#111">-8</text>
<line x1="484.80" y1="650.50" x2="486.60" y2="650.50" stroke="#222" stroke-width="1.2"/>
<text x="484.60" y="653.20" font-size="7.4" font-weight="bold" text-anchor="end" fill="#111">-10</text>
<line x1="484.80" y1="665.74" x2="486.60" y2="665.74" stroke="#222" stroke-width="1.2"/>
<text x="484.60" y="668.44" font-size="7.4" font-weight="bold" text-anchor="end" fill="#111">-12</text>
<line x1="486.60" y1="574.30" x2="672.30" y2="574.30" stroke="#111" stroke-width="1.5"/>
<line x1="523.60" y1="574.30" x2="523.60" y2="577.30" stroke="#111" stroke-width="1.3"/>
<line x1="562.70" y1="574.30" x2="562.70" y2="577.30" stroke="#111" stroke-width="1.3"/>
<line x1="601.80" y1="574.30" x2="601.80" y2="577.30" stroke="#111" stroke-width="1.3"/>
<line x1="640.90" y1="574.30" x2="640.90" y2="577.30" stroke="#111" stroke-width="1.3"/>
<text x="670.60" y="604.3" font-size="9.0" font-weight="bold" text-anchor="end" fill="#111">-log<tspan font-size="6.2" dy="2.2">10</tspan><tspan dy="-2.2">(FDR)</tspan></text>
<text transform="translate(473.20 572.2) rotate(-90)" font-size="8.8" font-weight="bold" text-anchor="middle" fill="#111">DEG (Log<tspan font-size="6" dy="2.0">2</tspan><tspan dy="-2.0">FC)</tspan></text>
</svg></body></html>
